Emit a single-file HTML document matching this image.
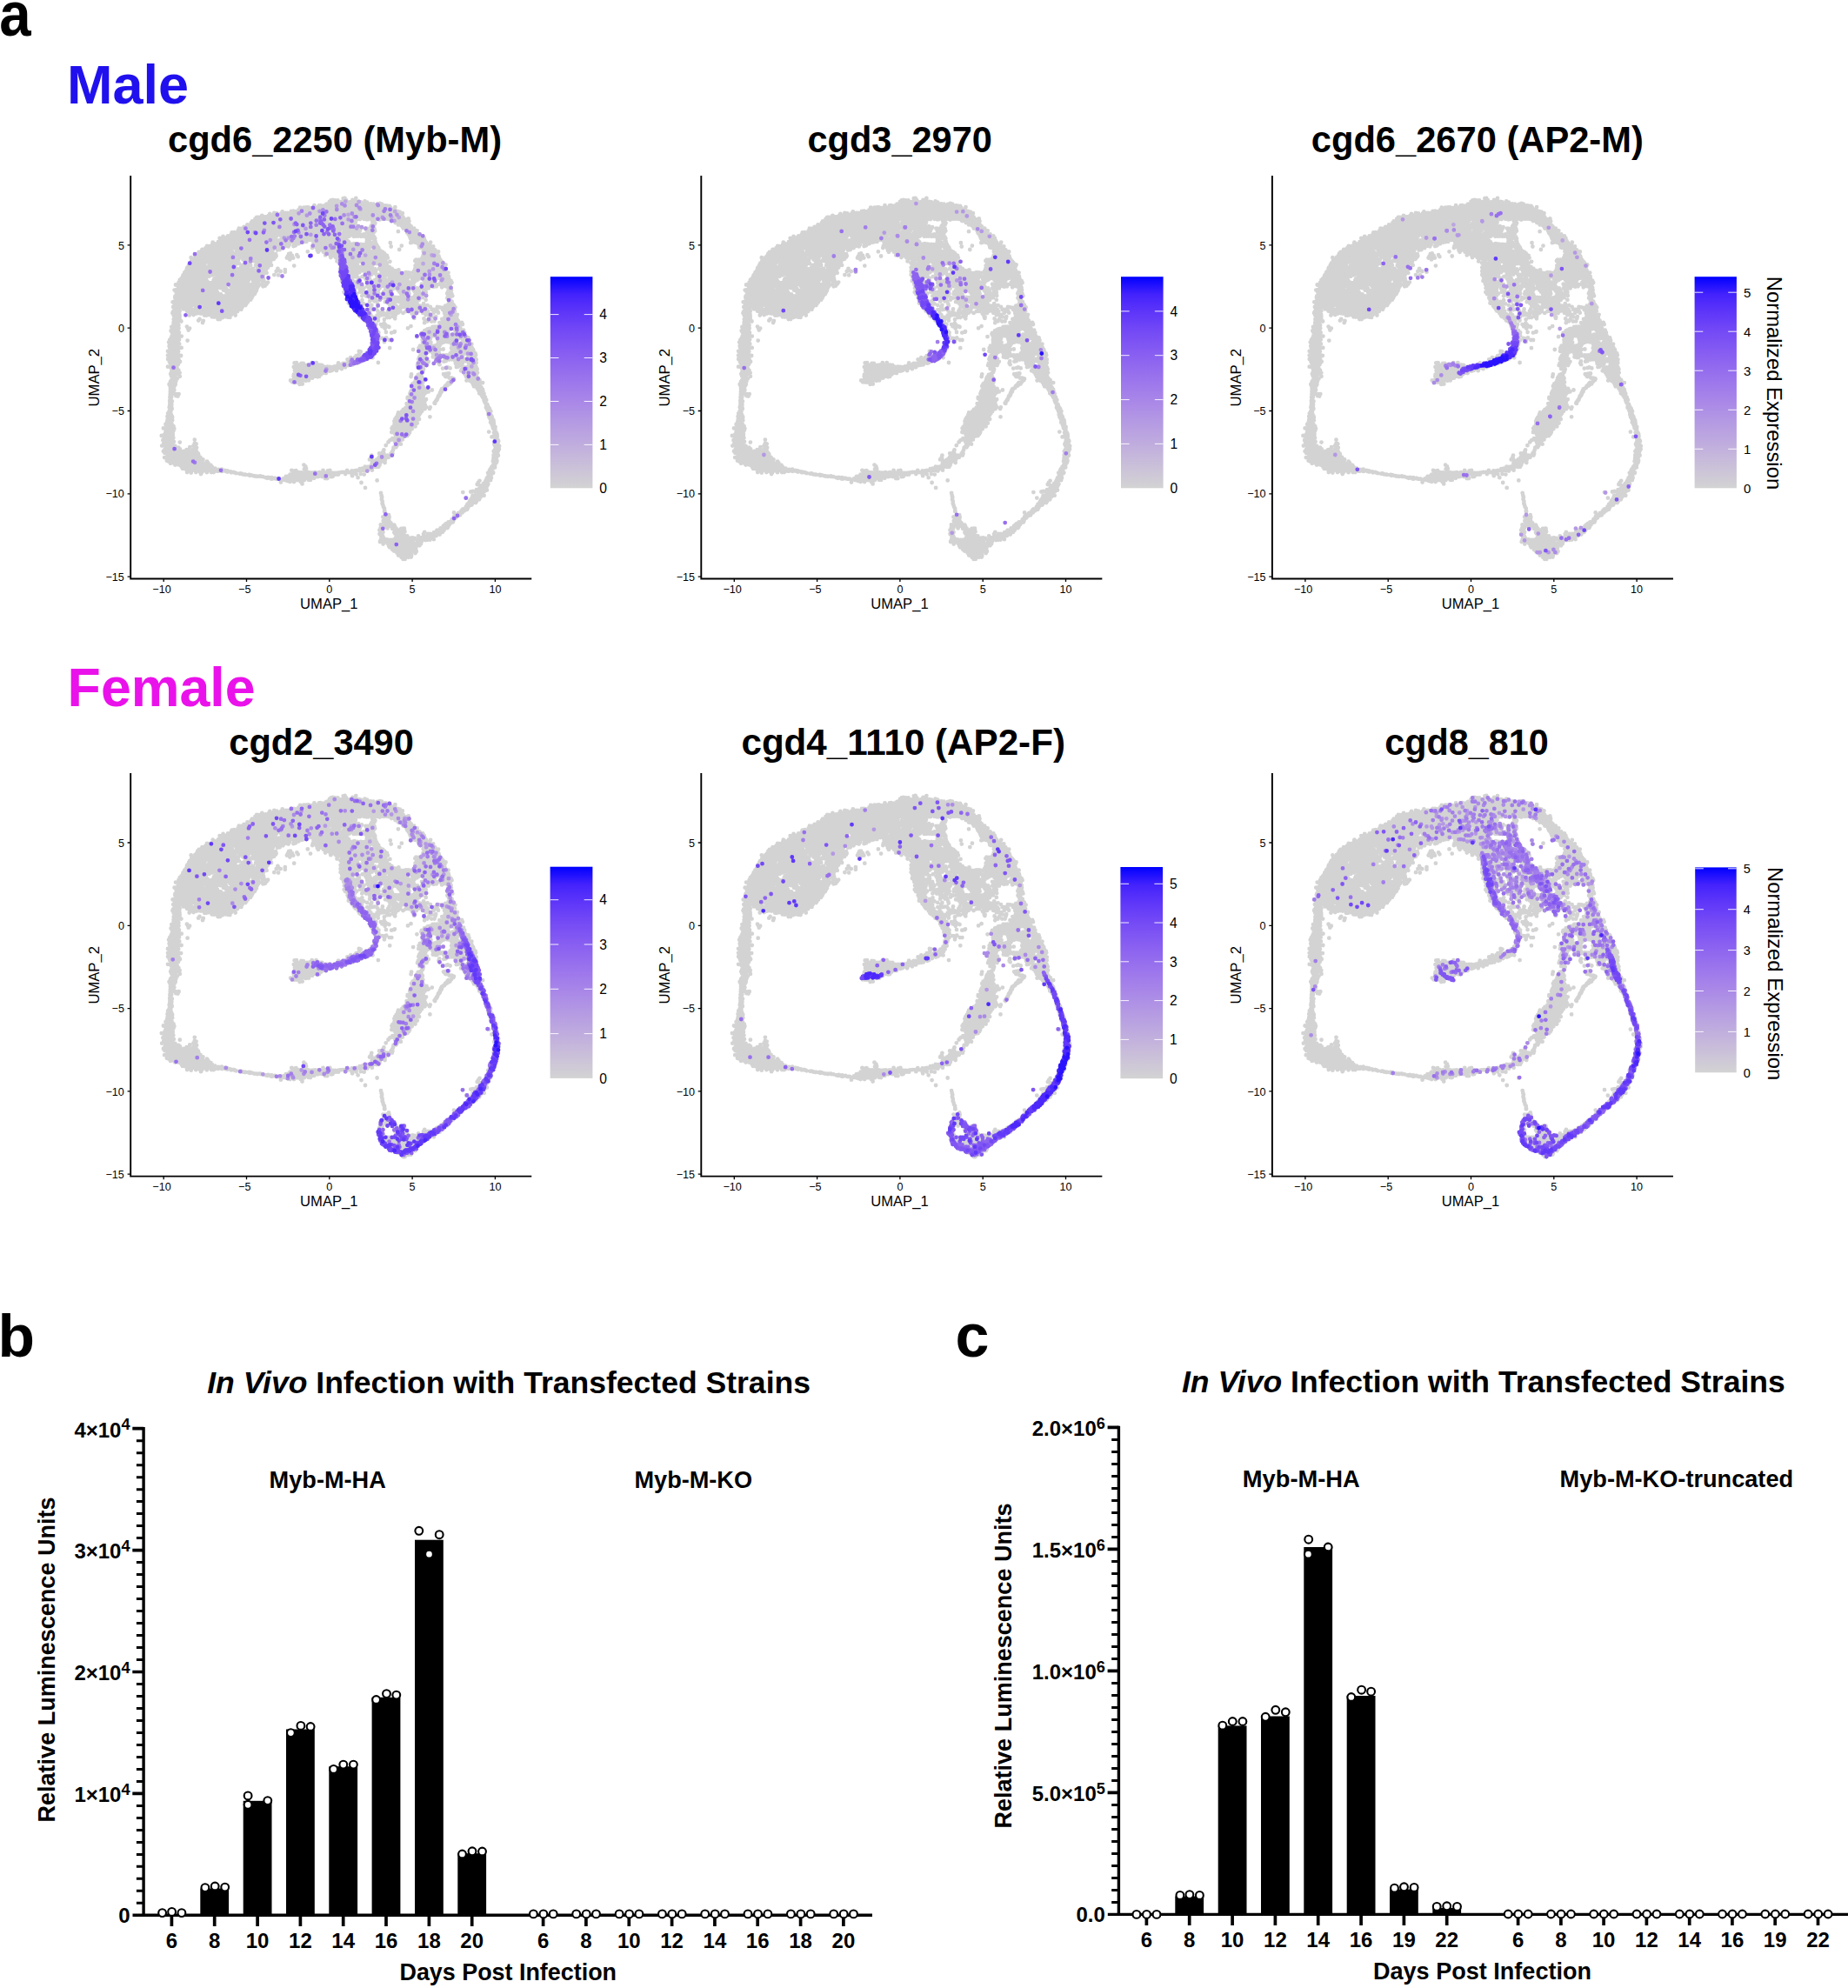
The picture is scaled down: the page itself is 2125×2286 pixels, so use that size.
<!DOCTYPE html>
<html><head><meta charset="utf-8"><title>Figure</title>
<style>html,body{margin:0;padding:0;background:#fff}body{width:2125px;height:2286px;overflow:hidden}</style>
</head><body>
<svg width="2125" height="2286" viewBox="0 0 2125 2286" font-family='"Liberation Sans", sans-serif' style="display:block">
<g transform="translate(378.8 377.2)" stroke="#d3d3d3" stroke-width="4.8" stroke-linecap="round" fill="none"><path d="M10-136.2h0m11 0h0m11 0h0m-71.5 9.5h0m11 0h0m11 0h0m33 0h0m-93.5 9.5h0m11 0h0m11 0h0m11 0h0m11 0h0m11 0h0m11 0h0m-82.5 9.6h0m11 0h0m11 0h0m33 0h0m11 0h0m-71.5 9.5h0m11 0h0m11 0h0m77 0h0m11 0h0m-137.5 9.5h0m44 0h0m99 0h0m11 0h0m11 0h0M-122-79.1h0m-5.5 9.6h0m11 0h0m231 0h0M-155-60h0m33 0h0m11 0h0m11 0h0m-60.5 9.5h0m55 0h0m-60.5 9.6h0m11 0h0m55 0h0m-49.5 9.5h0m11 0h0m33 0h0m-27.5 9.5h0m11 0h0M98 92.4h0m-5.5 9.5h0m-5.5 9.6h0m-253 38.1h0" stroke-width="18"/><path d="M2-139.7h0m6 0h0m6 0h0m6 0h0m6 0h0m6 0h0m6 0h0m6 0h0m-75 5.2h0m6 0h0m6 0h0m6 0h0m6 0h0m6 0h0m6 0h0m6 0h0m6 0h0m6 0h0m6 0h0m6 0h0m6 0h0m6 0h0m6 0h0m6 0h0m6 0h0m-117 5.2h0m12 0h0m6 0h0m6 0h0m6 0h0m6 0h0m6 0h0m6 0h0m6 0h0m6 0h0m6 0h0m6 0h0m6 0h0m6 0h0m12 0h0m6 0h0m6 0h0m6 0h0m6 0h0m6 0h0m6 0h0m-159 5.2h0m6 0h0m6 0h0m6 0h0m6 0h0m6 0h0m6 0h0m6 0h0m6 0h0m6 0h0m6 0h0m6 0h0m6 0h0m18 0h0m6 0h0m6 0h0m60 0h0m-165 5.2h0m6 0h0m6 0h0m6 0h0m6 0h0m6 0h0m6 0h0m6 0h0m6 0h0m6 0h0m6 0h0m6 0h0m6 0h0m18 0h0m6 0h0m6 0h0m6 0h0m60 0h0m-177 5.2h0m6 0h0m6 0h0m6 0h0m6 0h0m6 0h0m6 0h0m6 0h0m6 0h0m6 0h0m6 0h0m6 0h0m6 0h0m6 0h0m6 0h0m30 0h0m6 0h0m-129 5.2h0m6 0h0m6 0h0m6 0h0m6 0h0m6 0h0m6 0h0m12 0h0m6 0h0m6 0h0m6 0h0m6 0h0m6 0h0m18 0h0m12 0h0m12 0h0m-129 5.2h0m6 0h0m6 0h0m6 0h0m6 0h0m6 0h0m6 0h0m6 0h0m18 0h0m6 0h0m6 0h0m6 0h0m24 0h0m6 0h0m6 0h0m6 0h0m90 0h0m-225 5.2h0m6 0h0m6 0h0m6 0h0m6 0h0m6 0h0m6 0h0m6 0h0m6 0h0m6 0h0m6 0h0m12 0h0m42 0h0m6 0h0m6 0h0m6 0h0m6 0h0m-141 5.2h0m6 0h0m6 0h0m12 0h0m6 0h0m6 0h0m6 0h0m6 0h0m6 0h0m66 0h0m6 0h0m6 0h0m6 0h0m6 0h0m6 0h0m6 0h0m6 0h0m6 0h0m72 0h0m-255 5.2h0m6 0h0m6 0h0m6 0h0m6 0h0m18 0h0m6 0h0m6 0h0m6 0h0m6 0h0m6 0h0m72 0h0m6 0h0m6 0h0m6 0h0m6 0h0m6 0h0m6 0h0m78 0h0m-261 5.2h0m6 0h0m6 0h0m6 0h0m6 0h0m6 0h0m18 0h0m12 0h0m6 0h0m6 0h0m6 0h0m84 0h0m6 0h0m6 0h0m6 0h0m6 0h0m6 0h0m6 0h0m6 0h0m54 0h0m6 0h0m-273 5.2h0m6 0h0m18 0h0m6 0h0m6 0h0m6 0h0m36 0h0m102 0h0m18 0h0m6 0h0m60 0h0m6 0h0m6 0h0m-279 5.2h0m6 0h0m18 0h0m6 0h0m6 0h0m6 0h0m36 0h0m102 0h0m6 0h0m78 0h0m6 0h0m6 0h0m6 0h0m-285 5.2h0m6 0h0m6 0h0m12 0h0m6 0h0m6 0h0m6 0h0m6 0h0m36 0h0m96 0h0m6 0h0m6 0h0m12 0h0m60 0h0m6 0h0m6 0h0m6 0h0m6 0h0m-291 5.2h0m6 0h0m6 0h0m6 0h0m24 0h0m6 0h0m6 0h0m6 0h0m6 0h0m6 0h0m6 0h0m102 0h0m6 0h0m48 0h0m6 0h0m24 0h0m6 0h0m6 0h0m6 0h0m6 0h0m6 0h0m-297 5.2h0m6 0h0m6 0h0m6 0h0m24 0h0m6 0h0m6 0h0m6 0h0m6 0h0m120 0h0m54 0h0m6 0h0m6 0h0m30 0h0m18 0h0m-303 5.2h0m6 0h0m6 0h0m6 0h0m6 0h0m18 0h0m18 0h0m6 0h0m6 0h0m120 0h0m42 0h0m18 0h0m30 0h0m-279 5.2h0m6 0h0m6 0h0m18 0h0m30 0h0m6 0h0m6 0h0m6 0h0m114 0h0m24 0h0m18 0h0m18 0h0m-255 5.2h0m6 0h0m6 0h0m6 0h0m12 0h0m6 0h0m24 0h0m6 0h0m6 0h0m6 0h0m114 0h0m-195 5.1h0m6 0h0m6 0h0m6 0h0m6 0h0m6 0h0m6 0h0m6 0h0m18 0h0m6 0h0m6 0h0m6 0h0m180 0h0m-255 5.2h0m6 0h0m6 0h0m6 0h0m6 0h0m6 0h0m6 0h0m6 0h0m6 0h0m6 0h0m6 0h0m6 0h0m174 0h0m18 0h0m6 0h0m-261 5.2h0m18 0h0m6 0h0m6 0h0m6 0h0m6 0h0m6 0h0m6 0h0m6 0h0m138 0h0m60 0h0m6 0h0m-249 5.2h0m6 0h0m6 0h0m6 0h0m6 0h0m6 0h0m6 0h0m192 0h0m60 0h0m3 5.2h0M47-9.8h0m90 0h0m6 0h0m-9 5.2h0m6 0h0m6 0h0M131 .6h0m-15 5.2h0m6 0h0m6 0h0M113 11h0m18 0h0m12 0h0m-321 5.2h0m291 5.2h0m42 0h0m-333 5.2h0m300 0h0m24 0h0m6 0h0m-333 5.2h0m324 0h0m6 0h0M-178 37h0m342 0h0M-34 47.4h0m6 0h0m6 0h0m6 0h0m6 0h0m174 0h0m-195 5.2h0m6 0h0m6 0h0m180 0h0m-195 5.2h0m198 0h0m-60 10.4h0m-3 5.2h0m6 0h0m-9 5.2h0m6 0h0m-3 5.2h0M98 89h0m6 0h0m-9 5.1h0m6 0h0m-15 5.2h0m6 0h0m6 0h0m-15 5.2h0m6 0h0m6 0h0m-15 5.2h0m6 0h0m6 0h0m-15 5.2h0m6 0h0m6 0h0m-273 5.2h0m264 0h0m6 0h0m-270 10.4h0m0 10.4h0m6 0h0m-3 5.2h0m6 0h0m6 0h0m6 0h0m6 0h0m-21 5.2h0m6 0h0m6 0h0m6 0h0m6 0h0m-9 5.2h0m6 0h0m6 0h0m3 5.2h0m108 10.4h0m6 0h0m117 67.5h0m-3 5.2h0m6 0h0m6 0h0M77 250h0m6 0h0m6 0h0m-9 5.2h0m6 0h0m6 0h0m-3 5.2h0" stroke-width="10"/><path d="M15.9-149h0m1.8-.3h0m12.8 .1h0m-28.7 2.3h0m2.2-.5h0m2.7 .5h0m2.9 .1h0m9.7-.2h0m7.3-.3h0M.1-145.4h0m2.9 .6h0m2.9-.3h0m1.5-.4h0m3.3 .7h0m2.5-.2h0m2.6-.5h0m2.7-.1h0m2.5 .9h0m2.6-.1h0m2-.4h0m2.9 .5h0m1.9-.9h0m3.5 .4h0m2.2 .5h0m4.6-1h0m2.6 1.1h0m-46.7 2.1h0m2.4-.3h0m2.6 .2h0m3.1 0h0m2.4-.1h0m2.6-.3h0m2.1 .1h0m2.7 .1h0m2.6-.6h0m2.1 .7h0m3.2-.1h0m2.2-.1h0m2.5 .5h0m2.1-.9h0m2.6 0h0m3.1 .7h0m2.7-.5h0m1.9-.1h0m3 .1h0m2 .6h0m2.9-.3h0m3.1 .2h0m4.6 .2h0m2.8-.8h0m2.3 .6h0m-77.6 1.6h0m5.5 .1h0m1.6-.2h0m2.8 .7h0m2.3-.4h0m2.7-.5h0m48.7 .7h0m3.1-.4h0m1.5-.1h0m3.1 0h0m2.1 0h0m2.6-.2h0m3.5 .6h0m2.3-.1h0m1.8 .3h0m2.9 .2h0m-102.8 1.8h0m4.3-.1h0m3-.1h0m2.2-.2h0m2.9 .8h0m2.5-.1h0m2.3-.1h0m2.3-.3h0m3.5-.4h0m2.2 .8h0m2.2-.2h0m2.9 .1h0m2.8-.3h0m47.9 .2h0m2.2-.1h0m3.4-.1h0m2.1-.2h0m2.8 0h0m2.7 .2h0m1.9 .3h0m2.6-.5h0m2.6 .7h0m2.7-.4h0m5.3-.6h0m-111 3.2h0m2.5-.2h0m5.7 0h0m4.3-.3h0m7.5 .4h0m5.6-.2h0m4.6-.4h0m2.4 0h0m54.4 0h0m2.2 .1h0m3-.3h0m1.9 0h0m2.8 .7h0m2.6-.6h0m2.1-.1h0m3.5 .5h0m2.3 .1h0m2.7-.5h0m-128.8 2.9h0m10.2-.5h0m2.6-.2h0m2.3 .6h0m2.4-.3h0m2.8 .5h0m101.6-.6h0m2.9 .1h0m2.4-.5h0m2.3 .7h0m2.6-.3h0m2.9 .7h0m-149.4 2.2h0m5-.9h0m3 .6h0m5 0h0m2.5-.3h0m2.8-.4h0m1.7 0h0m2.7 .2h0m2.7 .5h0m81.9 .2h0m30.2-.2h0m2.3-.5h0m2.8 .7h0m2.4 0h0m2.7-.9h0m2.5 .8h0m2.3-.4h0m-161.5 2.6h0m7.6 .2h0m5-.3h0m2.3-.2h0m2.7-.5h0m2.9 .1h0m2.2 .1h0m5.5 .7h0m2.7-.3h0m83.6 .1h0m3-.1h0m43.3-.6h0m-166.9 2.8h0m1.9 .2h0m2.7-.3h0m3.3-.2h0m2.1-.1h0m2 .1h0m3 .7h0m2.4-1h0m2.5 .1h0m2.5 .1h0m2.7 .3h0m2.6 .5h0m56.3-.1h0m5.6-.1h0m22.9-.6h0m5 .3h0m2.4 .3h0m2-.2h0m2.5-.3h0m5.7 .5h0m2.3-.2h0m2.7 0h0m7.4-.2h0m2.1 .4h0m3.2-.4h0m2.8 .6h0m4.4-.8h0m5.8 .7h0m7.5-.4h0m-170 2h0m2.9 .6h0m7.2-.9h0m71.5 .2h0m2.5 .5h0m3.3-.2h0m1.7-.1h0m2.7 .1h0m20.9-.1h0m2.2 .7h0m2.9-.4h0m2.6 0h0m4.6-.3h0m3.1 .5h0m1.7-.1h0m3.3-.7h0m2.6 .8h0m2.6-.8h0m2.7 .3h0m2.1 .7h0m3-1h0m1.8 .2h0m2.7-.2h0m2.8 .4h0m2.3 .3h0m2.4 .1h0m2.7-.3h0m2.4-.5h0m7.7 .2h0m2.8 .7h0m2.5-1h0m-179.7 3.1h0m2.5 .2h0m2.6-.8h0m1.9 .2h0m79.3 .6h0m5.7-1.1h0m5 .1h0m17.4 .3h0m3.2 .3h0m20.5 0h0m2.1-.1h0m20-.2h0m3.2-.1h0m1.7 0h0m2.9 .1h0m7.4 .1h0m2.5 .5h0m2.5-.3h0M-90-121h0m2-.1h0m3 .3h0m78.8 .1h0m2.4 .4h0m5.7-.4h0m4.8-.1h0m23.3-.5h0m20.1 .8h0m2.5-.3h0m23.2-.4h0m2 .2h0m2.4 .3h0m8.3-.5h0m2.4-.2h0m-185.2 2.5h0m2.9 .3h0m2.3 .1h0m2.7-.5h0m81.4 .5h0m2.5-.1h0m3.1 .1h0m2.3 .1h0m2.9-.5h0m23.1 .8h0m19.7-.3h0m3.1-.4h0m27.5 0h0m2.2 .2h0m8.6 .4h0m2.1-.4h0m-190.3 2.3h0m2.7-.2h0m2.5 .5h0m3.3 0h0m1.6-.8h0m3.2 .2h0m79.3 0h0m2.6 .6h0m2-.3h0m3-.5h0m1.8 .1h0m3 .1h0m2.7-.3h0m1.9 .8h0m2.8-.2h0m3.2 .4h0m11.8-1.1h0m4-.1h0m3.9 1.1h0m10.5-.7h0m2.3-.1h0m33.8-.2h0m1.6 1h0m2.8-.6h0m2.4 .3h0m3.4-.6h0m-197.9 2.3h0m2.5 .3h0m2.2 .2h0m2.9-.4h0m2.9 .3h0m88.7-.4h0m2.9 .8h0m2.1-1h0m3 .3h0m1.9 .7h0m2.9-.1h0m2-.7h0m3.2 .8h0m2.5-.6h0m2.9-.1h0m1.9 .7h0m10.8-.9h0m2.5 .3h0m2.7-.3h0m5.1 .2h0m1.8 .1h0m3.3 .1h0m1.8 .5h0m3.2-.4h0m33.2-.5h0m2.5 .3h0m2.7 .2h0m2.3 .2h0m2.5-.4h0m2.4-.2h0m-202.5 2.7h0m1.9-.4h0m2.5 .1h0m85 .5h0m12.1-.2h0m2.2 .3h0m6 0h0m2.3-.6h0m3-.3h0m2.1 .2h0m5.5-.2h0m1.5 .9h0m5.7-.2h0m7.3-.6h0m3.1 .5h0m7.9 .1h0m2.3-.6h0m2.6-.1h0m1.7 .1h0m2.9 .7h0m36.3-.2h0m2.4-.2h0m1.9 .4h0m3.1-.7h0m1.9 .2h0m2.8 .3h0m-213 2.2h0m2.6-.4h0m3.2 .7h0m1.7 0h0m44.1-.2h0m2.3 .1h0m2.7-.7h0m38.5 0h0m2.5 .3h0m2.3 .3h0m2.9 0h0m1.9 .2h0m4.9-.8h0m5.5-.1h0m2.7 1h0m4.7-.9h0m5.6 .8h0m2.1-.5h0m4.7-.4h0m2.6 .1h0m3.6 .4h0m4.8-.2h0m9.7 .1h0m2.5-.2h0m2.4-.2h0m2.5 .5h0m28.3-1.2h0m10.5 1.5h0m2.4-.6h0m2.8 .7h0m2.9-.3h0m2 .1h0m-212.8 2.2h0m2.9-.4h0m2.4-.2h0m2.8 .6h0m1.6 .1h0m43.4-.3h0m2.6-.1h0m2.7 .1h0m36.2 .2h0m2.4 0h0m2.5-.5h0m2.9 .1h0m1.9 .7h0m2.5-.9h0m5.6 .1h0m2-.2h0m3.2 1h0m6.9-1h0m2.6 .5h0m3.1-.4h0m5.4 .2h0m2.6 .4h0m1.6-.4h0m2.8 .5h0m2.6-.8h0m3.2 .6h0m2 .3h0m2.5-.6h0m5.7 .4h0m2.4-.3h0m1.9 .1h0m41.2-.1h0m2.4 .2h0m2.7-.3h0m2.8 .2h0m2.2 .5h0m2.6-.8h0m-226 2.6h0m5.6-.6h0m2.6 .6h0m1.9-.1h0m3.2-.2h0m1.7 .2h0m3.5 .2h0m40.5 .1h0m2.5-.6h0m5.1 0h0m2.2 .3h0m32.9-.5h0m2.5 .1h0m2.9 .1h0m5 .8h0m11-.2h0m2.2-.4h0m10.4-.2h0m2.3 .7h0m2.7-.8h0m2.4 .5h0m2.1-.4h0m5 .3h0m2.7-.1h0m2.7-.1h0m3 .2h0m2.4-.1h0m2-.2h0m2.6 .4h0m3.1-.2h0m2.3 .6h0m2.8 0h0m40.8-.3h0m2.5 .2h0m2.4-.1h0m3.1-.4h0m2.4 0h0m2.1 .2h0m2.6-.6h0m-233.6 2.7h0m5 .4h0m2.7-.9h0m3 .2h0m2.5 .2h0m48.8 .3h0m1.7-.2h0m7.9 .1h0m2.6-.5h0m28 .5h0m2.8-.5h0m2.9 .8h0m2-.9h0m2.1 1h0m3.5-.9h0m27.8 .3h0m2.1 .2h0m23.7 .2h0m2.2-.7h0m2.9 0h0m2.2 .5h0m2.3 .2h0m40.6-.3h0m2.8 .1h0m2.1 .4h0m5.2-.4h0m3.5 .4h0m2.2-.7h0m-233.8 2.8h0m2.7-.4h0m3-.5h0m1.7 .2h0m3.1 .7h0m51-.7h0m2.2 .3h0m3.4 .3h0m2.2-.3h0m2 0h0m5.6 .1h0m2.5 .4h0m2.3-.4h0m3 .4h0m2.3-.4h0m2.1-.1h0m2.8 .2h0m2.3 .1h0m3.2 0h0m2.8-.8h0m2.1 .2h0m2.3-.2h0m2.3 .1h0m3 .8h0m3.1-.6h0m2.1 .2h0m25.1-.4h0m3 .5h0m2.4 .3h0m22.9-.7h0m2.6-.2h0m5.4 .4h0m42.6-.2h0m2.6 .2h0m2.8-.3h0m2.4 .8h0m2.7-.4h0m3.3-.1h0m1.8 .5h0m-243.9 2h0m6.2-.4h0m1.9 .3h0m66.3-.1h0m2.7 .1h0m2.6-.5h0m5.4 .6h0m2-.2h0m2.4-.5h0m2.6 0h0m2.8 .6h0m2.9-.4h0m2.3 .2h0m2.4 .4h0m2.5-.7h0m2.7-.1h0m8.1 .9h0m1.7-.2h0m2.6-.5h0m2.4-.1h0m28.9 .7h0m2.2-.3h0m2.9 0h0m20.5-.5h0m2 .9h0m2.9 0h0m5-.8h0M70-98h0m23.4 0h0m1.7-.5h0m3.8 .1h0m2.5 .1h0m2 0h0m3.2-.4h0m1.6-.5h0m3 .6h0m5.1 .1h0m-250.9 2.1h0m1.8-.7h0m2.9 .2h0m2.8 .1h0m64 .7h0m2.4-.7h0m2.5 .2h0m2.7-.2h0m1.8 .1h0m5.3 .6h0m2.6 0h0m5-.5h0m3.2 .1h0m2.3-.5h0m17.6 .1h0m2.4 .4h0m2.4-.6h0m31.5 1h0m2.5-.3h0m1.9 0h0m2.4 .2h0m3-.9h0m2.9 .6h0m1.6 .3h0m3.2-.1h0m2.9 .2h0m2.7-.3h0m1.9-.6h0m2.9 .4h0m2.2-.2h0m2.5 .3h0m2.7 .3h0m48-.8h0m2.9 .9h0m2.2-.4h0m3.3-.2h0m1.9 .5h0m2.9 .1h0m-255.8 1.8h0m2.4 .2h0m2.4 .1h0m1.9-.4h0m3.2 .1h0m20.7-.4h0m2.3 .4h0m38-.5h0m2.3 .3h0m2.9 .3h0m2.3 0h0m2.4-.3h0m2.3-.1h0m3.4 .2h0m2.7 .2h0m2-.4h0m2.3 .8h0m5.9-.3h0m2.3-.8h0m20 .3h0m2.7 .4h0m2.9-.1h0m34.9-.4h0m11.2 0h0m11.9 .6h0m2.9-.4h0m2.3 .6h0m2.9-.5h0m2.5 .4h0m15.7 .3h0m12.1-.9h0m20.1 .2h0m2.8 .3h0m3.1 0h0m1.8 .1h0m5.8 .1h0m2.8 0h0M-142.2-92h0m2.7 0h0m2.7-.1h0m1.7-.1h0m2.4 0h0m21 0h0m2.2 .4h0m2.7-.5h0m38.1 0h0m3.1-.3h0m2.5 .1h0m2.5 .4h0m2.3-.4h0m2.1-.2h0m2.8 .7h0m33.8-.2h0m4.5-.2h0m2.5 0h0m2.7 .4h0m53.5-.6h0m2.2 .8h0m5.2-.7h0m2.6 .8h0m2.8-.8h0m47-.3h0m1.2 .5h0m3.1-.4h0m2.6 .3h0m7.3 .4h0m-263.9 1.8h0m2.1 0h0m2.6 0h0m2.9 .1h0m2.5-.2h0m20.9 .6h0m1.8-.1h0m8.1-.3h0m2.8 .7h0m35.4-.1h0m2.1 0h0m5.2-.1h0m2.7-.4h0m43.2 .6h0m3.1-.2h0m2.3-.4h0m2 .5h0m3.2-.9h0m2.1 0h0m46.8 .6h0m6.9 0h0m3.3-.5h0m1.9 .6h0m22.8-.5h0m27.8 .8h0m3.1-.6h0m7.7 .1h0m2.4 0h0M-150-87.3h0m2.7-.8h0m2.6 .4h0m30.3 .4h0m2.8 0h0m4.8-.9h0m2.9 1h0m38.1-.7h0m40.8 0h0m12.1 .5h0m6-.1h0m2-.3h0m2.5 .3h0m49 .1h0m1.8-.6h0m3 .5h0m3-.6h0m2.2 .4h0m2.6-.5h0m2.2 .9h0m46.5-.8h0m1.6 .8h0m2.6-.5h0m8-.3h0m2.2 .1h0m3 .3h0m-276.8 2.1h0m2.6 .4h0m2.9 .1h0m33-.9h0m2.1 .3h0m2.7 .5h0m2.8 0h0m2.8-.5h0m10.1-.2h0m2.7 .6h0m25.1 .1h0m2.9 .1h0m15.2-.2h0m1.8-.4h0m41.6 .4h0m2-.7h0m5.9 .5h0m2.1 .2h0m3 .2h0m34.9-.8h0m2.3-.2h0m3.6 .3h0m1.6-.1h0m3.2 .7h0m2.3-.6h0m2 .6h0m3.5-.5h0m45.7-.4h0m1.9 .9h0m10.5-.5h0m2.9 .5h0m-277 2.4h0m2.3-.2h0m2.6-.3h0m35.6 .1h0m3.5 .1h0m1.7-.6h0m3.1 .1h0m2.6 .1h0m7.1 .2h0m3.4-.3h0m1.7-.1h0m26.3 .9h0m1.7-.2h0m13.4 .2h0m2 0h0m2.9-.4h0m5.5-.8h0m15.6 1.3h0m17.1-1.1h0m5.6 .6h0m1.8-.2h0m3 .6h0m2.4-.1h0m2-.3h0m51.2-.6h0m3 0h0m1.8 .4h0m41.7-.1h0m2.3-.3h0m12.5 .1h0m3 .8h0M-159.1-81h0m4.7-.3h0m3.4 0h0m1.9 .2h0m7.7 .2h0m30.5-.4h0m2.5 .6h0m5.1-.4h0m3.4-.5h0m4.9 .9h0m1.7-.3h0m5.6-.4h0m22.5 .6h0m3.3-.8h0m13 .9h0m2.3-.5h0m2.7 .6h0m2.3 0h0m5.5-1.4h0m37.6 .9h0m5.7-.1h0m1.8 .6h0m2.8-.2h0m2.3-.8h0m17.8 1h0m23.6-.3h0m7.8-.8h0m1.9 .4h0m1.8 .6h0m39.7 0h0m1.7-.6h0m13.4 .5h0m2.2-.8h0m2.1 .3h0M-158-78.7h0m2.3 .1h0m11-.2h0m2.4 0h0m2.8-.2h0m1.6-.1h0m2.7 0h0m25.5 .3h0m3.2 .1h0m2-.2h0m5.2 .2h0m2.8 .1h0m2.5 0h0m5.5 0h0m2.4-.6h0m2.2 .3h0m3.1-.5h0m2.1 .7h0m8.1 .3h0m2-.7h0m2.6 .1h0m2.2-.4h0m18.3 .6h0M9-78.6h0m4.5-.7h0m2.1 0h0m2.6 .3h0m3 .2h0m2.1 0h0m7.7-.5h0m2.6 .2h0m2.5 .7h0m2.8-.2h0m2.6-.7h0m11.9 .7h0m3.4 .1h0m2.3-.8h0m2.8-.1h0m2.2 .3h0m35.5 .5h0m3 .1h0m2.7-.3h0m1.9 .3h0m15.7-.9h0m2.1 1h0m2.5-.1h0m-286.1 1.4h0m2.2-.1h0m12.9 .1h0m2.8 .7h0m2.1-.1h0m2.1-.4h0m2.5 0h0m26.1 .4h0m2.5-.1h0m10.2 .4h0m2.3-.9h0m2.2 .2h0m3.4-.2h0m2.2 .5h0m3.1 0h0m2.1 0h0m7.4-.5h0m2.2 .1h0m2.7 .7h0m76.3-.5h0m6 .1h0m2-.1h0m5.9-.2h0m6.9 .7h0m2.5-.1h0m3.3-.3h0m1.8 .1h0m2.7 0h0M53-77h0m2.5 0h0m2.1-.2h0m3.1 .7h0m1.7-.4h0m2.4 .5h0m4.8 0h0m28.9-.8h0m2.8 1h0m1.8-.8h0m3.3-.2h0m19.8 1h0m2.9-.4h0m-289.7 2.1h0m2.7 .2h0m10.1-.1h0m3.2 .3h0m2-.5h0m4.9 .4h0m3-.2h0m25.8-.5h0m2.2 .8h0m2.8-.1h0m7.1-.8h0m3.2 .2h0m2.1 .1h0m7.8-.3h0m2.5 .8h0m5.3 .2h0m2.8 .1h0m2.3-.9h0m2.7-.1h0m80.8 .1h0m.9 .7h0m2-.5h0m2 .1h0m3.2-.1h0m10.6-.1h0m7.2 .6h0m2.5 0h0m2.4 .1h0m3.2 0h0m2.2-.9h0m2.1 .4h0m2.8 .4h0m3-.4h0m1.7 .4h0m3.3-.2h0m2 .1h0m2.4-.2h0m34 .1h0m2.2-.2h0m2.1 .5h0m20.5-.9h0m2.6 .9h0m3-.8h0m-292.3 2.5h0m2.2 .5h0m13-.5h0m2.7 .3h0m5.5-.1h0m2 .3h0m25.9-.7h0m2.3 .3h0m8.1-.2h0m2.4 .5h0m2.9-.5h0m1.6 .2h0m2.4 0h0m6 .1h0m2.2-.4h0m7.4 .6h0m2.3-.9h0m3.3 .3h0m2.7 .2h0m26.2 .7h0m54.7-.5h0m1.9-.7h0m.6 .5h0m2.5 .2h0m13.1-.7h0m8 .3h0m2.6 .4h0m2.1 .1h0m2.4 .1h0m2.6-.8h0m8.1 .1h0m2.4 .3h0m2.9 .1h0m1.6-.6h0m33.9 1.1h0m2.5-.4h0m2.4-.3h0m25.2-.2h0m2.7 .2h0m2.1-.4h0m-297.1 3.2h0m3.1 0h0m12.6-.6h0m2.6-.2h0m2.6 .7h0m2.2 0h0m3.1-.3h0m27.3 .2h0m8.2 .1h0m2.4-.8h0m2.5-.1h0m2.9 1h0m10.5-.9h0m2.1 .5h0m5.6 .2h0m2-.4h0m3 .5h0m83.5 .2h0m2.7-.2h0m1.4-1.5h0m1.8 1.6h0m14.5-.1h0m2.9-.5h0m2.5 .1h0m2.6 0h0m2.1-.5h0m3.1 .4h0m2.6-.1h0m10.2 .4h0m2.1-.5h0m2.5 0h0m2.3-.2h0m2.8 .2h0m30.5 .7h0m3-.8h0m27.4 .5h0m2.8-.4h0m-296.5 2h0m1.9 .6h0m17.9 0h0m2.7-.1h0m2.2 .3h0m29.1-.1h0m2.1-.7h0m2.7 .6h0m5.4-.6h0m2.1 .1h0m2.1 .6h0m2.5-.1h0m3.5 .3h0m1.9-.8h0m5.3 .6h0m2.3-.3h0m7.6 .4h0m13.2-.8h0m8.4 1.3h0m65.1-.6h0m1.2-.7h0m1.1 .7h0m18.1-.1h0m2.8-.1h0m2.5 .5h0m2.3-.5h0m5.8-.3h0m2.6 .7h0m2.1-.3h0m4.7-.4h0m2.9 .8h0m2.7-.1h0m2.4-.8h0m2.4 .1h0m2.8-.2h0m1.3 .2h0m26.6 .2h0m33.5 .4h0m-297 2.4h0m1.9 0h0m18.1-.4h0m2.9 .1h0m1.8 0h0m34.1 0h0m2.2-.3h0m8.1 0h0m1.5 .4h0m3.1-.3h0m2.3 .1h0m2.6 .2h0m2.3-.5h0m3 .1h0m3-.4h0m4.2 .6h0m12.9 .4h0m2.6-.9h0m2.3 .9h0m69 0h0m.8-1.6h0m2.1 1.3h0m12.5 .2h0m2.3 .1h0m3.3-.4h0m1.7 .1h0m3.1-.4h0m2.3-.1h0m4.9 .7h0m2.6-.6h0m2.8-.2h0m2.2 .2h0m6.1 .1h0m1.6 .5h0m3.1-.4h0m2.4 .6h0m2.9-.2h0m2.2-.6h0m2.9-.1h0m1.9 .5h0m3.1-1.4h0m17.6 1.5h0m2.1 .2h0m31.4-.3h0m2.3-.7h0m-299.5 2.5h0m2.3 .3h0m20.6-.2h0m2 .2h0m2.4 0h0m3 .4h0m3-.5h0m1.9 0h0m38.2 .1h0m3.1-.4h0m1.9 0h0m5.9-.1h0m2.4 .2h0m2.6 .2h0m1.8 .5h0m3.2-.4h0m21.2-1.1h0m65.2 1.3h0m12.5 .1h0m2.5-.5h0m2.8 .5h0m2.4-.9h0m7.5 .5h0m3.3 .2h0m2.6 .3h0m2.1-.1h0m2.9-.3h0m7.5-.3h0m2.7 .6h0m2.4-.8h0m2.7 .1h0m10.5 .3h0m2.6-.1h0m2.1 .5h0m2.8-.3h0m2.1-.6h0m2.5 .2h0m2.8 .4h0m2.4-.1h0M98-63h0m35.9-1h0m2.8 .4h0m-304.9 2.7h0m2.8-.6h0m22.7 .4h0m2.8 .2h0m2.1-.3h0m2.5 .3h0m2.5-.7h0m3.3 .6h0m47.8-.6h0m3.1 .7h0m2.7-.4h0m12.4 .2h0m4.8 .3h0m71.5-.4h0m.7-.5h0m.3-.7h0m12 1.1h0m2.6 .1h0m2.9-.1h0m9.8 0h0m2.7-.2h0m2.2-.2h0m2.7 .1h0m5.5 .6h0m2.1-.4h0m2.5-.2h0m2.4-.1h0m3.1 .6h0m1.9 .1h0m2.5-.2h0m11 0h0m2 0h0m2.6-.1h0m2.9-.3h0m2.5 .3h0m2.7 .3h0m5.3-.4h0m35.6 .1h0m1.7 0h0m-303.8 2.6h0m2.5-.3h0m22.4 0h0m3.1-.5h0m2.4 .1h0m9.6 .7h0m35.6-.2h0m2.6-.5h0m2.7 0h0m2.6 .8h0m3.3-.9h0m2.1 0h0m2.7 .4h0m91.6 .2h0m2.3-.5h0m8.2 .4h0m2 .4h0M30-59h0m1.8 .2h0m6-.2h0m6.8 0h0m10.8-.5h0m2.2 .1h0m4.9 .8h0m7.6-.3h0m10.6-.5h0m2.5 .7h0m5 .1h0m2.2-.1h0m3-.3h0m2.8-.1h0m2.8 .6h0m2.1-.2h0m2.5-.2h0m2.6 .1h0m5-.2h0m7.4 .5h0m3.2-.8h0m1.8 .7h0m3.3-.5h0m1.7 .3h0m5.9-.3h0m2.6-.1h0m-307.4 2.3h0m2-.3h0m26.3 .7h0m9.7-.3h0m2.4-.5h0m35.5 .5h0m2.7 .1h0m2.6-.5h0m3.1 .6h0m2.5-.1h0m2.7 .4h0m1.8-.2h0m3.1-.6h0m90.4-.9h0m1.4 .6h0m.2 .9h0m1.7 0h0m5.3 .1h0m2.8-.2h0m7.9-.6h0m7.8 .5h0m1.9-.4h0m2.6-.2h0m8.3 .8h0m1.7-.1h0m3.2 .3h0m1.9 0h0m2.6-.7h0m5.1 0h0m2.5 .5h0m18.3 .1h0m5.5-.3h0m1.9-.1h0m2.5 .3h0m2.9 .1h0m1.9-.9h0m2.7 .4h0m2.9 .3h0m2.9-.6h0m7.5 .7h0m2.6-.3h0m1.8-.5h0m5.2 .9h0m7.7 0h0M-172-55.2h0m2.5 .8h0m25.3-.2h0m3.1 .3h0m7.9-.6h0m1.7 .7h0m3.1-.3h0m12.5-.1h0m20.4 0h0m2.7-.5h0m5.1 1h0m2.5-.8h0m3 .1h0m2-.1h0m5 .8h0m89.2-.2h0m1.3-.3h0m.9 .6h0m.9-.2h0m.5-1.7h0m7.2 1.1h0m1.9 .3h0m6 .3h0m1.5-.1h0m8.5-.8h0m2.6 .8h0m2.5 0h0m4.5-.8h0m5.8 .6h0m1.7-.4h0m3.2-.3h0m2.5 .4h0m2.9 .4h0m2-.7h0m2.9 .6h0m4.3-.2h0m10.4 .2h0m8 0h0m2.7 0h0m2-.5h0m8.1 0h0m2.1 .2h0m2.7 .4h0m5.8-.5h0m1.9 .6h0m7.7-.8h0m3.1 .6h0m5 .4h0m2.6-.1h0m-312.9 1.6h0m2.6-.3h0m27.9 .6h0m2.9-.5h0m2.6 .9h0m1.9-.2h0m2.6-.7h0m2.6 .2h0m8 .5h0m2.9 0h0m2.5-.1h0m1.9 .2h0m20.6-.9h0m8.4 .9h0m2.1 .1h0m1.9 0h0m5.1-1h0m3.4 .9h0m2.6-.6h0m86.7 0h0m1.8 .5h0m1.1 .2h0m1.3-.4h0m.4-.9h0m5.2 .9h0m2.9-.4h0m2.2 0h0m2.1-.1h0m10.3 .8h0m3.5 .1h0m2-.4h0m2.9 0h0m2.7-.6h0m4.5 .2h0m2.8 0h0m7.9 .3h0m2.6-.2h0m1.8-.2h0m2.9 .1h0m2 .1h0m7.9 .3h0m2.3 0h0m2.5-.6h0m3.5 .3h0m2.4-.2h0m12.7 .9h0m5.4-.8h0m1.6-.1h0m2.5 0h0m8.1 .5h0m2-.3h0m2.9-.1h0m2.3 .1h0m2.6 0h0m3.1 .5h0m-317.5 2.4h0m2.1 0h0m2.9-.3h0m30.7 .3h0m2.9-.7h0m2.1 .7h0m2.4-.9h0m3 .1h0m1.8 .8h0m5.8-.4h0m2.7 .2h0m1.9-.4h0m2.3 .2h0m3.3 0h0m20.3-.2h0m2.6 .2h0m2.2 .3h0m2.9-.5h0m2.6 0h0m4.6 .3h0m5.4-.5h0m88.7 .1h0m2.9-.2h0m7.9 .6h0m5.2-.5h0m2.6-.1h0m2.2 .3h0m8.1 0h0m2.6 .1h0m2.4-.4h0m1.9 .4h0m8-.2h0m8.2-.2h0m1.5 .6h0m5.8-.7h0m2.1 .8h0m2.8-.1h0m5.1-.2h0m2.3-.1h0m3.1-.1h0m1.9-.3h0m3.3 .3h0m9.9-.1h0m10.3 .8h0m2.1-.3h0m2.3-.7h0m2.8 .6h0m3.2-.2h0m2.4 0h0m1.9 .1h0m5.3-.4h0m2.8 0h0m-312.6 2.1h0m2.3 .5h0m21.1-.2h0m2 .4h0m3.3 0h0m2.4 .1h0m1.9 .2h0m7.7-.2h0m2.8-.3h0m2.3 .5h0m2.6-.4h0m2.8 .4h0m2.3-.9h0m5.7 0h0m2.7-.1h0m20.3 .4h0m4.2-.1h0m3.4 .1h0m1.9-.3h0m5.3 .5h0m2.2-.6h0m92 .7h0m2-1.3h0m1 .7h0m.9-.5h0m.5-.2h0m6.4 .9h0m2 .2h0m4.8 .3h0m2.7 .2h0m5.2-.4h0m2.9 0h0m2.1-.1h0m5.5 .2h0m2.6-.7h0m2.2 .2h0m2.9 .1h0m7.8 .1h0m1.9-.4h0m5.4 .2h0m3.2 .3h0m2-.2h0m7.9 .5h0m2.5-.5h0m2.6-.2h0m2.6 .8h0m10.1-.7h0m2.3 0h0m5.4-.1h0m2.7 .1h0m1.8 .8h0m3.2-.4h0m10.3-.2h0m1.9 .3h0m3.3-.7h0M-173.9-46h0m2.5 .1h0m20.5 .1h0m2.5-.5h0m2.2 .2h0m4.9 .1h0m3.1 .6h0m4.8-.3h0m2.4 0h0m2.1-.6h0m3.5 .2h0m2.2 .1h0m2.6 .4h0m2 .1h0m6 .2h0m2.3-.8h0m25.4 .8h0m1.9-1h0M17.1-46h0m2.1 .5h0m.3-.2h0m2.5 0h0m7.6 .4h0m5.2-.2h0m2.7-.8h0m2 .5h0m6-.1h0m1.8-.1h0m5.2 .6h0m2.9-.5h0m2.4 .1h0m7.3 .2h0m8.2 .1h0m2-.3h0m3.2 0h0m10.2-.3h0m2.3 .3h0m2.1 .5h0m3.3-.6h0m2 .2h0m2.9-.1h0m4.9 .1h0m2.2-.2h0m2.5 .2h0m3.2-.1h0m15.2-1.1h0m7.5 1.2h0m.1-1.6h0m2.8 1h0m-317.9 2.7h0m2.3-.4h0m2.9 .7h0m25.8 0h0m1.6 0h0m3.4 .3h0m2.6-.2h0m7.2-.8h0m2.3 .1h0m8.3 .4h0m1.8 .2h0m2.6-.2h0m3.1 .3h0m2.9-.3h0m24.7-.4h0m2.8 .8h0M18.6-43h0m2.5-1h0m1.3 .4h0m3.6 .2h0m12.2 0h0m8.5-.7h0m1.7 .5h0m3.3-.2h0m4.7 .2h0m8.1-.4h0m2.3 .9h0m2.1-.3h0m2.6-.1h0m7.4-.1h0m3.5-.3h0m2.5-.2h0m1.7 .2h0m3.4 .1h0m6.8 .3h0m2.7 .3h0m2.7-.2h0m8.3 0h0m27.6-.7h0m2 .7h0m-316.5 1.5h0m1.6 0h0m28.4 1h0m3.1-.5h0m12.6 .2h0m1.8-.1h0m10.5 .2h0m3.2-.8h0m2.1 1h0m24.9-.3h0m3.1-.1h0m102 0h0m2.9 .4h0m.3-1.2h0m9.6 1.1h0m5.6-.5h0m4.7 .6h0m2.5 .1h0m2-.9h0m3.4-.2h0m2.5 .2h0m2.2 .4h0m9.7-.3h0m2.6 .3h0m3.3 0h0m2.3-.4h0m10 0h0m2.7 .7h0m2.2-.8h0m2.7-.1h0m3.1 .8h0m6.9-.6h0m3.3 .4h0m2-.2h0m4.8-.4h0m2.7 .9h0m25.5-.8h0m.5-.8h0m.4 .6h0m1.7 .8h0m-314.9 1.9h0m3 .6h0m25.2-.4h0m2.2 .4h0m2.7-.8h0m13.5 .3h0m2.2 .4h0m2.2 0h0m7.9 .1h0m3-.4h0m2.1-.3h0m23.2 .8h0m2.7-.6h0m104.4 .1h0m.6-.5h0m1.2 .4h0m3.6 .3h0m1.5-.3h0m.4-.9h0m5.6 .6h0m7.8 .7h0m2.1-.2h0m2.1-.5h0m3 .9h0m2.1-.6h0m3.4-.4h0m1.7 .7h0m3.2-.7h0m5.1 .3h0m1.8-.2h0m3.4 .7h0m2.2-.6h0m2.5 .5h0m10.7-.3h0m2.1 0h0m2.6-.5h0m2 .2h0m2.6 .1h0m7.7-.3h0m3.4 .9h0m2.1 .2h0m2.9-.9h0m2.3 .7h0m25.3-.9h0m5.2 .5h0m-317.9 2.6h0m3.4-.7h0m28 .1h0m19.8 .8h0m2.4-.7h0m3 .2h0m2.9 .1h0m2.2-.3h0m25.7 0h0m1.7-.1h0m109.7-.1h0m1.5 1h0m1.2-1h0m2.5-.8h0m.4 .8h0m2.4-.2h0m8 .6h0m4.8 .2h0m2.5 0h0m8.1 0h0m2.5-.6h0m10.5 .1h0m1.8 .6h0m2.9-.8h0m2 1h0m15.3-.2h0m2.7 0h0m7.6-.4h0m3.3 0h0m1.6 .6h0m3-1h0m5.2 .2h0m25.2 .3h0m2.8-1.5h0m.4 1.6h0m1.8-.1h0m-319.1 1.7h0m2.3 .3h0m48.5-.1h0m2.6 0h0m1.7 .7h0m2.8 0h0m2.8-.7h0m2.4 .7h0m22.9-1h0m2.3 .6h0m110.1 0h0m2.4-.3h0m3 .6h0m0-.9h0m.4-.8h0m1.6 1.1h0m18.3 .6h0m2.7-.4h0m2.4 .6h0m1.9-.3h0m5-.6h0m2.6 .5h0m3.1-.1h0m2.4-.5h0m2.1 .3h0m3.4-.2h0m2.4 0h0m1.8-.1h0m3.1 .2h0m2.2-.3h0m8.4 .1h0m1.8 .6h0m3.2-.2h0m1.7-.2h0m3.5-.2h0m2.5 .8h0m2.5-.4h0m1.9-.2h0m28.5 .5h0m2.4-1.2h0m.4 .7h0m-315 2.8h0m2.5-.4h0m2.2 .3h0m45.7-.4h0m2.8 .6h0m4.7-.8h0m2.5 .2h0m18.3-.3h0m2.7 .9h0m2-.9h0m2.5 .5h0m112.8 .4h0m.8-.8h0m1.7 .7h0m2.6-.5h0m2.3 .4h0m8.1 .3h0m10.2-.9h0m2 .3h0m8.4-.1h0m9.5-.2h0m2.2 .4h0m3.3-.2h0m2.7 .2h0m2.3-.2h0m2.6 .1h0m2.2-.2h0m2.4 .4h0m5-.5h0M93-33h0m3 0h0m2.1-.1h0m3.4 .3h0m1.6 .5h0m7.8-.1h0m26.3 .3h0m1.6 0h0m-319 2.2h0m2.2-.8h0m2.4 0h0m2.7 .4h0m76.1-.5h0m2.9 .9h0m117.4-.9h0m.2 .9h0m.1-1h0m1 .8h0m1.2-.1h0m2.3-.2h0m5.5 .1h0m2 .4h0m10.5-.7h0m5.5-.2h0m2.5 .2h0m9.9 .6h0m2.2 0h0m7.9-.3h0m2-.4h0m3.3 .4h0m2.2 .1h0m2.7-.3h0m2 .3h0m10.8 .4h0m2.6-.7h0m38.6 .7h0m1.9-.5h0m.3-.3h0m-317.2 2.1h0m2.4 0h0m1.8 .2h0m10.8 .4h0m2.9 .1h0m58.4-.2h0m2.1-.2h0m2.7 .1h0M22-28.6h0m2.4 .7h0m.4-.7h0m2.2 .1h0m.5-.7h0m2.3 1.5h0m2.2-.1h0m7.6 0h0m15.8-.1h0m12.2-.8h0m2.8 .2h0m2.1 0h0m2.5 .9h0m8.1-.1h0m3.1-.2h0m1.9-.3h0m10.4 .5h0m2.1-.9h0m7.7 .6h0m28.6 .3h0m2.7-.3h0m2 .2h0m-319.8 2h0m2.6-.1h0m2.5 .3h0m9.7-.8h0m3.5 .2h0m1.8 .3h0m3.3-.5h0m53.2 0h0m2.7 0h0m2.4 .2h0m122.2 .8h0m.4-.4h0m1.6-1.6h0m1.2 1.2h0m.8 0h0m6.1 .2h0m7.6-.4h0m5.1 .1h0m7.4 .5h0m13.8 .2h0m4.8-.5h0m2.4 .7h0m5.4-.6h0m1.7 .4h0m2.5 .1h0m2.9 0h0m13.4-.3h0m1.9 .4h0m3-.1h0m2.6 0h0m2.4-.5h0m20.7 .5h0m2.3-.1h0m1.8-.2h0m1.6-1.3h0m1.6 1.1h0m1.1-.4h0m1.1 .1h0m-322.5 2.1h0m.4 .1h0m2.8 .7h0m1.5 .1h0m3-.9h0m2.9 .2h0m4.8 .7h0m3-.1h0m1.9-.8h0m5.6 .2h0m50.9 .3h0m2.6-.5h0m126.9-1h0m.3 1.5h0m2.5-.4h0m5.1 .3h0m2.7 .5h0m10-.9h0m25.8 .8h0m2-.8h0m2.8 .4h0m2.8 .4h0m2.3-.7h0m2.9-.1h0m2.2 .3h0m10.6 .6h0m2.3-.5h0m3 .5h0m2.6-.9h0m2.3 .2h0m7.2-.2h0m8 0h0m2.8 .4h0m2.6 .5h0m2.2 0h0m2.7-.7h0m2.6 .5h0m2.6-.5h0m1.5-.6h0m.6 1.4h0m3-.5h0m-322.9 2.6h0m1.6-.7h0m1 0h0m2.6 .8h0m5-.9h0m2.2 0h0m2.6 .9h0m3.3-.1h0m1.8-.4h0m2.8 .5h0m43.9-.6h0m2 .1h0m2.2 0h0m2.6 .4h0m3.2-.3h0m130 0h0m.5-1.3h0m2 .7h0m1.5 .4h0m1.3-.1h0m2.5-.1h0m7.1 .7h0m2.3 .1h0m3-.1h0m2.3-.5h0m2.7-.1h0m7.3-.1h0m7.6 .1h0m5.5 .8h0m4.9-.2h0m2.5-.8h0m8.5 .9h0m1.5-.5h0m3 .3h0m3.1-.3h0m2.5-.3h0m1.8 .4h0m3.3-.1h0m2.1-.4h0m2.6 0h0m2.1 .9h0m5.6-.2h0m2.1 0h0m3.4-.6h0m7 .7h0m2.7-.7h0m2.1-.2h0m5.1-.4h0m.5 1.3h0m2.2-.9h0m-322.5 3.3h0m.3-.3h0m2.5 .1h0m2.7 .2h0m2-.8h0m8.4 0h0m2.2 .6h0m2.5-.6h0m2.1 .4h0m3.1 .2h0m43.8-.7h0m2.2 .8h0m2.2-.4h0m135.5-.5h0m.1-.3h0m2.6 .4h0m1.6-.6h0m.7 1.4h0m1.8-1.6h0m.9 .8h0m1.2 .2h0m16.8-.2h0m5.1 .8h0m6.9-.7h0m5.4 .2h0m8.3 .2h0m6.7 0h0m3-.2h0m5.4-.1h0m1.9 .3h0m2.4-.1h0m2.5-.4h0m3-.1h0m2.9 .8h0m2.2-.7h0m2.1 .6h0m7.8-.1h0m3.3 0h0m7.8-.1h0m1.8 .3h0m5.2-.8h0m1.6 0h0m.9 1h0m.1-1.1h0m2.4 .3h0m-324.6 2.3h0m2.1 .1h0m2.5 .2h0m2.6-1h0m.6 1.3h0m12.3-.3h0m2 0h0m2.5-.4h0m2.8 .7h0m3.1-.6h0m2.3 .5h0m2.1-.4h0m2.7 .3h0m2.7-.6h0m2.8 .8h0m10-.6h0m10.6-.3h0m2.5-.1h0m2.3 .5h0m2.9 .1h0m141.9 0h0m.1 .1h0m1.5-.3h0m1.8 .1h0m1.9 .3h0m.3 .2h0m7.2-.5h0m11-.4h0m5 0h0m1.9 .9h0m3.1 0h0m2.8-.9h0m4.3-.1h0m2.8 .8h0m2.3-.7h0m5.8 .2h0m10.1 .6h0m5.3-.5h0m7.3-.2h0m5.2 .6h0m7.3-.6h0m5.3-.1h0m7.2 .5h0m3.2-.3h0m7.1-.2h0m-321.9 2.9h0m2 .1h0m.6-.2h0m2.5-.2h0m1.8 .1h0m11.2 .1h0m4.9-.5h0m12.6 .7h0m1.9 0h0m2.7-.6h0m2.9 0h0m3 .8h0m2.5-.4h0m2.6 0h0m2.3 .3h0m2.8-.7h0m2-.3h0m2.6 1h0m3-.2h0m2.4-.7h0m4.8 .6h0m142.5 .3h0m1.7-.7h0m1.4 0h0m2.3 .7h0m.9-1.4h0m1.9 .9h0m4.9-.1h0m7.3 .4h0m2.7-.8h0m2.4 .5h0m2.5-.2h0m2.6 .4h0m2.6-.7h0m5.2 .1h0m3.1 .8h0m19.2-1.9h0m.5 .6h0m.8 .5h0m14.4 .1h0m2.9 .3h0m2.5-.3h0m18.1 .8h0m2.5-.1h0m7.5-.5h0m2.8-.4h0m-325.3 2.2h0m2.1 .9h0m3.4-.1h0m.5-.2h0m37.1-.3h0m2.5 .3h0m3.1-.1h0m2.9 .6h0m2.5-.1h0m1.5 0h0m3.3-.8h0m2.6 .5h0m2.3 .2h0m150-.9h0m2.6 .8h0m2.9-.8h0m0 .4h0m.4-1.3h0m2.7 1.7h0m4.5-.2h0m2.1 .3h0m5.7-.5h0m10.2 .7h0m2.7-.1h0m4.4-.8h0m23.1 .4h0m.8 0h0m17.8-.5h0m2.4 .3h0m4.5-.3h0m10.5 .1h0m2.8 .1h0m8-.2h0m2.5 .3h0m-325.3 2.7h0m1.1-1.8h0m.6 1.2h0m2.9 .1h0m2.2 .1h0m23 .2h0m21.1 .1h0m2.4 0h0m164.3-1.2h0m1.3 .9h0m1.3-.4h0m1.4 0h0m2.3 .7h0m.1-1.1h0m5.3 .3h0m2.1 .1h0m10.8 1h0m12.3-1h0m22.1-.4h0m11.2 .5h0m5.5 .7h0m7.6-.8h0m7.7 .7h0m4.5 .2h0m12.7-.4h0m-325.3 2.6h0m.1-.8h0m3.3 .6h0m2.6 .2h0m2.2 .1h0m19.8-.9h0m5.6 .3h0m185.6-.3h0m.4 0h0m2.2 .9h0m1.6-.6h0m6 .4h0m5.2-.8h0m54.1-.1h0m2.5 1h0m4.8 .1h0m3.3-.1h0m10.1-.4h0m14.9 .1h0m2.4-.1h0m-327.3 1.6h0m2 .5h0m2.6 0h0m28.8 0h0m189.6-.8h0m.8 .4h0m.8 .1h0m1.6 .2h0m.1 .2h0m3.4-.5h0m12.4 .9h0m46.4-.4h0m17.3-.1h0m2.3 .4h0m18.6-.7h0m1.5 .6h0m3.2-.6h0m-331.4 1.5h0m1.3 1h0m.1 .1h0m2.6-.5h0m1.8 1h0m219.9-.5h0m.1-1.2h0m.1 1.2h0m1.7 0h0m3.1 .4h0m2-.9h0m5.6 .2h0m5.4 .6h0m63.4-.6h0m2.7 .2h0m19.7 0h0m2.8-.3h0m-334.6 3h0m2.4-.6h0m1.8-.1h0m.8 .5h0m12.6-.2h0m210.1-.5h0m1 .4h0M50.1-3h0m.1 1.3h0m2.3 .6h0m8.1-.8h0m1.9 .1h0m5.3 .1h0m.8 .5h0m25.1-.9h0m25 .8h0m2.2-.2h0m2.8-.1h0m2.8 .4h0m10-.2h0m3.2-.5h0m2.6 .2h0m1.7-.1h0m3.3 .4h0m1.8-.5h0M-180.7 .3h0m2.3 .1h0m3.2 .6h0m1.9-.7h0m10.6 0h0m2 .1h0M47.6 .3h0m1.5-.1h0m1.1-.2h0m.4 .7h0m1 .2h0m12.2-.4h0m26.4-.4h0m22.9 1h0m2-.4h0m2.2 .3h0m2.9-.3h0m2.2 .1h0m5 0h0m1.8-1.9h0m6 1.5h0m2.5 .6h0m2.4-.1h0m3.4-.3h0m2.6-.2h0m2.5-.1h0m1.9-.2h0m-332.7 3h0m2.6-.2h0m3 0h0m2.3-.5h0m12.2 0h0M48.8 3h0m1-.2h0m4.9 .3h0m54.5 .1h0m2.2-.9h0m1.5-.5h0m.9 1.3h0m5.6 0h0m.2-.8h0m1.8 .7h0m.2 .1h0m2.8-.1h0m2.1 0h0m.4-.3h0m7.7-.1h0m2 .6h0m7.4-.9h0m2.6 .1h0m3.1 .8h0m2.8-.5h0m1.7-.3h0m-335.4 2.4h0m3.5 .5h0m2.6 .1h0m2.2-.2h0m223.5-.1h0m.5-.4h0m5.5 .6h0m8.5-.5h0m6.3 .6h0m3.1-.7h0m.6-.7h0m35.2 .5h0M113 5h0m3.2-1.7h0m1.5 .1h0M131.3 5h0m1.2-.3h0m2.9 .6h0m10-.1h0m3.3-.6h0m2.2 .3h0m2.6 .1h0m1.9 .3h0M-179.2 7h0m2.7 .6h0m2.4-.2h0m224.7 .2h0m2.9-.2h0m52.1-.3h0m.5-1.4h0m.7 1.1h0m2.1 .5h0m1.9-.5h0m7.9 .7h0m12.8-.8h0m.8 .4h0m2.4-.4h0m2.2 .2h0m4.6 .5h0m3-.2h0m2.1 0h0m2.7-.1h0m3.1-.1h0m2.6 .3h0m-336.2 1.8h0m3.1 .3h0m2.7-.4h0m2.4 .1h0m2.9 .3h0m222-.2h0m.3-1.4h0M54 9.3h0m0-1h0m.4 1.4h0m2.2-.8h0m50.3 .8h0m.2 0h0m3.1-.5h0m7.7-.1h0m1.9-.2h0m1.5-1.1h0m1.1 1.6h0m3.1-.2h0m2.4 .4h0m4.9-.4h0m2.4 .3h0m3.3-.1h0m2.4 .2h0m4.4-.7h0M148 9h0m3.1 .5h0m1.8-.6h0m3.4 .4h0m-338.5 2.4h0m2.6-.1h0m3 .3h0m2.3-.5h0m234.7 .4h0m2.1 .3h0m2.9-.8h0m35.2-1.3h0m7.9 1.8h0m.3-1.5h0m1.5 1.1h0m5.7 .7h0m8.2-.2h0m2.4-.5h0m7.3-.2h0m2.6 .2h0m3.1 .5h0m7.1-.2h0m2.3 .2h0m3.3-.2h0m1.9 .4h0m2.6-.9h0m2.9 0h0m-343.3 2.6h0m3.3 .3h0m1.8-.2h0m2.6 0h0m3.1-.5h0m225.9-1.3h0m.4 1.8h0m1.2-1.1h0m1.9 .9h0m7 0h0m5.4 .1h0m2.5 0h0m35.4-.2h0m3.3 .1h0m4.9 0h0m12.7 .2h0m2.6 .2h0m2.1-.2h0m1.6-1.8h0m1.6 1.9h0m1.8 .2h0m2.6-.4h0m3.5-.2h0m1.7 .6h0m8-.7h0m2.8 .1h0m2.4 .5h0m2.1 0h0m-345.3 2.3h0m2.3-.3h0m8.1-.4h0m11.1-1.3h0m216.1 1.3h0m.4 .2h0m1.4-.2h0m8.4 .3h0m44.1 .2h0m1.7 .2h0m2.9-.5h0m1.2-1.6h0m.3 2.1h0m11.6-2.1h0m1.7 1.9h0m3 .1h0m1.5 .2h0m3.5-.8h0m2.1 .4h0m5-.3h0m2.6 .6h0m2.4-.3h0m5.7 .3h0m2.4 0h0m-338.2 2.3h0m5.1-.3h0m3.2-.1h0m2.5-.1h0m224.2-.3h0m2.7 .7h0m.5-2h0m52.6 1.3h0m2.5 .3h0m2.1-.7h0m.2 .8h0m.1 .1h0m4.3-1.9h0m8.3 1.3h0m3 .6h0m11.5-1.8h0m3.6 1.8h0m2.9-.3h0m5 .1h0m2.6 .4h0m2.9-.3h0m.8-1.7h0m1.3 1.3h0m1.6-1.3h0m1.1 1.7h0m2.3 .1h0m-347.7 2.4h0m2.7-.9h0m.6-1.1h0m1.3 1.4h0m3 0h0m1.8 .3h0m226.2-1.2h0m1.3 1.3h0m.3 .2h0m51.1-.3h0m4.3-.1h0m6.6-1.6h0m1 1.3h0m2.9 .5h0m3-.5h0m1.8 .5h0m3-.6h0m13.9-1.2h0m1.3 1.4h0m2.5 .5h0m3.6-2h0m1.9 2h0m7.3-.4h0m5.3 .1h0m-346.2 2.1h0m2.9-.3h0m2.6 0h0m3 .9h0m2.1-.3h0m2.9-.1h0m221.4-.1h0m18.2 .4h0m33.4 0h0m4.9-.6h0m7.3-.1h0m2.2 .4h0m2.7 .1h0m2.8 .3h0m3-.6h0m14.6 .5h0m2.4-.5h0m3.1 .4h0m.9-2h0m1.6 1.5h0m3 .4h0m.6-1.9h0m6.5 2.2h0M160 21h0m.7 1.9h0m3.1-.4h0m-346.2 2.8h0m5.6-.7h0m226.4-.3h0m.3 .8h0m2.2-.5h0m1-.8h0m.7-.6h0m42.5 1.6h0m6.9 .2h0m3.1-.5h0m5.4 .3h0m2.2 .5h0m1.9-.1h0m2.8-.5h0m5.5-.1h0m2.9 .2h0m3.9-.5h0m10.8 .3h0m5-.1h0m2.7 .4h0m9.8-.3h0m2.9 .2h0m3.2 0h0m-351.1 1.8h0m2.5 .9h0m7.5-.4h0m2.2-.2h0M34 26.7h0m1.9 .6h0m10.5 0h0m1.9-.4h0m3.4 .2h0m50.8-.5h0m2.4 .6h0m2.7-.1h0m.7-1.7h0m1.9 1.3h0m4.6 .1h0m10.8 0h0m15.2-.2h0m2.3 0h0m13.3 .7h0m1.3-1.9h0m.2 1.5h0m3.4 .2h0m2.2-.5h0m2.4 .7h0m-346.8 .3h0m3.7 2h0m2.5-.8h0m209.2 .8h0m7.8-.1h0m2.6-.1h0m.9-.4h0m1.6-.2h0m.9 0h0m1.1-.2h0m.9-.8h0m56 1.9h0m4.8-.7h0m1.8-1.4h0m5.2 0h0m.9 1.9h0m.9-1.9h0m1.4 2.1h0m2.4-.5h0m15.2 0h0m3.1-.2h0m12.8 .4h0m1.9-.1h0m2.5 .1h0m3.6 .3h0m1.6-.4h0m3.4 0h0m-353.6 2.2h0m1.7-1.8h0m.9 1.7h0m.9-1.6h0m4 1.7h0m3-.2h0m2.1 0h0m2.5 .5h0M33.6 31h0m6.2 .4h0m1.7 .3h0m2 0h0m.8-.3h0m2.3 .1h0m2 0h0m1.5-1.7h0m54.5 1.9h0m3-.1h0m1.2-1.8h0m1.6 1.5h0m10.3 .1h0m2.6-.4h0m3.1-1.3h0m1.1 2.2h0m3.1-.7h0m2.8 .2h0m1.6-.1h0m3.2 .6h0m25.1-.9h0m2.5 .5h0m2.5-.2h0m-350.2 2.4h0m4.5 0h0m3.1 0h0M24.4 34h0m4.7-.1h0m1.7-2h0m1 2h0M37 34h0m1.5-1.5h0M40 34h0m2.4-.2h0m5.2-.6h0m55.8 .2h0m5.8 0h0m9.8-.2h0m2.5 .6h0m2 0h0m2.2-1.8h0m5.7 1.4h0m2.9 .6h0m4.9-.5h0m.8-1.5h0m4.8 2h0m1.9-.7h0m5.4 .2h0m1.2-1.6h0m6.3 1.4h0m1.3-1.3h0m4 1.3h0m2.2 .2h0m-352.8 2.2h0m1.3-1.5h0m.8 1.7h0m8 .4h0m2.3 0h0m194-.2h0m7.2-.6h0m2.9 .5h0m.2-.5h0m2.8 .1h0m.7 .7h0m1.1-.6h0m1.6-1.2h0m.8 .9h0m4.7-.4h0m.7 .5h0m1.7-1.3h0m4.6-.1h0m52.8 1.6h0m1.9 .3h0m1.6-1.8h0m1.8 2h0m1.9-.2h0m2.3-.6h0m20.9 .6h0m2.3 .1h0m1.2-2h0m4.2 2h0m2-.3h0m2.9-.2h0m2.8 .2h0m1.7-1.6h0m1.1 1.6h0m2.2 .4h0m3.1-.6h0m2 0h0m2.7 .4h0m1.6-1.9h0m6.2 2.2h0m-353 2h0m2.1-.4h0m1.3-1.5h0M22 37.9h0m2.9-.3h0m1-1.2h0m.9 1.5h0m.7 0h0m2.7 .4h0m1.5 .1h0m.2-.2h0m2.3-.1h0m2.7-.3h0m4.3-1.5h0m62.8 2h0m2.3-.3h0m2.9 .5h0m1.8-.3h0m15.4-.1h0m7.4-.1h0m3.8-1.6h0m7.1 2h0m2.4-.2h0m2.2 .3h0m2.4-.7h0m3.1 .2h0m2.2 .1h0m3.2-.4h0m-343.6 2.2h0m2.6 .3h0m4.9-.1h0m1.7-1.4h0m1 1.4h0m1.4-1.5h0m131.6 1.5h0m2.3-.2h0m5.6 .7h0m12.2-.7h0m4.9 0h0m25.5 .4h0m5.4 .3h0m2.4 .1h0m3.1-.3h0m1.5 .1h0m.9-.3h0m1.1-1.6h0m.5 1.9h0m.9-.4h0m2-.1h0m3.3 .5h0m1.8-.6h0m22.9-.1h0m46 .6h0m5.6 0h0m1.5 .2h0m.7 .1h0m4-2.1h0m11.8 1.8h0m5.9-1.9h0m13.5 2.2h0m3.2-.3h0m3-.1h0m9.2 0h0m2.7-.1h0m2.5-.4h0m1.6-1.1h0m1.5 1.3h0m-350.9 2.4h0m2.2 0h0m1.3-1.6h0m1.8 1.5h0m2.7-.2h0m135.4 .2h0m1.6 0h0m3.3 .2h0m2.5-.4h0m1.3-1.3h0m1.3 1.8h0m2.6 0h0m2.4-.1h0m1.9-.3h0m3.3 .6h0m2.6-.3h0m2-.4h0m2.8 .4h0m2.4 .1h0m20 .2h0m2.6-.7h0m3.2 .1h0m0 .1h0m2.2-.2h0m.2 .6h0m2-.3h0m2.6 .1h0m2.7-.4h0m74.4 .8h0m2.5-.1h0m.3 0h0m1.4-2h0m.8 1.4h0m2.3 .3h0m3.1 .3h0m.8-1.9h0m14.3 1.1h0m23.1 0h0m1.9 .8h0m1.2-2h0m7.2 1.9h0m1.9-.1h0m3 .3h0m2.7 0h0m-353.5 1.6h0m3 .5h0m141.8-.2h0m3 0h0m2.8-.3h0m2.7 .6h0m5.1-.6h0m4.7-.3h0m2.5 .6h0m3.1 .1h0m2.3 .2h0m5.1-.8h0m2.6 0h0m2.5 .6h0m2.3-.4h0m2.8 .1h0m3.8 .3h0m1.5-.6h0m.8 .7h0m1.7-.2h0m.8-1.7h0m3.7-.2h0m.3 1.9h0m2.2 .3h0m.2-.4h0m2.7 .4h0m3.4-2.2h0m83.1 2.1h0m41.3-.2h0m1.3-1.8h0m.7 1.5h0m5.1 .5h0m5.4 .1h0m2-.5h0m3-.4h0m3 .7h0m2.3 0h0m-350.7 1.5h0m1.3-1.1h0m3-.1h0m1.1 1.3h0m.8-1.3h0m.8 1.7h0m135.7 .1h0m8.7-1.9h0m5.2 .1h0m13.4 .1h0m4 1.1h0m4.2-.5h0m2.5 1.3h0m3.1-.3h0m1.4-1.6h0m3.2 1.8h0m.8-1.9h0m1.5 1.9h0m.3-1.7h0m1.9-.3h0m0 .4h0m3 1.5h0m89.7-.1h0m.4-1.7h0m2.5 1.8h0m.9-1.9h0m22.8 1.3h0m4-.6h0m1.7-.6h0m2.8 1h0m13.7 .7h0m1.9-.2h0m1.3-1.6h0m1.6 1.7h0m2.8 .1h0m7.3-.4h0m-348.6 2.4h0m1.6-1.4h0m1.8 1.2h0m4.4 .1h0m133.5 0h0m2.5 .2h0m.3-1.6h0m1.5 1.7h0m23.2 .1h0m4.8 .2h0m1.5-2.1h0m.8 .7h0m1 1.4h0m.8-1.9h0m1.3 1.2h0m.1 .4h0m3.5 .1h0m1.4-1.4h0m.2 .9h0m1.5-1.2h0M8.2 49h0m99.2-.1h0m.8-1.4h0m43 1.6h0m2.6 .1h0m2.1 .2h0m2.3-.6h0m3.3 .4h0m4.3-.4h0m3.2-.1h0m.9-1.4h0m-351.8 4.1h0m2.1 .1h0m2.9-.5h0m1.4-1.5h0m3.3 2.1h0m133.1-.3h0m2.4-.1h0m2.6 .2h0m20.2 .3h0m2.6-.4h0m3.2 .1h0m1.8 .1h0m6.6-2h0m106.2 1.6h0m.5-.1h0m.6-1.5h0m46.7 1.4h0m3.2 .4h0m12.7 .1h0m-352.8 1.5h0m1.5 .6h0m1.6 0h0m4-.4h0m1.5-1.3h0m133.1 1.6h0m3 .4h0m2.3 0h0m20.2-.2h0m3.3 0h0m2.6-.4h0m5.6-1.4h0m98.2 1.5h0m7.7 .3h0m2.6-.8h0m.7 .8h0m26-.6h0m.4 .5h0m1.3-.4h0m.9-.5h0m2.4-.5h0m1.2 .2h0m18.4 .9h0m2.7 .6h0m5.2-.3h0m1.4-1.6h0m1.2 1.3h0m1.5-1.3h0m.9 1.7h0m-350.5 1.7h0m1.5 .5h0m.8-.4h0m1.5-1.4h0m.6 1.7h0m5.3-.1h0m130.8-.2h0m1.8 .3h0m10.6-.2h0m2.1 .1h0m5.7 .1h0m1.7-.2h0m2.8 0h0m4.8 .2h0m105.5 .2h0m6.8 .1h0m2.9-.1h0m1.1-.8h0m28.7 .4h0m.5 .3h0m2.6 .2h0m20.8-.1h0m2.9-.3h0M-180 57.3h0m4.9 .9h0m134.3 .1h0m2.5-.1h0m8.4 .1h0m2.3-.7h0m1.9 .7h0m1.7-2.2h0m.9 1.5h0m3.4-.1h0m5.9-1.4h0m113.5 1.4h0m3.6 .7h0m1.7-.4h0m.7-1.6h0m.4-.1h0m1 1.8h0m30.7-.6h0m2.7 .7h0m0-.6h0m.3 .3h0m18 .3h0m2.4 0h0m5.7-1.7h0m2.6-.1h0m1.4 2.1h0M-181.4 60h0m1-1.6h0m.8 1.4h0m1.1-1.3h0m1.1 1.7h0m132.7 .1h0m2.9 .1h0m2.1-.6h0m3.4 .2h0m2.5-.1h0m2.7-.1h0m2-.1h0m5.3 .5h0m122.8 0h0m3.8-1.8h0m.6 1.7h0m2.7-.3h0m36.4 0h0m.2-1.5h0m.4 .2h0m14.6 1.9h0m7.2 0h0m3-.5h0m2.3 .2h0m2.5-.2h0M-183 62.4h0m.2-.7h0m.8-1.2h0m1.3 2.1h0m2.9 0h0m1.3-1.5h0m133.7 1h0m2.6 .1h0m1.9 .1h0m2.7 .3h0m2.6-.4h0m6-1.6h0m128.6 .1h0m.4 1.3h0m2.6 .6h0m2.9-.3h0m29.4 .3h0m3.3-.8h0m21.5-1.1h0m2.3 1.9h0m2.6-.6h0m3-1.1h0m1.4 1h0m2.2 0h0m-357.4 2.8h0m3.2-1.7h0m1.8 1.7h0m.1-1.4h0m2 1h0m142.9 .4h0m3.1-.4h0m126.8 0h0m1.9-1.3h0m2.6-.2h0m1.2 1.4h0m2.5 .6h0m32-1.1h0m2.4-.2h0m.3 .7h0m26.7 .6h0m3.7-2.1h0m1.9 1.8h0m1.3-.4h0m.5-.9h0m3.6-.3h0M-182 65.1h0m.1 .1h0m.7 1.5h0m3.1-.2h0m.9-1.5h0m271.6 1.7h0m2.8 .2h0m1.2-1.9h0m1.9 1.4h0m1.8 .3h0m4.3-1.8h0M133 67h0m.1-.1h0m1.3-1.2h0m.8 .6h0m1.1-.9h0m31.5-.4h0m.5 1.8h0m.2-.6h0m1.2-1h0m2 1.5h0m1.1-1h0m.4 1.3h0m-356.3 .2h0m1 1.6h0m1-1.5h0m0 .3h0m.5 1.5h0m1.3 0h0m275.6-.5h0m11.4-1.3h0m23.7 1.8h0m.9-.4h0m.6-1.2h0m.1-.1h0m33.2-.3h0m3.7 2.1h0m.4-.8h0m2.6 .5h0m.9-1.7h0M175 69h0m-357.9 1.3h0m2.5 1h0m1.9-.1h0m273.1-.1h0m2.5 .3h0m1.3-1.9h0m1.2 1.7h0m1.1-1.8h0m10.9 .2h0m6.4 1.7h0m11.2-1h0m.9-.2h0m.7-.7h0m40.5 1.9h0m.8-.9h0m1.5-.2h0m.6 .8h0m2-.3h0M-183 73.4h0m2.8 .1h0m.8-2h0m0 1.9h0m272.8-.3h0m2.5 0h0m16.5-1.4h0m1.5 1.5h0m14.4-1.1h0m.6 1.2h0m.1-.3h0m.2-1.1h0m42.7 .5h0m.4 .9h0m1.4-1.7h0m1 1.7h0m.5 .1h0m1.4-.8h0m-358.9 1.3h0m1.9 1.9h0m.1-.1h0m7.1 .2h0m265.7-.5h0m4.4 .2h0m12.9-.4h0m1.7-1.5h0m15.7 .8h0m45.2 .6h0m2.7 .2h0m2.6 .1h0m-360.8 .8h0m.9 1.7h0m5.7 0h0m.5-1.9h0m269 1.9h0m1.3-1.7h0m13.2-.1h0m.7 1.4h0m17.7-.1h0m.2 .6h0m.6-.5h0m.6-1.5h0m46.4-.1h0m1.3 1.7h0m.9-1.5h0m1 1.2h0m-360.3 2.3h0m1.2-1.3h0m.6 1.1h0m7.3-1.1h0m264.2 1.5h0m17.9 .2h0m17.1-.4h0m.2-1.1h0m51.2 1.1h0m.1-.6h0m.4-.6h0m1.2-.2h0m.4 1.6h0m.8 0h0m-361.6 2.3h0m.2-1.2h0m272.1 .2h0m3.6 .8h0m1.4-1.3h0m.5 1.6h0m11.3 0h0m4.5-.2h0m12.7 .2h0m.6-1.7h0m53.9 1.7h0m.4-1.5h0m-362.4 2.7h0m2.6 .7h0m273.2 0h0m5.3 .6h0m7.1-.1h0m2.3-.3h0m2-1.5h0m.8 1.2h0m12.3 .4h0m1.1-1.7h0m.1 .7h0m54.5-.6h0m.6 1.8h0m1.2-2h0m.1 0h0m.2 .4h0m.6-.3h0m-363.8 2.1h0m0 1.5h0m1.8 .6h0m272.9-.3h0m2 0h0m1.6-1.7h0m11.7 2h0m2.4-.6h0m11.8-.1h0m.4-.2h0m.2 .7h0m57.5-.8h0m.3 .3h0m.5 .1h0M-181.5 88h0m270.3-1.1h0m21.2 1.5h0m71.2-.6h0m.3-.1h0m-365.2 1.5h0m.7 .3h0m1.5 1.6h0M90 89.3h0m.7 1.3h0m16.8-1.2h0m3.8 1.5h0m4.6 .2h0m64.4-1.4h0m1.1-.2h0m0 1h0m.7-1.1h0m.4 1.8h0m-366.6 .2h0m.9 .3h0m.7 1.7h0m1.4-.5h0M87.3 93h0m.6-1.6h0m1.5 1.7h0m2.2 0h0m14.2-1.7h0m2.9 .1h0m1 1.5h0m5.5-.1h0m64.9-1.4h0m1.7 1.5h0m.2-.6h0m1.3-.7h0m1 1.3h0m-367.6 .6h0m266.8 2h0m1.5-1.9h0m1 1.8h0m2.3 0h0m2.6-.3h0m14-1.6h0m2.1 .2h0m74.5 .1h0m1.7 1.7h0m-367.5 .3h0m.2 .1h0m1.2 1.6h0m.5-1.7h0m261.7 1.4h0m3.2 .1h0m2.1-.2h0m21.6-1.3h0m76.1 0h0m1 .6h0m.1-.7h0m.5 1h0m.4 .6h0m1.2-1.7h0m-371.2 2.4h0m.4 .8h0m3.4 .8h0m260.4 0h0m4.3 .3h0m18.7-.3h0m.3-1.4h0m1.5 1.5h0m1.2-1.7h0m78.3 1.4h0m1.3 .5h0m.8-.3h0m.1 .1h0m.6 .1h0m-371.9 1.9h0m1 0h0m.9-1.7h0m1.7 1.6h0m1.9 .3h0m262-1.9h0m1.1 1.9h0m16.9 0h0m2.7-.2h0m13.7 .3h0m68 .1h0m.6-1.9h0m2.1 1.5h0m.5 .1h0m-371.9 2.1h0m2.9 .1h0m1.5-1.3h0m257.6-.2h0m2.2 .1h0m1.7 1.7h0m20.6 .1h0m83.4-.2h0m1.8-1.2h0m.4 .7h0m.4 .3h0m-373.6 1.3h0m.8 1.1h0m2 0h0m2.8-.4h0m256.2-1.5h0m1.1 1.9h0m1.6-1.8h0m1.1 1.6h0m19.4-1.7h0m.5 2h0m3.9-1.8h0m82.3 .6h0m3.2 .8h0m-375.7 2.6h0m.6-1.7h0m2.1 1.2h0m258.9-1.2h0m22.9-.3h0m87.8 1.7h0m.7-1.7h0m1.6 0h0m0 1.5h0m.5-.9h0m.2 .5h0m.7 .8h0m-377.3 2.1h0m3 0h0m2.1-1.4h0m.3 1.2h0m.7-1.4h0m1 1.3h0m255.9 .1h0m1.4-1.5h0m1.6 .2h0m16.9 1.7h0m1.5-1.8h0m2.1 .1h0m2.8 0h0m85.8 1.5h0m.9-.7h0m1.3 1h0m.1-.7h0m-376.3 2.3h0m7.9 .3h0m255 .2h0m.7-1.7h0m19.9 1.7h0m1.2-1.7h0m1.2 1.7h0m89-.2h0m.5-.3h0m.3 .4h0m-379.4 2.1h0m4.9-.1h0m1.9-1.5h0m1.8 .1h0m254 1.7h0m1.1-1.7h0m1.9 1.8h0m18.5-1.9h0m94.9 1.4h0m2.6-1.3h0m-379.5 2.1h0m1.6 1.4h0m4.2-1.5h0m1.4 1.6h0m.6-1.6h0m2.5 0h0m271.4 1.6h0m1.9-1.3h0m94-.2h0m1.1 1.3h0m.7-.9h0m-379 3.6h0m4.3-1.7h0m3.2 1.7h0m1.5-1.6h0m250.9 1.6h0m1.2-1.9h0m2.6 .1h0m13.4 .1h0m1.8-.2h0m92.9 1.5h0m6.5 .2h0m.4-1.2h0M74 120.1h0m3.1-.2h0m.7 1.8h0m11.8-1.4h0m1.6 1.6h0m1-1.8h0m97 0h0m2.6 0h0m.9 1.9h0m-385.7 1.8h0m3.4-1.4h0m1.3 1.6h0m1.5-1.7h0m1.5 1.6h0m1.7-.1h0m1.6-1.4h0m1.6 1.7h0m.4-1.8h0m255.6-.1h0m1.2 1.8h0m2.2 .2h0m4.4-1.9h0m1.1 1.7h0m3.9-1.6h0m1.2 1.4h0m100.2-1.4h0m.2 .3h0m1.7 1h0m-381.5 2.7h0m10.3-.1h0m255.5-.2h0m6.1-1.7h0m4.6 0h0m100 .8h0m4 1.1h0m2.3-1.8h0m-379.6 2.5h0m2.4 0h0m.8 1.2h0m1.8-1.6h0m26.6 1.9h0m226.2-.1h0m1.4-1.5h0m5.7 .1h0m2.4-.2h0m2.2-.2h0m1.1 1.6h0m107-.4h0m1.5-.8h0m-383.9 2h0m3-.1h0m2.3 0h0m5.5 .1h0m1.6 1.6h0m248.5-1.5h0m5.3 .1h0m2.2-.4h0m2.8 0h0m.9 1.9h0m1.3-1.9h0m109.1 0h0m1.9 2h0m.7-2h0m0 0h0m.7 1.2h0m-384.9 2.8h0m1.2-1.5h0m1.8-.1h0m4.2 1.7h0m11.3-1.5h0m17 1.3h0m222.7-1.5h0m7.8-.1h0m2.4-.1h0m1.8 1.7h0m110.7-1.3h0m3.3 1.5h0m-382.4 .2h0m1.3 2.1h0m1.1-1.7h0m3.8 1.6h0m1.2-1.9h0m2.2 1.8h0m22.8 .2h0m2.3 0h0m.8-1.9h0M64.9 135h0m11.5-1.5h0m5.7 0h0m107.4 0h0m.2 .6h0m.5 1.2h0m1.2-.3h0m.4-1.7h0m.7 2h0m-385.1 .1h0m3.2-.1h0m4.7 .1h0m1.1 1.8h0m6.2-1.5h0m3.9 1.8h0m13-.5h0m234.3 .5h0m2.2-1.8h0m.6 1.4h0m1.1-1.8h0m116.5 1.4h0m.4 .4h0m.7-1.3h0m-384.6 3.9h0m.9-1.7h0m2.6 0h0m3.4 1.2h0m1.6-1.4h0m2.6-.2h0m4.3 2h0m2.1-.4h0m10.5 .4h0m6.2-2h0m1.3 2h0m1.1-2h0m344.1 .2h0m1.1 1.5h0m.9-.1h0m1.7 0h0m-386 2.5h0m2.5 .1h0m1.8-2.1h0m10.9 2h0m2.8-.2h0m5.4 .1h0m3.4-1.7h0m1 1.7h0m6.5-1.7h0m1.7 1.9h0m216.9-.3h0m.6-1.4h0m10.6 .1h0m115.7 1.6h0m1.2-1.8h0m3.8 1.5h0m-383.3 2.2h0m2.6 .3h0m2.2 0h0m10.5 0h0m3-1.9h0m5.7-.2h0m3.6 1.9h0m1.9-1.7h0m1.2 1.7h0m.9-1.4h0m4 1.3h0m1.2-1.4h0m213.3 1.5h0m11.5-1.4h0m118.1 1.4h0m1.3-1.7h0m.4 .3h0m-377.9 3.8h0m14.3-1.6h0m20.7-.2h0m.4 1.5h0m207.8-1.8h0m5.2 .1h0m8.3 0h0m1.8 .1h0m116.2 1.8h0m.1 .1h0m3.7-1.4h0m.6-.5h0m-380 3.9h0m2.3-.2h0m1.5-1.3h0m30.3 0h0m201.2-.2h0m10.3 .1h0m1.5 1.7h0m.8-1.9h0m1.2 1.7h0m3.2 .1h0m.9-1.8h0m2.5 .4h0m3.1-.4h0m119.4-.1h0m1 2h0m1.7-1.8h0m-383.8 2.4h0m6.7 1.7h0m1.3-2h0m30.8 .1h0m2.5 0h0m.8 1.9h0M47.8 149h0m.6 1.3h0m7.7 0h0m1.1-1.8h0m4.8 1.9h0m5.8-1.7h0m120.9 .3h0m1.6-.1h0m.3 .1h0m-377.5 3.5h0m.7-1.6h0m3.8 1.6h0m1.2-1.5h0m29.8 1.6h0m1.6-1.6h0m4.4 .2h0m191.6 0h0m6 1.5h0m2.2-1.6h0m.9 1.7h0m3.6-1.9h0m5.3 .3h0m124.4 .1h0m1-.3h0m.3 1.7h0m1.9-1.7h0m.8 1.5h0m-377.5 .8h0m4.7 1.7h0m2.9-1.8h0m3.4 .3h0m24.9-.3h0m2.9 .3h0m5.3-.1h0m1.2 1.6h0m189.1-2h0m6.6 1.7h0m1.4-1.5h0m.9 1.8h0m1.4-1.6h0m2.5-.4h0m1.5 1.8h0m124.3-1.5h0m1.4 1.8h0m2.7-.7h0m-375 1.2h0m5.1-.1h0m.3 1.8h0m2.2-1.9h0m1 1.6h0m.7-1.8h0m3.3 .2h0m1.3 1.5h0m20.4 0h0m.8-1.3h0m1.5 1.7h0m1.1-1.9h0m2.9 .1h0m3.7 1.6h0m187.4-1.6h0m2 .2h0m3.3-.1h0m135.1 .6h0m2.2-1.1h0m-363.5 2.5h0m5.7 .2h0m3.2 1.4h0m2.8-.1h0m1.3-1.2h0m3.8 1.5h0m7.7-.1h0m3.8-1.4h0m2.2-.5h0m5.1 .4h0m1.3 1.7h0m105.7-2.1h0m1.9 1.9h0m68.5 .2h0m5.7-.2h0m3.3-1.5h0m2.5-.3h0m2.3 .1h0m2.9-.1h0m130.3 .4h0m.3 .7h0m.7 .7h0m1.4-1.8h0m-360.5 2.1h0m1.2 2h0m.7-2h0m2.7 .1h0m6.8 1.8h0m.6-1.9h0m5.1 .3h0m7.5-.1h0m3-.2h0m1.7 1.7h0m1.1-1.3h0m1.1 1.7h0m1.7-1.8h0m3.7 1.8h0m1.7-.3h0m169.3 0h0m2.5-.1h0m2.1 0h0m1.6-1.5h0m4.3 .2h0m2.6-.4h0m3.2 .1h0m2.4-.1h0m130.1 0h0m.4 2h0m1.2-.3h0m2.1-1.1h0m-356.7 1.6h0m1.9 .4h0m3.3 .1h0m2.9 1.3h0m1.9-1.3h0m.7 1.2h0m1.4-1.2h0m3.3-.6h0m7 .6h0m1.9 1.3h0m1.9-.1h0m3 .2h0m.7-1.5h0m9 .4h0m3.7-.2h0m3.7 1.3h0m76.6-.1h0m5.1 .3h0m9.5-1.7h0m2.2-.4h0m19.4 1.8h0m7.8 0h0m19.9 .2h0m10.6-.2h0m3.9-1.7h0m1.6 1.8h0m2.2-.1h0m2.5 .1h0m4-1.9h0m2.1 .1h0m1.8 1.6h0m135 .4h0m.9-1.6h0m0 .2h0m-348.7 3.3h0m3.2-1.3h0m7 1.4h0m.7-1.4h0m2.1-.2h0m2.2 1.6h0m1.4-1.7h0m.3 1.8h0m1.8-1.8h0m4.1 1.8h0m5.1-.2h0m.6-1.6h0m2 1.7h0m1.3-1.8h0m1.4 .1h0m.6-.1h0m.9 .2h0m1.3 .2h0m2.9-.5h0m1.1 .7h0m1.8-.6h0m1.7 0h0m1.4 .8h0m1.4-.7h0m.2 1.2h0m3-.3h0m1.3 .4h0m2.7 .4h0m.1 0h0m69.6-1.4h0m3.9 1.2h0m9.2-1.3h0m3.1 1.6h0m7.8 0h0m5 0h0m4.9-.1h0m4.7-1.6h0m13.9 1.8h0m2.4-.3h0m2.7 0h0m4.9 .1h0m3.8-1.8h0m1.3 1.7h0m1.8-1.7h0m4.2-.1h0m10.4 .4h0m143.2-.1h0m-345.8 2.1h0m11.3 1.5h0m34.9-1.8h0m3.9 .1h0m1.8 .8h0m3.9 .5h0m1.5-.2h0m2.1 .9h0m57.6-1.7h0m2.7-.4h0m3.9 2.1h0m1-1.9h0m2.4-.1h0m2.2 1.9h0m1.4-1.6h0m.4 1.7h0m1.2-1.5h0m5.7-.2h0m2.3-.1h0m1.4 1.7h0m4.1-1.4h0m5.2 0h0m4.4-.1h0m2.9 .1h0m2-.6h0m1.6 1.9h0m1.4-1.3h0m2.5-.1h0m1.7 1.7h0m1.4-1.8h0m8.7 1.4h0m.8-1.7h0m5.9 .3h0m4.4 .1h0m1.3 1.5h0m5.2-.2h0m146.3-1.3h0m1.5 1.4h0m1.5-1.6h0m.7 1.2h0m.1 .3h0m2.1-1.1h0m.2-.5h0m-286.1 2.2h0m1.2 .1h0m.1 0h0m3.2 .3h0m1.2-.2h0m.5 .9h0m1.5-.4h0m2.8 .8h0m1.4 .3h0m2.7 .1h0m3 0h0m.6-.1h0m32.8-.1h0m1.5-1.8h0m1.2 2h0m2.4-.1h0m.7-1.6h0m3.4 0h0m1.3 1.5h0m3.9-1.7h0m.2 1.7h0m2.7 .3h0m3.3-.2h0m.7-1.7h0m2.9 .3h0m2.2-.3h0m5 0h0m3.1-.1h0m.7 1.9h0m1.5-2h0m2.1 .2h0m3.3 .4h0m.7 1.5h0m1.8-2.1h0m2.7-.1h0m4.7 .5h0m5-.4h0m15.7 .4h0m.3 1.2h0m13.6-1.6h0m143.8 1.8h0m.3-1.5h0m1.6 1.6h0m-268.5 .4h0m3.7 0h0m2.7 .3h0m3.2 1h0m1.2 .3h0m.9 .3h0m.7-.9h0m2 .7h0m2-.4h0m15.4 .4h0m1.2-1.6h0m2.3 1.9h0m17.3-.3h0m4.6 .3h0m1.6-1.9h0m1.3 1.7h0m1.4-1.9h0m1.2 1.9h0m1.5-1.3h0m1.1 1.4h0m.8-1.8h0m3.2 .2h0m5.2-.2h0m2.3-.1h0M2 171h0m1.7-.3h0m29.1 1.3h0m148.3 .4h0m1.4-1.5h0m3.6 1.5h0m-253.2 .9h0m1.4 .1h0m2.7-.6h0m.3-.1h0m1.9 .8h0m1.5 .1h0m1.3-.1h0m3.2 1.1h0m.2-.1h0m1.7-1.4h0m0 .6h0m.7 .9h0m1.5-1.3h0m5-.1h0m.6 .1h0m2.6-.3h0m5.9 1.9h0m2.4-.4h0m5.3 .4h0m1.5-1.9h0m3.5 1.6h0m2.1 .1h0m17-1.9h0m2.3 .1h0m183.2 1.4h0m1.9 .5h0m1.8-1.8h0m.7 0h0m-235 2.1h0m2 .7h0m1.1-.6h0m1.5 1.5h0m.5-1.6h0m3.2-.2h0m.8 1.9h0m1.7-1.7h0m6.1 1.6h0m1.6-1.1h0m86.2-.4h0m117.9 .4h0m7.2-.4h0m1.4 .2h0m.2 1.7h0m3.7-2.1h0m-241.1 2.4h0m24.6 1.8h0m68-1.4h0m134.4 0h0m6.1 1.2h0m1.7-1.7h0m-9 2.5h0m3.8 1.4h0m6.8-1.4h0m.9 1.5h0m.8-1.3h0m.3-.6h0m-141.3 4.3h0m134.8 0h0m.8-1.6h0m2.2-.3h0m1.4 1h0m1-1.3h0m-10.2 4.1h0m1.5-1.7h0m1.8 .1h0m.4 1.8h0m2.8-.2h0m.3-1.7h0m1.8-.1h0m-14.8 4h0m4.1-1.8h0m3.5 1.4h0m.7-1.5h0m3.5 .6h0m2.6 .1h0m1.7-.3h0m-121.9 3.5h0m94.3-.9h0m9-.6h0m6.9-.1h0m2.8 .6h0m1.4 1.4h0m1.5-1.9h0m2.8-.1h0m-10.4 4.2h0m1.1-1.5h0m2.8 .1h0m1.6 1.2h0m3.3-1.6h0m-116.5 2.2h0m.1-.1h0m.5 1.8h0m104.3-1.7h0m5.3-.2h0m3.8 1.8h0m1.6-1.8h0m2.4 0h0m-117.7 3.8h0m97.3-1h0m6.4 0h0m1.5 1.5h0m.8-1.5h0m2-.4h0m2.6-.1h0m-110.6 2.2h0m101.3 1.8h0m1-1.5h0m5.4 .1h0m2.1-.1h0m2.4-.3h0m-111.5 2.1h0m.1 .4h0m100.5 .7h0m2.3-1.2h0m1.9 .8h0m.4-.5h0m2.2 1.5h0m.9-1.5h0m-108.3 2.4h0m.7 1.5h0m97.1-.5h0m.2 .6h0m1.2-1.9h0m1.5 1.9h0m.7-1.4h0m.2-.5h0m1.2 1.9h0m.8-1.9h0m-102.3 4.1h0m94.9-.1h0m5.2-1.8h0m-99 3.7h0m94.3-.8h0m2-.3h0m-96.1 3.4h0m89.4-.7h0m.9-.9h0m1.7 0h0m.4 1.5h0m.8-1.5h0m1.8 .5h0m-95.1 2.3h0m.3 .1h0m79.6 1.3h0m8.5-2h0m1.1 1.9h0m2.2-2h0m-6.6 2.5h0m1.8-.4h0m.7 .6h0M68.2 215h0m76.7 .8h0m1.7-1h0m1 1h0m1.4-.9h0m1.2 .2h0m-88.6 2.2h0m1.7 1.6h0m.5-1.4h0m2 1.2h0m.5-1.6h0m2.5 .3h0m74.5-.4h0m.8 1.7h0m1.2-.5h0m.1-.7h0M66.1 221h0m2.3-1.9h0m72.4 1.1h0m.7-.4h0m.8-.5h0m-80.4 2.5h0m2.3-.2h0m4.5 .3h0m68.2 1.4h0m1.1 0h0m2.8-1.8h0m1.1 1.7h0m.8-1.9h0m-80.2 2h0m3.4 .3h0m1.5-.2h0m2.2 2.1h0m1-1.4h0m63.7 .8h0m1.2-.1h0m3.5-1.5h0m.2 .3h0m.7 .2h0M59 226.3h0m3.6 1.3h0m1.3-1.8h0m1.9 1.9h0m1.3-1.6h0m3.2 1.6h0m1.8-1.6h0m2.3 .3h0m57.8 1.3h0m.5-1.4h0m3 0h0m2.4-.4h0m-77.6 2.5h0m7-.6h0m5.6 .1h0m2.2 .4h0m55.7-.5h0m3 1.4h0m.3-1.3h0m2.2 .7h0M58.8 230h0m2.4 .4h0m5.5-.2h0m5.5 .4h0m2.1 .2h0m2.4-.3h0m5.8 .2h0m2-.1h0m1.5-.2h0m.1 1.6h0m41.6 0h0m.1-1.8h0m.8 1.8h0m0-.8h0m2.1-1.2h0m2.5 .1h0m2.3-.1h0m-77.9 2.4h0m1.8 1.8h0m.3-1.9h0m16.2 .1h0m1.7 .6h0m2.9-.7h0m1.7 2h0m1-1.7h0m3.4 1.6h0m37-1.5h0m.4-.2h0m2.9-.1h0m4.2-.2h0m.6 .4h0m-71.4 3.7h0m1.3-1.5h0m12.9 .2h0m.8 1.4h0m1.2-2h0m2.8 .1h0m1.1 1.8h0m3.7-1.6h0m25.3-.1h0m10.9 .3h0m.7 1.5h0m2.2-1.2h0m.3 .7h0m1.4-.7h0m2.7-.5h0m2.5-.1h0m-72.4 2.2h0m20.7 .6h0m4.9-.6h0m2 .3h0m22.9-.2h0m5.2-.3h0m2.1 .6h0m.6-.5h0m1.7 1.9h0m.9-1.4h0m2.7-.4h0m.6 1.3h0m1.8-1.4h0m3 .7h0m-67.5 1.7h0m2 .1h0m15.6 0h0m2.2 .2h0m7.8-.4h0m2.6 .3h0m12.8-.2h0m7.3-.2h0m2.8 .5h0m0 .9h0m2.8 0h0m0-.7h0m3.8 .6h0m1.2-1h0m2.7-.3h0M60.1 241h0m2.2 .5h0m13.7 .1h0m2.2-.6h0m9.8 0h0m2.8 .5h0m3 0h0m1.7-.3h0m1.4 1.8h0m1.2-1.4h0m5.4-.3h0m2.8-.4h0m2 .1h0m1.2 1.5h0m1.1-1.1h0m.7-.1h0m2.1-.2h0m3.4 .1h0m2.5 .4h0m.7 1.4h0m-60.9 .2h0m2.4 .7h0m3.1-.4h0m1.6-.2h0m3.3 .4h0m2.4-.1h0m2.6-.3h0m.7 1.9h0m1.3-1.8h0m18.5 .5h0m4.8-.8h0m2.3 .9h0m2.9-.6h0m2.6 .1h0m2.8 .3h0m2.3-.2h0m2.8-.1h0m-57.3 2.3h0m2.5 .1h0m1.6 .3h0m2.8-.1h0m2.7-.7h0m2.1 .2h0m3.5-.1h0m20.5 .5h0m1.9-.4h0m5.2-.3h0m2.8 .9h0m2-.3h0m-44 2.5h0m5.1-.7h0m1.9 .7h0m3.4-.1h0m1.6-.1h0m2.5-.2h0m16.3-.1h0m2.5-.2h0m1.3 2h0m1.1-1.3h0m2.1-.5h0m1.6 1.7h0m1.5-1.2h0m2.5-.3h0m-36.9 2.5h0m1.6-.3h0m3.3 0h0m20.4 .3h0m5.2 .1h0m4.8-.6h0m-34.3 2.1h0m2.3-.2h0m3.1 .8h0m19.5-.4h0m2.9-.1h0m2.5 .3h0m-27.1 2.3h0m1.8 1.4h0m1.8-1.9h0m17.8 0h0m2 .2h0m2.5-.5h0m-21 3h0m.3 1.4h0m4.7-1.2h0m12.6-.8h0m1.9 .7h0m3.1-.4h0M80.4 259h0m2.8-.4h0m2 .1h0m8.4 .8h0m5.2-.6h0m-19.5 2.5h0m2.6 .2h0m2.5-.5h0m2.7 .1h0m4.6 .1h0m2.7 .3h0m-11.5 2.1h0m2.7 .1h0m2.8-.8h0m2.5 .6h0m3-.3h0m-9.1 2.4h0m2 0h0"/><path d="M18.5-145.6h0m15.4 .4h0m21.2 2.8h0m20.3 8.4h0m-53.7 3.8h0m49.7 2.4h0m8.5 .6h0m-5.3 3.9h0m-41.4 6.2h0m-1.9 2.4h0M51-92.5h0m57.9 6.4h0m-67.5 2.5h0m76.4-.1h0M26.7-81h0M51-74.5h0m56.8 .5h0M58-72.6h0M46-61.7h0m84 5.3h0m-71.9 1.9h0m14.1 1.9h0m6.3 6.8h0M58.2-32.7h0m81.6 17.5h0m7.5 13.8h0m-32.5 6h0M152.4 7h0m-8.1 9.4h0m4 6h0m-28.4 .4h0m14.4 23h0m29.2-1.6h0m-6.2 2.6h0" stroke="#bba5e0"/><path d="M8.3-140.3h0m27.3 3.5h0m-46.9 2.5h0m-23.9 2.4h0m9.3 2.4h0m103.6-.7h0m-55.9 5.3h0m39.2-2.3h0m-101.4 8h0m77.5 3.2h0m-64.4 1.7h0m68.9-.2h0M-85.8-110h0m64.3 2.6h0m-30.5 3.8h0m4.9 0h0m-20.9 2.5h0m53 .5h0m16.3 5.9h0m31.6-1.5h0m-96 3.7h0m66 .4h0m24.6 1.8h0m-30.7 5h0m123.5 1.9h0m-211 6.5h0m221.3 2.1h0m-11.4 7h0m-4.3 2.5h0m-7.8 8.4h0m21.9 1.8h0M80.6-50h0m4.8 8.2h0m-40.6 5.1h0m66.5-.5h0m-20.9 4.3h0m31.4 22h0m34.5 20.2h0m-33 21.7h0m35.9-1.6h0M24.7 38.6h0m9.5-.5h0m67.9 2.3h0m63.6-.6h0m-56.5 .8h0M-3.5 47.5h0m157.8 3.4h0m10.9 1h0m-60.6 10.7h0m35.6-.8h0m-60.4 67h0m-36.3 35.6h0" stroke="#b498e4"/><path d="M14.5-142.8h0m3.2 2h0m13.5-.4h0m24.8 .1h0m-21.5 2.9h0m-41.9 2.3h0m15.9-.3h0m-31 4.5h0m48.5 0h0m-9.2 1.9h0m12.1 2h0m21.1-1.9h0m-60.9 4.4h0m73.5-.2h0m-137.5 13.2h0m39.5 2.4h0m127.4-.2h0m11.7 2.2h0M-19-94.6h0m50.3-1.9h0m75.7 0h0M5-92.6h0m100.9-1.5h0M53-81.1h0M129.8-70h0m2.1 2.4h0m-86.7 4.3h0m-122.4 4.2h0m192.3-2.2h0m-77.9 11h0m11.6-2h0m90.9 6h0m-69.2 4.6h0m37.3 2.2h0M61.1-21.8h0m81.7-.2h0m-42.7 4.8h0m38.4-.2h0m3.2-1.3h0m-25.5 3.5h0m-2 5.1h0M124.4 3h0m8.1 1.7h0m9 2.7h0m-34.6 2.3h0m14.4-1.9h0m29.8 1.7h0m-42.6 2.3h0m15.7 .1h0m-14 1.8h0m2 4.6h0m33.7-.2h0m5 .1h0m10.3 .1h0m-49.5 2.5h0m45.5-.5h0m-29.7 11.6h0m4.4 .7h0m20.2 .9h0m-3.8 2.3h0m-42 2.2h0m16 0h0m44.1 15.2h0m4.5 5.1h0m-67.5 10.2h0m-5.6 11.8h0m-1.5 15.4h0m-9.6 28.7h0m-26.4 23.9h0m-12 11.7h0" stroke="#ab8be7"/><path d="M64.1-136.7h0m-95.9 2.2h0m94.6 .1h0m-68.3 5h0m75.7-.5h0m-14.5 4.5h0m-30.1 2.2h0m45.8 0h0m-128.8 6.9h0m42.3-2.2h0m39.8 2h0m2.6 0h0m22.6-.3h0m-146.3 2.3h0m99.6 0h0m1.9 .7h0m44.4 1.4h0m39.2 .5h0M-40-105.6h0m147.4-.3h0m-157.6 5h0m7 0h0m1.7-2.4h0m52.4 2.3h0m-42.5 2.5h0M13.6-89h0m24.2-.7h0m-148.7 8.4h0m20.4 1.4h0m129.1 5.8h0m81.9-.1h0M102-66.1h0m-18.7 3h0m-137.6 3.4h0m95.4-1.6h0m86.2 .6h0m-83.8 3.6h0M33-52.8h0m-149.2 2.7h0M67-47.6h0m-15.2 8h0m15.9 6.7h0m-11.8 7.1h0m-10.2 8.7h0m91 7h0m8.5 6.1h0m1.4 6.4h0m-11.4 7.1h0m7.8 8.9h0m6.9 2.3h0M121.8 25h0m29 2.5h0m12 2.2h0m-37.1 4.7h0m1.4 0h0m4-1.9h0m3.2 1.5h0m1.5 .1h0M25.9 36.4h0m97.8-.6h0m-96.9 3.4h0m2.4 1.1h0m7.7-2.5h0m70.8 2.6h0m-131.4 2.1h0m40.8-.2h0m7 .2h0m2.4-1.7h0m.7 0h0m92.8-.1h0M104.7 45h0m-109 4.4h0M160 51.6h0m-60.3 5.9h0m-5.4 18.7h0m.6 8.7h0m88.5 14h0m-87.1 5.5h0m-14.4 2.3h0m12.7 4.3h0m-16.8 10.7h0m-1.4 11.8h0m-231.2 21.1h0M-4 170.2h0" stroke="#a27eea"/><path d="M-3.5-133.8h0m73.2-2.5h0m-76.5 4.2h0m-53.1 1.9h0m90.6 2.3h0m-24.2 2.6h0m-21.5 1.8h0m15.6 5h0m14.2-1.8h0m-36.3 4h0m-19.2 6.1h0m38.1 0h0m14 2.1h0m-54.9 3h0m10.6-.1h0m-58.9 3.8h0m19.4 2.8h0m16.9 1.8h0m-45.9 5.2h0m48-.4h0m49-.1h0m17.2 .2h0m1.4 1.7h0M13-88.3h0m1.2 1.7h0m.1 .8h0m-169.1 .8h0M13-84h0m11.1-1h0m9.9 2h0m-20.6 2.3h0m.4-.6h0m-1.1 3h0m.1-.6h0m-.8 5h0m1.1-1.9h0M-80-71.9h0m204.1-.6h0m-261.3 7.8h0m25.5 3.7h0m221.4-.2h0m11.6 6.9h0M69.9-50h0m-18.5 2.1h0m66.6-.4h0m-21.6 2.4h0m-242 2.6h0m234.7 3.8h0m-39.9 4.7h0m41.4-1.8h0m12.1 2.2h0m34.5 2.3h0M66.4-30h0m37.6 6.7h0M90.1-21h0m16 1.3h0m3.9-2.2h0m-19.1 2.6h0m6 6.7h0m29.6 11.4h0m19.6 1.6h0m-40.5 6.7h0m41 .1h0m6.9-2.2h0m-40 6.2h0m-4.6 5.2h0m51.7-2.3h0m-44.8 11.1h0m40.6-2.4h0m-53.9 3.8h0m39.3 6.7h0m-109 3h0m4.2 1h0m75-1.9h0m46.4 .2h0M29.2 39.1h0m1.9 .6h0m.9 .2h0m2.5-1.1h0m91.9-.7h0m-97.8 2.6h0m83 2.1h0m-290.9 2.7h0m321.8 14.3h0m-182.8 2.4h0M92.2 84.1h0m-8.8 38.2h0M72 146.4h0m-228.7 7h0m210.9 2.2h0m-179 8h0m108.3 3.9h0m173.4 28h0m-9.7 20.3h0m-85.7 14.8h0" stroke="#9870ed"/><path d="M-18.8-138.2h0m-37.7 13.3h0m12.3-.8h0m33.8-1.8h0m4.4 2.7h0m18.6-2.1h0m-22.7 4h0m-28.8 2.4h0m1.4 1.4h0m16-1.5h0m10.9-.1h0m1.7 .3h0m1.7 1.7h0m1.6 2.1h0m9.4-.1h0m-3.6 1.9h0m-76 4.9h0m39.5-2.3h0m40.8 .6h0M-6.3-108h0m5.6 .1h0m6.9 .5h0m11.1 8.9h0M7.9-97h0m3.5 4.5h0m1.6 .3h0m-.6 2.4h0m.5 .5h0m4.3-.8h0m-6 2.1h0m.7 1.5h0m23.4 .5h0m-22.8 3.8h0m.2 4.9h0M-96.8-75h0m109.9 0h0m2.5-1.2h0m2.1 .4h0m-1.4 4.7h0m1.2-1.5h0M15.8-69h0m3.6-.2h0m-100.6 3.4h0m95.4-1.4h0m3.1 .8h0m2.9 1.7h0m-5.7 1.6h0m-1.4 2.9h0m44.5 .8h0m-127.8 1.7h0M43.3-52h0m13.2 3.5h0m-4.8 4.7h0m39.3-2h0m-29.2 6.5h0m-3.3 4.2h0m-15 14h0m7.6-.5h0m43.5 .4h0m-259.9 6.3h0M46-4.6h0m.1-2.2h0m4.1 2.7h0m-4.3 4h0m2.7 1h0m91.5 0h0M50.7 3.4h0m.7 1.4h0m.8 1.9h0M54 4.5h0m80.7 2.2h0M50.8 8.4h0m.8 .1h0m1.2 .1h0m2.4-.8h0m.9 1.7h0m76.7-.3h0m-83 1.7h0m3.7 2.5h0m1.6-1.6h0m-.2 4h0m16.6-2h0m-19.3 5h0m1.1-2.3h0m-4 3.8h0m0 .6h0m65.7 1.4h0m-65.4 2.4h0m62.8-1.7h0m-69.9 8.3h0m103.2-.1h0M39.2 32.8h0m2.6 .2h0m2.6-.3h0m-12.3 4h0m3.5-.1h0m.9-1.2h0m2.8-.7h0m.5 2.2h0m64.6-.9h0m-.3 9.2h0m-137.5 9.4h0m193.5 1h0M94.4 66.7h0m2.7 4.7h0m-3.9 20.1h0m-5 12.5h0m.2 18.4h0M-178.2 139h0m242.8 75.2h0m78.7 4.7h0m-66.3 30h0" stroke="#8d63f0"/><path d="M-74.5-120.6h0m10.2-.5h0m33.8 2.9h0m28.6 4.4h0m-24.4 5.8h0m11.1 2.3h0m24.4 2.8h0m1.6 6.6h0m3.4 1.7h0m-3.5 6.4h0m4 5.1h0m.7 2.7h0m-1.2 2h0m3 .2h0M14-74.7h0m2.4-.2h0M13-73h0m.4 1.2h0m1.6 .9h0m.2-.1h0m.4-2.1h0M-110-70.2h0m123.1 2.6h0m.1-.7h0m4.3-.1h0m1.3-1.9h0m-3.5 4.9h0m2.2 1.2h0m-3.2 5.5h0m2.9-2.5h0m.2 4.8h0m97.6-.3h0m5.3 0h0M23.8-54h0m82.1 6.3h0m-34.2 8.8h0m-16.3 1.6h0m14.5 4.8h0m3.2 9.1h0m-196.7 3.9h0m192.3-2.2h0m-26 8.3h0m3.6 2.7h0m-6.2 1.1h0m3.5 .4h0m1-1h0m-.7 3.8h0m4 1h0M44.5-3h0m5 .3h0m.3 .4h0m1.8-.5h0m-4 2.3h0m4.4-.7h0m-4.6 4.9h0m5.2-.5h0m1-1.4h0m70.7 2.7h0m-76 2.2h0m1-1.6h0m57.5 1.7h0m2.1 .5h0m46.1 0h0M53.4 8.2h0m1.9 1.2h0m45.3-.2h0m49.3-1.6h0m-99.4 5.9h0m1.5-2.3h0m3.1 1.3h0m-4.5 2.6h0m2 .5h0m93.5-1.1h0m12.4-.4h0M49 17.2h0m2.6 .5h0M49 21.2h0m.3-1.7h0m2.5 2.1h0m1.7-1.4h0m-4.8 5.3h0m1.5-1.8h0m.5 .8h0m4.1-1.1h0m-8.6 5.1h0m6-1.2h0m-8.5 1.4h0m1.9 2.1h0m2.2 .1h0m63.3-1.9h0m-72 5.5h0m1-.8h0m7-.1h0m-11.9 3.3h0m3.1-.2h0m3.1-2h0m1.7 .9h0m119.7 .8h0m.5-.7h0m1.7 1.5h0m-9.1 9.8h0m-49.4 4.1h0m-142.1 2.7h0m8.9 1.8h0m159.9 14.9h0m-44.7 29.7h0m-5 4.2h0m5.9 1.8h0m-36.9 51.3h0" stroke="#8056f3"/><path d="M-7.7-131.7h0m9.9 6h0M-94-110.1h0m55.2-1.2h0m30.4-.7h0m-76.2 2.8h0m96 15.4h0m-32.7 10.5h0m-139.3 8.8h0M134-68.1h0M13.2-64.6h0m6.2-1.9h0m-6.8 2h0m2.9 .4h0m.8 .9h0m2.7 .5h0m-3.8 1.5h0m.9 2.2h0m4.1-1.3h0m-5.1 3.8h0m4.2-1.8h0m2.5-.1h0m.4 1.5h0m-4.6 3.6h0m1.2-1.2h0m15.9 0h0m-19.1 2.4h0m5.8 1h0m2.7-1.3h0m-8 4h0m2.3 3.4h0m3.5-1.5h0m.3 1.4h0m.8-1h0m-1.8 2.8h0m21.3 2.5h0m.9 14.4h0m-192.6 2.3h0M38-19.3h0m-3.4 4.1h0m5.1 .4h0m2.3 .7h0m3.3 2h0m7 1.2h0m-12.2 .8h0M41.3-9h0m1.2-1.4h0m1.4 2.7h0m1.7-1.1h0m1.5-.6h0m-.3 2.6h0m.3 1.1h0m2.4 .5h0m-3.3 2.3h0m3.2 1.6h0m2.4 2.4h0m.7-.1h0m-.7 1.8h0m-1.6 4.7h0m.9-2.8h0m-2.4 4.4h0m.6 4.3h0m1.6 0h0m.2 2.4h0m.4 .4h0m12.1-2.5h0m-8.8 5.5h0m.8-2.1h0m-2 4.2h0m1.7-.9h0M46 25h0m1.3-1.9h0m5.3 .2h0m1.1 1.6h0m2.9-2.3h0M49.4 27h0m4.9-.6h0M40.7 31h0m3.8-1.3h0m4.5 0h0m.7 1.4h0m1.7-2h0m.4 .1h0m-8 5h0m1.8-1.4h0m2.7 0h0m53.9 12.7h0m.7 16.7h0m10.6 6.1h0" stroke="#7248f6"/><path d="M-71.8-89.7h0m49.5 6.7h0m44.1 23.1h0m-2 3.7h0m-2.6 2.3h0m3.4-1.4h0m1.3 2.7h0m-5.3 2.3h0m1.8 .3h0m1.3-2.3h0m3.7 2.2h0m2.3-.5h0m22.7-1.6h0m-30.2 3.1h0m.3 2.4h0m1.4-2.1h0m2.7 .9h0m3.7 1.4h0m47.1-2.7h0M20.7-45h0m-1.3 1.8h0m3.7 2.4h0m.1-1.7h0m.9 1.2h0m2.4 .7h0m1.7-1.6h0m-2.8 3.1h0m.4 4h0m-1.6 1.8h0m2.6 .6h0m1.1-1.5h0m-155.4 5.7h0m156.8 8.3h0m4-1.2h0m2.5 .9h0m.9-.9h0m1.7 .4h0m-3.7 1.7h0m1 2.8h0m3.1-.7h0m.9-.9h0m-4.1 1.9h0m5.8-.1h0m-3.3 4.5h0m.9 1h0m0-1.6h0m1.4-.4h0m5.7 40.3h0m1.5-1.1h0m-.6 2.8h0m-66.1 11h0m129.6 19h0m79.5 71.3h0M48.6 148h0m-106.8 25.3h0" stroke="#6139f9"/><path d="M24.6-47.9h0m2.3-.1h0m-2.8 4h0m3.4-.3h0M19.9-41h0m6.3-1.3h0M19.1-39h0m2 .6h0m2.5 .1h0m-1.1 2.2h0m2.6-.6h0m5.1 1.5h0m-10.1 2h0m.8-1h0m1.4 1h0m6.4 .4h0m-.2 2.4h0m4.1 .3h0m.8 1.5h0m-2.8 5.7h0m1.5 .3h0m1.8-1.9h0m2.1-.2h0m.7 2h0m-8.5 .5h0m3.4 2.1h0m.5 2h0m1.9 1.2h0m2.8-1.2h0m3.4 1.6h0M37.1-15h0" stroke="#4c28fb"/><path d="M28.6-39.1h0m-8 2.9h0m6-.6h0m3.1 .8h0m-5.5 2h0m6.9 1.5h0m-7.6 2.3h0m.6 1.6h0m1.8-2.6h0m.7 2h0m4.1-1h0m-4.2 3.1h0m2.3 .8h0m.5-2.2h0m1.2 1.5h0m.7-1.3h0m1.6 2h0m-7.7 1h0m1.5 .9h0m3.1-1h0m1.5 1.2h0m3.7 1.1h0M31-19.9h0" stroke="#2b12fe"/></g>
<g transform="translate(1034.9 377.2)" stroke="#d3d3d3" stroke-width="4.8" stroke-linecap="round" fill="none"><path d="M10-136.2h0m11 0h0m11 0h0m-71.5 9.5h0m11 0h0m11 0h0m33 0h0m-93.5 9.5h0m11 0h0m11 0h0m11 0h0m11 0h0m11 0h0m11 0h0m-82.5 9.6h0m11 0h0m11 0h0m33 0h0m11 0h0m-71.5 9.5h0m11 0h0m11 0h0m77 0h0m11 0h0m-137.5 9.5h0m44 0h0m99 0h0m11 0h0m11 0h0M-122-79.1h0m-5.5 9.6h0m11 0h0m231 0h0M-155-60h0m33 0h0m11 0h0m11 0h0m-60.5 9.5h0m55 0h0m-60.5 9.6h0m11 0h0m55 0h0m-49.5 9.5h0m11 0h0m33 0h0m-27.5 9.5h0m11 0h0M98 92.4h0m-5.5 9.5h0m-5.5 9.6h0m-253 38.1h0" stroke-width="18"/><path d="M2-139.7h0m6 0h0m6 0h0m6 0h0m6 0h0m6 0h0m6 0h0m6 0h0m-75 5.2h0m6 0h0m6 0h0m6 0h0m6 0h0m6 0h0m6 0h0m6 0h0m6 0h0m6 0h0m6 0h0m6 0h0m6 0h0m6 0h0m6 0h0m6 0h0m6 0h0m-117 5.2h0m12 0h0m6 0h0m6 0h0m6 0h0m6 0h0m6 0h0m6 0h0m6 0h0m6 0h0m6 0h0m6 0h0m6 0h0m6 0h0m12 0h0m6 0h0m6 0h0m6 0h0m6 0h0m6 0h0m6 0h0m-159 5.2h0m6 0h0m6 0h0m6 0h0m6 0h0m6 0h0m6 0h0m6 0h0m6 0h0m6 0h0m6 0h0m6 0h0m6 0h0m18 0h0m6 0h0m6 0h0m60 0h0m-165 5.2h0m6 0h0m6 0h0m6 0h0m6 0h0m6 0h0m6 0h0m6 0h0m6 0h0m6 0h0m6 0h0m6 0h0m6 0h0m18 0h0m6 0h0m6 0h0m6 0h0m60 0h0m-177 5.2h0m6 0h0m6 0h0m6 0h0m6 0h0m6 0h0m6 0h0m6 0h0m6 0h0m6 0h0m6 0h0m6 0h0m6 0h0m6 0h0m6 0h0m30 0h0m6 0h0m-129 5.2h0m6 0h0m6 0h0m6 0h0m6 0h0m6 0h0m6 0h0m12 0h0m6 0h0m6 0h0m6 0h0m6 0h0m6 0h0m18 0h0m12 0h0m12 0h0m-129 5.2h0m6 0h0m6 0h0m6 0h0m6 0h0m6 0h0m6 0h0m6 0h0m18 0h0m6 0h0m6 0h0m6 0h0m24 0h0m6 0h0m6 0h0m6 0h0m90 0h0m-225 5.2h0m6 0h0m6 0h0m6 0h0m6 0h0m6 0h0m6 0h0m6 0h0m6 0h0m6 0h0m6 0h0m12 0h0m42 0h0m6 0h0m6 0h0m6 0h0m6 0h0m-141 5.2h0m6 0h0m6 0h0m12 0h0m6 0h0m6 0h0m6 0h0m6 0h0m6 0h0m66 0h0m6 0h0m6 0h0m6 0h0m6 0h0m6 0h0m6 0h0m6 0h0m6 0h0m72 0h0m-255 5.2h0m6 0h0m6 0h0m6 0h0m6 0h0m18 0h0m6 0h0m6 0h0m6 0h0m6 0h0m6 0h0m72 0h0m6 0h0m6 0h0m6 0h0m6 0h0m6 0h0m6 0h0m78 0h0m-261 5.2h0m6 0h0m6 0h0m6 0h0m6 0h0m6 0h0m18 0h0m12 0h0m6 0h0m6 0h0m6 0h0m84 0h0m6 0h0m6 0h0m6 0h0m6 0h0m6 0h0m6 0h0m6 0h0m54 0h0m6 0h0m-273 5.2h0m6 0h0m18 0h0m6 0h0m6 0h0m6 0h0m36 0h0m102 0h0m18 0h0m6 0h0m60 0h0m6 0h0m6 0h0m-279 5.2h0m6 0h0m18 0h0m6 0h0m6 0h0m6 0h0m36 0h0m102 0h0m6 0h0m78 0h0m6 0h0m6 0h0m6 0h0m-285 5.2h0m6 0h0m6 0h0m12 0h0m6 0h0m6 0h0m6 0h0m6 0h0m36 0h0m96 0h0m6 0h0m6 0h0m12 0h0m60 0h0m6 0h0m6 0h0m6 0h0m6 0h0m-291 5.2h0m6 0h0m6 0h0m6 0h0m24 0h0m6 0h0m6 0h0m6 0h0m6 0h0m6 0h0m6 0h0m102 0h0m6 0h0m48 0h0m6 0h0m24 0h0m6 0h0m6 0h0m6 0h0m6 0h0m6 0h0m-297 5.2h0m6 0h0m6 0h0m6 0h0m24 0h0m6 0h0m6 0h0m6 0h0m6 0h0m120 0h0m54 0h0m6 0h0m6 0h0m30 0h0m18 0h0m-303 5.2h0m6 0h0m6 0h0m6 0h0m6 0h0m18 0h0m18 0h0m6 0h0m6 0h0m120 0h0m42 0h0m18 0h0m30 0h0m-279 5.2h0m6 0h0m6 0h0m18 0h0m30 0h0m6 0h0m6 0h0m6 0h0m114 0h0m24 0h0m18 0h0m18 0h0m-255 5.2h0m6 0h0m6 0h0m6 0h0m12 0h0m6 0h0m24 0h0m6 0h0m6 0h0m6 0h0m114 0h0m-195 5.1h0m6 0h0m6 0h0m6 0h0m6 0h0m6 0h0m6 0h0m6 0h0m18 0h0m6 0h0m6 0h0m6 0h0m180 0h0m-255 5.2h0m6 0h0m6 0h0m6 0h0m6 0h0m6 0h0m6 0h0m6 0h0m6 0h0m6 0h0m6 0h0m6 0h0m174 0h0m18 0h0m6 0h0m-261 5.2h0m18 0h0m6 0h0m6 0h0m6 0h0m6 0h0m6 0h0m6 0h0m6 0h0m138 0h0m60 0h0m6 0h0m-249 5.2h0m6 0h0m6 0h0m6 0h0m6 0h0m6 0h0m6 0h0m192 0h0m60 0h0m3 5.2h0M47-9.8h0m90 0h0m6 0h0m-9 5.2h0m6 0h0m6 0h0M131 .6h0m-15 5.2h0m6 0h0m6 0h0M113 11h0m18 0h0m12 0h0m-321 5.2h0m291 5.2h0m42 0h0m-333 5.2h0m300 0h0m24 0h0m6 0h0m-333 5.2h0m324 0h0m6 0h0M-178 37h0m342 0h0M-34 47.4h0m6 0h0m6 0h0m6 0h0m6 0h0m174 0h0m-195 5.2h0m6 0h0m6 0h0m180 0h0m-195 5.2h0m198 0h0m-60 10.4h0m-3 5.2h0m6 0h0m-9 5.2h0m6 0h0m-3 5.2h0M98 89h0m6 0h0m-9 5.1h0m6 0h0m-15 5.2h0m6 0h0m6 0h0m-15 5.2h0m6 0h0m6 0h0m-15 5.2h0m6 0h0m6 0h0m-15 5.2h0m6 0h0m6 0h0m-273 5.2h0m264 0h0m6 0h0m-270 10.4h0m0 10.4h0m6 0h0m-3 5.2h0m6 0h0m6 0h0m6 0h0m6 0h0m-21 5.2h0m6 0h0m6 0h0m6 0h0m6 0h0m-9 5.2h0m6 0h0m6 0h0m3 5.2h0m108 10.4h0m6 0h0m117 67.5h0m-3 5.2h0m6 0h0m6 0h0M77 250h0m6 0h0m6 0h0m-9 5.2h0m6 0h0m6 0h0m-3 5.2h0" stroke-width="10"/><path d="M15.9-149h0m1.8-.3h0m12.8 .1h0m-28.7 2.3h0m2.2-.5h0m2.7 .5h0m2.9 .1h0m9.7-.2h0m7.3-.3h0M.1-145.4h0m2.9 .6h0m2.9-.3h0m1.5-.4h0m3.3 .7h0m2.5-.2h0m2.6-.5h0m2.7-.1h0m2.5 .9h0m2.6-.1h0m2-.4h0m2.9 .5h0m1.9-.9h0m3.5 .4h0m2.2 .5h0m4.6-1h0m2.6 1.1h0m-46.7 2.1h0m2.4-.3h0m2.6 .2h0m3.1 0h0m2.4-.1h0m2.6-.3h0m2.1 .1h0m2.7 .1h0m2.6-.6h0m2.1 .7h0m3.2-.1h0m2.2-.1h0m2.5 .5h0m2.1-.9h0m2.6 0h0m3.1 .7h0m2.7-.5h0m1.9-.1h0m3 .1h0m2 .6h0m2.9-.3h0m3.1 .2h0m4.6 .2h0m2.8-.8h0m2.3 .6h0m-77.6 1.6h0m5.5 .1h0m1.6-.2h0m2.8 .7h0m2.3-.4h0m2.7-.5h0m48.7 .7h0m3.1-.4h0m1.5-.1h0m3.1 0h0m2.1 0h0m2.6-.2h0m3.5 .6h0m2.3-.1h0m1.8 .3h0m2.9 .2h0m-102.8 1.8h0m4.3-.1h0m3-.1h0m2.2-.2h0m2.9 .8h0m2.5-.1h0m2.3-.1h0m2.3-.3h0m3.5-.4h0m2.2 .8h0m2.2-.2h0m2.9 .1h0m2.8-.3h0m47.9 .2h0m2.2-.1h0m3.4-.1h0m2.1-.2h0m2.8 0h0m2.7 .2h0m1.9 .3h0m2.6-.5h0m2.6 .7h0m2.7-.4h0m5.3-.6h0m-111 3.2h0m2.5-.2h0m5.7 0h0m4.3-.3h0m7.5 .4h0m5.6-.2h0m4.6-.4h0m2.4 0h0m54.4 0h0m2.2 .1h0m3-.3h0m1.9 0h0m2.8 .7h0m2.6-.6h0m2.1-.1h0m3.5 .5h0m2.3 .1h0m2.7-.5h0m-128.8 2.9h0m10.2-.5h0m2.6-.2h0m2.3 .6h0m2.4-.3h0m2.8 .5h0m101.6-.6h0m2.9 .1h0m2.4-.5h0m2.3 .7h0m2.6-.3h0m2.9 .7h0m-149.4 2.2h0m5-.9h0m3 .6h0m5 0h0m2.5-.3h0m2.8-.4h0m1.7 0h0m2.7 .2h0m2.7 .5h0m81.9 .2h0m30.2-.2h0m2.3-.5h0m2.8 .7h0m2.4 0h0m2.7-.9h0m2.5 .8h0m2.3-.4h0m-161.5 2.6h0m7.6 .2h0m5-.3h0m2.3-.2h0m2.7-.5h0m2.9 .1h0m2.2 .1h0m5.5 .7h0m2.7-.3h0m83.6 .1h0m3-.1h0m43.3-.6h0m-166.9 2.8h0m1.9 .2h0m2.7-.3h0m3.3-.2h0m2.1-.1h0m2 .1h0m3 .7h0m2.4-1h0m2.5 .1h0m2.5 .1h0m2.7 .3h0m2.6 .5h0m56.3-.1h0m5.6-.1h0m22.9-.6h0m5 .3h0m2.4 .3h0m2-.2h0m2.5-.3h0m5.7 .5h0m2.3-.2h0m2.7 0h0m7.4-.2h0m2.1 .4h0m3.2-.4h0m2.8 .6h0m4.4-.8h0m5.8 .7h0m7.5-.4h0m-170 2h0m2.9 .6h0m7.2-.9h0m71.5 .2h0m2.5 .5h0m3.3-.2h0m1.7-.1h0m2.7 .1h0m20.9-.1h0m2.2 .7h0m2.9-.4h0m2.6 0h0m4.6-.3h0m3.1 .5h0m1.7-.1h0m3.3-.7h0m2.6 .8h0m2.6-.8h0m2.7 .3h0m2.1 .7h0m3-1h0m1.8 .2h0m2.7-.2h0m2.8 .4h0m2.3 .3h0m2.4 .1h0m2.7-.3h0m2.4-.5h0m7.7 .2h0m2.8 .7h0m2.5-1h0m-179.7 3.1h0m2.5 .2h0m2.6-.8h0m1.9 .2h0m79.3 .6h0m5.7-1.1h0m5 .1h0m17.4 .3h0m3.2 .3h0m20.5 0h0m2.1-.1h0m20-.2h0m3.2-.1h0m1.7 0h0m2.9 .1h0m7.4 .1h0m2.5 .5h0m2.5-.3h0M-90-121h0m2-.1h0m3 .3h0m78.8 .1h0m2.4 .4h0m5.7-.4h0m4.8-.1h0m23.3-.5h0m20.1 .8h0m2.5-.3h0m23.2-.4h0m2 .2h0m2.4 .3h0m8.3-.5h0m2.4-.2h0m-185.2 2.5h0m2.9 .3h0m2.3 .1h0m2.7-.5h0m81.4 .5h0m2.5-.1h0m3.1 .1h0m2.3 .1h0m2.9-.5h0m23.1 .8h0m19.7-.3h0m3.1-.4h0m27.5 0h0m2.2 .2h0m8.6 .4h0m2.1-.4h0m-190.3 2.3h0m2.7-.2h0m2.5 .5h0m3.3 0h0m1.6-.8h0m3.2 .2h0m79.3 0h0m2.6 .6h0m2-.3h0m3-.5h0m1.8 .1h0m3 .1h0m2.7-.3h0m1.9 .8h0m2.8-.2h0m3.2 .4h0m11.8-1.1h0m4-.1h0m3.9 1.1h0m10.5-.7h0m2.3-.1h0m33.8-.2h0m1.6 1h0m2.8-.6h0m2.4 .3h0m3.4-.6h0m-197.9 2.3h0m2.5 .3h0m2.2 .2h0m2.9-.4h0m2.9 .3h0m88.7-.4h0m2.9 .8h0m2.1-1h0m3 .3h0m1.9 .7h0m2.9-.1h0m2-.7h0m3.2 .8h0m2.5-.6h0m2.9-.1h0m1.9 .7h0m10.8-.9h0m2.5 .3h0m2.7-.3h0m5.1 .2h0m1.8 .1h0m3.3 .1h0m1.8 .5h0m3.2-.4h0m33.2-.5h0m2.5 .3h0m2.7 .2h0m2.3 .2h0m2.5-.4h0m2.4-.2h0m-202.5 2.7h0m1.9-.4h0m2.5 .1h0m85 .5h0m12.1-.2h0m2.2 .3h0m6 0h0m2.3-.6h0m3-.3h0m2.1 .2h0m5.5-.2h0m1.5 .9h0m5.7-.2h0m7.3-.6h0m3.1 .5h0m7.9 .1h0m2.3-.6h0m2.6-.1h0m1.7 .1h0m2.9 .7h0m36.3-.2h0m2.4-.2h0m1.9 .4h0m3.1-.7h0m1.9 .2h0m2.8 .3h0m-213 2.2h0m2.6-.4h0m3.2 .7h0m1.7 0h0m44.1-.2h0m2.3 .1h0m2.7-.7h0m38.5 0h0m2.5 .3h0m2.3 .3h0m2.9 0h0m1.9 .2h0m4.9-.8h0m5.5-.1h0m2.7 1h0m4.7-.9h0m5.6 .8h0m2.1-.5h0m4.7-.4h0m2.6 .1h0m3.6 .4h0m4.8-.2h0m9.7 .1h0m2.5-.2h0m2.4-.2h0m2.5 .5h0m28.3-1.2h0m10.5 1.5h0m2.4-.6h0m2.8 .7h0m2.9-.3h0m2 .1h0m-212.8 2.2h0m2.9-.4h0m2.4-.2h0m2.8 .6h0m1.6 .1h0m43.4-.3h0m2.6-.1h0m2.7 .1h0m36.2 .2h0m2.4 0h0m2.5-.5h0m2.9 .1h0m1.9 .7h0m2.5-.9h0m5.6 .1h0m2-.2h0m3.2 1h0m6.9-1h0m2.6 .5h0m3.1-.4h0m5.4 .2h0m2.6 .4h0m1.6-.4h0m2.8 .5h0m2.6-.8h0m3.2 .6h0m2 .3h0m2.5-.6h0m5.7 .4h0m2.4-.3h0m1.9 .1h0m41.2-.1h0m2.4 .2h0m2.7-.3h0m2.8 .2h0m2.2 .5h0m2.6-.8h0m-226 2.6h0m5.6-.6h0m2.6 .6h0m1.9-.1h0m3.2-.2h0m1.7 .2h0m3.5 .2h0m40.5 .1h0m2.5-.6h0m5.1 0h0m2.2 .3h0m32.9-.5h0m2.5 .1h0m2.9 .1h0m5 .8h0m11-.2h0m2.2-.4h0m10.4-.2h0m2.3 .7h0m2.7-.8h0m2.4 .5h0m2.1-.4h0m5 .3h0m2.7-.1h0m2.7-.1h0m3 .2h0m2.4-.1h0m2-.2h0m2.6 .4h0m3.1-.2h0m2.3 .6h0m2.8 0h0m40.8-.3h0m2.5 .2h0m2.4-.1h0m3.1-.4h0m2.4 0h0m2.1 .2h0m2.6-.6h0m-233.6 2.7h0m5 .4h0m2.7-.9h0m3 .2h0m2.5 .2h0m48.8 .3h0m1.7-.2h0m7.9 .1h0m2.6-.5h0m28 .5h0m2.8-.5h0m2.9 .8h0m2-.9h0m2.1 1h0m3.5-.9h0m27.8 .3h0m2.1 .2h0m23.7 .2h0m2.2-.7h0m2.9 0h0m2.2 .5h0m2.3 .2h0m40.6-.3h0m2.8 .1h0m2.1 .4h0m5.2-.4h0m3.5 .4h0m2.2-.7h0m-233.8 2.8h0m2.7-.4h0m3-.5h0m1.7 .2h0m3.1 .7h0m51-.7h0m2.2 .3h0m3.4 .3h0m2.2-.3h0m2 0h0m5.6 .1h0m2.5 .4h0m2.3-.4h0m3 .4h0m2.3-.4h0m2.1-.1h0m2.8 .2h0m2.3 .1h0m3.2 0h0m2.8-.8h0m2.1 .2h0m2.3-.2h0m2.3 .1h0m3 .8h0m3.1-.6h0m2.1 .2h0m25.1-.4h0m3 .5h0m2.4 .3h0m22.9-.7h0m2.6-.2h0m5.4 .4h0m42.6-.2h0m2.6 .2h0m2.8-.3h0m2.4 .8h0m2.7-.4h0m3.3-.1h0m1.8 .5h0m-243.9 2h0m6.2-.4h0m1.9 .3h0m66.3-.1h0m2.7 .1h0m2.6-.5h0m5.4 .6h0m2-.2h0m2.4-.5h0m2.6 0h0m2.8 .6h0m2.9-.4h0m2.3 .2h0m2.4 .4h0m2.5-.7h0m2.7-.1h0m8.1 .9h0m1.7-.2h0m2.6-.5h0m2.4-.1h0m28.9 .7h0m2.2-.3h0m2.9 0h0m20.5-.5h0m2 .9h0m2.9 0h0m5-.8h0M70-98h0m23.4 0h0m1.7-.5h0m3.8 .1h0m2.5 .1h0m2 0h0m3.2-.4h0m1.6-.5h0m3 .6h0m5.1 .1h0m-250.9 2.1h0m1.8-.7h0m2.9 .2h0m2.8 .1h0m64 .7h0m2.4-.7h0m2.5 .2h0m2.7-.2h0m1.8 .1h0m5.3 .6h0m2.6 0h0m5-.5h0m3.2 .1h0m2.3-.5h0m17.6 .1h0m2.4 .4h0m2.4-.6h0m31.5 1h0m2.5-.3h0m1.9 0h0m2.4 .2h0m3-.9h0m2.9 .6h0m1.6 .3h0m3.2-.1h0m2.9 .2h0m2.7-.3h0m1.9-.6h0m2.9 .4h0m2.2-.2h0m2.5 .3h0m2.7 .3h0m48-.8h0m2.9 .9h0m2.2-.4h0m3.3-.2h0m1.9 .5h0m2.9 .1h0m-255.8 1.8h0m2.4 .2h0m2.4 .1h0m1.9-.4h0m3.2 .1h0m20.7-.4h0m2.3 .4h0m38-.5h0m2.3 .3h0m2.9 .3h0m2.3 0h0m2.4-.3h0m2.3-.1h0m3.4 .2h0m2.7 .2h0m2-.4h0m2.3 .8h0m5.9-.3h0m2.3-.8h0m20 .3h0m2.7 .4h0m2.9-.1h0m34.9-.4h0m11.2 0h0m11.9 .6h0m2.9-.4h0m2.3 .6h0m2.9-.5h0m2.5 .4h0m15.7 .3h0m12.1-.9h0m20.1 .2h0m2.8 .3h0m3.1 0h0m1.8 .1h0m5.8 .1h0m2.8 0h0M-142.2-92h0m2.7 0h0m2.7-.1h0m1.7-.1h0m2.4 0h0m21 0h0m2.2 .4h0m2.7-.5h0m38.1 0h0m3.1-.3h0m2.5 .1h0m2.5 .4h0m2.3-.4h0m2.1-.2h0m2.8 .7h0m33.8-.2h0m4.5-.2h0m2.5 0h0m2.7 .4h0m53.5-.6h0m2.2 .8h0m5.2-.7h0m2.6 .8h0m2.8-.8h0m47-.3h0m1.2 .5h0m3.1-.4h0m2.6 .3h0m7.3 .4h0m-263.9 1.8h0m2.1 0h0m2.6 0h0m2.9 .1h0m2.5-.2h0m20.9 .6h0m1.8-.1h0m8.1-.3h0m2.8 .7h0m35.4-.1h0m2.1 0h0m5.2-.1h0m2.7-.4h0m43.2 .6h0m3.1-.2h0m2.3-.4h0m2 .5h0m3.2-.9h0m2.1 0h0m46.8 .6h0m6.9 0h0m3.3-.5h0m1.9 .6h0m22.8-.5h0m27.8 .8h0m3.1-.6h0m7.7 .1h0m2.4 0h0M-150-87.3h0m2.7-.8h0m2.6 .4h0m30.3 .4h0m2.8 0h0m4.8-.9h0m2.9 1h0m38.1-.7h0m40.8 0h0m12.1 .5h0m6-.1h0m2-.3h0m2.5 .3h0m49 .1h0m1.8-.6h0m3 .5h0m3-.6h0m2.2 .4h0m2.6-.5h0m2.2 .9h0m46.5-.8h0m1.6 .8h0m2.6-.5h0m8-.3h0m2.2 .1h0m3 .3h0m-276.8 2.1h0m2.6 .4h0m2.9 .1h0m33-.9h0m2.1 .3h0m2.7 .5h0m2.8 0h0m2.8-.5h0m10.1-.2h0m2.7 .6h0m25.1 .1h0m2.9 .1h0m15.2-.2h0m1.8-.4h0m41.6 .4h0m2-.7h0m5.9 .5h0m2.1 .2h0m3 .2h0m34.9-.8h0m2.3-.2h0m3.6 .3h0m1.6-.1h0m3.2 .7h0m2.3-.6h0m2 .6h0m3.5-.5h0m45.7-.4h0m1.9 .9h0m10.5-.5h0m2.9 .5h0m-277 2.4h0m2.3-.2h0m2.6-.3h0m35.6 .1h0m3.5 .1h0m1.7-.6h0m3.1 .1h0m2.6 .1h0m7.1 .2h0m3.4-.3h0m1.7-.1h0m26.3 .9h0m1.7-.2h0m13.4 .2h0m2 0h0m2.9-.4h0m5.5-.8h0m15.6 1.3h0m17.1-1.1h0m5.6 .6h0m1.8-.2h0m3 .6h0m2.4-.1h0m2-.3h0m51.2-.6h0m3 0h0m1.8 .4h0m41.7-.1h0m2.3-.3h0m12.5 .1h0m3 .8h0M-159.1-81h0m4.7-.3h0m3.4 0h0m1.9 .2h0m7.7 .2h0m30.5-.4h0m2.5 .6h0m5.1-.4h0m3.4-.5h0m4.9 .9h0m1.7-.3h0m5.6-.4h0m22.5 .6h0m3.3-.8h0m13 .9h0m2.3-.5h0m2.7 .6h0m2.3 0h0m5.5-1.4h0m37.6 .9h0m5.7-.1h0m1.8 .6h0m2.8-.2h0m2.3-.8h0m17.8 1h0m23.6-.3h0m7.8-.8h0m1.9 .4h0m1.8 .6h0m39.7 0h0m1.7-.6h0m13.4 .5h0m2.2-.8h0m2.1 .3h0M-158-78.7h0m2.3 .1h0m11-.2h0m2.4 0h0m2.8-.2h0m1.6-.1h0m2.7 0h0m25.5 .3h0m3.2 .1h0m2-.2h0m5.2 .2h0m2.8 .1h0m2.5 0h0m5.5 0h0m2.4-.6h0m2.2 .3h0m3.1-.5h0m2.1 .7h0m8.1 .3h0m2-.7h0m2.6 .1h0m2.2-.4h0m18.3 .6h0M9-78.6h0m4.5-.7h0m2.1 0h0m2.6 .3h0m3 .2h0m2.1 0h0m7.7-.5h0m2.6 .2h0m2.5 .7h0m2.8-.2h0m2.6-.7h0m11.9 .7h0m3.4 .1h0m2.3-.8h0m2.8-.1h0m2.2 .3h0m35.5 .5h0m3 .1h0m2.7-.3h0m1.9 .3h0m15.7-.9h0m2.1 1h0m2.5-.1h0m-286.1 1.4h0m2.2-.1h0m12.9 .1h0m2.8 .7h0m2.1-.1h0m2.1-.4h0m2.5 0h0m26.1 .4h0m2.5-.1h0m10.2 .4h0m2.3-.9h0m2.2 .2h0m3.4-.2h0m2.2 .5h0m3.1 0h0m2.1 0h0m7.4-.5h0m2.2 .1h0m2.7 .7h0m76.3-.5h0m6 .1h0m2-.1h0m5.9-.2h0m6.9 .7h0m2.5-.1h0m3.3-.3h0m1.8 .1h0m2.7 0h0M53-77h0m2.5 0h0m2.1-.2h0m3.1 .7h0m1.7-.4h0m2.4 .5h0m4.8 0h0m28.9-.8h0m2.8 1h0m1.8-.8h0m3.3-.2h0m19.8 1h0m2.9-.4h0m-289.7 2.1h0m2.7 .2h0m10.1-.1h0m3.2 .3h0m2-.5h0m4.9 .4h0m3-.2h0m25.8-.5h0m2.2 .8h0m2.8-.1h0m7.1-.8h0m3.2 .2h0m2.1 .1h0m7.8-.3h0m2.5 .8h0m5.3 .2h0m2.8 .1h0m2.3-.9h0m2.7-.1h0m80.8 .1h0m.9 .7h0m2-.5h0m2 .1h0m3.2-.1h0m10.6-.1h0m7.2 .6h0m2.5 0h0m2.4 .1h0m3.2 0h0m2.2-.9h0m2.1 .4h0m2.8 .4h0m3-.4h0m1.7 .4h0m3.3-.2h0m2 .1h0m2.4-.2h0m34 .1h0m2.2-.2h0m2.1 .5h0m20.5-.9h0m2.6 .9h0m3-.8h0m-292.3 2.5h0m2.2 .5h0m13-.5h0m2.7 .3h0m5.5-.1h0m2 .3h0m25.9-.7h0m2.3 .3h0m8.1-.2h0m2.4 .5h0m2.9-.5h0m1.6 .2h0m2.4 0h0m6 .1h0m2.2-.4h0m7.4 .6h0m2.3-.9h0m3.3 .3h0m2.7 .2h0m26.2 .7h0m54.7-.5h0m1.9-.7h0m.6 .5h0m2.5 .2h0m13.1-.7h0m8 .3h0m2.6 .4h0m2.1 .1h0m2.4 .1h0m2.6-.8h0m8.1 .1h0m2.4 .3h0m2.9 .1h0m1.6-.6h0m33.9 1.1h0m2.5-.4h0m2.4-.3h0m25.2-.2h0m2.7 .2h0m2.1-.4h0m-297.1 3.2h0m3.1 0h0m12.6-.6h0m2.6-.2h0m2.6 .7h0m2.2 0h0m3.1-.3h0m27.3 .2h0m8.2 .1h0m2.4-.8h0m2.5-.1h0m2.9 1h0m10.5-.9h0m2.1 .5h0m5.6 .2h0m2-.4h0m3 .5h0m83.5 .2h0m2.7-.2h0m1.4-1.5h0m1.8 1.6h0m14.5-.1h0m2.9-.5h0m2.5 .1h0m2.6 0h0m2.1-.5h0m3.1 .4h0m2.6-.1h0m10.2 .4h0m2.1-.5h0m2.5 0h0m2.3-.2h0m2.8 .2h0m30.5 .7h0m3-.8h0m27.4 .5h0m2.8-.4h0m-296.5 2h0m1.9 .6h0m17.9 0h0m2.7-.1h0m2.2 .3h0m29.1-.1h0m2.1-.7h0m2.7 .6h0m5.4-.6h0m2.1 .1h0m2.1 .6h0m2.5-.1h0m3.5 .3h0m1.9-.8h0m5.3 .6h0m2.3-.3h0m7.6 .4h0m13.2-.8h0m8.4 1.3h0m65.1-.6h0m1.2-.7h0m1.1 .7h0m18.1-.1h0m2.8-.1h0m2.5 .5h0m2.3-.5h0m5.8-.3h0m2.6 .7h0m2.1-.3h0m4.7-.4h0m2.9 .8h0m2.7-.1h0m2.4-.8h0m2.4 .1h0m2.8-.2h0m1.3 .2h0m26.6 .2h0m33.5 .4h0m-297 2.4h0m1.9 0h0m18.1-.4h0m2.9 .1h0m1.8 0h0m34.1 0h0m2.2-.3h0m8.1 0h0m1.5 .4h0m3.1-.3h0m2.3 .1h0m2.6 .2h0m2.3-.5h0m3 .1h0m3-.4h0m4.2 .6h0m12.9 .4h0m2.6-.9h0m2.3 .9h0m69 0h0m.8-1.6h0m2.1 1.3h0m12.5 .2h0m2.3 .1h0m3.3-.4h0m1.7 .1h0m3.1-.4h0m2.3-.1h0m4.9 .7h0m2.6-.6h0m2.8-.2h0m2.2 .2h0m6.1 .1h0m1.6 .5h0m3.1-.4h0m2.4 .6h0m2.9-.2h0m2.2-.6h0m2.9-.1h0m1.9 .5h0m3.1-1.4h0m17.6 1.5h0m2.1 .2h0m31.4-.3h0m2.3-.7h0m-299.5 2.5h0m2.3 .3h0m20.6-.2h0m2 .2h0m2.4 0h0m3 .4h0m3-.5h0m1.9 0h0m38.2 .1h0m3.1-.4h0m1.9 0h0m5.9-.1h0m2.4 .2h0m2.6 .2h0m1.8 .5h0m3.2-.4h0m21.2-1.1h0m65.2 1.3h0m12.5 .1h0m2.5-.5h0m2.8 .5h0m2.4-.9h0m7.5 .5h0m3.3 .2h0m2.6 .3h0m2.1-.1h0m2.9-.3h0m7.5-.3h0m2.7 .6h0m2.4-.8h0m2.7 .1h0m10.5 .3h0m2.6-.1h0m2.1 .5h0m2.8-.3h0m2.1-.6h0m2.5 .2h0m2.8 .4h0m2.4-.1h0M98-63h0m35.9-1h0m2.8 .4h0m-304.9 2.7h0m2.8-.6h0m22.7 .4h0m2.8 .2h0m2.1-.3h0m2.5 .3h0m2.5-.7h0m3.3 .6h0m47.8-.6h0m3.1 .7h0m2.7-.4h0m12.4 .2h0m4.8 .3h0m71.5-.4h0m.7-.5h0m.3-.7h0m12 1.1h0m2.6 .1h0m2.9-.1h0m9.8 0h0m2.7-.2h0m2.2-.2h0m2.7 .1h0m5.5 .6h0m2.1-.4h0m2.5-.2h0m2.4-.1h0m3.1 .6h0m1.9 .1h0m2.5-.2h0m11 0h0m2 0h0m2.6-.1h0m2.9-.3h0m2.5 .3h0m2.7 .3h0m5.3-.4h0m35.6 .1h0m1.7 0h0m-303.8 2.6h0m2.5-.3h0m22.4 0h0m3.1-.5h0m2.4 .1h0m9.6 .7h0m35.6-.2h0m2.6-.5h0m2.7 0h0m2.6 .8h0m3.3-.9h0m2.1 0h0m2.7 .4h0m91.6 .2h0m2.3-.5h0m8.2 .4h0m2 .4h0M30-59h0m1.8 .2h0m6-.2h0m6.8 0h0m10.8-.5h0m2.2 .1h0m4.9 .8h0m7.6-.3h0m10.6-.5h0m2.5 .7h0m5 .1h0m2.2-.1h0m3-.3h0m2.8-.1h0m2.8 .6h0m2.1-.2h0m2.5-.2h0m2.6 .1h0m5-.2h0m7.4 .5h0m3.2-.8h0m1.8 .7h0m3.3-.5h0m1.7 .3h0m5.9-.3h0m2.6-.1h0m-307.4 2.3h0m2-.3h0m26.3 .7h0m9.7-.3h0m2.4-.5h0m35.5 .5h0m2.7 .1h0m2.6-.5h0m3.1 .6h0m2.5-.1h0m2.7 .4h0m1.8-.2h0m3.1-.6h0m90.4-.9h0m1.4 .6h0m.2 .9h0m1.7 0h0m5.3 .1h0m2.8-.2h0m7.9-.6h0m7.8 .5h0m1.9-.4h0m2.6-.2h0m8.3 .8h0m1.7-.1h0m3.2 .3h0m1.9 0h0m2.6-.7h0m5.1 0h0m2.5 .5h0m18.3 .1h0m5.5-.3h0m1.9-.1h0m2.5 .3h0m2.9 .1h0m1.9-.9h0m2.7 .4h0m2.9 .3h0m2.9-.6h0m7.5 .7h0m2.6-.3h0m1.8-.5h0m5.2 .9h0m7.7 0h0M-172-55.2h0m2.5 .8h0m25.3-.2h0m3.1 .3h0m7.9-.6h0m1.7 .7h0m3.1-.3h0m12.5-.1h0m20.4 0h0m2.7-.5h0m5.1 1h0m2.5-.8h0m3 .1h0m2-.1h0m5 .8h0m89.2-.2h0m1.3-.3h0m.9 .6h0m.9-.2h0m.5-1.7h0m7.2 1.1h0m1.9 .3h0m6 .3h0m1.5-.1h0m8.5-.8h0m2.6 .8h0m2.5 0h0m4.5-.8h0m5.8 .6h0m1.7-.4h0m3.2-.3h0m2.5 .4h0m2.9 .4h0m2-.7h0m2.9 .6h0m4.3-.2h0m10.4 .2h0m8 0h0m2.7 0h0m2-.5h0m8.1 0h0m2.1 .2h0m2.7 .4h0m5.8-.5h0m1.9 .6h0m7.7-.8h0m3.1 .6h0m5 .4h0m2.6-.1h0m-312.9 1.6h0m2.6-.3h0m27.9 .6h0m2.9-.5h0m2.6 .9h0m1.9-.2h0m2.6-.7h0m2.6 .2h0m8 .5h0m2.9 0h0m2.5-.1h0m1.9 .2h0m20.6-.9h0m8.4 .9h0m2.1 .1h0m1.9 0h0m5.1-1h0m3.4 .9h0m2.6-.6h0m86.7 0h0m1.8 .5h0m1.1 .2h0m1.3-.4h0m.4-.9h0m5.2 .9h0m2.9-.4h0m2.2 0h0m2.1-.1h0m10.3 .8h0m3.5 .1h0m2-.4h0m2.9 0h0m2.7-.6h0m4.5 .2h0m2.8 0h0m7.9 .3h0m2.6-.2h0m1.8-.2h0m2.9 .1h0m2 .1h0m7.9 .3h0m2.3 0h0m2.5-.6h0m3.5 .3h0m2.4-.2h0m12.7 .9h0m5.4-.8h0m1.6-.1h0m2.5 0h0m8.1 .5h0m2-.3h0m2.9-.1h0m2.3 .1h0m2.6 0h0m3.1 .5h0m-317.5 2.4h0m2.1 0h0m2.9-.3h0m30.7 .3h0m2.9-.7h0m2.1 .7h0m2.4-.9h0m3 .1h0m1.8 .8h0m5.8-.4h0m2.7 .2h0m1.9-.4h0m2.3 .2h0m3.3 0h0m20.3-.2h0m2.6 .2h0m2.2 .3h0m2.9-.5h0m2.6 0h0m4.6 .3h0m5.4-.5h0m88.7 .1h0m2.9-.2h0m7.9 .6h0m5.2-.5h0m2.6-.1h0m2.2 .3h0m8.1 0h0m2.6 .1h0m2.4-.4h0m1.9 .4h0m8-.2h0m8.2-.2h0m1.5 .6h0m5.8-.7h0m2.1 .8h0m2.8-.1h0m5.1-.2h0m2.3-.1h0m3.1-.1h0m1.9-.3h0m3.3 .3h0m9.9-.1h0m10.3 .8h0m2.1-.3h0m2.3-.7h0m2.8 .6h0m3.2-.2h0m2.4 0h0m1.9 .1h0m5.3-.4h0m2.8 0h0m-312.6 2.1h0m2.3 .5h0m21.1-.2h0m2 .4h0m3.3 0h0m2.4 .1h0m1.9 .2h0m7.7-.2h0m2.8-.3h0m2.3 .5h0m2.6-.4h0m2.8 .4h0m2.3-.9h0m5.7 0h0m2.7-.1h0m20.3 .4h0m4.2-.1h0m3.4 .1h0m1.9-.3h0m5.3 .5h0m2.2-.6h0m92 .7h0m2-1.3h0m1 .7h0m.9-.5h0m.5-.2h0m6.4 .9h0m2 .2h0m4.8 .3h0m2.7 .2h0m5.2-.4h0m2.9 0h0m2.1-.1h0m5.5 .2h0m2.6-.7h0m2.2 .2h0m2.9 .1h0m7.8 .1h0m1.9-.4h0m5.4 .2h0m3.2 .3h0m2-.2h0m7.9 .5h0m2.5-.5h0m2.6-.2h0m2.6 .8h0m10.1-.7h0m2.3 0h0m5.4-.1h0m2.7 .1h0m1.8 .8h0m3.2-.4h0m10.3-.2h0m1.9 .3h0m3.3-.7h0M-173.9-46h0m2.5 .1h0m20.5 .1h0m2.5-.5h0m2.2 .2h0m4.9 .1h0m3.1 .6h0m4.8-.3h0m2.4 0h0m2.1-.6h0m3.5 .2h0m2.2 .1h0m2.6 .4h0m2 .1h0m6 .2h0m2.3-.8h0m25.4 .8h0m1.9-1h0M17.1-46h0m2.1 .5h0m.3-.2h0m2.5 0h0m7.6 .4h0m5.2-.2h0m2.7-.8h0m2 .5h0m6-.1h0m1.8-.1h0m5.2 .6h0m2.9-.5h0m2.4 .1h0m7.3 .2h0m8.2 .1h0m2-.3h0m3.2 0h0m10.2-.3h0m2.3 .3h0m2.1 .5h0m3.3-.6h0m2 .2h0m2.9-.1h0m4.9 .1h0m2.2-.2h0m2.5 .2h0m3.2-.1h0m15.2-1.1h0m7.5 1.2h0m.1-1.6h0m2.8 1h0m-317.9 2.7h0m2.3-.4h0m2.9 .7h0m25.8 0h0m1.6 0h0m3.4 .3h0m2.6-.2h0m7.2-.8h0m2.3 .1h0m8.3 .4h0m1.8 .2h0m2.6-.2h0m3.1 .3h0m2.9-.3h0m24.7-.4h0m2.8 .8h0M18.6-43h0m2.5-1h0m1.3 .4h0m3.6 .2h0m12.2 0h0m8.5-.7h0m1.7 .5h0m3.3-.2h0m4.7 .2h0m8.1-.4h0m2.3 .9h0m2.1-.3h0m2.6-.1h0m7.4-.1h0m3.5-.3h0m2.5-.2h0m1.7 .2h0m3.4 .1h0m6.8 .3h0m2.7 .3h0m2.7-.2h0m8.3 0h0m27.6-.7h0m2 .7h0m-316.5 1.5h0m1.6 0h0m28.4 1h0m3.1-.5h0m12.6 .2h0m1.8-.1h0m10.5 .2h0m3.2-.8h0m2.1 1h0m24.9-.3h0m3.1-.1h0m102 0h0m2.9 .4h0m.3-1.2h0m9.6 1.1h0m5.6-.5h0m4.7 .6h0m2.5 .1h0m2-.9h0m3.4-.2h0m2.5 .2h0m2.2 .4h0m9.7-.3h0m2.6 .3h0m3.3 0h0m2.3-.4h0m10 0h0m2.7 .7h0m2.2-.8h0m2.7-.1h0m3.1 .8h0m6.9-.6h0m3.3 .4h0m2-.2h0m4.8-.4h0m2.7 .9h0m25.5-.8h0m.5-.8h0m.4 .6h0m1.7 .8h0m-314.9 1.9h0m3 .6h0m25.2-.4h0m2.2 .4h0m2.7-.8h0m13.5 .3h0m2.2 .4h0m2.2 0h0m7.9 .1h0m3-.4h0m2.1-.3h0m23.2 .8h0m2.7-.6h0m104.4 .1h0m.6-.5h0m1.2 .4h0m3.6 .3h0m1.5-.3h0m.4-.9h0m5.6 .6h0m7.8 .7h0m2.1-.2h0m2.1-.5h0m3 .9h0m2.1-.6h0m3.4-.4h0m1.7 .7h0m3.2-.7h0m5.1 .3h0m1.8-.2h0m3.4 .7h0m2.2-.6h0m2.5 .5h0m10.7-.3h0m2.1 0h0m2.6-.5h0m2 .2h0m2.6 .1h0m7.7-.3h0m3.4 .9h0m2.1 .2h0m2.9-.9h0m2.3 .7h0m25.3-.9h0m5.2 .5h0m-317.9 2.6h0m3.4-.7h0m28 .1h0m19.8 .8h0m2.4-.7h0m3 .2h0m2.9 .1h0m2.2-.3h0m25.7 0h0m1.7-.1h0m109.7-.1h0m1.5 1h0m1.2-1h0m2.5-.8h0m.4 .8h0m2.4-.2h0m8 .6h0m4.8 .2h0m2.5 0h0m8.1 0h0m2.5-.6h0m10.5 .1h0m1.8 .6h0m2.9-.8h0m2 1h0m15.3-.2h0m2.7 0h0m7.6-.4h0m3.3 0h0m1.6 .6h0m3-1h0m5.2 .2h0m25.2 .3h0m2.8-1.5h0m.4 1.6h0m1.8-.1h0m-319.1 1.7h0m2.3 .3h0m48.5-.1h0m2.6 0h0m1.7 .7h0m2.8 0h0m2.8-.7h0m2.4 .7h0m22.9-1h0m2.3 .6h0m110.1 0h0m2.4-.3h0m3 .6h0m0-.9h0m.4-.8h0m1.6 1.1h0m18.3 .6h0m2.7-.4h0m2.4 .6h0m1.9-.3h0m5-.6h0m2.6 .5h0m3.1-.1h0m2.4-.5h0m2.1 .3h0m3.4-.2h0m2.4 0h0m1.8-.1h0m3.1 .2h0m2.2-.3h0m8.4 .1h0m1.8 .6h0m3.2-.2h0m1.7-.2h0m3.5-.2h0m2.5 .8h0m2.5-.4h0m1.9-.2h0m28.5 .5h0m2.4-1.2h0m.4 .7h0m-315 2.8h0m2.5-.4h0m2.2 .3h0m45.7-.4h0m2.8 .6h0m4.7-.8h0m2.5 .2h0m18.3-.3h0m2.7 .9h0m2-.9h0m2.5 .5h0m112.8 .4h0m.8-.8h0m1.7 .7h0m2.6-.5h0m2.3 .4h0m8.1 .3h0m10.2-.9h0m2 .3h0m8.4-.1h0m9.5-.2h0m2.2 .4h0m3.3-.2h0m2.7 .2h0m2.3-.2h0m2.6 .1h0m2.2-.2h0m2.4 .4h0m5-.5h0M93-33h0m3 0h0m2.1-.1h0m3.4 .3h0m1.6 .5h0m7.8-.1h0m26.3 .3h0m1.6 0h0m-319 2.2h0m2.2-.8h0m2.4 0h0m2.7 .4h0m76.1-.5h0m2.9 .9h0m117.4-.9h0m.2 .9h0m.1-1h0m1 .8h0m1.2-.1h0m2.3-.2h0m5.5 .1h0m2 .4h0m10.5-.7h0m5.5-.2h0m2.5 .2h0m9.9 .6h0m2.2 0h0m7.9-.3h0m2-.4h0m3.3 .4h0m2.2 .1h0m2.7-.3h0m2 .3h0m10.8 .4h0m2.6-.7h0m38.6 .7h0m1.9-.5h0m.3-.3h0m-317.2 2.1h0m2.4 0h0m1.8 .2h0m10.8 .4h0m2.9 .1h0m58.4-.2h0m2.1-.2h0m2.7 .1h0M22-28.6h0m2.4 .7h0m.4-.7h0m2.2 .1h0m.5-.7h0m2.3 1.5h0m2.2-.1h0m7.6 0h0m15.8-.1h0m12.2-.8h0m2.8 .2h0m2.1 0h0m2.5 .9h0m8.1-.1h0m3.1-.2h0m1.9-.3h0m10.4 .5h0m2.1-.9h0m7.7 .6h0m28.6 .3h0m2.7-.3h0m2 .2h0m-319.8 2h0m2.6-.1h0m2.5 .3h0m9.7-.8h0m3.5 .2h0m1.8 .3h0m3.3-.5h0m53.2 0h0m2.7 0h0m2.4 .2h0m122.2 .8h0m.4-.4h0m1.6-1.6h0m1.2 1.2h0m.8 0h0m6.1 .2h0m7.6-.4h0m5.1 .1h0m7.4 .5h0m13.8 .2h0m4.8-.5h0m2.4 .7h0m5.4-.6h0m1.7 .4h0m2.5 .1h0m2.9 0h0m13.4-.3h0m1.9 .4h0m3-.1h0m2.6 0h0m2.4-.5h0m20.7 .5h0m2.3-.1h0m1.8-.2h0m1.6-1.3h0m1.6 1.1h0m1.1-.4h0m1.1 .1h0m-322.5 2.1h0m.4 .1h0m2.8 .7h0m1.5 .1h0m3-.9h0m2.9 .2h0m4.8 .7h0m3-.1h0m1.9-.8h0m5.6 .2h0m50.9 .3h0m2.6-.5h0m126.9-1h0m.3 1.5h0m2.5-.4h0m5.1 .3h0m2.7 .5h0m10-.9h0m25.8 .8h0m2-.8h0m2.8 .4h0m2.8 .4h0m2.3-.7h0m2.9-.1h0m2.2 .3h0m10.6 .6h0m2.3-.5h0m3 .5h0m2.6-.9h0m2.3 .2h0m7.2-.2h0m8 0h0m2.8 .4h0m2.6 .5h0m2.2 0h0m2.7-.7h0m2.6 .5h0m2.6-.5h0m1.5-.6h0m.6 1.4h0m3-.5h0m-322.9 2.6h0m1.6-.7h0m1 0h0m2.6 .8h0m5-.9h0m2.2 0h0m2.6 .9h0m3.3-.1h0m1.8-.4h0m2.8 .5h0m43.9-.6h0m2 .1h0m2.2 0h0m2.6 .4h0m3.2-.3h0m130 0h0m.5-1.3h0m2 .7h0m1.5 .4h0m1.3-.1h0m2.5-.1h0m7.1 .7h0m2.3 .1h0m3-.1h0m2.3-.5h0m2.7-.1h0m7.3-.1h0m7.6 .1h0m5.5 .8h0m4.9-.2h0m2.5-.8h0m8.5 .9h0m1.5-.5h0m3 .3h0m3.1-.3h0m2.5-.3h0m1.8 .4h0m3.3-.1h0m2.1-.4h0m2.6 0h0m2.1 .9h0m5.6-.2h0m2.1 0h0m3.4-.6h0m7 .7h0m2.7-.7h0m2.1-.2h0m5.1-.4h0m.5 1.3h0m2.2-.9h0m-322.5 3.3h0m.3-.3h0m2.5 .1h0m2.7 .2h0m2-.8h0m8.4 0h0m2.2 .6h0m2.5-.6h0m2.1 .4h0m3.1 .2h0m43.8-.7h0m2.2 .8h0m2.2-.4h0m135.5-.5h0m.1-.3h0m2.6 .4h0m1.6-.6h0m.7 1.4h0m1.8-1.6h0m.9 .8h0m1.2 .2h0m16.8-.2h0m5.1 .8h0m6.9-.7h0m5.4 .2h0m8.3 .2h0m6.7 0h0m3-.2h0m5.4-.1h0m1.9 .3h0m2.4-.1h0m2.5-.4h0m3-.1h0m2.9 .8h0m2.2-.7h0m2.1 .6h0m7.8-.1h0m3.3 0h0m7.8-.1h0m1.8 .3h0m5.2-.8h0m1.6 0h0m.9 1h0m.1-1.1h0m2.4 .3h0m-324.6 2.3h0m2.1 .1h0m2.5 .2h0m2.6-1h0m.6 1.3h0m12.3-.3h0m2 0h0m2.5-.4h0m2.8 .7h0m3.1-.6h0m2.3 .5h0m2.1-.4h0m2.7 .3h0m2.7-.6h0m2.8 .8h0m10-.6h0m10.6-.3h0m2.5-.1h0m2.3 .5h0m2.9 .1h0m141.9 0h0m.1 .1h0m1.5-.3h0m1.8 .1h0m1.9 .3h0m.3 .2h0m7.2-.5h0m11-.4h0m5 0h0m1.9 .9h0m3.1 0h0m2.8-.9h0m4.3-.1h0m2.8 .8h0m2.3-.7h0m5.8 .2h0m10.1 .6h0m5.3-.5h0m7.3-.2h0m5.2 .6h0m7.3-.6h0m5.3-.1h0m7.2 .5h0m3.2-.3h0m7.1-.2h0m-321.9 2.9h0m2 .1h0m.6-.2h0m2.5-.2h0m1.8 .1h0m11.2 .1h0m4.9-.5h0m12.6 .7h0m1.9 0h0m2.7-.6h0m2.9 0h0m3 .8h0m2.5-.4h0m2.6 0h0m2.3 .3h0m2.8-.7h0m2-.3h0m2.6 1h0m3-.2h0m2.4-.7h0m4.8 .6h0m142.5 .3h0m1.7-.7h0m1.4 0h0m2.3 .7h0m.9-1.4h0m1.9 .9h0m4.9-.1h0m7.3 .4h0m2.7-.8h0m2.4 .5h0m2.5-.2h0m2.6 .4h0m2.6-.7h0m5.2 .1h0m3.1 .8h0m19.2-1.9h0m.5 .6h0m.8 .5h0m14.4 .1h0m2.9 .3h0m2.5-.3h0m18.1 .8h0m2.5-.1h0m7.5-.5h0m2.8-.4h0m-325.3 2.2h0m2.1 .9h0m3.4-.1h0m.5-.2h0m37.1-.3h0m2.5 .3h0m3.1-.1h0m2.9 .6h0m2.5-.1h0m1.5 0h0m3.3-.8h0m2.6 .5h0m2.3 .2h0m150-.9h0m2.6 .8h0m2.9-.8h0m0 .4h0m.4-1.3h0m2.7 1.7h0m4.5-.2h0m2.1 .3h0m5.7-.5h0m10.2 .7h0m2.7-.1h0m4.4-.8h0m23.1 .4h0m.8 0h0m17.8-.5h0m2.4 .3h0m4.5-.3h0m10.5 .1h0m2.8 .1h0m8-.2h0m2.5 .3h0m-325.3 2.7h0m1.1-1.8h0m.6 1.2h0m2.9 .1h0m2.2 .1h0m23 .2h0m21.1 .1h0m2.4 0h0m164.3-1.2h0m1.3 .9h0m1.3-.4h0m1.4 0h0m2.3 .7h0m.1-1.1h0m5.3 .3h0m2.1 .1h0m10.8 1h0m12.3-1h0m22.1-.4h0m11.2 .5h0m5.5 .7h0m7.6-.8h0m7.7 .7h0m4.5 .2h0m12.7-.4h0m-325.3 2.6h0m.1-.8h0m3.3 .6h0m2.6 .2h0m2.2 .1h0m19.8-.9h0m5.6 .3h0m185.6-.3h0m.4 0h0m2.2 .9h0m1.6-.6h0m6 .4h0m5.2-.8h0m54.1-.1h0m2.5 1h0m4.8 .1h0m3.3-.1h0m10.1-.4h0m14.9 .1h0m2.4-.1h0m-327.3 1.6h0m2 .5h0m2.6 0h0m28.8 0h0m189.6-.8h0m.8 .4h0m.8 .1h0m1.6 .2h0m.1 .2h0m3.4-.5h0m12.4 .9h0m46.4-.4h0m17.3-.1h0m2.3 .4h0m18.6-.7h0m1.5 .6h0m3.2-.6h0m-331.4 1.5h0m1.3 1h0m.1 .1h0m2.6-.5h0m1.8 1h0m219.9-.5h0m.1-1.2h0m.1 1.2h0m1.7 0h0m3.1 .4h0m2-.9h0m5.6 .2h0m5.4 .6h0m63.4-.6h0m2.7 .2h0m19.7 0h0m2.8-.3h0m-334.6 3h0m2.4-.6h0m1.8-.1h0m.8 .5h0m12.6-.2h0m210.1-.5h0m1 .4h0M50.1-3h0m.1 1.3h0m2.3 .6h0m8.1-.8h0m1.9 .1h0m5.3 .1h0m.8 .5h0m25.1-.9h0m25 .8h0m2.2-.2h0m2.8-.1h0m2.8 .4h0m10-.2h0m3.2-.5h0m2.6 .2h0m1.7-.1h0m3.3 .4h0m1.8-.5h0M-180.7 .3h0m2.3 .1h0m3.2 .6h0m1.9-.7h0m10.6 0h0m2 .1h0M47.6 .3h0m1.5-.1h0m1.1-.2h0m.4 .7h0m1 .2h0m12.2-.4h0m26.4-.4h0m22.9 1h0m2-.4h0m2.2 .3h0m2.9-.3h0m2.2 .1h0m5 0h0m1.8-1.9h0m6 1.5h0m2.5 .6h0m2.4-.1h0m3.4-.3h0m2.6-.2h0m2.5-.1h0m1.9-.2h0m-332.7 3h0m2.6-.2h0m3 0h0m2.3-.5h0m12.2 0h0M48.8 3h0m1-.2h0m4.9 .3h0m54.5 .1h0m2.2-.9h0m1.5-.5h0m.9 1.3h0m5.6 0h0m.2-.8h0m1.8 .7h0m.2 .1h0m2.8-.1h0m2.1 0h0m.4-.3h0m7.7-.1h0m2 .6h0m7.4-.9h0m2.6 .1h0m3.1 .8h0m2.8-.5h0m1.7-.3h0m-335.4 2.4h0m3.5 .5h0m2.6 .1h0m2.2-.2h0m223.5-.1h0m.5-.4h0m5.5 .6h0m8.5-.5h0m6.3 .6h0m3.1-.7h0m.6-.7h0m35.2 .5h0M113 5h0m3.2-1.7h0m1.5 .1h0M131.3 5h0m1.2-.3h0m2.9 .6h0m10-.1h0m3.3-.6h0m2.2 .3h0m2.6 .1h0m1.9 .3h0M-179.2 7h0m2.7 .6h0m2.4-.2h0m224.7 .2h0m2.9-.2h0m52.1-.3h0m.5-1.4h0m.7 1.1h0m2.1 .5h0m1.9-.5h0m7.9 .7h0m12.8-.8h0m.8 .4h0m2.4-.4h0m2.2 .2h0m4.6 .5h0m3-.2h0m2.1 0h0m2.7-.1h0m3.1-.1h0m2.6 .3h0m-336.2 1.8h0m3.1 .3h0m2.7-.4h0m2.4 .1h0m2.9 .3h0m222-.2h0m.3-1.4h0M54 9.3h0m0-1h0m.4 1.4h0m2.2-.8h0m50.3 .8h0m.2 0h0m3.1-.5h0m7.7-.1h0m1.9-.2h0m1.5-1.1h0m1.1 1.6h0m3.1-.2h0m2.4 .4h0m4.9-.4h0m2.4 .3h0m3.3-.1h0m2.4 .2h0m4.4-.7h0M148 9h0m3.1 .5h0m1.8-.6h0m3.4 .4h0m-338.5 2.4h0m2.6-.1h0m3 .3h0m2.3-.5h0m234.7 .4h0m2.1 .3h0m2.9-.8h0m35.2-1.3h0m7.9 1.8h0m.3-1.5h0m1.5 1.1h0m5.7 .7h0m8.2-.2h0m2.4-.5h0m7.3-.2h0m2.6 .2h0m3.1 .5h0m7.1-.2h0m2.3 .2h0m3.3-.2h0m1.9 .4h0m2.6-.9h0m2.9 0h0m-343.3 2.6h0m3.3 .3h0m1.8-.2h0m2.6 0h0m3.1-.5h0m225.9-1.3h0m.4 1.8h0m1.2-1.1h0m1.9 .9h0m7 0h0m5.4 .1h0m2.5 0h0m35.4-.2h0m3.3 .1h0m4.9 0h0m12.7 .2h0m2.6 .2h0m2.1-.2h0m1.6-1.8h0m1.6 1.9h0m1.8 .2h0m2.6-.4h0m3.5-.2h0m1.7 .6h0m8-.7h0m2.8 .1h0m2.4 .5h0m2.1 0h0m-345.3 2.3h0m2.3-.3h0m8.1-.4h0m11.1-1.3h0m216.1 1.3h0m.4 .2h0m1.4-.2h0m8.4 .3h0m44.1 .2h0m1.7 .2h0m2.9-.5h0m1.2-1.6h0m.3 2.1h0m11.6-2.1h0m1.7 1.9h0m3 .1h0m1.5 .2h0m3.5-.8h0m2.1 .4h0m5-.3h0m2.6 .6h0m2.4-.3h0m5.7 .3h0m2.4 0h0m-338.2 2.3h0m5.1-.3h0m3.2-.1h0m2.5-.1h0m224.2-.3h0m2.7 .7h0m.5-2h0m52.6 1.3h0m2.5 .3h0m2.1-.7h0m.2 .8h0m.1 .1h0m4.3-1.9h0m8.3 1.3h0m3 .6h0m11.5-1.8h0m3.6 1.8h0m2.9-.3h0m5 .1h0m2.6 .4h0m2.9-.3h0m.8-1.7h0m1.3 1.3h0m1.6-1.3h0m1.1 1.7h0m2.3 .1h0m-347.7 2.4h0m2.7-.9h0m.6-1.1h0m1.3 1.4h0m3 0h0m1.8 .3h0m226.2-1.2h0m1.3 1.3h0m.3 .2h0m51.1-.3h0m4.3-.1h0m6.6-1.6h0m1 1.3h0m2.9 .5h0m3-.5h0m1.8 .5h0m3-.6h0m13.9-1.2h0m1.3 1.4h0m2.5 .5h0m3.6-2h0m1.9 2h0m7.3-.4h0m5.3 .1h0m-346.2 2.1h0m2.9-.3h0m2.6 0h0m3 .9h0m2.1-.3h0m2.9-.1h0m221.4-.1h0m18.2 .4h0m33.4 0h0m4.9-.6h0m7.3-.1h0m2.2 .4h0m2.7 .1h0m2.8 .3h0m3-.6h0m14.6 .5h0m2.4-.5h0m3.1 .4h0m.9-2h0m1.6 1.5h0m3 .4h0m.6-1.9h0m6.5 2.2h0M160 21h0m.7 1.9h0m3.1-.4h0m-346.2 2.8h0m5.6-.7h0m226.4-.3h0m.3 .8h0m2.2-.5h0m1-.8h0m.7-.6h0m42.5 1.6h0m6.9 .2h0m3.1-.5h0m5.4 .3h0m2.2 .5h0m1.9-.1h0m2.8-.5h0m5.5-.1h0m2.9 .2h0m3.9-.5h0m10.8 .3h0m5-.1h0m2.7 .4h0m9.8-.3h0m2.9 .2h0m3.2 0h0m-351.1 1.8h0m2.5 .9h0m7.5-.4h0m2.2-.2h0M34 26.7h0m1.9 .6h0m10.5 0h0m1.9-.4h0m3.4 .2h0m50.8-.5h0m2.4 .6h0m2.7-.1h0m.7-1.7h0m1.9 1.3h0m4.6 .1h0m10.8 0h0m15.2-.2h0m2.3 0h0m13.3 .7h0m1.3-1.9h0m.2 1.5h0m3.4 .2h0m2.2-.5h0m2.4 .7h0m-346.8 .3h0m3.7 2h0m2.5-.8h0m209.2 .8h0m7.8-.1h0m2.6-.1h0m.9-.4h0m1.6-.2h0m.9 0h0m1.1-.2h0m.9-.8h0m56 1.9h0m4.8-.7h0m1.8-1.4h0m5.2 0h0m.9 1.9h0m.9-1.9h0m1.4 2.1h0m2.4-.5h0m15.2 0h0m3.1-.2h0m12.8 .4h0m1.9-.1h0m2.5 .1h0m3.6 .3h0m1.6-.4h0m3.4 0h0m-353.6 2.2h0m1.7-1.8h0m.9 1.7h0m.9-1.6h0m4 1.7h0m3-.2h0m2.1 0h0m2.5 .5h0M33.6 31h0m6.2 .4h0m1.7 .3h0m2 0h0m.8-.3h0m2.3 .1h0m2 0h0m1.5-1.7h0m54.5 1.9h0m3-.1h0m1.2-1.8h0m1.6 1.5h0m10.3 .1h0m2.6-.4h0m3.1-1.3h0m1.1 2.2h0m3.1-.7h0m2.8 .2h0m1.6-.1h0m3.2 .6h0m25.1-.9h0m2.5 .5h0m2.5-.2h0m-350.2 2.4h0m4.5 0h0m3.1 0h0M24.4 34h0m4.7-.1h0m1.7-2h0m1 2h0M37 34h0m1.5-1.5h0M40 34h0m2.4-.2h0m5.2-.6h0m55.8 .2h0m5.8 0h0m9.8-.2h0m2.5 .6h0m2 0h0m2.2-1.8h0m5.7 1.4h0m2.9 .6h0m4.9-.5h0m.8-1.5h0m4.8 2h0m1.9-.7h0m5.4 .2h0m1.2-1.6h0m6.3 1.4h0m1.3-1.3h0m4 1.3h0m2.2 .2h0m-352.8 2.2h0m1.3-1.5h0m.8 1.7h0m8 .4h0m2.3 0h0m194-.2h0m7.2-.6h0m2.9 .5h0m.2-.5h0m2.8 .1h0m.7 .7h0m1.1-.6h0m1.6-1.2h0m.8 .9h0m4.7-.4h0m.7 .5h0m1.7-1.3h0m4.6-.1h0m52.8 1.6h0m1.9 .3h0m1.6-1.8h0m1.8 2h0m1.9-.2h0m2.3-.6h0m20.9 .6h0m2.3 .1h0m1.2-2h0m4.2 2h0m2-.3h0m2.9-.2h0m2.8 .2h0m1.7-1.6h0m1.1 1.6h0m2.2 .4h0m3.1-.6h0m2 0h0m2.7 .4h0m1.6-1.9h0m6.2 2.2h0m-353 2h0m2.1-.4h0m1.3-1.5h0M22 37.9h0m2.9-.3h0m1-1.2h0m.9 1.5h0m.7 0h0m2.7 .4h0m1.5 .1h0m.2-.2h0m2.3-.1h0m2.7-.3h0m4.3-1.5h0m62.8 2h0m2.3-.3h0m2.9 .5h0m1.8-.3h0m15.4-.1h0m7.4-.1h0m3.8-1.6h0m7.1 2h0m2.4-.2h0m2.2 .3h0m2.4-.7h0m3.1 .2h0m2.2 .1h0m3.2-.4h0m-343.6 2.2h0m2.6 .3h0m4.9-.1h0m1.7-1.4h0m1 1.4h0m1.4-1.5h0m131.6 1.5h0m2.3-.2h0m5.6 .7h0m12.2-.7h0m4.9 0h0m25.5 .4h0m5.4 .3h0m2.4 .1h0m3.1-.3h0m1.5 .1h0m.9-.3h0m1.1-1.6h0m.5 1.9h0m.9-.4h0m2-.1h0m3.3 .5h0m1.8-.6h0m22.9-.1h0m46 .6h0m5.6 0h0m1.5 .2h0m.7 .1h0m4-2.1h0m11.8 1.8h0m5.9-1.9h0m13.5 2.2h0m3.2-.3h0m3-.1h0m9.2 0h0m2.7-.1h0m2.5-.4h0m1.6-1.1h0m1.5 1.3h0m-350.9 2.4h0m2.2 0h0m1.3-1.6h0m1.8 1.5h0m2.7-.2h0m135.4 .2h0m1.6 0h0m3.3 .2h0m2.5-.4h0m1.3-1.3h0m1.3 1.8h0m2.6 0h0m2.4-.1h0m1.9-.3h0m3.3 .6h0m2.6-.3h0m2-.4h0m2.8 .4h0m2.4 .1h0m20 .2h0m2.6-.7h0m3.2 .1h0m0 .1h0m2.2-.2h0m.2 .6h0m2-.3h0m2.6 .1h0m2.7-.4h0m74.4 .8h0m2.5-.1h0m.3 0h0m1.4-2h0m.8 1.4h0m2.3 .3h0m3.1 .3h0m.8-1.9h0m14.3 1.1h0m23.1 0h0m1.9 .8h0m1.2-2h0m7.2 1.9h0m1.9-.1h0m3 .3h0m2.7 0h0m-353.5 1.6h0m3 .5h0m141.8-.2h0m3 0h0m2.8-.3h0m2.7 .6h0m5.1-.6h0m4.7-.3h0m2.5 .6h0m3.1 .1h0m2.3 .2h0m5.1-.8h0m2.6 0h0m2.5 .6h0m2.3-.4h0m2.8 .1h0m3.8 .3h0m1.5-.6h0m.8 .7h0m1.7-.2h0m.8-1.7h0m3.7-.2h0m.3 1.9h0m2.2 .3h0m.2-.4h0m2.7 .4h0m3.4-2.2h0m83.1 2.1h0m41.3-.2h0m1.3-1.8h0m.7 1.5h0m5.1 .5h0m5.4 .1h0m2-.5h0m3-.4h0m3 .7h0m2.3 0h0m-350.7 1.5h0m1.3-1.1h0m3-.1h0m1.1 1.3h0m.8-1.3h0m.8 1.7h0m135.7 .1h0m8.7-1.9h0m5.2 .1h0m13.4 .1h0m4 1.1h0m4.2-.5h0m2.5 1.3h0m3.1-.3h0m1.4-1.6h0m3.2 1.8h0m.8-1.9h0m1.5 1.9h0m.3-1.7h0m1.9-.3h0m0 .4h0m3 1.5h0m89.7-.1h0m.4-1.7h0m2.5 1.8h0m.9-1.9h0m22.8 1.3h0m4-.6h0m1.7-.6h0m2.8 1h0m13.7 .7h0m1.9-.2h0m1.3-1.6h0m1.6 1.7h0m2.8 .1h0m7.3-.4h0m-348.6 2.4h0m1.6-1.4h0m1.8 1.2h0m4.4 .1h0m133.5 0h0m2.5 .2h0m.3-1.6h0m1.5 1.7h0m23.2 .1h0m4.8 .2h0m1.5-2.1h0m.8 .7h0m1 1.4h0m.8-1.9h0m1.3 1.2h0m.1 .4h0m3.5 .1h0m1.4-1.4h0m.2 .9h0m1.5-1.2h0M8.2 49h0m99.2-.1h0m.8-1.4h0m43 1.6h0m2.6 .1h0m2.1 .2h0m2.3-.6h0m3.3 .4h0m4.3-.4h0m3.2-.1h0m.9-1.4h0m-351.8 4.1h0m2.1 .1h0m2.9-.5h0m1.4-1.5h0m3.3 2.1h0m133.1-.3h0m2.4-.1h0m2.6 .2h0m20.2 .3h0m2.6-.4h0m3.2 .1h0m1.8 .1h0m6.6-2h0m106.2 1.6h0m.5-.1h0m.6-1.5h0m46.7 1.4h0m3.2 .4h0m12.7 .1h0m-352.8 1.5h0m1.5 .6h0m1.6 0h0m4-.4h0m1.5-1.3h0m133.1 1.6h0m3 .4h0m2.3 0h0m20.2-.2h0m3.3 0h0m2.6-.4h0m5.6-1.4h0m98.2 1.5h0m7.7 .3h0m2.6-.8h0m.7 .8h0m26-.6h0m.4 .5h0m1.3-.4h0m.9-.5h0m2.4-.5h0m1.2 .2h0m18.4 .9h0m2.7 .6h0m5.2-.3h0m1.4-1.6h0m1.2 1.3h0m1.5-1.3h0m.9 1.7h0m-350.5 1.7h0m1.5 .5h0m.8-.4h0m1.5-1.4h0m.6 1.7h0m5.3-.1h0m130.8-.2h0m1.8 .3h0m10.6-.2h0m2.1 .1h0m5.7 .1h0m1.7-.2h0m2.8 0h0m4.8 .2h0m105.5 .2h0m6.8 .1h0m2.9-.1h0m1.1-.8h0m28.7 .4h0m.5 .3h0m2.6 .2h0m20.8-.1h0m2.9-.3h0M-180 57.3h0m4.9 .9h0m134.3 .1h0m2.5-.1h0m8.4 .1h0m2.3-.7h0m1.9 .7h0m1.7-2.2h0m.9 1.5h0m3.4-.1h0m5.9-1.4h0m113.5 1.4h0m3.6 .7h0m1.7-.4h0m.7-1.6h0m.4-.1h0m1 1.8h0m30.7-.6h0m2.7 .7h0m0-.6h0m.3 .3h0m18 .3h0m2.4 0h0m5.7-1.7h0m2.6-.1h0m1.4 2.1h0M-181.4 60h0m1-1.6h0m.8 1.4h0m1.1-1.3h0m1.1 1.7h0m132.7 .1h0m2.9 .1h0m2.1-.6h0m3.4 .2h0m2.5-.1h0m2.7-.1h0m2-.1h0m5.3 .5h0m122.8 0h0m3.8-1.8h0m.6 1.7h0m2.7-.3h0m36.4 0h0m.2-1.5h0m.4 .2h0m14.6 1.9h0m7.2 0h0m3-.5h0m2.3 .2h0m2.5-.2h0M-183 62.4h0m.2-.7h0m.8-1.2h0m1.3 2.1h0m2.9 0h0m1.3-1.5h0m133.7 1h0m2.6 .1h0m1.9 .1h0m2.7 .3h0m2.6-.4h0m6-1.6h0m128.6 .1h0m.4 1.3h0m2.6 .6h0m2.9-.3h0m29.4 .3h0m3.3-.8h0m21.5-1.1h0m2.3 1.9h0m2.6-.6h0m3-1.1h0m1.4 1h0m2.2 0h0m-357.4 2.8h0m3.2-1.7h0m1.8 1.7h0m.1-1.4h0m2 1h0m142.9 .4h0m3.1-.4h0m126.8 0h0m1.9-1.3h0m2.6-.2h0m1.2 1.4h0m2.5 .6h0m32-1.1h0m2.4-.2h0m.3 .7h0m26.7 .6h0m3.7-2.1h0m1.9 1.8h0m1.3-.4h0m.5-.9h0m3.6-.3h0M-182 65.1h0m.1 .1h0m.7 1.5h0m3.1-.2h0m.9-1.5h0m271.6 1.7h0m2.8 .2h0m1.2-1.9h0m1.9 1.4h0m1.8 .3h0m4.3-1.8h0M133 67h0m.1-.1h0m1.3-1.2h0m.8 .6h0m1.1-.9h0m31.5-.4h0m.5 1.8h0m.2-.6h0m1.2-1h0m2 1.5h0m1.1-1h0m.4 1.3h0m-356.3 .2h0m1 1.6h0m1-1.5h0m0 .3h0m.5 1.5h0m1.3 0h0m275.6-.5h0m11.4-1.3h0m23.7 1.8h0m.9-.4h0m.6-1.2h0m.1-.1h0m33.2-.3h0m3.7 2.1h0m.4-.8h0m2.6 .5h0m.9-1.7h0M175 69h0m-357.9 1.3h0m2.5 1h0m1.9-.1h0m273.1-.1h0m2.5 .3h0m1.3-1.9h0m1.2 1.7h0m1.1-1.8h0m10.9 .2h0m6.4 1.7h0m11.2-1h0m.9-.2h0m.7-.7h0m40.5 1.9h0m.8-.9h0m1.5-.2h0m.6 .8h0m2-.3h0M-183 73.4h0m2.8 .1h0m.8-2h0m0 1.9h0m272.8-.3h0m2.5 0h0m16.5-1.4h0m1.5 1.5h0m14.4-1.1h0m.6 1.2h0m.1-.3h0m.2-1.1h0m42.7 .5h0m.4 .9h0m1.4-1.7h0m1 1.7h0m.5 .1h0m1.4-.8h0m-358.9 1.3h0m1.9 1.9h0m.1-.1h0m7.1 .2h0m265.7-.5h0m4.4 .2h0m12.9-.4h0m1.7-1.5h0m15.7 .8h0m45.2 .6h0m2.7 .2h0m2.6 .1h0m-360.8 .8h0m.9 1.7h0m5.7 0h0m.5-1.9h0m269 1.9h0m1.3-1.7h0m13.2-.1h0m.7 1.4h0m17.7-.1h0m.2 .6h0m.6-.5h0m.6-1.5h0m46.4-.1h0m1.3 1.7h0m.9-1.5h0m1 1.2h0m-360.3 2.3h0m1.2-1.3h0m.6 1.1h0m7.3-1.1h0m264.2 1.5h0m17.9 .2h0m17.1-.4h0m.2-1.1h0m51.2 1.1h0m.1-.6h0m.4-.6h0m1.2-.2h0m.4 1.6h0m.8 0h0m-361.6 2.3h0m.2-1.2h0m272.1 .2h0m3.6 .8h0m1.4-1.3h0m.5 1.6h0m11.3 0h0m4.5-.2h0m12.7 .2h0m.6-1.7h0m53.9 1.7h0m.4-1.5h0m-362.4 2.7h0m2.6 .7h0m273.2 0h0m5.3 .6h0m7.1-.1h0m2.3-.3h0m2-1.5h0m.8 1.2h0m12.3 .4h0m1.1-1.7h0m.1 .7h0m54.5-.6h0m.6 1.8h0m1.2-2h0m.1 0h0m.2 .4h0m.6-.3h0m-363.8 2.1h0m0 1.5h0m1.8 .6h0m272.9-.3h0m2 0h0m1.6-1.7h0m11.7 2h0m2.4-.6h0m11.8-.1h0m.4-.2h0m.2 .7h0m57.5-.8h0m.3 .3h0m.5 .1h0M-181.5 88h0m270.3-1.1h0m21.2 1.5h0m71.2-.6h0m.3-.1h0m-365.2 1.5h0m.7 .3h0m1.5 1.6h0M90 89.3h0m.7 1.3h0m16.8-1.2h0m3.8 1.5h0m4.6 .2h0m64.4-1.4h0m1.1-.2h0m0 1h0m.7-1.1h0m.4 1.8h0m-366.6 .2h0m.9 .3h0m.7 1.7h0m1.4-.5h0M87.3 93h0m.6-1.6h0m1.5 1.7h0m2.2 0h0m14.2-1.7h0m2.9 .1h0m1 1.5h0m5.5-.1h0m64.9-1.4h0m1.7 1.5h0m.2-.6h0m1.3-.7h0m1 1.3h0m-367.6 .6h0m266.8 2h0m1.5-1.9h0m1 1.8h0m2.3 0h0m2.6-.3h0m14-1.6h0m2.1 .2h0m74.5 .1h0m1.7 1.7h0m-367.5 .3h0m.2 .1h0m1.2 1.6h0m.5-1.7h0m261.7 1.4h0m3.2 .1h0m2.1-.2h0m21.6-1.3h0m76.1 0h0m1 .6h0m.1-.7h0m.5 1h0m.4 .6h0m1.2-1.7h0m-371.2 2.4h0m.4 .8h0m3.4 .8h0m260.4 0h0m4.3 .3h0m18.7-.3h0m.3-1.4h0m1.5 1.5h0m1.2-1.7h0m78.3 1.4h0m1.3 .5h0m.8-.3h0m.1 .1h0m.6 .1h0m-371.9 1.9h0m1 0h0m.9-1.7h0m1.7 1.6h0m1.9 .3h0m262-1.9h0m1.1 1.9h0m16.9 0h0m2.7-.2h0m13.7 .3h0m68 .1h0m.6-1.9h0m2.1 1.5h0m.5 .1h0m-371.9 2.1h0m2.9 .1h0m1.5-1.3h0m257.6-.2h0m2.2 .1h0m1.7 1.7h0m20.6 .1h0m83.4-.2h0m1.8-1.2h0m.4 .7h0m.4 .3h0m-373.6 1.3h0m.8 1.1h0m2 0h0m2.8-.4h0m256.2-1.5h0m1.1 1.9h0m1.6-1.8h0m1.1 1.6h0m19.4-1.7h0m.5 2h0m3.9-1.8h0m82.3 .6h0m3.2 .8h0m-375.7 2.6h0m.6-1.7h0m2.1 1.2h0m258.9-1.2h0m22.9-.3h0m87.8 1.7h0m.7-1.7h0m1.6 0h0m0 1.5h0m.5-.9h0m.2 .5h0m.7 .8h0m-377.3 2.1h0m3 0h0m2.1-1.4h0m.3 1.2h0m.7-1.4h0m1 1.3h0m255.9 .1h0m1.4-1.5h0m1.6 .2h0m16.9 1.7h0m1.5-1.8h0m2.1 .1h0m2.8 0h0m85.8 1.5h0m.9-.7h0m1.3 1h0m.1-.7h0m-376.3 2.3h0m7.9 .3h0m255 .2h0m.7-1.7h0m19.9 1.7h0m1.2-1.7h0m1.2 1.7h0m89-.2h0m.5-.3h0m.3 .4h0m-379.4 2.1h0m4.9-.1h0m1.9-1.5h0m1.8 .1h0m254 1.7h0m1.1-1.7h0m1.9 1.8h0m18.5-1.9h0m94.9 1.4h0m2.6-1.3h0m-379.5 2.1h0m1.6 1.4h0m4.2-1.5h0m1.4 1.6h0m.6-1.6h0m2.5 0h0m271.4 1.6h0m1.9-1.3h0m94-.2h0m1.1 1.3h0m.7-.9h0m-379 3.6h0m4.3-1.7h0m3.2 1.7h0m1.5-1.6h0m250.9 1.6h0m1.2-1.9h0m2.6 .1h0m13.4 .1h0m1.8-.2h0m92.9 1.5h0m6.5 .2h0m.4-1.2h0M74 120.1h0m3.1-.2h0m.7 1.8h0m11.8-1.4h0m1.6 1.6h0m1-1.8h0m97 0h0m2.6 0h0m.9 1.9h0m-385.7 1.8h0m3.4-1.4h0m1.3 1.6h0m1.5-1.7h0m1.5 1.6h0m1.7-.1h0m1.6-1.4h0m1.6 1.7h0m.4-1.8h0m255.6-.1h0m1.2 1.8h0m2.2 .2h0m4.4-1.9h0m1.1 1.7h0m3.9-1.6h0m1.2 1.4h0m100.2-1.4h0m.2 .3h0m1.7 1h0m-381.5 2.7h0m10.3-.1h0m255.5-.2h0m6.1-1.7h0m4.6 0h0m100 .8h0m4 1.1h0m2.3-1.8h0m-379.6 2.5h0m2.4 0h0m.8 1.2h0m1.8-1.6h0m26.6 1.9h0m226.2-.1h0m1.4-1.5h0m5.7 .1h0m2.4-.2h0m2.2-.2h0m1.1 1.6h0m107-.4h0m1.5-.8h0m-383.9 2h0m3-.1h0m2.3 0h0m5.5 .1h0m1.6 1.6h0m248.5-1.5h0m5.3 .1h0m2.2-.4h0m2.8 0h0m.9 1.9h0m1.3-1.9h0m109.1 0h0m1.9 2h0m.7-2h0m0 0h0m.7 1.2h0m-384.9 2.8h0m1.2-1.5h0m1.8-.1h0m4.2 1.7h0m11.3-1.5h0m17 1.3h0m222.7-1.5h0m7.8-.1h0m2.4-.1h0m1.8 1.7h0m110.7-1.3h0m3.3 1.5h0m-382.4 .2h0m1.3 2.1h0m1.1-1.7h0m3.8 1.6h0m1.2-1.9h0m2.2 1.8h0m22.8 .2h0m2.3 0h0m.8-1.9h0M64.9 135h0m11.5-1.5h0m5.7 0h0m107.4 0h0m.2 .6h0m.5 1.2h0m1.2-.3h0m.4-1.7h0m.7 2h0m-385.1 .1h0m3.2-.1h0m4.7 .1h0m1.1 1.8h0m6.2-1.5h0m3.9 1.8h0m13-.5h0m234.3 .5h0m2.2-1.8h0m.6 1.4h0m1.1-1.8h0m116.5 1.4h0m.4 .4h0m.7-1.3h0m-384.6 3.9h0m.9-1.7h0m2.6 0h0m3.4 1.2h0m1.6-1.4h0m2.6-.2h0m4.3 2h0m2.1-.4h0m10.5 .4h0m6.2-2h0m1.3 2h0m1.1-2h0m344.1 .2h0m1.1 1.5h0m.9-.1h0m1.7 0h0m-386 2.5h0m2.5 .1h0m1.8-2.1h0m10.9 2h0m2.8-.2h0m5.4 .1h0m3.4-1.7h0m1 1.7h0m6.5-1.7h0m1.7 1.9h0m216.9-.3h0m.6-1.4h0m10.6 .1h0m115.7 1.6h0m1.2-1.8h0m3.8 1.5h0m-383.3 2.2h0m2.6 .3h0m2.2 0h0m10.5 0h0m3-1.9h0m5.7-.2h0m3.6 1.9h0m1.9-1.7h0m1.2 1.7h0m.9-1.4h0m4 1.3h0m1.2-1.4h0m213.3 1.5h0m11.5-1.4h0m118.1 1.4h0m1.3-1.7h0m.4 .3h0m-377.9 3.8h0m14.3-1.6h0m20.7-.2h0m.4 1.5h0m207.8-1.8h0m5.2 .1h0m8.3 0h0m1.8 .1h0m116.2 1.8h0m.1 .1h0m3.7-1.4h0m.6-.5h0m-380 3.9h0m2.3-.2h0m1.5-1.3h0m30.3 0h0m201.2-.2h0m10.3 .1h0m1.5 1.7h0m.8-1.9h0m1.2 1.7h0m3.2 .1h0m.9-1.8h0m2.5 .4h0m3.1-.4h0m119.4-.1h0m1 2h0m1.7-1.8h0m-383.8 2.4h0m6.7 1.7h0m1.3-2h0m30.8 .1h0m2.5 0h0m.8 1.9h0M47.8 149h0m.6 1.3h0m7.7 0h0m1.1-1.8h0m4.8 1.9h0m5.8-1.7h0m120.9 .3h0m1.6-.1h0m.3 .1h0m-377.5 3.5h0m.7-1.6h0m3.8 1.6h0m1.2-1.5h0m29.8 1.6h0m1.6-1.6h0m4.4 .2h0m191.6 0h0m6 1.5h0m2.2-1.6h0m.9 1.7h0m3.6-1.9h0m5.3 .3h0m124.4 .1h0m1-.3h0m.3 1.7h0m1.9-1.7h0m.8 1.5h0m-377.5 .8h0m4.7 1.7h0m2.9-1.8h0m3.4 .3h0m24.9-.3h0m2.9 .3h0m5.3-.1h0m1.2 1.6h0m189.1-2h0m6.6 1.7h0m1.4-1.5h0m.9 1.8h0m1.4-1.6h0m2.5-.4h0m1.5 1.8h0m124.3-1.5h0m1.4 1.8h0m2.7-.7h0m-375 1.2h0m5.1-.1h0m.3 1.8h0m2.2-1.9h0m1 1.6h0m.7-1.8h0m3.3 .2h0m1.3 1.5h0m20.4 0h0m.8-1.3h0m1.5 1.7h0m1.1-1.9h0m2.9 .1h0m3.7 1.6h0m187.4-1.6h0m2 .2h0m3.3-.1h0m135.1 .6h0m2.2-1.1h0m-363.5 2.5h0m5.7 .2h0m3.2 1.4h0m2.8-.1h0m1.3-1.2h0m3.8 1.5h0m7.7-.1h0m3.8-1.4h0m2.2-.5h0m5.1 .4h0m1.3 1.7h0m105.7-2.1h0m1.9 1.9h0m68.5 .2h0m5.7-.2h0m3.3-1.5h0m2.5-.3h0m2.3 .1h0m2.9-.1h0m130.3 .4h0m.3 .7h0m.7 .7h0m1.4-1.8h0m-360.5 2.1h0m1.2 2h0m.7-2h0m2.7 .1h0m6.8 1.8h0m.6-1.9h0m5.1 .3h0m7.5-.1h0m3-.2h0m1.7 1.7h0m1.1-1.3h0m1.1 1.7h0m1.7-1.8h0m3.7 1.8h0m1.7-.3h0m169.3 0h0m2.5-.1h0m2.1 0h0m1.6-1.5h0m4.3 .2h0m2.6-.4h0m3.2 .1h0m2.4-.1h0m130.1 0h0m.4 2h0m1.2-.3h0m2.1-1.1h0m-356.7 1.6h0m1.9 .4h0m3.3 .1h0m2.9 1.3h0m1.9-1.3h0m.7 1.2h0m1.4-1.2h0m3.3-.6h0m7 .6h0m1.9 1.3h0m1.9-.1h0m3 .2h0m.7-1.5h0m9 .4h0m3.7-.2h0m3.7 1.3h0m76.6-.1h0m5.1 .3h0m9.5-1.7h0m2.2-.4h0m19.4 1.8h0m7.8 0h0m19.9 .2h0m10.6-.2h0m3.9-1.7h0m1.6 1.8h0m2.2-.1h0m2.5 .1h0m4-1.9h0m2.1 .1h0m1.8 1.6h0m135 .4h0m.9-1.6h0m0 .2h0m-348.7 3.3h0m3.2-1.3h0m7 1.4h0m.7-1.4h0m2.1-.2h0m2.2 1.6h0m1.4-1.7h0m.3 1.8h0m1.8-1.8h0m4.1 1.8h0m5.1-.2h0m.6-1.6h0m2 1.7h0m1.3-1.8h0m1.4 .1h0m.6-.1h0m.9 .2h0m1.3 .2h0m2.9-.5h0m1.1 .7h0m1.8-.6h0m1.7 0h0m1.4 .8h0m1.4-.7h0m.2 1.2h0m3-.3h0m1.3 .4h0m2.7 .4h0m.1 0h0m69.6-1.4h0m3.9 1.2h0m9.2-1.3h0m3.1 1.6h0m7.8 0h0m5 0h0m4.9-.1h0m4.7-1.6h0m13.9 1.8h0m2.4-.3h0m2.7 0h0m4.9 .1h0m3.8-1.8h0m1.3 1.7h0m1.8-1.7h0m4.2-.1h0m10.4 .4h0m143.2-.1h0m-345.8 2.1h0m11.3 1.5h0m34.9-1.8h0m3.9 .1h0m1.8 .8h0m3.9 .5h0m1.5-.2h0m2.1 .9h0m57.6-1.7h0m2.7-.4h0m3.9 2.1h0m1-1.9h0m2.4-.1h0m2.2 1.9h0m1.4-1.6h0m.4 1.7h0m1.2-1.5h0m5.7-.2h0m2.3-.1h0m1.4 1.7h0m4.1-1.4h0m5.2 0h0m4.4-.1h0m2.9 .1h0m2-.6h0m1.6 1.9h0m1.4-1.3h0m2.5-.1h0m1.7 1.7h0m1.4-1.8h0m8.7 1.4h0m.8-1.7h0m5.9 .3h0m4.4 .1h0m1.3 1.5h0m5.2-.2h0m146.3-1.3h0m1.5 1.4h0m1.5-1.6h0m.7 1.2h0m.1 .3h0m2.1-1.1h0m.2-.5h0m-286.1 2.2h0m1.2 .1h0m.1 0h0m3.2 .3h0m1.2-.2h0m.5 .9h0m1.5-.4h0m2.8 .8h0m1.4 .3h0m2.7 .1h0m3 0h0m.6-.1h0m32.8-.1h0m1.5-1.8h0m1.2 2h0m2.4-.1h0m.7-1.6h0m3.4 0h0m1.3 1.5h0m3.9-1.7h0m.2 1.7h0m2.7 .3h0m3.3-.2h0m.7-1.7h0m2.9 .3h0m2.2-.3h0m5 0h0m3.1-.1h0m.7 1.9h0m1.5-2h0m2.1 .2h0m3.3 .4h0m.7 1.5h0m1.8-2.1h0m2.7-.1h0m4.7 .5h0m5-.4h0m15.7 .4h0m.3 1.2h0m13.6-1.6h0m143.8 1.8h0m.3-1.5h0m1.6 1.6h0m-268.5 .4h0m3.7 0h0m2.7 .3h0m3.2 1h0m1.2 .3h0m.9 .3h0m.7-.9h0m2 .7h0m2-.4h0m15.4 .4h0m1.2-1.6h0m2.3 1.9h0m17.3-.3h0m4.6 .3h0m1.6-1.9h0m1.3 1.7h0m1.4-1.9h0m1.2 1.9h0m1.5-1.3h0m1.1 1.4h0m.8-1.8h0m3.2 .2h0m5.2-.2h0m2.3-.1h0M2 171h0m1.7-.3h0m29.1 1.3h0m148.3 .4h0m1.4-1.5h0m3.6 1.5h0m-253.2 .9h0m1.4 .1h0m2.7-.6h0m.3-.1h0m1.9 .8h0m1.5 .1h0m1.3-.1h0m3.2 1.1h0m.2-.1h0m1.7-1.4h0m0 .6h0m.7 .9h0m1.5-1.3h0m5-.1h0m.6 .1h0m2.6-.3h0m5.9 1.9h0m2.4-.4h0m5.3 .4h0m1.5-1.9h0m3.5 1.6h0m2.1 .1h0m17-1.9h0m2.3 .1h0m183.2 1.4h0m1.9 .5h0m1.8-1.8h0m.7 0h0m-235 2.1h0m2 .7h0m1.1-.6h0m1.5 1.5h0m.5-1.6h0m3.2-.2h0m.8 1.9h0m1.7-1.7h0m6.1 1.6h0m1.6-1.1h0m86.2-.4h0m117.9 .4h0m7.2-.4h0m1.4 .2h0m.2 1.7h0m3.7-2.1h0m-241.1 2.4h0m24.6 1.8h0m68-1.4h0m134.4 0h0m6.1 1.2h0m1.7-1.7h0m-9 2.5h0m3.8 1.4h0m6.8-1.4h0m.9 1.5h0m.8-1.3h0m.3-.6h0m-141.3 4.3h0m134.8 0h0m.8-1.6h0m2.2-.3h0m1.4 1h0m1-1.3h0m-10.2 4.1h0m1.5-1.7h0m1.8 .1h0m.4 1.8h0m2.8-.2h0m.3-1.7h0m1.8-.1h0m-14.8 4h0m4.1-1.8h0m3.5 1.4h0m.7-1.5h0m3.5 .6h0m2.6 .1h0m1.7-.3h0m-121.9 3.5h0m94.3-.9h0m9-.6h0m6.9-.1h0m2.8 .6h0m1.4 1.4h0m1.5-1.9h0m2.8-.1h0m-10.4 4.2h0m1.1-1.5h0m2.8 .1h0m1.6 1.2h0m3.3-1.6h0m-116.5 2.2h0m.1-.1h0m.5 1.8h0m104.3-1.7h0m5.3-.2h0m3.8 1.8h0m1.6-1.8h0m2.4 0h0m-117.7 3.8h0m97.3-1h0m6.4 0h0m1.5 1.5h0m.8-1.5h0m2-.4h0m2.6-.1h0m-110.6 2.2h0m101.3 1.8h0m1-1.5h0m5.4 .1h0m2.1-.1h0m2.4-.3h0m-111.5 2.1h0m.1 .4h0m100.5 .7h0m2.3-1.2h0m1.9 .8h0m.4-.5h0m2.2 1.5h0m.9-1.5h0m-108.3 2.4h0m.7 1.5h0m97.1-.5h0m.2 .6h0m1.2-1.9h0m1.5 1.9h0m.7-1.4h0m.2-.5h0m1.2 1.9h0m.8-1.9h0m-102.3 4.1h0m94.9-.1h0m5.2-1.8h0m-99 3.7h0m94.3-.8h0m2-.3h0m-96.1 3.4h0m89.4-.7h0m.9-.9h0m1.7 0h0m.4 1.5h0m.8-1.5h0m1.8 .5h0m-95.1 2.3h0m.3 .1h0m79.6 1.3h0m8.5-2h0m1.1 1.9h0m2.2-2h0m-6.6 2.5h0m1.8-.4h0m.7 .6h0M68.2 215h0m76.7 .8h0m1.7-1h0m1 1h0m1.4-.9h0m1.2 .2h0m-88.6 2.2h0m1.7 1.6h0m.5-1.4h0m2 1.2h0m.5-1.6h0m2.5 .3h0m74.5-.4h0m.8 1.7h0m1.2-.5h0m.1-.7h0M66.1 221h0m2.3-1.9h0m72.4 1.1h0m.7-.4h0m.8-.5h0m-80.4 2.5h0m2.3-.2h0m4.5 .3h0m68.2 1.4h0m1.1 0h0m2.8-1.8h0m1.1 1.7h0m.8-1.9h0m-80.2 2h0m3.4 .3h0m1.5-.2h0m2.2 2.1h0m1-1.4h0m63.7 .8h0m1.2-.1h0m3.5-1.5h0m.2 .3h0m.7 .2h0M59 226.3h0m3.6 1.3h0m1.3-1.8h0m1.9 1.9h0m1.3-1.6h0m3.2 1.6h0m1.8-1.6h0m2.3 .3h0m57.8 1.3h0m.5-1.4h0m3 0h0m2.4-.4h0m-77.6 2.5h0m7-.6h0m5.6 .1h0m2.2 .4h0m55.7-.5h0m3 1.4h0m.3-1.3h0m2.2 .7h0M58.8 230h0m2.4 .4h0m5.5-.2h0m5.5 .4h0m2.1 .2h0m2.4-.3h0m5.8 .2h0m2-.1h0m1.5-.2h0m.1 1.6h0m41.6 0h0m.1-1.8h0m.8 1.8h0m0-.8h0m2.1-1.2h0m2.5 .1h0m2.3-.1h0m-77.9 2.4h0m1.8 1.8h0m.3-1.9h0m16.2 .1h0m1.7 .6h0m2.9-.7h0m1.7 2h0m1-1.7h0m3.4 1.6h0m37-1.5h0m.4-.2h0m2.9-.1h0m4.2-.2h0m.6 .4h0m-71.4 3.7h0m1.3-1.5h0m12.9 .2h0m.8 1.4h0m1.2-2h0m2.8 .1h0m1.1 1.8h0m3.7-1.6h0m25.3-.1h0m10.9 .3h0m.7 1.5h0m2.2-1.2h0m.3 .7h0m1.4-.7h0m2.7-.5h0m2.5-.1h0m-72.4 2.2h0m20.7 .6h0m4.9-.6h0m2 .3h0m22.9-.2h0m5.2-.3h0m2.1 .6h0m.6-.5h0m1.7 1.9h0m.9-1.4h0m2.7-.4h0m.6 1.3h0m1.8-1.4h0m3 .7h0m-67.5 1.7h0m2 .1h0m15.6 0h0m2.2 .2h0m7.8-.4h0m2.6 .3h0m12.8-.2h0m7.3-.2h0m2.8 .5h0m0 .9h0m2.8 0h0m0-.7h0m3.8 .6h0m1.2-1h0m2.7-.3h0M60.1 241h0m2.2 .5h0m13.7 .1h0m2.2-.6h0m9.8 0h0m2.8 .5h0m3 0h0m1.7-.3h0m1.4 1.8h0m1.2-1.4h0m5.4-.3h0m2.8-.4h0m2 .1h0m1.2 1.5h0m1.1-1.1h0m.7-.1h0m2.1-.2h0m3.4 .1h0m2.5 .4h0m.7 1.4h0m-60.9 .2h0m2.4 .7h0m3.1-.4h0m1.6-.2h0m3.3 .4h0m2.4-.1h0m2.6-.3h0m.7 1.9h0m1.3-1.8h0m18.5 .5h0m4.8-.8h0m2.3 .9h0m2.9-.6h0m2.6 .1h0m2.8 .3h0m2.3-.2h0m2.8-.1h0m-57.3 2.3h0m2.5 .1h0m1.6 .3h0m2.8-.1h0m2.7-.7h0m2.1 .2h0m3.5-.1h0m20.5 .5h0m1.9-.4h0m5.2-.3h0m2.8 .9h0m2-.3h0m-44 2.5h0m5.1-.7h0m1.9 .7h0m3.4-.1h0m1.6-.1h0m2.5-.2h0m16.3-.1h0m2.5-.2h0m1.3 2h0m1.1-1.3h0m2.1-.5h0m1.6 1.7h0m1.5-1.2h0m2.5-.3h0m-36.9 2.5h0m1.6-.3h0m3.3 0h0m20.4 .3h0m5.2 .1h0m4.8-.6h0m-34.3 2.1h0m2.3-.2h0m3.1 .8h0m19.5-.4h0m2.9-.1h0m2.5 .3h0m-27.1 2.3h0m1.8 1.4h0m1.8-1.9h0m17.8 0h0m2 .2h0m2.5-.5h0m-21 3h0m.3 1.4h0m4.7-1.2h0m12.6-.8h0m1.9 .7h0m3.1-.4h0M80.4 259h0m2.8-.4h0m2 .1h0m8.4 .8h0m5.2-.6h0m-19.5 2.5h0m2.6 .2h0m2.5-.5h0m2.7 .1h0m4.6 .1h0m2.7 .3h0m-11.5 2.1h0m2.7 .1h0m2.8-.8h0m2.5 .6h0m3-.3h0m-9.1 2.4h0m2 0h0"/><path d="M18.5-143.1h0m0 0h0m46.7 9.5h0m7.2-.4h0m4.5 5.2h0m-95 19.2h0m111.9-1.7h0M-3-106.1h0m105.9 .7h0M8.1-99.6h0m11 3.3h0M-2.3-84h0m39.6 16.1h0m26.5-2.5h0M46-61.7h0m-4.4 5h0m23.9 1.9h0m10.4 22.3h0m1 7.1h0m-233.4 171.2h0m216.3 89.8h0" stroke="#b498e4"/><path d="M6.1-115.8h0m83.2 1.9h0m-92 8.1h0m10.8 6.2h0m11 3.3h0m7.8 15.6h0m29.9 6.2h0m-6.9 1.8h0m-17.1 3h0M-51-65.2h0M68.9-57h0m-12.4 8.5h0m18.9 6.3h0m-3.3 7.1h0m23-.8h0m-7.5 8h0m-33.4 5.2h0m89 1.1h0M162 25.1h0" stroke="#ab8be7"/><path d="M-39.7-115.8h0m45.4 0h0m-27.2 12.6h0m-54.6 20.5h0M-2.7-84h0m34.8 16h0m1.1-1.7h0m32.1 1.4h0M-51-67.1h0m67.4 5.6h0m4.4 4.1h0m25.3 .1h0m10 5.1h0m13.5-.2h0m-32.3 8h0m29.5 10h0M43.2 16h0m66.2 17.9h0m-73.6 1.5h0m1.8 1.9h0m125-2.5h0m-3.2 10h0m16.2 29.1h0m15.3 70.2h0" stroke="#a27eea"/><path d="M-67.2-111.3h0M48.9-74.9h0m12.9 .6h0m-43.3 7.2h0m-.2 6.7h0m-1.2 3.9h0m1.5 .3h0m1.2-1h0m1.9 .4h0m52.4 .3h0m-55.5 3h0m12.3 .8h0m1.8-1.5h0m21.7 1.3h0m-31.1 2.7h0m.8 .2h0m22.9 .4h0m22.9-.4h0m5.8-.7h0m-53.9 1.8h0m4.4 .9h0m9.8-.3h0m57.8 2h0M22-43.5h0m2.6 0h0m15.3 10.2h0m99.4 7.1h0M35.9 27.3h0M33.6 31h0m6.2 .4h0m2.5-1.9h0m1.9 .5h0m1.6-1h0m-7.3 3.5h0m2 .4h0m1.2-.4h0m.2 1.5h0m.8-2.2h0m3.6 .7h0m1.2 0h0m-14.7 3.6h0m2.8-.4h0m2.5-.3h0m3.6 1.1h0m-220.9 9.4h0M65.2 214.6h0m55.6 9.3h0" stroke="#9870ed"/><path d="M69.6-76.4h0M15.4-63.9h0m1.3 1.5h0m2.4 .5h0m-3.5 2.6h0m2.8-.9h0m1.3 .6h0m-3.4 3.9h0m1.2-2.1h0m3.2 1.4h0m33.7-.1h0m-32 3.9h0m.6-1.3h0m10 1.1h0m-11.4 2.7h0m.2 .2h0m.6-2h0m-3.7 3.7h0M20-48h0m2.3 0h0m6.4-.2h0m6.8 .5h0m-15.7 1.2h0m2.7 1.5h0m1.7-.2h0m.3-.3h0m1.3 1h0m3.8-.8h0m-9.8 3.2h0m.9-1.2h0m1 2.4h0m.1-1.1h0m.2 4.4h0m1.3-2.8h0m1.9 .1h0m4.1 5.4h0m-2.6 .6h0m1.2 2.4h0m14-1.4h0m-19 2h0m1.5 1h0m1.1-1.1h0m3.4 .2h0m2.2 1.4h0m-6.4 1.4h0m24.9 53.9h0m-2.2 .8h0m.6 2.2h0m1.7-.1h0m-15.2 1.2h0m5.9 1.7h0m4-.8h0m.5-1.1h0m2.5 .5h0m2 .3h0m.1-.8h0m.7-.5h0m-13.1 5.6h0m.1 0h0m2.4-1h0m5.6-.1h0m.6-1.4h0M38 35.4h0m.9 .8h0m2.3 .1h0m2.2-.8h0m-6.5 2.3h0m2.7 0h0m68.2 21.7h0" stroke="#8d63f0"/><path d="M104.2-67.7h0M25.9-56.6h0m-4.5 3h0m3.4-1.2h0M18-52.2h0m1.7 1.8h0m.2-2.1h0m2.9 .5h0m1.7 1.8h0m12.7-.1h0m-14.9 1.2h0m1.1 .9h0m1.7-.6h0m.4 1h0m5.2-.2h0M21-45.1h0m4.8-1.1h0m9 .7h0m-8.7 7.6h0m.7-1.9h0m.6 1.8h0m1.3 .5h0m-5.6 2.2h0m.3-1.9h0m4.3 3.5h0m-1.6 2.8h0m1.7 1.1h0m2.9-1.4h0m-2.8 3.6h0m1 1h0m1.1 1.1h0m2.1-2.5h0m1.3 1.5h0m-6.6 2.7h0m2.2 .6h0m5.4 0h0m-3 1.3h0m.9 1.4h0m3.8-1.9h0m1.1 .4h0M62 15.8h0m84.1-1.7h0M39.9 27.7h0m5.6 .6h0m-1.2 3.1h0m.8 2.8h0m1.5-2.7h0m-12.1 4.8h0m121.2 8h0m-191.1 127h0" stroke="#8056f3"/><path d="M35-50.6h0m-11.6 9h0m2.8-.7h0m-5.7 2.2h0m1.4 5.5h0m3.7-.9h0m1.8 .3h0m2.3-.3h0m109.6-.2h0M23.9-34.5h0m26.8 .1h0m-25.1 4.8h0m5.1 .3h0M25.5-26h0m3.9-1.8h0m1.9 .3h0m.9 3.3h0M-134.1-20h0m170.2-.2h0m-2.4 2.7h0m2.9 .9h0m2.8-.7h0m.2-1.1h0M53.4 9.7h0m.2 3.7h0m.8-1.7h0M53 16.2h0m-1.4 5.3h0m.6-.2h0m1.9 0h0m-4.4 2.9h0m0 .1h0m2.2 .1h0m-.5 1.7h0m46.3 4.5h0" stroke="#7248f6"/><path d="M109.4-81.4h0m14.9 5.2h0m-61.7 5.9h0m-1.5 6.7h0m-6.9 22.2h0M32.7-26.2h0m-1.9 5h0m1.5-.4h0m2.1 1.7h0m1.2-2.3h0m-2.9 3.6h0m2 0h0m3.6 4.2h0m2.2 .9h0m-.5 2.3h0m1.3-.9h0m1.7 .6h0m6.5 9h0m1.1 6.2h0m-.4 3.8h0m.9-1.3h0m1.5-.1h0m83.8 2.1h0m-83 6.8h0m-2.6 2h0m1.2 1.5h0m-1.8 3.6h0m.8-2h0m1.8 .1h0" stroke="#6139f9"/><path d="M38-18h0m-.5 3.8h0m1.8-2.2h0m1.4 1.9h0m.4-1h0m-1.8 3.7h0m3.6 .3h0m.4 3.8h0m1-2h0m.1 .5h0m-.5 3.9h0M47-6.4h0m-1.7 2.6h0m1.2 1.2h0m.9-.9h0m.8 3.9h0m2.3-.4h0m1-.8h0m-2.1 2.5h0m2.5 0h0m.5 2h0m.2 .7h0m-3.1 1.2h0m1 3.2h0m1.3 1.4h0m.9-2.2h0m-.9 3.3h0m.5 .9h0m1.2 1h0m1.7 2.7h0m-1.7 2.4h0" stroke="#4c28fb"/><path d="M42.6-14.4h0m-.6 3.8h0m5.4 2.8h0m-3.1 2.1h0m1.2-1.7h0m-.4 3.9h0m1.2 .9h0M48 1.8h0m5 2.9h0m109.9 24.6h0" stroke="#2b12fe"/></g>
<g transform="translate(1691.5 377.2)" stroke="#d3d3d3" stroke-width="4.8" stroke-linecap="round" fill="none"><path d="M10-136.2h0m11 0h0m11 0h0m-71.5 9.5h0m11 0h0m11 0h0m33 0h0m-93.5 9.5h0m11 0h0m11 0h0m11 0h0m11 0h0m11 0h0m11 0h0m-82.5 9.6h0m11 0h0m11 0h0m33 0h0m11 0h0m-71.5 9.5h0m11 0h0m11 0h0m77 0h0m11 0h0m-137.5 9.5h0m44 0h0m99 0h0m11 0h0m11 0h0M-122-79.1h0m-5.5 9.6h0m11 0h0m231 0h0M-155-60h0m33 0h0m11 0h0m11 0h0m-60.5 9.5h0m55 0h0m-60.5 9.6h0m11 0h0m55 0h0m-49.5 9.5h0m11 0h0m33 0h0m-27.5 9.5h0m11 0h0M98 92.4h0m-5.5 9.5h0m-5.5 9.6h0m-253 38.1h0" stroke-width="18"/><path d="M2-139.7h0m6 0h0m6 0h0m6 0h0m6 0h0m6 0h0m6 0h0m6 0h0m-75 5.2h0m6 0h0m6 0h0m6 0h0m6 0h0m6 0h0m6 0h0m6 0h0m6 0h0m6 0h0m6 0h0m6 0h0m6 0h0m6 0h0m6 0h0m6 0h0m6 0h0m-117 5.2h0m12 0h0m6 0h0m6 0h0m6 0h0m6 0h0m6 0h0m6 0h0m6 0h0m6 0h0m6 0h0m6 0h0m6 0h0m6 0h0m12 0h0m6 0h0m6 0h0m6 0h0m6 0h0m6 0h0m6 0h0m-159 5.2h0m6 0h0m6 0h0m6 0h0m6 0h0m6 0h0m6 0h0m6 0h0m6 0h0m6 0h0m6 0h0m6 0h0m6 0h0m18 0h0m6 0h0m6 0h0m60 0h0m-165 5.2h0m6 0h0m6 0h0m6 0h0m6 0h0m6 0h0m6 0h0m6 0h0m6 0h0m6 0h0m6 0h0m6 0h0m6 0h0m18 0h0m6 0h0m6 0h0m6 0h0m60 0h0m-177 5.2h0m6 0h0m6 0h0m6 0h0m6 0h0m6 0h0m6 0h0m6 0h0m6 0h0m6 0h0m6 0h0m6 0h0m6 0h0m6 0h0m6 0h0m30 0h0m6 0h0m-129 5.2h0m6 0h0m6 0h0m6 0h0m6 0h0m6 0h0m6 0h0m12 0h0m6 0h0m6 0h0m6 0h0m6 0h0m6 0h0m18 0h0m12 0h0m12 0h0m-129 5.2h0m6 0h0m6 0h0m6 0h0m6 0h0m6 0h0m6 0h0m6 0h0m18 0h0m6 0h0m6 0h0m6 0h0m24 0h0m6 0h0m6 0h0m6 0h0m90 0h0m-225 5.2h0m6 0h0m6 0h0m6 0h0m6 0h0m6 0h0m6 0h0m6 0h0m6 0h0m6 0h0m6 0h0m12 0h0m42 0h0m6 0h0m6 0h0m6 0h0m6 0h0m-141 5.2h0m6 0h0m6 0h0m12 0h0m6 0h0m6 0h0m6 0h0m6 0h0m6 0h0m66 0h0m6 0h0m6 0h0m6 0h0m6 0h0m6 0h0m6 0h0m6 0h0m6 0h0m72 0h0m-255 5.2h0m6 0h0m6 0h0m6 0h0m6 0h0m18 0h0m6 0h0m6 0h0m6 0h0m6 0h0m6 0h0m72 0h0m6 0h0m6 0h0m6 0h0m6 0h0m6 0h0m6 0h0m78 0h0m-261 5.2h0m6 0h0m6 0h0m6 0h0m6 0h0m6 0h0m18 0h0m12 0h0m6 0h0m6 0h0m6 0h0m84 0h0m6 0h0m6 0h0m6 0h0m6 0h0m6 0h0m6 0h0m6 0h0m54 0h0m6 0h0m-273 5.2h0m6 0h0m18 0h0m6 0h0m6 0h0m6 0h0m36 0h0m102 0h0m18 0h0m6 0h0m60 0h0m6 0h0m6 0h0m-279 5.2h0m6 0h0m18 0h0m6 0h0m6 0h0m6 0h0m36 0h0m102 0h0m6 0h0m78 0h0m6 0h0m6 0h0m6 0h0m-285 5.2h0m6 0h0m6 0h0m12 0h0m6 0h0m6 0h0m6 0h0m6 0h0m36 0h0m96 0h0m6 0h0m6 0h0m12 0h0m60 0h0m6 0h0m6 0h0m6 0h0m6 0h0m-291 5.2h0m6 0h0m6 0h0m6 0h0m24 0h0m6 0h0m6 0h0m6 0h0m6 0h0m6 0h0m6 0h0m102 0h0m6 0h0m48 0h0m6 0h0m24 0h0m6 0h0m6 0h0m6 0h0m6 0h0m6 0h0m-297 5.2h0m6 0h0m6 0h0m6 0h0m24 0h0m6 0h0m6 0h0m6 0h0m6 0h0m120 0h0m54 0h0m6 0h0m6 0h0m30 0h0m18 0h0m-303 5.2h0m6 0h0m6 0h0m6 0h0m6 0h0m18 0h0m18 0h0m6 0h0m6 0h0m120 0h0m42 0h0m18 0h0m30 0h0m-279 5.2h0m6 0h0m6 0h0m18 0h0m30 0h0m6 0h0m6 0h0m6 0h0m114 0h0m24 0h0m18 0h0m18 0h0m-255 5.2h0m6 0h0m6 0h0m6 0h0m12 0h0m6 0h0m24 0h0m6 0h0m6 0h0m6 0h0m114 0h0m-195 5.1h0m6 0h0m6 0h0m6 0h0m6 0h0m6 0h0m6 0h0m6 0h0m18 0h0m6 0h0m6 0h0m6 0h0m180 0h0m-255 5.2h0m6 0h0m6 0h0m6 0h0m6 0h0m6 0h0m6 0h0m6 0h0m6 0h0m6 0h0m6 0h0m6 0h0m174 0h0m18 0h0m6 0h0m-261 5.2h0m18 0h0m6 0h0m6 0h0m6 0h0m6 0h0m6 0h0m6 0h0m6 0h0m138 0h0m60 0h0m6 0h0m-249 5.2h0m6 0h0m6 0h0m6 0h0m6 0h0m6 0h0m6 0h0m192 0h0m60 0h0m3 5.2h0M47-9.8h0m90 0h0m6 0h0m-9 5.2h0m6 0h0m6 0h0M131 .6h0m-15 5.2h0m6 0h0m6 0h0M113 11h0m18 0h0m12 0h0m-321 5.2h0m291 5.2h0m42 0h0m-333 5.2h0m300 0h0m24 0h0m6 0h0m-333 5.2h0m324 0h0m6 0h0M-178 37h0m342 0h0M-34 47.4h0m6 0h0m6 0h0m6 0h0m6 0h0m174 0h0m-195 5.2h0m6 0h0m6 0h0m180 0h0m-195 5.2h0m198 0h0m-60 10.4h0m-3 5.2h0m6 0h0m-9 5.2h0m6 0h0m-3 5.2h0M98 89h0m6 0h0m-9 5.1h0m6 0h0m-15 5.2h0m6 0h0m6 0h0m-15 5.2h0m6 0h0m6 0h0m-15 5.2h0m6 0h0m6 0h0m-15 5.2h0m6 0h0m6 0h0m-273 5.2h0m264 0h0m6 0h0m-270 10.4h0m0 10.4h0m6 0h0m-3 5.2h0m6 0h0m6 0h0m6 0h0m6 0h0m-21 5.2h0m6 0h0m6 0h0m6 0h0m6 0h0m-9 5.2h0m6 0h0m6 0h0m3 5.2h0m108 10.4h0m6 0h0m117 67.5h0m-3 5.2h0m6 0h0m6 0h0M77 250h0m6 0h0m6 0h0m-9 5.2h0m6 0h0m6 0h0m-3 5.2h0" stroke-width="10"/><path d="M15.9-149h0m1.8-.3h0m12.8 .1h0m-28.7 2.3h0m2.2-.5h0m2.7 .5h0m2.9 .1h0m9.7-.2h0m7.3-.3h0M.1-145.4h0m2.9 .6h0m2.9-.3h0m1.5-.4h0m3.3 .7h0m2.5-.2h0m2.6-.5h0m2.7-.1h0m2.5 .9h0m2.6-.1h0m2-.4h0m2.9 .5h0m1.9-.9h0m3.5 .4h0m2.2 .5h0m4.6-1h0m2.6 1.1h0m-46.7 2.1h0m2.4-.3h0m2.6 .2h0m3.1 0h0m2.4-.1h0m2.6-.3h0m2.1 .1h0m2.7 .1h0m2.6-.6h0m2.1 .7h0m3.2-.1h0m2.2-.1h0m2.5 .5h0m2.1-.9h0m2.6 0h0m3.1 .7h0m2.7-.5h0m1.9-.1h0m3 .1h0m2 .6h0m2.9-.3h0m3.1 .2h0m4.6 .2h0m2.8-.8h0m2.3 .6h0m-77.6 1.6h0m5.5 .1h0m1.6-.2h0m2.8 .7h0m2.3-.4h0m2.7-.5h0m48.7 .7h0m3.1-.4h0m1.5-.1h0m3.1 0h0m2.1 0h0m2.6-.2h0m3.5 .6h0m2.3-.1h0m1.8 .3h0m2.9 .2h0m-102.8 1.8h0m4.3-.1h0m3-.1h0m2.2-.2h0m2.9 .8h0m2.5-.1h0m2.3-.1h0m2.3-.3h0m3.5-.4h0m2.2 .8h0m2.2-.2h0m2.9 .1h0m2.8-.3h0m47.9 .2h0m2.2-.1h0m3.4-.1h0m2.1-.2h0m2.8 0h0m2.7 .2h0m1.9 .3h0m2.6-.5h0m2.6 .7h0m2.7-.4h0m5.3-.6h0m-111 3.2h0m2.5-.2h0m5.7 0h0m4.3-.3h0m7.5 .4h0m5.6-.2h0m4.6-.4h0m2.4 0h0m54.4 0h0m2.2 .1h0m3-.3h0m1.9 0h0m2.8 .7h0m2.6-.6h0m2.1-.1h0m3.5 .5h0m2.3 .1h0m2.7-.5h0m-128.8 2.9h0m10.2-.5h0m2.6-.2h0m2.3 .6h0m2.4-.3h0m2.8 .5h0m101.6-.6h0m2.9 .1h0m2.4-.5h0m2.3 .7h0m2.6-.3h0m2.9 .7h0m-149.4 2.2h0m5-.9h0m3 .6h0m5 0h0m2.5-.3h0m2.8-.4h0m1.7 0h0m2.7 .2h0m2.7 .5h0m81.9 .2h0m30.2-.2h0m2.3-.5h0m2.8 .7h0m2.4 0h0m2.7-.9h0m2.5 .8h0m2.3-.4h0m-161.5 2.6h0m7.6 .2h0m5-.3h0m2.3-.2h0m2.7-.5h0m2.9 .1h0m2.2 .1h0m5.5 .7h0m2.7-.3h0m83.6 .1h0m3-.1h0m43.3-.6h0m-166.9 2.8h0m1.9 .2h0m2.7-.3h0m3.3-.2h0m2.1-.1h0m2 .1h0m3 .7h0m2.4-1h0m2.5 .1h0m2.5 .1h0m2.7 .3h0m2.6 .5h0m56.3-.1h0m5.6-.1h0m22.9-.6h0m5 .3h0m2.4 .3h0m2-.2h0m2.5-.3h0m5.7 .5h0m2.3-.2h0m2.7 0h0m7.4-.2h0m2.1 .4h0m3.2-.4h0m2.8 .6h0m4.4-.8h0m5.8 .7h0m7.5-.4h0m-170 2h0m2.9 .6h0m7.2-.9h0m71.5 .2h0m2.5 .5h0m3.3-.2h0m1.7-.1h0m2.7 .1h0m20.9-.1h0m2.2 .7h0m2.9-.4h0m2.6 0h0m4.6-.3h0m3.1 .5h0m1.7-.1h0m3.3-.7h0m2.6 .8h0m2.6-.8h0m2.7 .3h0m2.1 .7h0m3-1h0m1.8 .2h0m2.7-.2h0m2.8 .4h0m2.3 .3h0m2.4 .1h0m2.7-.3h0m2.4-.5h0m7.7 .2h0m2.8 .7h0m2.5-1h0m-179.7 3.1h0m2.5 .2h0m2.6-.8h0m1.9 .2h0m79.3 .6h0m5.7-1.1h0m5 .1h0m17.4 .3h0m3.2 .3h0m20.5 0h0m2.1-.1h0m20-.2h0m3.2-.1h0m1.7 0h0m2.9 .1h0m7.4 .1h0m2.5 .5h0m2.5-.3h0M-90-121h0m2-.1h0m3 .3h0m78.8 .1h0m2.4 .4h0m5.7-.4h0m4.8-.1h0m23.3-.5h0m20.1 .8h0m2.5-.3h0m23.2-.4h0m2 .2h0m2.4 .3h0m8.3-.5h0m2.4-.2h0m-185.2 2.5h0m2.9 .3h0m2.3 .1h0m2.7-.5h0m81.4 .5h0m2.5-.1h0m3.1 .1h0m2.3 .1h0m2.9-.5h0m23.1 .8h0m19.7-.3h0m3.1-.4h0m27.5 0h0m2.2 .2h0m8.6 .4h0m2.1-.4h0m-190.3 2.3h0m2.7-.2h0m2.5 .5h0m3.3 0h0m1.6-.8h0m3.2 .2h0m79.3 0h0m2.6 .6h0m2-.3h0m3-.5h0m1.8 .1h0m3 .1h0m2.7-.3h0m1.9 .8h0m2.8-.2h0m3.2 .4h0m11.8-1.1h0m4-.1h0m3.9 1.1h0m10.5-.7h0m2.3-.1h0m33.8-.2h0m1.6 1h0m2.8-.6h0m2.4 .3h0m3.4-.6h0m-197.9 2.3h0m2.5 .3h0m2.2 .2h0m2.9-.4h0m2.9 .3h0m88.7-.4h0m2.9 .8h0m2.1-1h0m3 .3h0m1.9 .7h0m2.9-.1h0m2-.7h0m3.2 .8h0m2.5-.6h0m2.9-.1h0m1.9 .7h0m10.8-.9h0m2.5 .3h0m2.7-.3h0m5.1 .2h0m1.8 .1h0m3.3 .1h0m1.8 .5h0m3.2-.4h0m33.2-.5h0m2.5 .3h0m2.7 .2h0m2.3 .2h0m2.5-.4h0m2.4-.2h0m-202.5 2.7h0m1.9-.4h0m2.5 .1h0m85 .5h0m12.1-.2h0m2.2 .3h0m6 0h0m2.3-.6h0m3-.3h0m2.1 .2h0m5.5-.2h0m1.5 .9h0m5.7-.2h0m7.3-.6h0m3.1 .5h0m7.9 .1h0m2.3-.6h0m2.6-.1h0m1.7 .1h0m2.9 .7h0m36.3-.2h0m2.4-.2h0m1.9 .4h0m3.1-.7h0m1.9 .2h0m2.8 .3h0m-213 2.2h0m2.6-.4h0m3.2 .7h0m1.7 0h0m44.1-.2h0m2.3 .1h0m2.7-.7h0m38.5 0h0m2.5 .3h0m2.3 .3h0m2.9 0h0m1.9 .2h0m4.9-.8h0m5.5-.1h0m2.7 1h0m4.7-.9h0m5.6 .8h0m2.1-.5h0m4.7-.4h0m2.6 .1h0m3.6 .4h0m4.8-.2h0m9.7 .1h0m2.5-.2h0m2.4-.2h0m2.5 .5h0m28.3-1.2h0m10.5 1.5h0m2.4-.6h0m2.8 .7h0m2.9-.3h0m2 .1h0m-212.8 2.2h0m2.9-.4h0m2.4-.2h0m2.8 .6h0m1.6 .1h0m43.4-.3h0m2.6-.1h0m2.7 .1h0m36.2 .2h0m2.4 0h0m2.5-.5h0m2.9 .1h0m1.9 .7h0m2.5-.9h0m5.6 .1h0m2-.2h0m3.2 1h0m6.9-1h0m2.6 .5h0m3.1-.4h0m5.4 .2h0m2.6 .4h0m1.6-.4h0m2.8 .5h0m2.6-.8h0m3.2 .6h0m2 .3h0m2.5-.6h0m5.7 .4h0m2.4-.3h0m1.9 .1h0m41.2-.1h0m2.4 .2h0m2.7-.3h0m2.8 .2h0m2.2 .5h0m2.6-.8h0m-226 2.6h0m5.6-.6h0m2.6 .6h0m1.9-.1h0m3.2-.2h0m1.7 .2h0m3.5 .2h0m40.5 .1h0m2.5-.6h0m5.1 0h0m2.2 .3h0m32.9-.5h0m2.5 .1h0m2.9 .1h0m5 .8h0m11-.2h0m2.2-.4h0m10.4-.2h0m2.3 .7h0m2.7-.8h0m2.4 .5h0m2.1-.4h0m5 .3h0m2.7-.1h0m2.7-.1h0m3 .2h0m2.4-.1h0m2-.2h0m2.6 .4h0m3.1-.2h0m2.3 .6h0m2.8 0h0m40.8-.3h0m2.5 .2h0m2.4-.1h0m3.1-.4h0m2.4 0h0m2.1 .2h0m2.6-.6h0m-233.6 2.7h0m5 .4h0m2.7-.9h0m3 .2h0m2.5 .2h0m48.8 .3h0m1.7-.2h0m7.9 .1h0m2.6-.5h0m28 .5h0m2.8-.5h0m2.9 .8h0m2-.9h0m2.1 1h0m3.5-.9h0m27.8 .3h0m2.1 .2h0m23.7 .2h0m2.2-.7h0m2.9 0h0m2.2 .5h0m2.3 .2h0m40.6-.3h0m2.8 .1h0m2.1 .4h0m5.2-.4h0m3.5 .4h0m2.2-.7h0m-233.8 2.8h0m2.7-.4h0m3-.5h0m1.7 .2h0m3.1 .7h0m51-.7h0m2.2 .3h0m3.4 .3h0m2.2-.3h0m2 0h0m5.6 .1h0m2.5 .4h0m2.3-.4h0m3 .4h0m2.3-.4h0m2.1-.1h0m2.8 .2h0m2.3 .1h0m3.2 0h0m2.8-.8h0m2.1 .2h0m2.3-.2h0m2.3 .1h0m3 .8h0m3.1-.6h0m2.1 .2h0m25.1-.4h0m3 .5h0m2.4 .3h0m22.9-.7h0m2.6-.2h0m5.4 .4h0m42.6-.2h0m2.6 .2h0m2.8-.3h0m2.4 .8h0m2.7-.4h0m3.3-.1h0m1.8 .5h0m-243.9 2h0m6.2-.4h0m1.9 .3h0m66.3-.1h0m2.7 .1h0m2.6-.5h0m5.4 .6h0m2-.2h0m2.4-.5h0m2.6 0h0m2.8 .6h0m2.9-.4h0m2.3 .2h0m2.4 .4h0m2.5-.7h0m2.7-.1h0m8.1 .9h0m1.7-.2h0m2.6-.5h0m2.4-.1h0m28.9 .7h0m2.2-.3h0m2.9 0h0m20.5-.5h0m2 .9h0m2.9 0h0m5-.8h0M70-98h0m23.4 0h0m1.7-.5h0m3.8 .1h0m2.5 .1h0m2 0h0m3.2-.4h0m1.6-.5h0m3 .6h0m5.1 .1h0m-250.9 2.1h0m1.8-.7h0m2.9 .2h0m2.8 .1h0m64 .7h0m2.4-.7h0m2.5 .2h0m2.7-.2h0m1.8 .1h0m5.3 .6h0m2.6 0h0m5-.5h0m3.2 .1h0m2.3-.5h0m17.6 .1h0m2.4 .4h0m2.4-.6h0m31.5 1h0m2.5-.3h0m1.9 0h0m2.4 .2h0m3-.9h0m2.9 .6h0m1.6 .3h0m3.2-.1h0m2.9 .2h0m2.7-.3h0m1.9-.6h0m2.9 .4h0m2.2-.2h0m2.5 .3h0m2.7 .3h0m48-.8h0m2.9 .9h0m2.2-.4h0m3.3-.2h0m1.9 .5h0m2.9 .1h0m-255.8 1.8h0m2.4 .2h0m2.4 .1h0m1.9-.4h0m3.2 .1h0m20.7-.4h0m2.3 .4h0m38-.5h0m2.3 .3h0m2.9 .3h0m2.3 0h0m2.4-.3h0m2.3-.1h0m3.4 .2h0m2.7 .2h0m2-.4h0m2.3 .8h0m5.9-.3h0m2.3-.8h0m20 .3h0m2.7 .4h0m2.9-.1h0m34.9-.4h0m11.2 0h0m11.9 .6h0m2.9-.4h0m2.3 .6h0m2.9-.5h0m2.5 .4h0m15.7 .3h0m12.1-.9h0m20.1 .2h0m2.8 .3h0m3.1 0h0m1.8 .1h0m5.8 .1h0m2.8 0h0M-142.2-92h0m2.7 0h0m2.7-.1h0m1.7-.1h0m2.4 0h0m21 0h0m2.2 .4h0m2.7-.5h0m38.1 0h0m3.1-.3h0m2.5 .1h0m2.5 .4h0m2.3-.4h0m2.1-.2h0m2.8 .7h0m33.8-.2h0m4.5-.2h0m2.5 0h0m2.7 .4h0m53.5-.6h0m2.2 .8h0m5.2-.7h0m2.6 .8h0m2.8-.8h0m47-.3h0m1.2 .5h0m3.1-.4h0m2.6 .3h0m7.3 .4h0m-263.9 1.8h0m2.1 0h0m2.6 0h0m2.9 .1h0m2.5-.2h0m20.9 .6h0m1.8-.1h0m8.1-.3h0m2.8 .7h0m35.4-.1h0m2.1 0h0m5.2-.1h0m2.7-.4h0m43.2 .6h0m3.1-.2h0m2.3-.4h0m2 .5h0m3.2-.9h0m2.1 0h0m46.8 .6h0m6.9 0h0m3.3-.5h0m1.9 .6h0m22.8-.5h0m27.8 .8h0m3.1-.6h0m7.7 .1h0m2.4 0h0M-150-87.3h0m2.7-.8h0m2.6 .4h0m30.3 .4h0m2.8 0h0m4.8-.9h0m2.9 1h0m38.1-.7h0m40.8 0h0m12.1 .5h0m6-.1h0m2-.3h0m2.5 .3h0m49 .1h0m1.8-.6h0m3 .5h0m3-.6h0m2.2 .4h0m2.6-.5h0m2.2 .9h0m46.5-.8h0m1.6 .8h0m2.6-.5h0m8-.3h0m2.2 .1h0m3 .3h0m-276.8 2.1h0m2.6 .4h0m2.9 .1h0m33-.9h0m2.1 .3h0m2.7 .5h0m2.8 0h0m2.8-.5h0m10.1-.2h0m2.7 .6h0m25.1 .1h0m2.9 .1h0m15.2-.2h0m1.8-.4h0m41.6 .4h0m2-.7h0m5.9 .5h0m2.1 .2h0m3 .2h0m34.9-.8h0m2.3-.2h0m3.6 .3h0m1.6-.1h0m3.2 .7h0m2.3-.6h0m2 .6h0m3.5-.5h0m45.7-.4h0m1.9 .9h0m10.5-.5h0m2.9 .5h0m-277 2.4h0m2.3-.2h0m2.6-.3h0m35.6 .1h0m3.5 .1h0m1.7-.6h0m3.1 .1h0m2.6 .1h0m7.1 .2h0m3.4-.3h0m1.7-.1h0m26.3 .9h0m1.7-.2h0m13.4 .2h0m2 0h0m2.9-.4h0m5.5-.8h0m15.6 1.3h0m17.1-1.1h0m5.6 .6h0m1.8-.2h0m3 .6h0m2.4-.1h0m2-.3h0m51.2-.6h0m3 0h0m1.8 .4h0m41.7-.1h0m2.3-.3h0m12.5 .1h0m3 .8h0M-159.1-81h0m4.7-.3h0m3.4 0h0m1.9 .2h0m7.7 .2h0m30.5-.4h0m2.5 .6h0m5.1-.4h0m3.4-.5h0m4.9 .9h0m1.7-.3h0m5.6-.4h0m22.5 .6h0m3.3-.8h0m13 .9h0m2.3-.5h0m2.7 .6h0m2.3 0h0m5.5-1.4h0m37.6 .9h0m5.7-.1h0m1.8 .6h0m2.8-.2h0m2.3-.8h0m17.8 1h0m23.6-.3h0m7.8-.8h0m1.9 .4h0m1.8 .6h0m39.7 0h0m1.7-.6h0m13.4 .5h0m2.2-.8h0m2.1 .3h0M-158-78.7h0m2.3 .1h0m11-.2h0m2.4 0h0m2.8-.2h0m1.6-.1h0m2.7 0h0m25.5 .3h0m3.2 .1h0m2-.2h0m5.2 .2h0m2.8 .1h0m2.5 0h0m5.5 0h0m2.4-.6h0m2.2 .3h0m3.1-.5h0m2.1 .7h0m8.1 .3h0m2-.7h0m2.6 .1h0m2.2-.4h0m18.3 .6h0M9-78.6h0m4.5-.7h0m2.1 0h0m2.6 .3h0m3 .2h0m2.1 0h0m7.7-.5h0m2.6 .2h0m2.5 .7h0m2.8-.2h0m2.6-.7h0m11.9 .7h0m3.4 .1h0m2.3-.8h0m2.8-.1h0m2.2 .3h0m35.5 .5h0m3 .1h0m2.7-.3h0m1.9 .3h0m15.7-.9h0m2.1 1h0m2.5-.1h0m-286.1 1.4h0m2.2-.1h0m12.9 .1h0m2.8 .7h0m2.1-.1h0m2.1-.4h0m2.5 0h0m26.1 .4h0m2.5-.1h0m10.2 .4h0m2.3-.9h0m2.2 .2h0m3.4-.2h0m2.2 .5h0m3.1 0h0m2.1 0h0m7.4-.5h0m2.2 .1h0m2.7 .7h0m76.3-.5h0m6 .1h0m2-.1h0m5.9-.2h0m6.9 .7h0m2.5-.1h0m3.3-.3h0m1.8 .1h0m2.7 0h0M53-77h0m2.5 0h0m2.1-.2h0m3.1 .7h0m1.7-.4h0m2.4 .5h0m4.8 0h0m28.9-.8h0m2.8 1h0m1.8-.8h0m3.3-.2h0m19.8 1h0m2.9-.4h0m-289.7 2.1h0m2.7 .2h0m10.1-.1h0m3.2 .3h0m2-.5h0m4.9 .4h0m3-.2h0m25.8-.5h0m2.2 .8h0m2.8-.1h0m7.1-.8h0m3.2 .2h0m2.1 .1h0m7.8-.3h0m2.5 .8h0m5.3 .2h0m2.8 .1h0m2.3-.9h0m2.7-.1h0m80.8 .1h0m.9 .7h0m2-.5h0m2 .1h0m3.2-.1h0m10.6-.1h0m7.2 .6h0m2.5 0h0m2.4 .1h0m3.2 0h0m2.2-.9h0m2.1 .4h0m2.8 .4h0m3-.4h0m1.7 .4h0m3.3-.2h0m2 .1h0m2.4-.2h0m34 .1h0m2.2-.2h0m2.1 .5h0m20.5-.9h0m2.6 .9h0m3-.8h0m-292.3 2.5h0m2.2 .5h0m13-.5h0m2.7 .3h0m5.5-.1h0m2 .3h0m25.9-.7h0m2.3 .3h0m8.1-.2h0m2.4 .5h0m2.9-.5h0m1.6 .2h0m2.4 0h0m6 .1h0m2.2-.4h0m7.4 .6h0m2.3-.9h0m3.3 .3h0m2.7 .2h0m26.2 .7h0m54.7-.5h0m1.9-.7h0m.6 .5h0m2.5 .2h0m13.1-.7h0m8 .3h0m2.6 .4h0m2.1 .1h0m2.4 .1h0m2.6-.8h0m8.1 .1h0m2.4 .3h0m2.9 .1h0m1.6-.6h0m33.9 1.1h0m2.5-.4h0m2.4-.3h0m25.2-.2h0m2.7 .2h0m2.1-.4h0m-297.1 3.2h0m3.1 0h0m12.6-.6h0m2.6-.2h0m2.6 .7h0m2.2 0h0m3.1-.3h0m27.3 .2h0m8.2 .1h0m2.4-.8h0m2.5-.1h0m2.9 1h0m10.5-.9h0m2.1 .5h0m5.6 .2h0m2-.4h0m3 .5h0m83.5 .2h0m2.7-.2h0m1.4-1.5h0m1.8 1.6h0m14.5-.1h0m2.9-.5h0m2.5 .1h0m2.6 0h0m2.1-.5h0m3.1 .4h0m2.6-.1h0m10.2 .4h0m2.1-.5h0m2.5 0h0m2.3-.2h0m2.8 .2h0m30.5 .7h0m3-.8h0m27.4 .5h0m2.8-.4h0m-296.5 2h0m1.9 .6h0m17.9 0h0m2.7-.1h0m2.2 .3h0m29.1-.1h0m2.1-.7h0m2.7 .6h0m5.4-.6h0m2.1 .1h0m2.1 .6h0m2.5-.1h0m3.5 .3h0m1.9-.8h0m5.3 .6h0m2.3-.3h0m7.6 .4h0m13.2-.8h0m8.4 1.3h0m65.1-.6h0m1.2-.7h0m1.1 .7h0m18.1-.1h0m2.8-.1h0m2.5 .5h0m2.3-.5h0m5.8-.3h0m2.6 .7h0m2.1-.3h0m4.7-.4h0m2.9 .8h0m2.7-.1h0m2.4-.8h0m2.4 .1h0m2.8-.2h0m1.3 .2h0m26.6 .2h0m33.5 .4h0m-297 2.4h0m1.9 0h0m18.1-.4h0m2.9 .1h0m1.8 0h0m34.1 0h0m2.2-.3h0m8.1 0h0m1.5 .4h0m3.1-.3h0m2.3 .1h0m2.6 .2h0m2.3-.5h0m3 .1h0m3-.4h0m4.2 .6h0m12.9 .4h0m2.6-.9h0m2.3 .9h0m69 0h0m.8-1.6h0m2.1 1.3h0m12.5 .2h0m2.3 .1h0m3.3-.4h0m1.7 .1h0m3.1-.4h0m2.3-.1h0m4.9 .7h0m2.6-.6h0m2.8-.2h0m2.2 .2h0m6.1 .1h0m1.6 .5h0m3.1-.4h0m2.4 .6h0m2.9-.2h0m2.2-.6h0m2.9-.1h0m1.9 .5h0m3.1-1.4h0m17.6 1.5h0m2.1 .2h0m31.4-.3h0m2.3-.7h0m-299.5 2.5h0m2.3 .3h0m20.6-.2h0m2 .2h0m2.4 0h0m3 .4h0m3-.5h0m1.9 0h0m38.2 .1h0m3.1-.4h0m1.9 0h0m5.9-.1h0m2.4 .2h0m2.6 .2h0m1.8 .5h0m3.2-.4h0m21.2-1.1h0m65.2 1.3h0m12.5 .1h0m2.5-.5h0m2.8 .5h0m2.4-.9h0m7.5 .5h0m3.3 .2h0m2.6 .3h0m2.1-.1h0m2.9-.3h0m7.5-.3h0m2.7 .6h0m2.4-.8h0m2.7 .1h0m10.5 .3h0m2.6-.1h0m2.1 .5h0m2.8-.3h0m2.1-.6h0m2.5 .2h0m2.8 .4h0m2.4-.1h0M98-63h0m35.9-1h0m2.8 .4h0m-304.9 2.7h0m2.8-.6h0m22.7 .4h0m2.8 .2h0m2.1-.3h0m2.5 .3h0m2.5-.7h0m3.3 .6h0m47.8-.6h0m3.1 .7h0m2.7-.4h0m12.4 .2h0m4.8 .3h0m71.5-.4h0m.7-.5h0m.3-.7h0m12 1.1h0m2.6 .1h0m2.9-.1h0m9.8 0h0m2.7-.2h0m2.2-.2h0m2.7 .1h0m5.5 .6h0m2.1-.4h0m2.5-.2h0m2.4-.1h0m3.1 .6h0m1.9 .1h0m2.5-.2h0m11 0h0m2 0h0m2.6-.1h0m2.9-.3h0m2.5 .3h0m2.7 .3h0m5.3-.4h0m35.6 .1h0m1.7 0h0m-303.8 2.6h0m2.5-.3h0m22.4 0h0m3.1-.5h0m2.4 .1h0m9.6 .7h0m35.6-.2h0m2.6-.5h0m2.7 0h0m2.6 .8h0m3.3-.9h0m2.1 0h0m2.7 .4h0m91.6 .2h0m2.3-.5h0m8.2 .4h0m2 .4h0M30-59h0m1.8 .2h0m6-.2h0m6.8 0h0m10.8-.5h0m2.2 .1h0m4.9 .8h0m7.6-.3h0m10.6-.5h0m2.5 .7h0m5 .1h0m2.2-.1h0m3-.3h0m2.8-.1h0m2.8 .6h0m2.1-.2h0m2.5-.2h0m2.6 .1h0m5-.2h0m7.4 .5h0m3.2-.8h0m1.8 .7h0m3.3-.5h0m1.7 .3h0m5.9-.3h0m2.6-.1h0m-307.4 2.3h0m2-.3h0m26.3 .7h0m9.7-.3h0m2.4-.5h0m35.5 .5h0m2.7 .1h0m2.6-.5h0m3.1 .6h0m2.5-.1h0m2.7 .4h0m1.8-.2h0m3.1-.6h0m90.4-.9h0m1.4 .6h0m.2 .9h0m1.7 0h0m5.3 .1h0m2.8-.2h0m7.9-.6h0m7.8 .5h0m1.9-.4h0m2.6-.2h0m8.3 .8h0m1.7-.1h0m3.2 .3h0m1.9 0h0m2.6-.7h0m5.1 0h0m2.5 .5h0m18.3 .1h0m5.5-.3h0m1.9-.1h0m2.5 .3h0m2.9 .1h0m1.9-.9h0m2.7 .4h0m2.9 .3h0m2.9-.6h0m7.5 .7h0m2.6-.3h0m1.8-.5h0m5.2 .9h0m7.7 0h0M-172-55.2h0m2.5 .8h0m25.3-.2h0m3.1 .3h0m7.9-.6h0m1.7 .7h0m3.1-.3h0m12.5-.1h0m20.4 0h0m2.7-.5h0m5.1 1h0m2.5-.8h0m3 .1h0m2-.1h0m5 .8h0m89.2-.2h0m1.3-.3h0m.9 .6h0m.9-.2h0m.5-1.7h0m7.2 1.1h0m1.9 .3h0m6 .3h0m1.5-.1h0m8.5-.8h0m2.6 .8h0m2.5 0h0m4.5-.8h0m5.8 .6h0m1.7-.4h0m3.2-.3h0m2.5 .4h0m2.9 .4h0m2-.7h0m2.9 .6h0m4.3-.2h0m10.4 .2h0m8 0h0m2.7 0h0m2-.5h0m8.1 0h0m2.1 .2h0m2.7 .4h0m5.8-.5h0m1.9 .6h0m7.7-.8h0m3.1 .6h0m5 .4h0m2.6-.1h0m-312.9 1.6h0m2.6-.3h0m27.9 .6h0m2.9-.5h0m2.6 .9h0m1.9-.2h0m2.6-.7h0m2.6 .2h0m8 .5h0m2.9 0h0m2.5-.1h0m1.9 .2h0m20.6-.9h0m8.4 .9h0m2.1 .1h0m1.9 0h0m5.1-1h0m3.4 .9h0m2.6-.6h0m86.7 0h0m1.8 .5h0m1.1 .2h0m1.3-.4h0m.4-.9h0m5.2 .9h0m2.9-.4h0m2.2 0h0m2.1-.1h0m10.3 .8h0m3.5 .1h0m2-.4h0m2.9 0h0m2.7-.6h0m4.5 .2h0m2.8 0h0m7.9 .3h0m2.6-.2h0m1.8-.2h0m2.9 .1h0m2 .1h0m7.9 .3h0m2.3 0h0m2.5-.6h0m3.5 .3h0m2.4-.2h0m12.7 .9h0m5.4-.8h0m1.6-.1h0m2.5 0h0m8.1 .5h0m2-.3h0m2.9-.1h0m2.3 .1h0m2.6 0h0m3.1 .5h0m-317.5 2.4h0m2.1 0h0m2.9-.3h0m30.7 .3h0m2.9-.7h0m2.1 .7h0m2.4-.9h0m3 .1h0m1.8 .8h0m5.8-.4h0m2.7 .2h0m1.9-.4h0m2.3 .2h0m3.3 0h0m20.3-.2h0m2.6 .2h0m2.2 .3h0m2.9-.5h0m2.6 0h0m4.6 .3h0m5.4-.5h0m88.7 .1h0m2.9-.2h0m7.9 .6h0m5.2-.5h0m2.6-.1h0m2.2 .3h0m8.1 0h0m2.6 .1h0m2.4-.4h0m1.9 .4h0m8-.2h0m8.2-.2h0m1.5 .6h0m5.8-.7h0m2.1 .8h0m2.8-.1h0m5.1-.2h0m2.3-.1h0m3.1-.1h0m1.9-.3h0m3.3 .3h0m9.9-.1h0m10.3 .8h0m2.1-.3h0m2.3-.7h0m2.8 .6h0m3.2-.2h0m2.4 0h0m1.9 .1h0m5.3-.4h0m2.8 0h0m-312.6 2.1h0m2.3 .5h0m21.1-.2h0m2 .4h0m3.3 0h0m2.4 .1h0m1.9 .2h0m7.7-.2h0m2.8-.3h0m2.3 .5h0m2.6-.4h0m2.8 .4h0m2.3-.9h0m5.7 0h0m2.7-.1h0m20.3 .4h0m4.2-.1h0m3.4 .1h0m1.9-.3h0m5.3 .5h0m2.2-.6h0m92 .7h0m2-1.3h0m1 .7h0m.9-.5h0m.5-.2h0m6.4 .9h0m2 .2h0m4.8 .3h0m2.7 .2h0m5.2-.4h0m2.9 0h0m2.1-.1h0m5.5 .2h0m2.6-.7h0m2.2 .2h0m2.9 .1h0m7.8 .1h0m1.9-.4h0m5.4 .2h0m3.2 .3h0m2-.2h0m7.9 .5h0m2.5-.5h0m2.6-.2h0m2.6 .8h0m10.1-.7h0m2.3 0h0m5.4-.1h0m2.7 .1h0m1.8 .8h0m3.2-.4h0m10.3-.2h0m1.9 .3h0m3.3-.7h0M-173.9-46h0m2.5 .1h0m20.5 .1h0m2.5-.5h0m2.2 .2h0m4.9 .1h0m3.1 .6h0m4.8-.3h0m2.4 0h0m2.1-.6h0m3.5 .2h0m2.2 .1h0m2.6 .4h0m2 .1h0m6 .2h0m2.3-.8h0m25.4 .8h0m1.9-1h0M17.1-46h0m2.1 .5h0m.3-.2h0m2.5 0h0m7.6 .4h0m5.2-.2h0m2.7-.8h0m2 .5h0m6-.1h0m1.8-.1h0m5.2 .6h0m2.9-.5h0m2.4 .1h0m7.3 .2h0m8.2 .1h0m2-.3h0m3.2 0h0m10.2-.3h0m2.3 .3h0m2.1 .5h0m3.3-.6h0m2 .2h0m2.9-.1h0m4.9 .1h0m2.2-.2h0m2.5 .2h0m3.2-.1h0m15.2-1.1h0m7.5 1.2h0m.1-1.6h0m2.8 1h0m-317.9 2.7h0m2.3-.4h0m2.9 .7h0m25.8 0h0m1.6 0h0m3.4 .3h0m2.6-.2h0m7.2-.8h0m2.3 .1h0m8.3 .4h0m1.8 .2h0m2.6-.2h0m3.1 .3h0m2.9-.3h0m24.7-.4h0m2.8 .8h0M18.6-43h0m2.5-1h0m1.3 .4h0m3.6 .2h0m12.2 0h0m8.5-.7h0m1.7 .5h0m3.3-.2h0m4.7 .2h0m8.1-.4h0m2.3 .9h0m2.1-.3h0m2.6-.1h0m7.4-.1h0m3.5-.3h0m2.5-.2h0m1.7 .2h0m3.4 .1h0m6.8 .3h0m2.7 .3h0m2.7-.2h0m8.3 0h0m27.6-.7h0m2 .7h0m-316.5 1.5h0m1.6 0h0m28.4 1h0m3.1-.5h0m12.6 .2h0m1.8-.1h0m10.5 .2h0m3.2-.8h0m2.1 1h0m24.9-.3h0m3.1-.1h0m102 0h0m2.9 .4h0m.3-1.2h0m9.6 1.1h0m5.6-.5h0m4.7 .6h0m2.5 .1h0m2-.9h0m3.4-.2h0m2.5 .2h0m2.2 .4h0m9.7-.3h0m2.6 .3h0m3.3 0h0m2.3-.4h0m10 0h0m2.7 .7h0m2.2-.8h0m2.7-.1h0m3.1 .8h0m6.9-.6h0m3.3 .4h0m2-.2h0m4.8-.4h0m2.7 .9h0m25.5-.8h0m.5-.8h0m.4 .6h0m1.7 .8h0m-314.9 1.9h0m3 .6h0m25.2-.4h0m2.2 .4h0m2.7-.8h0m13.5 .3h0m2.2 .4h0m2.2 0h0m7.9 .1h0m3-.4h0m2.1-.3h0m23.2 .8h0m2.7-.6h0m104.4 .1h0m.6-.5h0m1.2 .4h0m3.6 .3h0m1.5-.3h0m.4-.9h0m5.6 .6h0m7.8 .7h0m2.1-.2h0m2.1-.5h0m3 .9h0m2.1-.6h0m3.4-.4h0m1.7 .7h0m3.2-.7h0m5.1 .3h0m1.8-.2h0m3.4 .7h0m2.2-.6h0m2.5 .5h0m10.7-.3h0m2.1 0h0m2.6-.5h0m2 .2h0m2.6 .1h0m7.7-.3h0m3.4 .9h0m2.1 .2h0m2.9-.9h0m2.3 .7h0m25.3-.9h0m5.2 .5h0m-317.9 2.6h0m3.4-.7h0m28 .1h0m19.8 .8h0m2.4-.7h0m3 .2h0m2.9 .1h0m2.2-.3h0m25.7 0h0m1.7-.1h0m109.7-.1h0m1.5 1h0m1.2-1h0m2.5-.8h0m.4 .8h0m2.4-.2h0m8 .6h0m4.8 .2h0m2.5 0h0m8.1 0h0m2.5-.6h0m10.5 .1h0m1.8 .6h0m2.9-.8h0m2 1h0m15.3-.2h0m2.7 0h0m7.6-.4h0m3.3 0h0m1.6 .6h0m3-1h0m5.2 .2h0m25.2 .3h0m2.8-1.5h0m.4 1.6h0m1.8-.1h0m-319.1 1.7h0m2.3 .3h0m48.5-.1h0m2.6 0h0m1.7 .7h0m2.8 0h0m2.8-.7h0m2.4 .7h0m22.9-1h0m2.3 .6h0m110.1 0h0m2.4-.3h0m3 .6h0m0-.9h0m.4-.8h0m1.6 1.1h0m18.3 .6h0m2.7-.4h0m2.4 .6h0m1.9-.3h0m5-.6h0m2.6 .5h0m3.1-.1h0m2.4-.5h0m2.1 .3h0m3.4-.2h0m2.4 0h0m1.8-.1h0m3.1 .2h0m2.2-.3h0m8.4 .1h0m1.8 .6h0m3.2-.2h0m1.7-.2h0m3.5-.2h0m2.5 .8h0m2.5-.4h0m1.9-.2h0m28.5 .5h0m2.4-1.2h0m.4 .7h0m-315 2.8h0m2.5-.4h0m2.2 .3h0m45.7-.4h0m2.8 .6h0m4.7-.8h0m2.5 .2h0m18.3-.3h0m2.7 .9h0m2-.9h0m2.5 .5h0m112.8 .4h0m.8-.8h0m1.7 .7h0m2.6-.5h0m2.3 .4h0m8.1 .3h0m10.2-.9h0m2 .3h0m8.4-.1h0m9.5-.2h0m2.2 .4h0m3.3-.2h0m2.7 .2h0m2.3-.2h0m2.6 .1h0m2.2-.2h0m2.4 .4h0m5-.5h0M93-33h0m3 0h0m2.1-.1h0m3.4 .3h0m1.6 .5h0m7.8-.1h0m26.3 .3h0m1.6 0h0m-319 2.2h0m2.2-.8h0m2.4 0h0m2.7 .4h0m76.1-.5h0m2.9 .9h0m117.4-.9h0m.2 .9h0m.1-1h0m1 .8h0m1.2-.1h0m2.3-.2h0m5.5 .1h0m2 .4h0m10.5-.7h0m5.5-.2h0m2.5 .2h0m9.9 .6h0m2.2 0h0m7.9-.3h0m2-.4h0m3.3 .4h0m2.2 .1h0m2.7-.3h0m2 .3h0m10.8 .4h0m2.6-.7h0m38.6 .7h0m1.9-.5h0m.3-.3h0m-317.2 2.1h0m2.4 0h0m1.8 .2h0m10.8 .4h0m2.9 .1h0m58.4-.2h0m2.1-.2h0m2.7 .1h0M22-28.6h0m2.4 .7h0m.4-.7h0m2.2 .1h0m.5-.7h0m2.3 1.5h0m2.2-.1h0m7.6 0h0m15.8-.1h0m12.2-.8h0m2.8 .2h0m2.1 0h0m2.5 .9h0m8.1-.1h0m3.1-.2h0m1.9-.3h0m10.4 .5h0m2.1-.9h0m7.7 .6h0m28.6 .3h0m2.7-.3h0m2 .2h0m-319.8 2h0m2.6-.1h0m2.5 .3h0m9.7-.8h0m3.5 .2h0m1.8 .3h0m3.3-.5h0m53.2 0h0m2.7 0h0m2.4 .2h0m122.2 .8h0m.4-.4h0m1.6-1.6h0m1.2 1.2h0m.8 0h0m6.1 .2h0m7.6-.4h0m5.1 .1h0m7.4 .5h0m13.8 .2h0m4.8-.5h0m2.4 .7h0m5.4-.6h0m1.7 .4h0m2.5 .1h0m2.9 0h0m13.4-.3h0m1.9 .4h0m3-.1h0m2.6 0h0m2.4-.5h0m20.7 .5h0m2.3-.1h0m1.8-.2h0m1.6-1.3h0m1.6 1.1h0m1.1-.4h0m1.1 .1h0m-322.5 2.1h0m.4 .1h0m2.8 .7h0m1.5 .1h0m3-.9h0m2.9 .2h0m4.8 .7h0m3-.1h0m1.9-.8h0m5.6 .2h0m50.9 .3h0m2.6-.5h0m126.9-1h0m.3 1.5h0m2.5-.4h0m5.1 .3h0m2.7 .5h0m10-.9h0m25.8 .8h0m2-.8h0m2.8 .4h0m2.8 .4h0m2.3-.7h0m2.9-.1h0m2.2 .3h0m10.6 .6h0m2.3-.5h0m3 .5h0m2.6-.9h0m2.3 .2h0m7.2-.2h0m8 0h0m2.8 .4h0m2.6 .5h0m2.2 0h0m2.7-.7h0m2.6 .5h0m2.6-.5h0m1.5-.6h0m.6 1.4h0m3-.5h0m-322.9 2.6h0m1.6-.7h0m1 0h0m2.6 .8h0m5-.9h0m2.2 0h0m2.6 .9h0m3.3-.1h0m1.8-.4h0m2.8 .5h0m43.9-.6h0m2 .1h0m2.2 0h0m2.6 .4h0m3.2-.3h0m130 0h0m.5-1.3h0m2 .7h0m1.5 .4h0m1.3-.1h0m2.5-.1h0m7.1 .7h0m2.3 .1h0m3-.1h0m2.3-.5h0m2.7-.1h0m7.3-.1h0m7.6 .1h0m5.5 .8h0m4.9-.2h0m2.5-.8h0m8.5 .9h0m1.5-.5h0m3 .3h0m3.1-.3h0m2.5-.3h0m1.8 .4h0m3.3-.1h0m2.1-.4h0m2.6 0h0m2.1 .9h0m5.6-.2h0m2.1 0h0m3.4-.6h0m7 .7h0m2.7-.7h0m2.1-.2h0m5.1-.4h0m.5 1.3h0m2.2-.9h0m-322.5 3.3h0m.3-.3h0m2.5 .1h0m2.7 .2h0m2-.8h0m8.4 0h0m2.2 .6h0m2.5-.6h0m2.1 .4h0m3.1 .2h0m43.8-.7h0m2.2 .8h0m2.2-.4h0m135.5-.5h0m.1-.3h0m2.6 .4h0m1.6-.6h0m.7 1.4h0m1.8-1.6h0m.9 .8h0m1.2 .2h0m16.8-.2h0m5.1 .8h0m6.9-.7h0m5.4 .2h0m8.3 .2h0m6.7 0h0m3-.2h0m5.4-.1h0m1.9 .3h0m2.4-.1h0m2.5-.4h0m3-.1h0m2.9 .8h0m2.2-.7h0m2.1 .6h0m7.8-.1h0m3.3 0h0m7.8-.1h0m1.8 .3h0m5.2-.8h0m1.6 0h0m.9 1h0m.1-1.1h0m2.4 .3h0m-324.6 2.3h0m2.1 .1h0m2.5 .2h0m2.6-1h0m.6 1.3h0m12.3-.3h0m2 0h0m2.5-.4h0m2.8 .7h0m3.1-.6h0m2.3 .5h0m2.1-.4h0m2.7 .3h0m2.7-.6h0m2.8 .8h0m10-.6h0m10.6-.3h0m2.5-.1h0m2.3 .5h0m2.9 .1h0m141.9 0h0m.1 .1h0m1.5-.3h0m1.8 .1h0m1.9 .3h0m.3 .2h0m7.2-.5h0m11-.4h0m5 0h0m1.9 .9h0m3.1 0h0m2.8-.9h0m4.3-.1h0m2.8 .8h0m2.3-.7h0m5.8 .2h0m10.1 .6h0m5.3-.5h0m7.3-.2h0m5.2 .6h0m7.3-.6h0m5.3-.1h0m7.2 .5h0m3.2-.3h0m7.1-.2h0m-321.9 2.9h0m2 .1h0m.6-.2h0m2.5-.2h0m1.8 .1h0m11.2 .1h0m4.9-.5h0m12.6 .7h0m1.9 0h0m2.7-.6h0m2.9 0h0m3 .8h0m2.5-.4h0m2.6 0h0m2.3 .3h0m2.8-.7h0m2-.3h0m2.6 1h0m3-.2h0m2.4-.7h0m4.8 .6h0m142.5 .3h0m1.7-.7h0m1.4 0h0m2.3 .7h0m.9-1.4h0m1.9 .9h0m4.9-.1h0m7.3 .4h0m2.7-.8h0m2.4 .5h0m2.5-.2h0m2.6 .4h0m2.6-.7h0m5.2 .1h0m3.1 .8h0m19.2-1.9h0m.5 .6h0m.8 .5h0m14.4 .1h0m2.9 .3h0m2.5-.3h0m18.1 .8h0m2.5-.1h0m7.5-.5h0m2.8-.4h0m-325.3 2.2h0m2.1 .9h0m3.4-.1h0m.5-.2h0m37.1-.3h0m2.5 .3h0m3.1-.1h0m2.9 .6h0m2.5-.1h0m1.5 0h0m3.3-.8h0m2.6 .5h0m2.3 .2h0m150-.9h0m2.6 .8h0m2.9-.8h0m0 .4h0m.4-1.3h0m2.7 1.7h0m4.5-.2h0m2.1 .3h0m5.7-.5h0m10.2 .7h0m2.7-.1h0m4.4-.8h0m23.1 .4h0m.8 0h0m17.8-.5h0m2.4 .3h0m4.5-.3h0m10.5 .1h0m2.8 .1h0m8-.2h0m2.5 .3h0m-325.3 2.7h0m1.1-1.8h0m.6 1.2h0m2.9 .1h0m2.2 .1h0m23 .2h0m21.1 .1h0m2.4 0h0m164.3-1.2h0m1.3 .9h0m1.3-.4h0m1.4 0h0m2.3 .7h0m.1-1.1h0m5.3 .3h0m2.1 .1h0m10.8 1h0m12.3-1h0m22.1-.4h0m11.2 .5h0m5.5 .7h0m7.6-.8h0m7.7 .7h0m4.5 .2h0m12.7-.4h0m-325.3 2.6h0m.1-.8h0m3.3 .6h0m2.6 .2h0m2.2 .1h0m19.8-.9h0m5.6 .3h0m185.6-.3h0m.4 0h0m2.2 .9h0m1.6-.6h0m6 .4h0m5.2-.8h0m54.1-.1h0m2.5 1h0m4.8 .1h0m3.3-.1h0m10.1-.4h0m14.9 .1h0m2.4-.1h0m-327.3 1.6h0m2 .5h0m2.6 0h0m28.8 0h0m189.6-.8h0m.8 .4h0m.8 .1h0m1.6 .2h0m.1 .2h0m3.4-.5h0m12.4 .9h0m46.4-.4h0m17.3-.1h0m2.3 .4h0m18.6-.7h0m1.5 .6h0m3.2-.6h0m-331.4 1.5h0m1.3 1h0m.1 .1h0m2.6-.5h0m1.8 1h0m219.9-.5h0m.1-1.2h0m.1 1.2h0m1.7 0h0m3.1 .4h0m2-.9h0m5.6 .2h0m5.4 .6h0m63.4-.6h0m2.7 .2h0m19.7 0h0m2.8-.3h0m-334.6 3h0m2.4-.6h0m1.8-.1h0m.8 .5h0m12.6-.2h0m210.1-.5h0m1 .4h0M50.1-3h0m.1 1.3h0m2.3 .6h0m8.1-.8h0m1.9 .1h0m5.3 .1h0m.8 .5h0m25.1-.9h0m25 .8h0m2.2-.2h0m2.8-.1h0m2.8 .4h0m10-.2h0m3.2-.5h0m2.6 .2h0m1.7-.1h0m3.3 .4h0m1.8-.5h0M-180.7 .3h0m2.3 .1h0m3.2 .6h0m1.9-.7h0m10.6 0h0m2 .1h0M47.6 .3h0m1.5-.1h0m1.1-.2h0m.4 .7h0m1 .2h0m12.2-.4h0m26.4-.4h0m22.9 1h0m2-.4h0m2.2 .3h0m2.9-.3h0m2.2 .1h0m5 0h0m1.8-1.9h0m6 1.5h0m2.5 .6h0m2.4-.1h0m3.4-.3h0m2.6-.2h0m2.5-.1h0m1.9-.2h0m-332.7 3h0m2.6-.2h0m3 0h0m2.3-.5h0m12.2 0h0M48.8 3h0m1-.2h0m4.9 .3h0m54.5 .1h0m2.2-.9h0m1.5-.5h0m.9 1.3h0m5.6 0h0m.2-.8h0m1.8 .7h0m.2 .1h0m2.8-.1h0m2.1 0h0m.4-.3h0m7.7-.1h0m2 .6h0m7.4-.9h0m2.6 .1h0m3.1 .8h0m2.8-.5h0m1.7-.3h0m-335.4 2.4h0m3.5 .5h0m2.6 .1h0m2.2-.2h0m223.5-.1h0m.5-.4h0m5.5 .6h0m8.5-.5h0m6.3 .6h0m3.1-.7h0m.6-.7h0m35.2 .5h0M113 5h0m3.2-1.7h0m1.5 .1h0M131.3 5h0m1.2-.3h0m2.9 .6h0m10-.1h0m3.3-.6h0m2.2 .3h0m2.6 .1h0m1.9 .3h0M-179.2 7h0m2.7 .6h0m2.4-.2h0m224.7 .2h0m2.9-.2h0m52.1-.3h0m.5-1.4h0m.7 1.1h0m2.1 .5h0m1.9-.5h0m7.9 .7h0m12.8-.8h0m.8 .4h0m2.4-.4h0m2.2 .2h0m4.6 .5h0m3-.2h0m2.1 0h0m2.7-.1h0m3.1-.1h0m2.6 .3h0m-336.2 1.8h0m3.1 .3h0m2.7-.4h0m2.4 .1h0m2.9 .3h0m222-.2h0m.3-1.4h0M54 9.3h0m0-1h0m.4 1.4h0m2.2-.8h0m50.3 .8h0m.2 0h0m3.1-.5h0m7.7-.1h0m1.9-.2h0m1.5-1.1h0m1.1 1.6h0m3.1-.2h0m2.4 .4h0m4.9-.4h0m2.4 .3h0m3.3-.1h0m2.4 .2h0m4.4-.7h0M148 9h0m3.1 .5h0m1.8-.6h0m3.4 .4h0m-338.5 2.4h0m2.6-.1h0m3 .3h0m2.3-.5h0m234.7 .4h0m2.1 .3h0m2.9-.8h0m35.2-1.3h0m7.9 1.8h0m.3-1.5h0m1.5 1.1h0m5.7 .7h0m8.2-.2h0m2.4-.5h0m7.3-.2h0m2.6 .2h0m3.1 .5h0m7.1-.2h0m2.3 .2h0m3.3-.2h0m1.9 .4h0m2.6-.9h0m2.9 0h0m-343.3 2.6h0m3.3 .3h0m1.8-.2h0m2.6 0h0m3.1-.5h0m225.9-1.3h0m.4 1.8h0m1.2-1.1h0m1.9 .9h0m7 0h0m5.4 .1h0m2.5 0h0m35.4-.2h0m3.3 .1h0m4.9 0h0m12.7 .2h0m2.6 .2h0m2.1-.2h0m1.6-1.8h0m1.6 1.9h0m1.8 .2h0m2.6-.4h0m3.5-.2h0m1.7 .6h0m8-.7h0m2.8 .1h0m2.4 .5h0m2.1 0h0m-345.3 2.3h0m2.3-.3h0m8.1-.4h0m11.1-1.3h0m216.1 1.3h0m.4 .2h0m1.4-.2h0m8.4 .3h0m44.1 .2h0m1.7 .2h0m2.9-.5h0m1.2-1.6h0m.3 2.1h0m11.6-2.1h0m1.7 1.9h0m3 .1h0m1.5 .2h0m3.5-.8h0m2.1 .4h0m5-.3h0m2.6 .6h0m2.4-.3h0m5.7 .3h0m2.4 0h0m-338.2 2.3h0m5.1-.3h0m3.2-.1h0m2.5-.1h0m224.2-.3h0m2.7 .7h0m.5-2h0m52.6 1.3h0m2.5 .3h0m2.1-.7h0m.2 .8h0m.1 .1h0m4.3-1.9h0m8.3 1.3h0m3 .6h0m11.5-1.8h0m3.6 1.8h0m2.9-.3h0m5 .1h0m2.6 .4h0m2.9-.3h0m.8-1.7h0m1.3 1.3h0m1.6-1.3h0m1.1 1.7h0m2.3 .1h0m-347.7 2.4h0m2.7-.9h0m.6-1.1h0m1.3 1.4h0m3 0h0m1.8 .3h0m226.2-1.2h0m1.3 1.3h0m.3 .2h0m51.1-.3h0m4.3-.1h0m6.6-1.6h0m1 1.3h0m2.9 .5h0m3-.5h0m1.8 .5h0m3-.6h0m13.9-1.2h0m1.3 1.4h0m2.5 .5h0m3.6-2h0m1.9 2h0m7.3-.4h0m5.3 .1h0m-346.2 2.1h0m2.9-.3h0m2.6 0h0m3 .9h0m2.1-.3h0m2.9-.1h0m221.4-.1h0m18.2 .4h0m33.4 0h0m4.9-.6h0m7.3-.1h0m2.2 .4h0m2.7 .1h0m2.8 .3h0m3-.6h0m14.6 .5h0m2.4-.5h0m3.1 .4h0m.9-2h0m1.6 1.5h0m3 .4h0m.6-1.9h0m6.5 2.2h0M160 21h0m.7 1.9h0m3.1-.4h0m-346.2 2.8h0m5.6-.7h0m226.4-.3h0m.3 .8h0m2.2-.5h0m1-.8h0m.7-.6h0m42.5 1.6h0m6.9 .2h0m3.1-.5h0m5.4 .3h0m2.2 .5h0m1.9-.1h0m2.8-.5h0m5.5-.1h0m2.9 .2h0m3.9-.5h0m10.8 .3h0m5-.1h0m2.7 .4h0m9.8-.3h0m2.9 .2h0m3.2 0h0m-351.1 1.8h0m2.5 .9h0m7.5-.4h0m2.2-.2h0M34 26.7h0m1.9 .6h0m10.5 0h0m1.9-.4h0m3.4 .2h0m50.8-.5h0m2.4 .6h0m2.7-.1h0m.7-1.7h0m1.9 1.3h0m4.6 .1h0m10.8 0h0m15.2-.2h0m2.3 0h0m13.3 .7h0m1.3-1.9h0m.2 1.5h0m3.4 .2h0m2.2-.5h0m2.4 .7h0m-346.8 .3h0m3.7 2h0m2.5-.8h0m209.2 .8h0m7.8-.1h0m2.6-.1h0m.9-.4h0m1.6-.2h0m.9 0h0m1.1-.2h0m.9-.8h0m56 1.9h0m4.8-.7h0m1.8-1.4h0m5.2 0h0m.9 1.9h0m.9-1.9h0m1.4 2.1h0m2.4-.5h0m15.2 0h0m3.1-.2h0m12.8 .4h0m1.9-.1h0m2.5 .1h0m3.6 .3h0m1.6-.4h0m3.4 0h0m-353.6 2.2h0m1.7-1.8h0m.9 1.7h0m.9-1.6h0m4 1.7h0m3-.2h0m2.1 0h0m2.5 .5h0M33.6 31h0m6.2 .4h0m1.7 .3h0m2 0h0m.8-.3h0m2.3 .1h0m2 0h0m1.5-1.7h0m54.5 1.9h0m3-.1h0m1.2-1.8h0m1.6 1.5h0m10.3 .1h0m2.6-.4h0m3.1-1.3h0m1.1 2.2h0m3.1-.7h0m2.8 .2h0m1.6-.1h0m3.2 .6h0m25.1-.9h0m2.5 .5h0m2.5-.2h0m-350.2 2.4h0m4.5 0h0m3.1 0h0M24.4 34h0m4.7-.1h0m1.7-2h0m1 2h0M37 34h0m1.5-1.5h0M40 34h0m2.4-.2h0m5.2-.6h0m55.8 .2h0m5.8 0h0m9.8-.2h0m2.5 .6h0m2 0h0m2.2-1.8h0m5.7 1.4h0m2.9 .6h0m4.9-.5h0m.8-1.5h0m4.8 2h0m1.9-.7h0m5.4 .2h0m1.2-1.6h0m6.3 1.4h0m1.3-1.3h0m4 1.3h0m2.2 .2h0m-352.8 2.2h0m1.3-1.5h0m.8 1.7h0m8 .4h0m2.3 0h0m194-.2h0m7.2-.6h0m2.9 .5h0m.2-.5h0m2.8 .1h0m.7 .7h0m1.1-.6h0m1.6-1.2h0m.8 .9h0m4.7-.4h0m.7 .5h0m1.7-1.3h0m4.6-.1h0m52.8 1.6h0m1.9 .3h0m1.6-1.8h0m1.8 2h0m1.9-.2h0m2.3-.6h0m20.9 .6h0m2.3 .1h0m1.2-2h0m4.2 2h0m2-.3h0m2.9-.2h0m2.8 .2h0m1.7-1.6h0m1.1 1.6h0m2.2 .4h0m3.1-.6h0m2 0h0m2.7 .4h0m1.6-1.9h0m6.2 2.2h0m-353 2h0m2.1-.4h0m1.3-1.5h0M22 37.9h0m2.9-.3h0m1-1.2h0m.9 1.5h0m.7 0h0m2.7 .4h0m1.5 .1h0m.2-.2h0m2.3-.1h0m2.7-.3h0m4.3-1.5h0m62.8 2h0m2.3-.3h0m2.9 .5h0m1.8-.3h0m15.4-.1h0m7.4-.1h0m3.8-1.6h0m7.1 2h0m2.4-.2h0m2.2 .3h0m2.4-.7h0m3.1 .2h0m2.2 .1h0m3.2-.4h0m-343.6 2.2h0m2.6 .3h0m4.9-.1h0m1.7-1.4h0m1 1.4h0m1.4-1.5h0m131.6 1.5h0m2.3-.2h0m5.6 .7h0m12.2-.7h0m4.9 0h0m25.5 .4h0m5.4 .3h0m2.4 .1h0m3.1-.3h0m1.5 .1h0m.9-.3h0m1.1-1.6h0m.5 1.9h0m.9-.4h0m2-.1h0m3.3 .5h0m1.8-.6h0m22.9-.1h0m46 .6h0m5.6 0h0m1.5 .2h0m.7 .1h0m4-2.1h0m11.8 1.8h0m5.9-1.9h0m13.5 2.2h0m3.2-.3h0m3-.1h0m9.2 0h0m2.7-.1h0m2.5-.4h0m1.6-1.1h0m1.5 1.3h0m-350.9 2.4h0m2.2 0h0m1.3-1.6h0m1.8 1.5h0m2.7-.2h0m135.4 .2h0m1.6 0h0m3.3 .2h0m2.5-.4h0m1.3-1.3h0m1.3 1.8h0m2.6 0h0m2.4-.1h0m1.9-.3h0m3.3 .6h0m2.6-.3h0m2-.4h0m2.8 .4h0m2.4 .1h0m20 .2h0m2.6-.7h0m3.2 .1h0m0 .1h0m2.2-.2h0m.2 .6h0m2-.3h0m2.6 .1h0m2.7-.4h0m74.4 .8h0m2.5-.1h0m.3 0h0m1.4-2h0m.8 1.4h0m2.3 .3h0m3.1 .3h0m.8-1.9h0m14.3 1.1h0m23.1 0h0m1.9 .8h0m1.2-2h0m7.2 1.9h0m1.9-.1h0m3 .3h0m2.7 0h0m-353.5 1.6h0m3 .5h0m141.8-.2h0m3 0h0m2.8-.3h0m2.7 .6h0m5.1-.6h0m4.7-.3h0m2.5 .6h0m3.1 .1h0m2.3 .2h0m5.1-.8h0m2.6 0h0m2.5 .6h0m2.3-.4h0m2.8 .1h0m3.8 .3h0m1.5-.6h0m.8 .7h0m1.7-.2h0m.8-1.7h0m3.7-.2h0m.3 1.9h0m2.2 .3h0m.2-.4h0m2.7 .4h0m3.4-2.2h0m83.1 2.1h0m41.3-.2h0m1.3-1.8h0m.7 1.5h0m5.1 .5h0m5.4 .1h0m2-.5h0m3-.4h0m3 .7h0m2.3 0h0m-350.7 1.5h0m1.3-1.1h0m3-.1h0m1.1 1.3h0m.8-1.3h0m.8 1.7h0m135.7 .1h0m8.7-1.9h0m5.2 .1h0m13.4 .1h0m4 1.1h0m4.2-.5h0m2.5 1.3h0m3.1-.3h0m1.4-1.6h0m3.2 1.8h0m.8-1.9h0m1.5 1.9h0m.3-1.7h0m1.9-.3h0m0 .4h0m3 1.5h0m89.7-.1h0m.4-1.7h0m2.5 1.8h0m.9-1.9h0m22.8 1.3h0m4-.6h0m1.7-.6h0m2.8 1h0m13.7 .7h0m1.9-.2h0m1.3-1.6h0m1.6 1.7h0m2.8 .1h0m7.3-.4h0m-348.6 2.4h0m1.6-1.4h0m1.8 1.2h0m4.4 .1h0m133.5 0h0m2.5 .2h0m.3-1.6h0m1.5 1.7h0m23.2 .1h0m4.8 .2h0m1.5-2.1h0m.8 .7h0m1 1.4h0m.8-1.9h0m1.3 1.2h0m.1 .4h0m3.5 .1h0m1.4-1.4h0m.2 .9h0m1.5-1.2h0M8.2 49h0m99.2-.1h0m.8-1.4h0m43 1.6h0m2.6 .1h0m2.1 .2h0m2.3-.6h0m3.3 .4h0m4.3-.4h0m3.2-.1h0m.9-1.4h0m-351.8 4.1h0m2.1 .1h0m2.9-.5h0m1.4-1.5h0m3.3 2.1h0m133.1-.3h0m2.4-.1h0m2.6 .2h0m20.2 .3h0m2.6-.4h0m3.2 .1h0m1.8 .1h0m6.6-2h0m106.2 1.6h0m.5-.1h0m.6-1.5h0m46.7 1.4h0m3.2 .4h0m12.7 .1h0m-352.8 1.5h0m1.5 .6h0m1.6 0h0m4-.4h0m1.5-1.3h0m133.1 1.6h0m3 .4h0m2.3 0h0m20.2-.2h0m3.3 0h0m2.6-.4h0m5.6-1.4h0m98.2 1.5h0m7.7 .3h0m2.6-.8h0m.7 .8h0m26-.6h0m.4 .5h0m1.3-.4h0m.9-.5h0m2.4-.5h0m1.2 .2h0m18.4 .9h0m2.7 .6h0m5.2-.3h0m1.4-1.6h0m1.2 1.3h0m1.5-1.3h0m.9 1.7h0m-350.5 1.7h0m1.5 .5h0m.8-.4h0m1.5-1.4h0m.6 1.7h0m5.3-.1h0m130.8-.2h0m1.8 .3h0m10.6-.2h0m2.1 .1h0m5.7 .1h0m1.7-.2h0m2.8 0h0m4.8 .2h0m105.5 .2h0m6.8 .1h0m2.9-.1h0m1.1-.8h0m28.7 .4h0m.5 .3h0m2.6 .2h0m20.8-.1h0m2.9-.3h0M-180 57.3h0m4.9 .9h0m134.3 .1h0m2.5-.1h0m8.4 .1h0m2.3-.7h0m1.9 .7h0m1.7-2.2h0m.9 1.5h0m3.4-.1h0m5.9-1.4h0m113.5 1.4h0m3.6 .7h0m1.7-.4h0m.7-1.6h0m.4-.1h0m1 1.8h0m30.7-.6h0m2.7 .7h0m0-.6h0m.3 .3h0m18 .3h0m2.4 0h0m5.7-1.7h0m2.6-.1h0m1.4 2.1h0M-181.4 60h0m1-1.6h0m.8 1.4h0m1.1-1.3h0m1.1 1.7h0m132.7 .1h0m2.9 .1h0m2.1-.6h0m3.4 .2h0m2.5-.1h0m2.7-.1h0m2-.1h0m5.3 .5h0m122.8 0h0m3.8-1.8h0m.6 1.7h0m2.7-.3h0m36.4 0h0m.2-1.5h0m.4 .2h0m14.6 1.9h0m7.2 0h0m3-.5h0m2.3 .2h0m2.5-.2h0M-183 62.4h0m.2-.7h0m.8-1.2h0m1.3 2.1h0m2.9 0h0m1.3-1.5h0m133.7 1h0m2.6 .1h0m1.9 .1h0m2.7 .3h0m2.6-.4h0m6-1.6h0m128.6 .1h0m.4 1.3h0m2.6 .6h0m2.9-.3h0m29.4 .3h0m3.3-.8h0m21.5-1.1h0m2.3 1.9h0m2.6-.6h0m3-1.1h0m1.4 1h0m2.2 0h0m-357.4 2.8h0m3.2-1.7h0m1.8 1.7h0m.1-1.4h0m2 1h0m142.9 .4h0m3.1-.4h0m126.8 0h0m1.9-1.3h0m2.6-.2h0m1.2 1.4h0m2.5 .6h0m32-1.1h0m2.4-.2h0m.3 .7h0m26.7 .6h0m3.7-2.1h0m1.9 1.8h0m1.3-.4h0m.5-.9h0m3.6-.3h0M-182 65.1h0m.1 .1h0m.7 1.5h0m3.1-.2h0m.9-1.5h0m271.6 1.7h0m2.8 .2h0m1.2-1.9h0m1.9 1.4h0m1.8 .3h0m4.3-1.8h0M133 67h0m.1-.1h0m1.3-1.2h0m.8 .6h0m1.1-.9h0m31.5-.4h0m.5 1.8h0m.2-.6h0m1.2-1h0m2 1.5h0m1.1-1h0m.4 1.3h0m-356.3 .2h0m1 1.6h0m1-1.5h0m0 .3h0m.5 1.5h0m1.3 0h0m275.6-.5h0m11.4-1.3h0m23.7 1.8h0m.9-.4h0m.6-1.2h0m.1-.1h0m33.2-.3h0m3.7 2.1h0m.4-.8h0m2.6 .5h0m.9-1.7h0M175 69h0m-357.9 1.3h0m2.5 1h0m1.9-.1h0m273.1-.1h0m2.5 .3h0m1.3-1.9h0m1.2 1.7h0m1.1-1.8h0m10.9 .2h0m6.4 1.7h0m11.2-1h0m.9-.2h0m.7-.7h0m40.5 1.9h0m.8-.9h0m1.5-.2h0m.6 .8h0m2-.3h0M-183 73.4h0m2.8 .1h0m.8-2h0m0 1.9h0m272.8-.3h0m2.5 0h0m16.5-1.4h0m1.5 1.5h0m14.4-1.1h0m.6 1.2h0m.1-.3h0m.2-1.1h0m42.7 .5h0m.4 .9h0m1.4-1.7h0m1 1.7h0m.5 .1h0m1.4-.8h0m-358.9 1.3h0m1.9 1.9h0m.1-.1h0m7.1 .2h0m265.7-.5h0m4.4 .2h0m12.9-.4h0m1.7-1.5h0m15.7 .8h0m45.2 .6h0m2.7 .2h0m2.6 .1h0m-360.8 .8h0m.9 1.7h0m5.7 0h0m.5-1.9h0m269 1.9h0m1.3-1.7h0m13.2-.1h0m.7 1.4h0m17.7-.1h0m.2 .6h0m.6-.5h0m.6-1.5h0m46.4-.1h0m1.3 1.7h0m.9-1.5h0m1 1.2h0m-360.3 2.3h0m1.2-1.3h0m.6 1.1h0m7.3-1.1h0m264.2 1.5h0m17.9 .2h0m17.1-.4h0m.2-1.1h0m51.2 1.1h0m.1-.6h0m.4-.6h0m1.2-.2h0m.4 1.6h0m.8 0h0m-361.6 2.3h0m.2-1.2h0m272.1 .2h0m3.6 .8h0m1.4-1.3h0m.5 1.6h0m11.3 0h0m4.5-.2h0m12.7 .2h0m.6-1.7h0m53.9 1.7h0m.4-1.5h0m-362.4 2.7h0m2.6 .7h0m273.2 0h0m5.3 .6h0m7.1-.1h0m2.3-.3h0m2-1.5h0m.8 1.2h0m12.3 .4h0m1.1-1.7h0m.1 .7h0m54.5-.6h0m.6 1.8h0m1.2-2h0m.1 0h0m.2 .4h0m.6-.3h0m-363.8 2.1h0m0 1.5h0m1.8 .6h0m272.9-.3h0m2 0h0m1.6-1.7h0m11.7 2h0m2.4-.6h0m11.8-.1h0m.4-.2h0m.2 .7h0m57.5-.8h0m.3 .3h0m.5 .1h0M-181.5 88h0m270.3-1.1h0m21.2 1.5h0m71.2-.6h0m.3-.1h0m-365.2 1.5h0m.7 .3h0m1.5 1.6h0M90 89.3h0m.7 1.3h0m16.8-1.2h0m3.8 1.5h0m4.6 .2h0m64.4-1.4h0m1.1-.2h0m0 1h0m.7-1.1h0m.4 1.8h0m-366.6 .2h0m.9 .3h0m.7 1.7h0m1.4-.5h0M87.3 93h0m.6-1.6h0m1.5 1.7h0m2.2 0h0m14.2-1.7h0m2.9 .1h0m1 1.5h0m5.5-.1h0m64.9-1.4h0m1.7 1.5h0m.2-.6h0m1.3-.7h0m1 1.3h0m-367.6 .6h0m266.8 2h0m1.5-1.9h0m1 1.8h0m2.3 0h0m2.6-.3h0m14-1.6h0m2.1 .2h0m74.5 .1h0m1.7 1.7h0m-367.5 .3h0m.2 .1h0m1.2 1.6h0m.5-1.7h0m261.7 1.4h0m3.2 .1h0m2.1-.2h0m21.6-1.3h0m76.1 0h0m1 .6h0m.1-.7h0m.5 1h0m.4 .6h0m1.2-1.7h0m-371.2 2.4h0m.4 .8h0m3.4 .8h0m260.4 0h0m4.3 .3h0m18.7-.3h0m.3-1.4h0m1.5 1.5h0m1.2-1.7h0m78.3 1.4h0m1.3 .5h0m.8-.3h0m.1 .1h0m.6 .1h0m-371.9 1.9h0m1 0h0m.9-1.7h0m1.7 1.6h0m1.9 .3h0m262-1.9h0m1.1 1.9h0m16.9 0h0m2.7-.2h0m13.7 .3h0m68 .1h0m.6-1.9h0m2.1 1.5h0m.5 .1h0m-371.9 2.1h0m2.9 .1h0m1.5-1.3h0m257.6-.2h0m2.2 .1h0m1.7 1.7h0m20.6 .1h0m83.4-.2h0m1.8-1.2h0m.4 .7h0m.4 .3h0m-373.6 1.3h0m.8 1.1h0m2 0h0m2.8-.4h0m256.2-1.5h0m1.1 1.9h0m1.6-1.8h0m1.1 1.6h0m19.4-1.7h0m.5 2h0m3.9-1.8h0m82.3 .6h0m3.2 .8h0m-375.7 2.6h0m.6-1.7h0m2.1 1.2h0m258.9-1.2h0m22.9-.3h0m87.8 1.7h0m.7-1.7h0m1.6 0h0m0 1.5h0m.5-.9h0m.2 .5h0m.7 .8h0m-377.3 2.1h0m3 0h0m2.1-1.4h0m.3 1.2h0m.7-1.4h0m1 1.3h0m255.9 .1h0m1.4-1.5h0m1.6 .2h0m16.9 1.7h0m1.5-1.8h0m2.1 .1h0m2.8 0h0m85.8 1.5h0m.9-.7h0m1.3 1h0m.1-.7h0m-376.3 2.3h0m7.9 .3h0m255 .2h0m.7-1.7h0m19.9 1.7h0m1.2-1.7h0m1.2 1.7h0m89-.2h0m.5-.3h0m.3 .4h0m-379.4 2.1h0m4.9-.1h0m1.9-1.5h0m1.8 .1h0m254 1.7h0m1.1-1.7h0m1.9 1.8h0m18.5-1.9h0m94.9 1.4h0m2.6-1.3h0m-379.5 2.1h0m1.6 1.4h0m4.2-1.5h0m1.4 1.6h0m.6-1.6h0m2.5 0h0m271.4 1.6h0m1.9-1.3h0m94-.2h0m1.1 1.3h0m.7-.9h0m-379 3.6h0m4.3-1.7h0m3.2 1.7h0m1.5-1.6h0m250.9 1.6h0m1.2-1.9h0m2.6 .1h0m13.4 .1h0m1.8-.2h0m92.9 1.5h0m6.5 .2h0m.4-1.2h0M74 120.1h0m3.1-.2h0m.7 1.8h0m11.8-1.4h0m1.6 1.6h0m1-1.8h0m97 0h0m2.6 0h0m.9 1.9h0m-385.7 1.8h0m3.4-1.4h0m1.3 1.6h0m1.5-1.7h0m1.5 1.6h0m1.7-.1h0m1.6-1.4h0m1.6 1.7h0m.4-1.8h0m255.6-.1h0m1.2 1.8h0m2.2 .2h0m4.4-1.9h0m1.1 1.7h0m3.9-1.6h0m1.2 1.4h0m100.2-1.4h0m.2 .3h0m1.7 1h0m-381.5 2.7h0m10.3-.1h0m255.5-.2h0m6.1-1.7h0m4.6 0h0m100 .8h0m4 1.1h0m2.3-1.8h0m-379.6 2.5h0m2.4 0h0m.8 1.2h0m1.8-1.6h0m26.6 1.9h0m226.2-.1h0m1.4-1.5h0m5.7 .1h0m2.4-.2h0m2.2-.2h0m1.1 1.6h0m107-.4h0m1.5-.8h0m-383.9 2h0m3-.1h0m2.3 0h0m5.5 .1h0m1.6 1.6h0m248.5-1.5h0m5.3 .1h0m2.2-.4h0m2.8 0h0m.9 1.9h0m1.3-1.9h0m109.1 0h0m1.9 2h0m.7-2h0m0 0h0m.7 1.2h0m-384.9 2.8h0m1.2-1.5h0m1.8-.1h0m4.2 1.7h0m11.3-1.5h0m17 1.3h0m222.7-1.5h0m7.8-.1h0m2.4-.1h0m1.8 1.7h0m110.7-1.3h0m3.3 1.5h0m-382.4 .2h0m1.3 2.1h0m1.1-1.7h0m3.8 1.6h0m1.2-1.9h0m2.2 1.8h0m22.8 .2h0m2.3 0h0m.8-1.9h0M64.9 135h0m11.5-1.5h0m5.7 0h0m107.4 0h0m.2 .6h0m.5 1.2h0m1.2-.3h0m.4-1.7h0m.7 2h0m-385.1 .1h0m3.2-.1h0m4.7 .1h0m1.1 1.8h0m6.2-1.5h0m3.9 1.8h0m13-.5h0m234.3 .5h0m2.2-1.8h0m.6 1.4h0m1.1-1.8h0m116.5 1.4h0m.4 .4h0m.7-1.3h0m-384.6 3.9h0m.9-1.7h0m2.6 0h0m3.4 1.2h0m1.6-1.4h0m2.6-.2h0m4.3 2h0m2.1-.4h0m10.5 .4h0m6.2-2h0m1.3 2h0m1.1-2h0m344.1 .2h0m1.1 1.5h0m.9-.1h0m1.7 0h0m-386 2.5h0m2.5 .1h0m1.8-2.1h0m10.9 2h0m2.8-.2h0m5.4 .1h0m3.4-1.7h0m1 1.7h0m6.5-1.7h0m1.7 1.9h0m216.9-.3h0m.6-1.4h0m10.6 .1h0m115.7 1.6h0m1.2-1.8h0m3.8 1.5h0m-383.3 2.2h0m2.6 .3h0m2.2 0h0m10.5 0h0m3-1.9h0m5.7-.2h0m3.6 1.9h0m1.9-1.7h0m1.2 1.7h0m.9-1.4h0m4 1.3h0m1.2-1.4h0m213.3 1.5h0m11.5-1.4h0m118.1 1.4h0m1.3-1.7h0m.4 .3h0m-377.9 3.8h0m14.3-1.6h0m20.7-.2h0m.4 1.5h0m207.8-1.8h0m5.2 .1h0m8.3 0h0m1.8 .1h0m116.2 1.8h0m.1 .1h0m3.7-1.4h0m.6-.5h0m-380 3.9h0m2.3-.2h0m1.5-1.3h0m30.3 0h0m201.2-.2h0m10.3 .1h0m1.5 1.7h0m.8-1.9h0m1.2 1.7h0m3.2 .1h0m.9-1.8h0m2.5 .4h0m3.1-.4h0m119.4-.1h0m1 2h0m1.7-1.8h0m-383.8 2.4h0m6.7 1.7h0m1.3-2h0m30.8 .1h0m2.5 0h0m.8 1.9h0M47.8 149h0m.6 1.3h0m7.7 0h0m1.1-1.8h0m4.8 1.9h0m5.8-1.7h0m120.9 .3h0m1.6-.1h0m.3 .1h0m-377.5 3.5h0m.7-1.6h0m3.8 1.6h0m1.2-1.5h0m29.8 1.6h0m1.6-1.6h0m4.4 .2h0m191.6 0h0m6 1.5h0m2.2-1.6h0m.9 1.7h0m3.6-1.9h0m5.3 .3h0m124.4 .1h0m1-.3h0m.3 1.7h0m1.9-1.7h0m.8 1.5h0m-377.5 .8h0m4.7 1.7h0m2.9-1.8h0m3.4 .3h0m24.9-.3h0m2.9 .3h0m5.3-.1h0m1.2 1.6h0m189.1-2h0m6.6 1.7h0m1.4-1.5h0m.9 1.8h0m1.4-1.6h0m2.5-.4h0m1.5 1.8h0m124.3-1.5h0m1.4 1.8h0m2.7-.7h0m-375 1.2h0m5.1-.1h0m.3 1.8h0m2.2-1.9h0m1 1.6h0m.7-1.8h0m3.3 .2h0m1.3 1.5h0m20.4 0h0m.8-1.3h0m1.5 1.7h0m1.1-1.9h0m2.9 .1h0m3.7 1.6h0m187.4-1.6h0m2 .2h0m3.3-.1h0m135.1 .6h0m2.2-1.1h0m-363.5 2.5h0m5.7 .2h0m3.2 1.4h0m2.8-.1h0m1.3-1.2h0m3.8 1.5h0m7.7-.1h0m3.8-1.4h0m2.2-.5h0m5.1 .4h0m1.3 1.7h0m105.7-2.1h0m1.9 1.9h0m68.5 .2h0m5.7-.2h0m3.3-1.5h0m2.5-.3h0m2.3 .1h0m2.9-.1h0m130.3 .4h0m.3 .7h0m.7 .7h0m1.4-1.8h0m-360.5 2.1h0m1.2 2h0m.7-2h0m2.7 .1h0m6.8 1.8h0m.6-1.9h0m5.1 .3h0m7.5-.1h0m3-.2h0m1.7 1.7h0m1.1-1.3h0m1.1 1.7h0m1.7-1.8h0m3.7 1.8h0m1.7-.3h0m169.3 0h0m2.5-.1h0m2.1 0h0m1.6-1.5h0m4.3 .2h0m2.6-.4h0m3.2 .1h0m2.4-.1h0m130.1 0h0m.4 2h0m1.2-.3h0m2.1-1.1h0m-356.7 1.6h0m1.9 .4h0m3.3 .1h0m2.9 1.3h0m1.9-1.3h0m.7 1.2h0m1.4-1.2h0m3.3-.6h0m7 .6h0m1.9 1.3h0m1.9-.1h0m3 .2h0m.7-1.5h0m9 .4h0m3.7-.2h0m3.7 1.3h0m76.6-.1h0m5.1 .3h0m9.5-1.7h0m2.2-.4h0m19.4 1.8h0m7.8 0h0m19.9 .2h0m10.6-.2h0m3.9-1.7h0m1.6 1.8h0m2.2-.1h0m2.5 .1h0m4-1.9h0m2.1 .1h0m1.8 1.6h0m135 .4h0m.9-1.6h0m0 .2h0m-348.7 3.3h0m3.2-1.3h0m7 1.4h0m.7-1.4h0m2.1-.2h0m2.2 1.6h0m1.4-1.7h0m.3 1.8h0m1.8-1.8h0m4.1 1.8h0m5.1-.2h0m.6-1.6h0m2 1.7h0m1.3-1.8h0m1.4 .1h0m.6-.1h0m.9 .2h0m1.3 .2h0m2.9-.5h0m1.1 .7h0m1.8-.6h0m1.7 0h0m1.4 .8h0m1.4-.7h0m.2 1.2h0m3-.3h0m1.3 .4h0m2.7 .4h0m.1 0h0m69.6-1.4h0m3.9 1.2h0m9.2-1.3h0m3.1 1.6h0m7.8 0h0m5 0h0m4.9-.1h0m4.7-1.6h0m13.9 1.8h0m2.4-.3h0m2.7 0h0m4.9 .1h0m3.8-1.8h0m1.3 1.7h0m1.8-1.7h0m4.2-.1h0m10.4 .4h0m143.2-.1h0m-345.8 2.1h0m11.3 1.5h0m34.9-1.8h0m3.9 .1h0m1.8 .8h0m3.9 .5h0m1.5-.2h0m2.1 .9h0m57.6-1.7h0m2.7-.4h0m3.9 2.1h0m1-1.9h0m2.4-.1h0m2.2 1.9h0m1.4-1.6h0m.4 1.7h0m1.2-1.5h0m5.7-.2h0m2.3-.1h0m1.4 1.7h0m4.1-1.4h0m5.2 0h0m4.4-.1h0m2.9 .1h0m2-.6h0m1.6 1.9h0m1.4-1.3h0m2.5-.1h0m1.7 1.7h0m1.4-1.8h0m8.7 1.4h0m.8-1.7h0m5.9 .3h0m4.4 .1h0m1.3 1.5h0m5.2-.2h0m146.3-1.3h0m1.5 1.4h0m1.5-1.6h0m.7 1.2h0m.1 .3h0m2.1-1.1h0m.2-.5h0m-286.1 2.2h0m1.2 .1h0m.1 0h0m3.2 .3h0m1.2-.2h0m.5 .9h0m1.5-.4h0m2.8 .8h0m1.4 .3h0m2.7 .1h0m3 0h0m.6-.1h0m32.8-.1h0m1.5-1.8h0m1.2 2h0m2.4-.1h0m.7-1.6h0m3.4 0h0m1.3 1.5h0m3.9-1.7h0m.2 1.7h0m2.7 .3h0m3.3-.2h0m.7-1.7h0m2.9 .3h0m2.2-.3h0m5 0h0m3.1-.1h0m.7 1.9h0m1.5-2h0m2.1 .2h0m3.3 .4h0m.7 1.5h0m1.8-2.1h0m2.7-.1h0m4.7 .5h0m5-.4h0m15.7 .4h0m.3 1.2h0m13.6-1.6h0m143.8 1.8h0m.3-1.5h0m1.6 1.6h0m-268.5 .4h0m3.7 0h0m2.7 .3h0m3.2 1h0m1.2 .3h0m.9 .3h0m.7-.9h0m2 .7h0m2-.4h0m15.4 .4h0m1.2-1.6h0m2.3 1.9h0m17.3-.3h0m4.6 .3h0m1.6-1.9h0m1.3 1.7h0m1.4-1.9h0m1.2 1.9h0m1.5-1.3h0m1.1 1.4h0m.8-1.8h0m3.2 .2h0m5.2-.2h0m2.3-.1h0M2 171h0m1.7-.3h0m29.1 1.3h0m148.3 .4h0m1.4-1.5h0m3.6 1.5h0m-253.2 .9h0m1.4 .1h0m2.7-.6h0m.3-.1h0m1.9 .8h0m1.5 .1h0m1.3-.1h0m3.2 1.1h0m.2-.1h0m1.7-1.4h0m0 .6h0m.7 .9h0m1.5-1.3h0m5-.1h0m.6 .1h0m2.6-.3h0m5.9 1.9h0m2.4-.4h0m5.3 .4h0m1.5-1.9h0m3.5 1.6h0m2.1 .1h0m17-1.9h0m2.3 .1h0m183.2 1.4h0m1.9 .5h0m1.8-1.8h0m.7 0h0m-235 2.1h0m2 .7h0m1.1-.6h0m1.5 1.5h0m.5-1.6h0m3.2-.2h0m.8 1.9h0m1.7-1.7h0m6.1 1.6h0m1.6-1.1h0m86.2-.4h0m117.9 .4h0m7.2-.4h0m1.4 .2h0m.2 1.7h0m3.7-2.1h0m-241.1 2.4h0m24.6 1.8h0m68-1.4h0m134.4 0h0m6.1 1.2h0m1.7-1.7h0m-9 2.5h0m3.8 1.4h0m6.8-1.4h0m.9 1.5h0m.8-1.3h0m.3-.6h0m-141.3 4.3h0m134.8 0h0m.8-1.6h0m2.2-.3h0m1.4 1h0m1-1.3h0m-10.2 4.1h0m1.5-1.7h0m1.8 .1h0m.4 1.8h0m2.8-.2h0m.3-1.7h0m1.8-.1h0m-14.8 4h0m4.1-1.8h0m3.5 1.4h0m.7-1.5h0m3.5 .6h0m2.6 .1h0m1.7-.3h0m-121.9 3.5h0m94.3-.9h0m9-.6h0m6.9-.1h0m2.8 .6h0m1.4 1.4h0m1.5-1.9h0m2.8-.1h0m-10.4 4.2h0m1.1-1.5h0m2.8 .1h0m1.6 1.2h0m3.3-1.6h0m-116.5 2.2h0m.1-.1h0m.5 1.8h0m104.3-1.7h0m5.3-.2h0m3.8 1.8h0m1.6-1.8h0m2.4 0h0m-117.7 3.8h0m97.3-1h0m6.4 0h0m1.5 1.5h0m.8-1.5h0m2-.4h0m2.6-.1h0m-110.6 2.2h0m101.3 1.8h0m1-1.5h0m5.4 .1h0m2.1-.1h0m2.4-.3h0m-111.5 2.1h0m.1 .4h0m100.5 .7h0m2.3-1.2h0m1.9 .8h0m.4-.5h0m2.2 1.5h0m.9-1.5h0m-108.3 2.4h0m.7 1.5h0m97.1-.5h0m.2 .6h0m1.2-1.9h0m1.5 1.9h0m.7-1.4h0m.2-.5h0m1.2 1.9h0m.8-1.9h0m-102.3 4.1h0m94.9-.1h0m5.2-1.8h0m-99 3.7h0m94.3-.8h0m2-.3h0m-96.1 3.4h0m89.4-.7h0m.9-.9h0m1.7 0h0m.4 1.5h0m.8-1.5h0m1.8 .5h0m-95.1 2.3h0m.3 .1h0m79.6 1.3h0m8.5-2h0m1.1 1.9h0m2.2-2h0m-6.6 2.5h0m1.8-.4h0m.7 .6h0M68.2 215h0m76.7 .8h0m1.7-1h0m1 1h0m1.4-.9h0m1.2 .2h0m-88.6 2.2h0m1.7 1.6h0m.5-1.4h0m2 1.2h0m.5-1.6h0m2.5 .3h0m74.5-.4h0m.8 1.7h0m1.2-.5h0m.1-.7h0M66.1 221h0m2.3-1.9h0m72.4 1.1h0m.7-.4h0m.8-.5h0m-80.4 2.5h0m2.3-.2h0m4.5 .3h0m68.2 1.4h0m1.1 0h0m2.8-1.8h0m1.1 1.7h0m.8-1.9h0m-80.2 2h0m3.4 .3h0m1.5-.2h0m2.2 2.1h0m1-1.4h0m63.7 .8h0m1.2-.1h0m3.5-1.5h0m.2 .3h0m.7 .2h0M59 226.3h0m3.6 1.3h0m1.3-1.8h0m1.9 1.9h0m1.3-1.6h0m3.2 1.6h0m1.8-1.6h0m2.3 .3h0m57.8 1.3h0m.5-1.4h0m3 0h0m2.4-.4h0m-77.6 2.5h0m7-.6h0m5.6 .1h0m2.2 .4h0m55.7-.5h0m3 1.4h0m.3-1.3h0m2.2 .7h0M58.8 230h0m2.4 .4h0m5.5-.2h0m5.5 .4h0m2.1 .2h0m2.4-.3h0m5.8 .2h0m2-.1h0m1.5-.2h0m.1 1.6h0m41.6 0h0m.1-1.8h0m.8 1.8h0m0-.8h0m2.1-1.2h0m2.5 .1h0m2.3-.1h0m-77.9 2.4h0m1.8 1.8h0m.3-1.9h0m16.2 .1h0m1.7 .6h0m2.9-.7h0m1.7 2h0m1-1.7h0m3.4 1.6h0m37-1.5h0m.4-.2h0m2.9-.1h0m4.2-.2h0m.6 .4h0m-71.4 3.7h0m1.3-1.5h0m12.9 .2h0m.8 1.4h0m1.2-2h0m2.8 .1h0m1.1 1.8h0m3.7-1.6h0m25.3-.1h0m10.9 .3h0m.7 1.5h0m2.2-1.2h0m.3 .7h0m1.4-.7h0m2.7-.5h0m2.5-.1h0m-72.4 2.2h0m20.7 .6h0m4.9-.6h0m2 .3h0m22.9-.2h0m5.2-.3h0m2.1 .6h0m.6-.5h0m1.7 1.9h0m.9-1.4h0m2.7-.4h0m.6 1.3h0m1.8-1.4h0m3 .7h0m-67.5 1.7h0m2 .1h0m15.6 0h0m2.2 .2h0m7.8-.4h0m2.6 .3h0m12.8-.2h0m7.3-.2h0m2.8 .5h0m0 .9h0m2.8 0h0m0-.7h0m3.8 .6h0m1.2-1h0m2.7-.3h0M60.1 241h0m2.2 .5h0m13.7 .1h0m2.2-.6h0m9.8 0h0m2.8 .5h0m3 0h0m1.7-.3h0m1.4 1.8h0m1.2-1.4h0m5.4-.3h0m2.8-.4h0m2 .1h0m1.2 1.5h0m1.1-1.1h0m.7-.1h0m2.1-.2h0m3.4 .1h0m2.5 .4h0m.7 1.4h0m-60.9 .2h0m2.4 .7h0m3.1-.4h0m1.6-.2h0m3.3 .4h0m2.4-.1h0m2.6-.3h0m.7 1.9h0m1.3-1.8h0m18.5 .5h0m4.8-.8h0m2.3 .9h0m2.9-.6h0m2.6 .1h0m2.8 .3h0m2.3-.2h0m2.8-.1h0m-57.3 2.3h0m2.5 .1h0m1.6 .3h0m2.8-.1h0m2.7-.7h0m2.1 .2h0m3.5-.1h0m20.5 .5h0m1.9-.4h0m5.2-.3h0m2.8 .9h0m2-.3h0m-44 2.5h0m5.1-.7h0m1.9 .7h0m3.4-.1h0m1.6-.1h0m2.5-.2h0m16.3-.1h0m2.5-.2h0m1.3 2h0m1.1-1.3h0m2.1-.5h0m1.6 1.7h0m1.5-1.2h0m2.5-.3h0m-36.9 2.5h0m1.6-.3h0m3.3 0h0m20.4 .3h0m5.2 .1h0m4.8-.6h0m-34.3 2.1h0m2.3-.2h0m3.1 .8h0m19.5-.4h0m2.9-.1h0m2.5 .3h0m-27.1 2.3h0m1.8 1.4h0m1.8-1.9h0m17.8 0h0m2 .2h0m2.5-.5h0m-21 3h0m.3 1.4h0m4.7-1.2h0m12.6-.8h0m1.9 .7h0m3.1-.4h0M80.4 259h0m2.8-.4h0m2 .1h0m8.4 .8h0m5.2-.6h0m-19.5 2.5h0m2.6 .2h0m2.5-.5h0m2.7 .1h0m4.6 .1h0m2.7 .3h0m-11.5 2.1h0m2.7 .1h0m2.8-.8h0m2.5 .6h0m3-.3h0m-9.1 2.4h0m2 0h0"/><path d="M-20.1-118.9h0m125.3 18.2h0" stroke="#bba5e0"/><path d="M-78.5-124.9h0m91.3 1.9h0m.1 .4h0m76.4 7.2h0m-117 3.7h0m12.1 5h0m1.5-.2h0m-37.3 3.2h0m171 17.1h0m2.3 5.2h0m10.1 9.8h0M92-60.5h0M37.8-48.4h0m3 .7h0m98 19.7h0M92.6-15.1h0M42.3-12h0m.5-.3h0m1.8 4.1h0m1.2 1.8h0m56.4 7.2h0M-27.2 43.2h0m1.4-1.1h0m2.3 0h0m-132.7 103.7h0m310.8 43.5h0m-91.1 25.5h0m56.9 15.7h0m5.9-.8h0m-68.6 7.9h0m19.6-1.2h0m-15.7 7.8h0M76.1 258h0m3.1 0h0m9.8 0h0" stroke="#b498e4"/><path d="M-19.6-112.8h0m-8.3 .8h0m-13.9 9h0m69 47h0m-.5 22h0m18.6 12.1h0m-1.6 10.7h0M48-1.4h0m-77.2 44.7h0m4.1-1.5h0m1.7 .8h0m2.6-1.8h0m2.7 2.3h0m-16.1 11.1h0m-4.6 5.7h0m-3.7 3.1h0M94.9 254.8h0m2 3.2h0" stroke="#ab8be7"/><path d="M23.4-131h0m-79.5 72.4h0m-5.1 .8h0M44.1-31.4h0m2 26.1h0m1.1 2.1h0M48 1h0m1.2-2.4h0m-.6 4.1h0m-69.2 39.1h0m5.2 1.5h0m-13.3 .4h0" stroke="#a27eea"/><path d="M31.7-131h0m2.3-1h0m-4.6 3h0M-42-102.9h0m-44.7 21.1h0m14.1 11.4h0m2.8 1.6h0m18.4 1.9h0m-18.1 9.5h0m119.1 7.5h0m3.6 13.6h0m13.7 2h0M48.8 2.9h0m1.7 .7h0m-1.9 1.1h0m.3 2.5h0m2.1-.3h0m.2-1.6h0m-.8 4h0m55.2-.9h0m-52.1 2.5h0m8.5 4.3h0m85.9 11.3h0m3.1 1.6h0M-27.7 45.8h0m12.9-1.7h0m116.5 47.2h0m-.1 .3h0m-25.1 18.1h0m-84.8 59.2h0m3.2 .4h0m109 72.2h0m5.5 1.6h0m3.2-1.6h0" stroke="#9870ed"/><path d="M-100.8-74.3h0M35-54.9h0M49.9 5.5h0m3 1.5h0M51 10.3h0m-1.7 1.1h0m.5 0h0m2.8 4.1h0m.9-.1h0m-64.4 35.7h0M172.6 65h0m.3-.1h0m-82.1 36.7h0m.2 .2h0m90.2 80.5h0m-114.5 49h0m56.9 6.3h0" stroke="#8d63f0"/><path d="M104.4-68.1h0M42.6-39.3h0m10.3 12.1h0m4.6 .8h0m-3.8 4.5h0m38.3 .3h0m-36.1 5h0M54.4-12h0M51 9.9h0m1.6-.8h0m-3 4.4h0m2.5-.7h0m-3.2 2.3h0m1.8 .6h0m-7.6 2.6h0m4.4-1.5h0m4.6 .9h0M48 21.1h0m1.8 .3h0m99.3 3.7h0m1.5 2.5h0M-6.7 46.4h0m-3.5 1.7h0m1.2-1.3h0m4.4 2.1h0m.8-2.1h0m-10 4.7h0m1.6 1h0m1.5-1.6h0m1.7-.2h0m198.5 73.9h0m-320.2 38h0m298.2 34.6h0M85.9 256h0" stroke="#8056f3"/><path d="M31.7-23h0m-149 1.7h0M48.2 18.8h0m1.5-1.6h0m.5 1h0m1.4 .4h0m1.1 .8h0m.3-2h0m-2.2 2.8h0m1.6 .3h0m-7.6 3.8h0m1.9-1.1h0m1.6 .4h0m1.1 1.7h0m1.2 1.9h0M-.6 44.3h0m-9.8 4.6h0m3.3-.6h0m0-1.1h0m3.5-.3h0m2.3 .6h0m1.1-.3h0m130.4 185.3h0" stroke="#7248f6"/><path d="M28.4-79.8h0M46.3 23.5h0m4.7-.8h0m.9 2.2h0m-10.8 3.4h0m4.1 .1h0m.7-1.1h0m.1 .5h0m2.1-1.2h0m1.4 .3h0m-8 3.4h0m1.4-.9h0m.6 1.7h0m2.6 .2h0m1.8-2h0m2.1-.1h0M2.4 43.1h0m4.9-.7h0m1.3 .5h0m1.6 .3h0M-3.5 45h0m4.5-.3h0m.5 1.6h0m.8-2.8h0m1 2h0m1.9-2h0m.5 1.1h0" stroke="#6139f9"/><path d="M47.8 24.7h0m-3 2.5h0m-7.7 4.2h0m3.2 0h0m.3-.6h0m5.7-1.3h0m-8.1 2.2h0m.6 1.4h0m1.2 1.2h0m2.5-.1h0m.7-1.3h0m1.4-1.4h0m.3 2.1h0m3.6-2h0m-18.8 4h0m4.4 1.4h0m3.5-1.7h0m1.4 1.6h0m-12.7 2.3h0m2.4-.7h0M11 43.3h0m3.6-.3h0m.3-2.4h0m.1 2.5h0M5 45.5h0m1.9-.3h0m1.3-.7h0m9.9-.8h0" stroke="#4c28fb"/><path d="M36.1 33.1h0m4.8-.8h0m-14.4 5h0m.4-.1h0m2.2-.3h0m2.3 .5h0m.7-1.4h0m.6-.7h0m1 2.1h0m.9-2h0m2.2 1.5h0m0-2h0m4.3 .8h0m-23.4 4.7h0m4-.9h0m0 .8h0m1.8-.2h0m.3-1h0m1.3 .5h0m4.3 .8h0m1.6-1h0m1.6-.9h0m2.4 .1h0m-22.4 4.6h0m1.3-.4h0m2.9-.5h0m1.5 1.2h0m.7-1h0m1.1-1h0m.7 1.6h0m.2-.4h0m2-.2h0m1.6-1.6h0m2.7 .5h0" stroke="#2b12fe"/></g>
<g transform="translate(378.8 1064.3)" stroke="#d3d3d3" stroke-width="4.8" stroke-linecap="round" fill="none"><path d="M10-136.2h0m11 0h0m11 0h0m-71.5 9.5h0m11 0h0m11 0h0m33 0h0m-93.5 9.5h0m11 0h0m11 0h0m11 0h0m11 0h0m11 0h0m11 0h0m-82.5 9.6h0m11 0h0m11 0h0m33 0h0m11 0h0m-71.5 9.5h0m11 0h0m11 0h0m77 0h0m11 0h0m-137.5 9.5h0m44 0h0m99 0h0m11 0h0m11 0h0M-122-79.1h0m-5.5 9.6h0m11 0h0m231 0h0M-155-60h0m33 0h0m11 0h0m11 0h0m-60.5 9.5h0m55 0h0m-60.5 9.6h0m11 0h0m55 0h0m-49.5 9.5h0m11 0h0m33 0h0m-27.5 9.5h0m11 0h0M98 92.4h0m-5.5 9.5h0m-5.5 9.6h0m-253 38.1h0" stroke-width="18"/><path d="M2-139.7h0m6 0h0m6 0h0m6 0h0m6 0h0m6 0h0m6 0h0m6 0h0m-75 5.2h0m6 0h0m6 0h0m6 0h0m6 0h0m6 0h0m6 0h0m6 0h0m6 0h0m6 0h0m6 0h0m6 0h0m6 0h0m6 0h0m6 0h0m6 0h0m6 0h0m-117 5.2h0m12 0h0m6 0h0m6 0h0m6 0h0m6 0h0m6 0h0m6 0h0m6 0h0m6 0h0m6 0h0m6 0h0m6 0h0m6 0h0m12 0h0m6 0h0m6 0h0m6 0h0m6 0h0m6 0h0m6 0h0m-159 5.2h0m6 0h0m6 0h0m6 0h0m6 0h0m6 0h0m6 0h0m6 0h0m6 0h0m6 0h0m6 0h0m6 0h0m6 0h0m18 0h0m6 0h0m6 0h0m60 0h0m-165 5.2h0m6 0h0m6 0h0m6 0h0m6 0h0m6 0h0m6 0h0m6 0h0m6 0h0m6 0h0m6 0h0m6 0h0m6 0h0m18 0h0m6 0h0m6 0h0m6 0h0m60 0h0m-177 5.2h0m6 0h0m6 0h0m6 0h0m6 0h0m6 0h0m6 0h0m6 0h0m6 0h0m6 0h0m6 0h0m6 0h0m6 0h0m6 0h0m6 0h0m30 0h0m6 0h0m-129 5.2h0m6 0h0m6 0h0m6 0h0m6 0h0m6 0h0m6 0h0m12 0h0m6 0h0m6 0h0m6 0h0m6 0h0m6 0h0m18 0h0m12 0h0m12 0h0m-129 5.2h0m6 0h0m6 0h0m6 0h0m6 0h0m6 0h0m6 0h0m6 0h0m18 0h0m6 0h0m6 0h0m6 0h0m24 0h0m6 0h0m6 0h0m6 0h0m90 0h0m-225 5.2h0m6 0h0m6 0h0m6 0h0m6 0h0m6 0h0m6 0h0m6 0h0m6 0h0m6 0h0m6 0h0m12 0h0m42 0h0m6 0h0m6 0h0m6 0h0m6 0h0m-141 5.2h0m6 0h0m6 0h0m12 0h0m6 0h0m6 0h0m6 0h0m6 0h0m6 0h0m66 0h0m6 0h0m6 0h0m6 0h0m6 0h0m6 0h0m6 0h0m6 0h0m6 0h0m72 0h0m-255 5.2h0m6 0h0m6 0h0m6 0h0m6 0h0m18 0h0m6 0h0m6 0h0m6 0h0m6 0h0m6 0h0m72 0h0m6 0h0m6 0h0m6 0h0m6 0h0m6 0h0m6 0h0m78 0h0m-261 5.2h0m6 0h0m6 0h0m6 0h0m6 0h0m6 0h0m18 0h0m12 0h0m6 0h0m6 0h0m6 0h0m84 0h0m6 0h0m6 0h0m6 0h0m6 0h0m6 0h0m6 0h0m6 0h0m54 0h0m6 0h0m-273 5.2h0m6 0h0m18 0h0m6 0h0m6 0h0m6 0h0m36 0h0m102 0h0m18 0h0m6 0h0m60 0h0m6 0h0m6 0h0m-279 5.2h0m6 0h0m18 0h0m6 0h0m6 0h0m6 0h0m36 0h0m102 0h0m6 0h0m78 0h0m6 0h0m6 0h0m6 0h0m-285 5.2h0m6 0h0m6 0h0m12 0h0m6 0h0m6 0h0m6 0h0m6 0h0m36 0h0m96 0h0m6 0h0m6 0h0m12 0h0m60 0h0m6 0h0m6 0h0m6 0h0m6 0h0m-291 5.2h0m6 0h0m6 0h0m6 0h0m24 0h0m6 0h0m6 0h0m6 0h0m6 0h0m6 0h0m6 0h0m102 0h0m6 0h0m48 0h0m6 0h0m24 0h0m6 0h0m6 0h0m6 0h0m6 0h0m6 0h0m-297 5.2h0m6 0h0m6 0h0m6 0h0m24 0h0m6 0h0m6 0h0m6 0h0m6 0h0m120 0h0m54 0h0m6 0h0m6 0h0m30 0h0m18 0h0m-303 5.2h0m6 0h0m6 0h0m6 0h0m6 0h0m18 0h0m18 0h0m6 0h0m6 0h0m120 0h0m42 0h0m18 0h0m30 0h0m-279 5.2h0m6 0h0m6 0h0m18 0h0m30 0h0m6 0h0m6 0h0m6 0h0m114 0h0m24 0h0m18 0h0m18 0h0m-255 5.2h0m6 0h0m6 0h0m6 0h0m12 0h0m6 0h0m24 0h0m6 0h0m6 0h0m6 0h0m114 0h0m-195 5.1h0m6 0h0m6 0h0m6 0h0m6 0h0m6 0h0m6 0h0m6 0h0m18 0h0m6 0h0m6 0h0m6 0h0m180 0h0m-255 5.2h0m6 0h0m6 0h0m6 0h0m6 0h0m6 0h0m6 0h0m6 0h0m6 0h0m6 0h0m6 0h0m6 0h0m174 0h0m18 0h0m6 0h0m-261 5.2h0m18 0h0m6 0h0m6 0h0m6 0h0m6 0h0m6 0h0m6 0h0m6 0h0m138 0h0m60 0h0m6 0h0m-249 5.2h0m6 0h0m6 0h0m6 0h0m6 0h0m6 0h0m6 0h0m192 0h0m60 0h0m3 5.2h0M47-9.8h0m90 0h0m6 0h0m-9 5.2h0m6 0h0m6 0h0M131 .6h0m-15 5.2h0m6 0h0m6 0h0M113 11h0m18 0h0m12 0h0m-321 5.2h0m291 5.2h0m42 0h0m-333 5.2h0m300 0h0m24 0h0m6 0h0m-333 5.2h0m324 0h0m6 0h0M-178 37h0m342 0h0M-34 47.4h0m6 0h0m6 0h0m6 0h0m6 0h0m174 0h0m-195 5.2h0m6 0h0m6 0h0m180 0h0m-195 5.2h0m198 0h0m-60 10.4h0m-3 5.2h0m6 0h0m-9 5.2h0m6 0h0m-3 5.2h0M98 89h0m6 0h0m-9 5.1h0m6 0h0m-15 5.2h0m6 0h0m6 0h0m-15 5.2h0m6 0h0m6 0h0m-15 5.2h0m6 0h0m6 0h0m-15 5.2h0m6 0h0m6 0h0m-273 5.2h0m264 0h0m6 0h0m-270 10.4h0m0 10.4h0m6 0h0m-3 5.2h0m6 0h0m6 0h0m6 0h0m6 0h0m-21 5.2h0m6 0h0m6 0h0m6 0h0m6 0h0m-9 5.2h0m6 0h0m6 0h0m3 5.2h0m108 10.4h0m6 0h0m117 67.5h0m-3 5.2h0m6 0h0m6 0h0M77 250h0m6 0h0m6 0h0m-9 5.2h0m6 0h0m6 0h0m-3 5.2h0" stroke-width="10"/><path d="M15.9-149h0m1.8-.3h0m12.8 .1h0m-28.7 2.3h0m2.2-.5h0m2.7 .5h0m2.9 .1h0m9.7-.2h0m7.3-.3h0M.1-145.4h0m2.9 .6h0m2.9-.3h0m1.5-.4h0m3.3 .7h0m2.5-.2h0m2.6-.5h0m2.7-.1h0m2.5 .9h0m2.6-.1h0m2-.4h0m2.9 .5h0m1.9-.9h0m3.5 .4h0m2.2 .5h0m4.6-1h0m2.6 1.1h0m-46.7 2.1h0m2.4-.3h0m2.6 .2h0m3.1 0h0m2.4-.1h0m2.6-.3h0m2.1 .1h0m2.7 .1h0m2.6-.6h0m2.1 .7h0m3.2-.1h0m2.2-.1h0m2.5 .5h0m2.1-.9h0m2.6 0h0m3.1 .7h0m2.7-.5h0m1.9-.1h0m3 .1h0m2 .6h0m2.9-.3h0m3.1 .2h0m4.6 .2h0m2.8-.8h0m2.3 .6h0m-77.6 1.6h0m5.5 .1h0m1.6-.2h0m2.8 .7h0m2.3-.4h0m2.7-.5h0m48.7 .7h0m3.1-.4h0m1.5-.1h0m3.1 0h0m2.1 0h0m2.6-.2h0m3.5 .6h0m2.3-.1h0m1.8 .3h0m2.9 .2h0m-102.8 1.8h0m4.3-.1h0m3-.1h0m2.2-.2h0m2.9 .8h0m2.5-.1h0m2.3-.1h0m2.3-.3h0m3.5-.4h0m2.2 .8h0m2.2-.2h0m2.9 .1h0m2.8-.3h0m47.9 .2h0m2.2-.1h0m3.4-.1h0m2.1-.2h0m2.8 0h0m2.7 .2h0m1.9 .3h0m2.6-.5h0m2.6 .7h0m2.7-.4h0m5.3-.6h0m-111 3.2h0m2.5-.2h0m5.7 0h0m4.3-.3h0m7.5 .4h0m5.6-.2h0m4.6-.4h0m2.4 0h0m54.4 0h0m2.2 .1h0m3-.3h0m1.9 0h0m2.8 .7h0m2.6-.6h0m2.1-.1h0m3.5 .5h0m2.3 .1h0m2.7-.5h0m-128.8 2.9h0m10.2-.5h0m2.6-.2h0m2.3 .6h0m2.4-.3h0m2.8 .5h0m101.6-.6h0m2.9 .1h0m2.4-.5h0m2.3 .7h0m2.6-.3h0m2.9 .7h0m-149.4 2.2h0m5-.9h0m3 .6h0m5 0h0m2.5-.3h0m2.8-.4h0m1.7 0h0m2.7 .2h0m2.7 .5h0m81.9 .2h0m30.2-.2h0m2.3-.5h0m2.8 .7h0m2.4 0h0m2.7-.9h0m2.5 .8h0m2.3-.4h0m-161.5 2.6h0m7.6 .2h0m5-.3h0m2.3-.2h0m2.7-.5h0m2.9 .1h0m2.2 .1h0m5.5 .7h0m2.7-.3h0m83.6 .1h0m3-.1h0m43.3-.6h0m-166.9 2.8h0m1.9 .2h0m2.7-.3h0m3.3-.2h0m2.1-.1h0m2 .1h0m3 .7h0m2.4-1h0m2.5 .1h0m2.5 .1h0m2.7 .3h0m2.6 .5h0m56.3-.1h0m5.6-.1h0m22.9-.6h0m5 .3h0m2.4 .3h0m2-.2h0m2.5-.3h0m5.7 .5h0m2.3-.2h0m2.7 0h0m7.4-.2h0m2.1 .4h0m3.2-.4h0m2.8 .6h0m4.4-.8h0m5.8 .7h0m7.5-.4h0m-170 2h0m2.9 .6h0m7.2-.9h0m71.5 .2h0m2.5 .5h0m3.3-.2h0m1.7-.1h0m2.7 .1h0m20.9-.1h0m2.2 .7h0m2.9-.4h0m2.6 0h0m4.6-.3h0m3.1 .5h0m1.7-.1h0m3.3-.7h0m2.6 .8h0m2.6-.8h0m2.7 .3h0m2.1 .7h0m3-1h0m1.8 .2h0m2.7-.2h0m2.8 .4h0m2.3 .3h0m2.4 .1h0m2.7-.3h0m2.4-.5h0m7.7 .2h0m2.8 .7h0m2.5-1h0m-179.7 3.1h0m2.5 .2h0m2.6-.8h0m1.9 .2h0m79.3 .6h0m5.7-1.1h0m5 .1h0m17.4 .3h0m3.2 .3h0m20.5 0h0m2.1-.1h0m20-.2h0m3.2-.1h0m1.7 0h0m2.9 .1h0m7.4 .1h0m2.5 .5h0m2.5-.3h0M-90-121h0m2-.1h0m3 .3h0m78.8 .1h0m2.4 .4h0m5.7-.4h0m4.8-.1h0m23.3-.5h0m20.1 .8h0m2.5-.3h0m23.2-.4h0m2 .2h0m2.4 .3h0m8.3-.5h0m2.4-.2h0m-185.2 2.5h0m2.9 .3h0m2.3 .1h0m2.7-.5h0m81.4 .5h0m2.5-.1h0m3.1 .1h0m2.3 .1h0m2.9-.5h0m23.1 .8h0m19.7-.3h0m3.1-.4h0m27.5 0h0m2.2 .2h0m8.6 .4h0m2.1-.4h0m-190.3 2.3h0m2.7-.2h0m2.5 .5h0m3.3 0h0m1.6-.8h0m3.2 .2h0m79.3 0h0m2.6 .6h0m2-.3h0m3-.5h0m1.8 .1h0m3 .1h0m2.7-.3h0m1.9 .8h0m2.8-.2h0m3.2 .4h0m11.8-1.1h0m4-.1h0m3.9 1.1h0m10.5-.7h0m2.3-.1h0m33.8-.2h0m1.6 1h0m2.8-.6h0m2.4 .3h0m3.4-.6h0m-197.9 2.3h0m2.5 .3h0m2.2 .2h0m2.9-.4h0m2.9 .3h0m88.7-.4h0m2.9 .8h0m2.1-1h0m3 .3h0m1.9 .7h0m2.9-.1h0m2-.7h0m3.2 .8h0m2.5-.6h0m2.9-.1h0m1.9 .7h0m10.8-.9h0m2.5 .3h0m2.7-.3h0m5.1 .2h0m1.8 .1h0m3.3 .1h0m1.8 .5h0m3.2-.4h0m33.2-.5h0m2.5 .3h0m2.7 .2h0m2.3 .2h0m2.5-.4h0m2.4-.2h0m-202.5 2.7h0m1.9-.4h0m2.5 .1h0m85 .5h0m12.1-.2h0m2.2 .3h0m6 0h0m2.3-.6h0m3-.3h0m2.1 .2h0m5.5-.2h0m1.5 .9h0m5.7-.2h0m7.3-.6h0m3.1 .5h0m7.9 .1h0m2.3-.6h0m2.6-.1h0m1.7 .1h0m2.9 .7h0m36.3-.2h0m2.4-.2h0m1.9 .4h0m3.1-.7h0m1.9 .2h0m2.8 .3h0m-213 2.2h0m2.6-.4h0m3.2 .7h0m1.7 0h0m44.1-.2h0m2.3 .1h0m2.7-.7h0m38.5 0h0m2.5 .3h0m2.3 .3h0m2.9 0h0m1.9 .2h0m4.9-.8h0m5.5-.1h0m2.7 1h0m4.7-.9h0m5.6 .8h0m2.1-.5h0m4.7-.4h0m2.6 .1h0m3.6 .4h0m4.8-.2h0m9.7 .1h0m2.5-.2h0m2.4-.2h0m2.5 .5h0m28.3-1.2h0m10.5 1.5h0m2.4-.6h0m2.8 .7h0m2.9-.3h0m2 .1h0m-212.8 2.2h0m2.9-.4h0m2.4-.2h0m2.8 .6h0m1.6 .1h0m43.4-.3h0m2.6-.1h0m2.7 .1h0m36.2 .2h0m2.4 0h0m2.5-.5h0m2.9 .1h0m1.9 .7h0m2.5-.9h0m5.6 .1h0m2-.2h0m3.2 1h0m6.9-1h0m2.6 .5h0m3.1-.4h0m5.4 .2h0m2.6 .4h0m1.6-.4h0m2.8 .5h0m2.6-.8h0m3.2 .6h0m2 .3h0m2.5-.6h0m5.7 .4h0m2.4-.3h0m1.9 .1h0m41.2-.1h0m2.4 .2h0m2.7-.3h0m2.8 .2h0m2.2 .5h0m2.6-.8h0m-226 2.6h0m5.6-.6h0m2.6 .6h0m1.9-.1h0m3.2-.2h0m1.7 .2h0m3.5 .2h0m40.5 .1h0m2.5-.6h0m5.1 0h0m2.2 .3h0m32.9-.5h0m2.5 .1h0m2.9 .1h0m5 .8h0m11-.2h0m2.2-.4h0m10.4-.2h0m2.3 .7h0m2.7-.8h0m2.4 .5h0m2.1-.4h0m5 .3h0m2.7-.1h0m2.7-.1h0m3 .2h0m2.4-.1h0m2-.2h0m2.6 .4h0m3.1-.2h0m2.3 .6h0m2.8 0h0m40.8-.3h0m2.5 .2h0m2.4-.1h0m3.1-.4h0m2.4 0h0m2.1 .2h0m2.6-.6h0m-233.6 2.7h0m5 .4h0m2.7-.9h0m3 .2h0m2.5 .2h0m48.8 .3h0m1.7-.2h0m7.9 .1h0m2.6-.5h0m28 .5h0m2.8-.5h0m2.9 .8h0m2-.9h0m2.1 1h0m3.5-.9h0m27.8 .3h0m2.1 .2h0m23.7 .2h0m2.2-.7h0m2.9 0h0m2.2 .5h0m2.3 .2h0m40.6-.3h0m2.8 .1h0m2.1 .4h0m5.2-.4h0m3.5 .4h0m2.2-.7h0m-233.8 2.8h0m2.7-.4h0m3-.5h0m1.7 .2h0m3.1 .7h0m51-.7h0m2.2 .3h0m3.4 .3h0m2.2-.3h0m2 0h0m5.6 .1h0m2.5 .4h0m2.3-.4h0m3 .4h0m2.3-.4h0m2.1-.1h0m2.8 .2h0m2.3 .1h0m3.2 0h0m2.8-.8h0m2.1 .2h0m2.3-.2h0m2.3 .1h0m3 .8h0m3.1-.6h0m2.1 .2h0m25.1-.4h0m3 .5h0m2.4 .3h0m22.9-.7h0m2.6-.2h0m5.4 .4h0m42.6-.2h0m2.6 .2h0m2.8-.3h0m2.4 .8h0m2.7-.4h0m3.3-.1h0m1.8 .5h0m-243.9 2h0m6.2-.4h0m1.9 .3h0m66.3-.1h0m2.7 .1h0m2.6-.5h0m5.4 .6h0m2-.2h0m2.4-.5h0m2.6 0h0m2.8 .6h0m2.9-.4h0m2.3 .2h0m2.4 .4h0m2.5-.7h0m2.7-.1h0m8.1 .9h0m1.7-.2h0m2.6-.5h0m2.4-.1h0m28.9 .7h0m2.2-.3h0m2.9 0h0m20.5-.5h0m2 .9h0m2.9 0h0m5-.8h0M70-98h0m23.4 0h0m1.7-.5h0m3.8 .1h0m2.5 .1h0m2 0h0m3.2-.4h0m1.6-.5h0m3 .6h0m5.1 .1h0m-250.9 2.1h0m1.8-.7h0m2.9 .2h0m2.8 .1h0m64 .7h0m2.4-.7h0m2.5 .2h0m2.7-.2h0m1.8 .1h0m5.3 .6h0m2.6 0h0m5-.5h0m3.2 .1h0m2.3-.5h0m17.6 .1h0m2.4 .4h0m2.4-.6h0m31.5 1h0m2.5-.3h0m1.9 0h0m2.4 .2h0m3-.9h0m2.9 .6h0m1.6 .3h0m3.2-.1h0m2.9 .2h0m2.7-.3h0m1.9-.6h0m2.9 .4h0m2.2-.2h0m2.5 .3h0m2.7 .3h0m48-.8h0m2.9 .9h0m2.2-.4h0m3.3-.2h0m1.9 .5h0m2.9 .1h0m-255.8 1.8h0m2.4 .2h0m2.4 .1h0m1.9-.4h0m3.2 .1h0m20.7-.4h0m2.3 .4h0m38-.5h0m2.3 .3h0m2.9 .3h0m2.3 0h0m2.4-.3h0m2.3-.1h0m3.4 .2h0m2.7 .2h0m2-.4h0m2.3 .8h0m5.9-.3h0m2.3-.8h0m20 .3h0m2.7 .4h0m2.9-.1h0m34.9-.4h0m11.2 0h0m11.9 .6h0m2.9-.4h0m2.3 .6h0m2.9-.5h0m2.5 .4h0m15.7 .3h0m12.1-.9h0m20.1 .2h0m2.8 .3h0m3.1 0h0m1.8 .1h0m5.8 .1h0m2.8 0h0M-142.2-92h0m2.7 0h0m2.7-.1h0m1.7-.1h0m2.4 0h0m21 0h0m2.2 .4h0m2.7-.5h0m38.1 0h0m3.1-.3h0m2.5 .1h0m2.5 .4h0m2.3-.4h0m2.1-.2h0m2.8 .7h0m33.8-.2h0m4.5-.2h0m2.5 0h0m2.7 .4h0m53.5-.6h0m2.2 .8h0m5.2-.7h0m2.6 .8h0m2.8-.8h0m47-.3h0m1.2 .5h0m3.1-.4h0m2.6 .3h0m7.3 .4h0m-263.9 1.8h0m2.1 0h0m2.6 0h0m2.9 .1h0m2.5-.2h0m20.9 .6h0m1.8-.1h0m8.1-.3h0m2.8 .7h0m35.4-.1h0m2.1 0h0m5.2-.1h0m2.7-.4h0m43.2 .6h0m3.1-.2h0m2.3-.4h0m2 .5h0m3.2-.9h0m2.1 0h0m46.8 .6h0m6.9 0h0m3.3-.5h0m1.9 .6h0m22.8-.5h0m27.8 .8h0m3.1-.6h0m7.7 .1h0m2.4 0h0M-150-87.3h0m2.7-.8h0m2.6 .4h0m30.3 .4h0m2.8 0h0m4.8-.9h0m2.9 1h0m38.1-.7h0m40.8 0h0m12.1 .5h0m6-.1h0m2-.3h0m2.5 .3h0m49 .1h0m1.8-.6h0m3 .5h0m3-.6h0m2.2 .4h0m2.6-.5h0m2.2 .9h0m46.5-.8h0m1.6 .8h0m2.6-.5h0m8-.3h0m2.2 .1h0m3 .3h0m-276.8 2.1h0m2.6 .4h0m2.9 .1h0m33-.9h0m2.1 .3h0m2.7 .5h0m2.8 0h0m2.8-.5h0m10.1-.2h0m2.7 .6h0m25.1 .1h0m2.9 .1h0m15.2-.2h0m1.8-.4h0m41.6 .4h0m2-.7h0m5.9 .5h0m2.1 .2h0m3 .2h0m34.9-.8h0m2.3-.2h0m3.6 .3h0m1.6-.1h0m3.2 .7h0m2.3-.6h0m2 .6h0m3.5-.5h0m45.7-.4h0m1.9 .9h0m10.5-.5h0m2.9 .5h0m-277 2.4h0m2.3-.2h0m2.6-.3h0m35.6 .1h0m3.5 .1h0m1.7-.6h0m3.1 .1h0m2.6 .1h0m7.1 .2h0m3.4-.3h0m1.7-.1h0m26.3 .9h0m1.7-.2h0m13.4 .2h0m2 0h0m2.9-.4h0m5.5-.8h0m15.6 1.3h0m17.1-1.1h0m5.6 .6h0m1.8-.2h0m3 .6h0m2.4-.1h0m2-.3h0m51.2-.6h0m3 0h0m1.8 .4h0m41.7-.1h0m2.3-.3h0m12.5 .1h0m3 .8h0M-159.1-81h0m4.7-.3h0m3.4 0h0m1.9 .2h0m7.7 .2h0m30.5-.4h0m2.5 .6h0m5.1-.4h0m3.4-.5h0m4.9 .9h0m1.7-.3h0m5.6-.4h0m22.5 .6h0m3.3-.8h0m13 .9h0m2.3-.5h0m2.7 .6h0m2.3 0h0m5.5-1.4h0m37.6 .9h0m5.7-.1h0m1.8 .6h0m2.8-.2h0m2.3-.8h0m17.8 1h0m23.6-.3h0m7.8-.8h0m1.9 .4h0m1.8 .6h0m39.7 0h0m1.7-.6h0m13.4 .5h0m2.2-.8h0m2.1 .3h0M-158-78.7h0m2.3 .1h0m11-.2h0m2.4 0h0m2.8-.2h0m1.6-.1h0m2.7 0h0m25.5 .3h0m3.2 .1h0m2-.2h0m5.2 .2h0m2.8 .1h0m2.5 0h0m5.5 0h0m2.4-.6h0m2.2 .3h0m3.1-.5h0m2.1 .7h0m8.1 .3h0m2-.7h0m2.6 .1h0m2.2-.4h0m18.3 .6h0M9-78.6h0m4.5-.7h0m2.1 0h0m2.6 .3h0m3 .2h0m2.1 0h0m7.7-.5h0m2.6 .2h0m2.5 .7h0m2.8-.2h0m2.6-.7h0m11.9 .7h0m3.4 .1h0m2.3-.8h0m2.8-.1h0m2.2 .3h0m35.5 .5h0m3 .1h0m2.7-.3h0m1.9 .3h0m15.7-.9h0m2.1 1h0m2.5-.1h0m-286.1 1.4h0m2.2-.1h0m12.9 .1h0m2.8 .7h0m2.1-.1h0m2.1-.4h0m2.5 0h0m26.1 .4h0m2.5-.1h0m10.2 .4h0m2.3-.9h0m2.2 .2h0m3.4-.2h0m2.2 .5h0m3.1 0h0m2.1 0h0m7.4-.5h0m2.2 .1h0m2.7 .7h0m76.3-.5h0m6 .1h0m2-.1h0m5.9-.2h0m6.9 .7h0m2.5-.1h0m3.3-.3h0m1.8 .1h0m2.7 0h0M53-77h0m2.5 0h0m2.1-.2h0m3.1 .7h0m1.7-.4h0m2.4 .5h0m4.8 0h0m28.9-.8h0m2.8 1h0m1.8-.8h0m3.3-.2h0m19.8 1h0m2.9-.4h0m-289.7 2.1h0m2.7 .2h0m10.1-.1h0m3.2 .3h0m2-.5h0m4.9 .4h0m3-.2h0m25.8-.5h0m2.2 .8h0m2.8-.1h0m7.1-.8h0m3.2 .2h0m2.1 .1h0m7.8-.3h0m2.5 .8h0m5.3 .2h0m2.8 .1h0m2.3-.9h0m2.7-.1h0m80.8 .1h0m.9 .7h0m2-.5h0m2 .1h0m3.2-.1h0m10.6-.1h0m7.2 .6h0m2.5 0h0m2.4 .1h0m3.2 0h0m2.2-.9h0m2.1 .4h0m2.8 .4h0m3-.4h0m1.7 .4h0m3.3-.2h0m2 .1h0m2.4-.2h0m34 .1h0m2.2-.2h0m2.1 .5h0m20.5-.9h0m2.6 .9h0m3-.8h0m-292.3 2.5h0m2.2 .5h0m13-.5h0m2.7 .3h0m5.5-.1h0m2 .3h0m25.9-.7h0m2.3 .3h0m8.1-.2h0m2.4 .5h0m2.9-.5h0m1.6 .2h0m2.4 0h0m6 .1h0m2.2-.4h0m7.4 .6h0m2.3-.9h0m3.3 .3h0m2.7 .2h0m26.2 .7h0m54.7-.5h0m1.9-.7h0m.6 .5h0m2.5 .2h0m13.1-.7h0m8 .3h0m2.6 .4h0m2.1 .1h0m2.4 .1h0m2.6-.8h0m8.1 .1h0m2.4 .3h0m2.9 .1h0m1.6-.6h0m33.9 1.1h0m2.5-.4h0m2.4-.3h0m25.2-.2h0m2.7 .2h0m2.1-.4h0m-297.1 3.2h0m3.1 0h0m12.6-.6h0m2.6-.2h0m2.6 .7h0m2.2 0h0m3.1-.3h0m27.3 .2h0m8.2 .1h0m2.4-.8h0m2.5-.1h0m2.9 1h0m10.5-.9h0m2.1 .5h0m5.6 .2h0m2-.4h0m3 .5h0m83.5 .2h0m2.7-.2h0m1.4-1.5h0m1.8 1.6h0m14.5-.1h0m2.9-.5h0m2.5 .1h0m2.6 0h0m2.1-.5h0m3.1 .4h0m2.6-.1h0m10.2 .4h0m2.1-.5h0m2.5 0h0m2.3-.2h0m2.8 .2h0m30.5 .7h0m3-.8h0m27.4 .5h0m2.8-.4h0m-296.5 2h0m1.9 .6h0m17.9 0h0m2.7-.1h0m2.2 .3h0m29.1-.1h0m2.1-.7h0m2.7 .6h0m5.4-.6h0m2.1 .1h0m2.1 .6h0m2.5-.1h0m3.5 .3h0m1.9-.8h0m5.3 .6h0m2.3-.3h0m7.6 .4h0m13.2-.8h0m8.4 1.3h0m65.1-.6h0m1.2-.7h0m1.1 .7h0m18.1-.1h0m2.8-.1h0m2.5 .5h0m2.3-.5h0m5.8-.3h0m2.6 .7h0m2.1-.3h0m4.7-.4h0m2.9 .8h0m2.7-.1h0m2.4-.8h0m2.4 .1h0m2.8-.2h0m1.3 .2h0m26.6 .2h0m33.5 .4h0m-297 2.4h0m1.9 0h0m18.1-.4h0m2.9 .1h0m1.8 0h0m34.1 0h0m2.2-.3h0m8.1 0h0m1.5 .4h0m3.1-.3h0m2.3 .1h0m2.6 .2h0m2.3-.5h0m3 .1h0m3-.4h0m4.2 .6h0m12.9 .4h0m2.6-.9h0m2.3 .9h0m69 0h0m.8-1.6h0m2.1 1.3h0m12.5 .2h0m2.3 .1h0m3.3-.4h0m1.7 .1h0m3.1-.4h0m2.3-.1h0m4.9 .7h0m2.6-.6h0m2.8-.2h0m2.2 .2h0m6.1 .1h0m1.6 .5h0m3.1-.4h0m2.4 .6h0m2.9-.2h0m2.2-.6h0m2.9-.1h0m1.9 .5h0m3.1-1.4h0m17.6 1.5h0m2.1 .2h0m31.4-.3h0m2.3-.7h0m-299.5 2.5h0m2.3 .3h0m20.6-.2h0m2 .2h0m2.4 0h0m3 .4h0m3-.5h0m1.9 0h0m38.2 .1h0m3.1-.4h0m1.9 0h0m5.9-.1h0m2.4 .2h0m2.6 .2h0m1.8 .5h0m3.2-.4h0m21.2-1.1h0m65.2 1.3h0m12.5 .1h0m2.5-.5h0m2.8 .5h0m2.4-.9h0m7.5 .5h0m3.3 .2h0m2.6 .3h0m2.1-.1h0m2.9-.3h0m7.5-.3h0m2.7 .6h0m2.4-.8h0m2.7 .1h0m10.5 .3h0m2.6-.1h0m2.1 .5h0m2.8-.3h0m2.1-.6h0m2.5 .2h0m2.8 .4h0m2.4-.1h0M98-63h0m35.9-1h0m2.8 .4h0m-304.9 2.7h0m2.8-.6h0m22.7 .4h0m2.8 .2h0m2.1-.3h0m2.5 .3h0m2.5-.7h0m3.3 .6h0m47.8-.6h0m3.1 .7h0m2.7-.4h0m12.4 .2h0m4.8 .3h0m71.5-.4h0m.7-.5h0m.3-.7h0m12 1.1h0m2.6 .1h0m2.9-.1h0m9.8 0h0m2.7-.2h0m2.2-.2h0m2.7 .1h0m5.5 .6h0m2.1-.4h0m2.5-.2h0m2.4-.1h0m3.1 .6h0m1.9 .1h0m2.5-.2h0m11 0h0m2 0h0m2.6-.1h0m2.9-.3h0m2.5 .3h0m2.7 .3h0m5.3-.4h0m35.6 .1h0m1.7 0h0m-303.8 2.6h0m2.5-.3h0m22.4 0h0m3.1-.5h0m2.4 .1h0m9.6 .7h0m35.6-.2h0m2.6-.5h0m2.7 0h0m2.6 .8h0m3.3-.9h0m2.1 0h0m2.7 .4h0m91.6 .2h0m2.3-.5h0m8.2 .4h0m2 .4h0M30-59h0m1.8 .2h0m6-.2h0m6.8 0h0m10.8-.5h0m2.2 .1h0m4.9 .8h0m7.6-.3h0m10.6-.5h0m2.5 .7h0m5 .1h0m2.2-.1h0m3-.3h0m2.8-.1h0m2.8 .6h0m2.1-.2h0m2.5-.2h0m2.6 .1h0m5-.2h0m7.4 .5h0m3.2-.8h0m1.8 .7h0m3.3-.5h0m1.7 .3h0m5.9-.3h0m2.6-.1h0m-307.4 2.3h0m2-.3h0m26.3 .7h0m9.7-.3h0m2.4-.5h0m35.5 .5h0m2.7 .1h0m2.6-.5h0m3.1 .6h0m2.5-.1h0m2.7 .4h0m1.8-.2h0m3.1-.6h0m90.4-.9h0m1.4 .6h0m.2 .9h0m1.7 0h0m5.3 .1h0m2.8-.2h0m7.9-.6h0m7.8 .5h0m1.9-.4h0m2.6-.2h0m8.3 .8h0m1.7-.1h0m3.2 .3h0m1.9 0h0m2.6-.7h0m5.1 0h0m2.5 .5h0m18.3 .1h0m5.5-.3h0m1.9-.1h0m2.5 .3h0m2.9 .1h0m1.9-.9h0m2.7 .4h0m2.9 .3h0m2.9-.6h0m7.5 .7h0m2.6-.3h0m1.8-.5h0m5.2 .9h0m7.7 0h0M-172-55.2h0m2.5 .8h0m25.3-.2h0m3.1 .3h0m7.9-.6h0m1.7 .7h0m3.1-.3h0m12.5-.1h0m20.4 0h0m2.7-.5h0m5.1 1h0m2.5-.8h0m3 .1h0m2-.1h0m5 .8h0m89.2-.2h0m1.3-.3h0m.9 .6h0m.9-.2h0m.5-1.7h0m7.2 1.1h0m1.9 .3h0m6 .3h0m1.5-.1h0m8.5-.8h0m2.6 .8h0m2.5 0h0m4.5-.8h0m5.8 .6h0m1.7-.4h0m3.2-.3h0m2.5 .4h0m2.9 .4h0m2-.7h0m2.9 .6h0m4.3-.2h0m10.4 .2h0m8 0h0m2.7 0h0m2-.5h0m8.1 0h0m2.1 .2h0m2.7 .4h0m5.8-.5h0m1.9 .6h0m7.7-.8h0m3.1 .6h0m5 .4h0m2.6-.1h0m-312.9 1.6h0m2.6-.3h0m27.9 .6h0m2.9-.5h0m2.6 .9h0m1.9-.2h0m2.6-.7h0m2.6 .2h0m8 .5h0m2.9 0h0m2.5-.1h0m1.9 .2h0m20.6-.9h0m8.4 .9h0m2.1 .1h0m1.9 0h0m5.1-1h0m3.4 .9h0m2.6-.6h0m86.7 0h0m1.8 .5h0m1.1 .2h0m1.3-.4h0m.4-.9h0m5.2 .9h0m2.9-.4h0m2.2 0h0m2.1-.1h0m10.3 .8h0m3.5 .1h0m2-.4h0m2.9 0h0m2.7-.6h0m4.5 .2h0m2.8 0h0m7.9 .3h0m2.6-.2h0m1.8-.2h0m2.9 .1h0m2 .1h0m7.9 .3h0m2.3 0h0m2.5-.6h0m3.5 .3h0m2.4-.2h0m12.7 .9h0m5.4-.8h0m1.6-.1h0m2.5 0h0m8.1 .5h0m2-.3h0m2.9-.1h0m2.3 .1h0m2.6 0h0m3.1 .5h0m-317.5 2.4h0m2.1 0h0m2.9-.3h0m30.7 .3h0m2.9-.7h0m2.1 .7h0m2.4-.9h0m3 .1h0m1.8 .8h0m5.8-.4h0m2.7 .2h0m1.9-.4h0m2.3 .2h0m3.3 0h0m20.3-.2h0m2.6 .2h0m2.2 .3h0m2.9-.5h0m2.6 0h0m4.6 .3h0m5.4-.5h0m88.7 .1h0m2.9-.2h0m7.9 .6h0m5.2-.5h0m2.6-.1h0m2.2 .3h0m8.1 0h0m2.6 .1h0m2.4-.4h0m1.9 .4h0m8-.2h0m8.2-.2h0m1.5 .6h0m5.8-.7h0m2.1 .8h0m2.8-.1h0m5.1-.2h0m2.3-.1h0m3.1-.1h0m1.9-.3h0m3.3 .3h0m9.9-.1h0m10.3 .8h0m2.1-.3h0m2.3-.7h0m2.8 .6h0m3.2-.2h0m2.4 0h0m1.9 .1h0m5.3-.4h0m2.8 0h0m-312.6 2.1h0m2.3 .5h0m21.1-.2h0m2 .4h0m3.3 0h0m2.4 .1h0m1.9 .2h0m7.7-.2h0m2.8-.3h0m2.3 .5h0m2.6-.4h0m2.8 .4h0m2.3-.9h0m5.7 0h0m2.7-.1h0m20.3 .4h0m4.2-.1h0m3.4 .1h0m1.9-.3h0m5.3 .5h0m2.2-.6h0m92 .7h0m2-1.3h0m1 .7h0m.9-.5h0m.5-.2h0m6.4 .9h0m2 .2h0m4.8 .3h0m2.7 .2h0m5.2-.4h0m2.9 0h0m2.1-.1h0m5.5 .2h0m2.6-.7h0m2.2 .2h0m2.9 .1h0m7.8 .1h0m1.9-.4h0m5.4 .2h0m3.2 .3h0m2-.2h0m7.9 .5h0m2.5-.5h0m2.6-.2h0m2.6 .8h0m10.1-.7h0m2.3 0h0m5.4-.1h0m2.7 .1h0m1.8 .8h0m3.2-.4h0m10.3-.2h0m1.9 .3h0m3.3-.7h0M-173.9-46h0m2.5 .1h0m20.5 .1h0m2.5-.5h0m2.2 .2h0m4.9 .1h0m3.1 .6h0m4.8-.3h0m2.4 0h0m2.1-.6h0m3.5 .2h0m2.2 .1h0m2.6 .4h0m2 .1h0m6 .2h0m2.3-.8h0m25.4 .8h0m1.9-1h0M17.1-46h0m2.1 .5h0m.3-.2h0m2.5 0h0m7.6 .4h0m5.2-.2h0m2.7-.8h0m2 .5h0m6-.1h0m1.8-.1h0m5.2 .6h0m2.9-.5h0m2.4 .1h0m7.3 .2h0m8.2 .1h0m2-.3h0m3.2 0h0m10.2-.3h0m2.3 .3h0m2.1 .5h0m3.3-.6h0m2 .2h0m2.9-.1h0m4.9 .1h0m2.2-.2h0m2.5 .2h0m3.2-.1h0m15.2-1.1h0m7.5 1.2h0m.1-1.6h0m2.8 1h0m-317.9 2.7h0m2.3-.4h0m2.9 .7h0m25.8 0h0m1.6 0h0m3.4 .3h0m2.6-.2h0m7.2-.8h0m2.3 .1h0m8.3 .4h0m1.8 .2h0m2.6-.2h0m3.1 .3h0m2.9-.3h0m24.7-.4h0m2.8 .8h0M18.6-43h0m2.5-1h0m1.3 .4h0m3.6 .2h0m12.2 0h0m8.5-.7h0m1.7 .5h0m3.3-.2h0m4.7 .2h0m8.1-.4h0m2.3 .9h0m2.1-.3h0m2.6-.1h0m7.4-.1h0m3.5-.3h0m2.5-.2h0m1.7 .2h0m3.4 .1h0m6.8 .3h0m2.7 .3h0m2.7-.2h0m8.3 0h0m27.6-.7h0m2 .7h0m-316.5 1.5h0m1.6 0h0m28.4 1h0m3.1-.5h0m12.6 .2h0m1.8-.1h0m10.5 .2h0m3.2-.8h0m2.1 1h0m24.9-.3h0m3.1-.1h0m102 0h0m2.9 .4h0m.3-1.2h0m9.6 1.1h0m5.6-.5h0m4.7 .6h0m2.5 .1h0m2-.9h0m3.4-.2h0m2.5 .2h0m2.2 .4h0m9.7-.3h0m2.6 .3h0m3.3 0h0m2.3-.4h0m10 0h0m2.7 .7h0m2.2-.8h0m2.7-.1h0m3.1 .8h0m6.9-.6h0m3.3 .4h0m2-.2h0m4.8-.4h0m2.7 .9h0m25.5-.8h0m.5-.8h0m.4 .6h0m1.7 .8h0m-314.9 1.9h0m3 .6h0m25.2-.4h0m2.2 .4h0m2.7-.8h0m13.5 .3h0m2.2 .4h0m2.2 0h0m7.9 .1h0m3-.4h0m2.1-.3h0m23.2 .8h0m2.7-.6h0m104.4 .1h0m.6-.5h0m1.2 .4h0m3.6 .3h0m1.5-.3h0m.4-.9h0m5.6 .6h0m7.8 .7h0m2.1-.2h0m2.1-.5h0m3 .9h0m2.1-.6h0m3.4-.4h0m1.7 .7h0m3.2-.7h0m5.1 .3h0m1.8-.2h0m3.4 .7h0m2.2-.6h0m2.5 .5h0m10.7-.3h0m2.1 0h0m2.6-.5h0m2 .2h0m2.6 .1h0m7.7-.3h0m3.4 .9h0m2.1 .2h0m2.9-.9h0m2.3 .7h0m25.3-.9h0m5.2 .5h0m-317.9 2.6h0m3.4-.7h0m28 .1h0m19.8 .8h0m2.4-.7h0m3 .2h0m2.9 .1h0m2.2-.3h0m25.7 0h0m1.7-.1h0m109.7-.1h0m1.5 1h0m1.2-1h0m2.5-.8h0m.4 .8h0m2.4-.2h0m8 .6h0m4.8 .2h0m2.5 0h0m8.1 0h0m2.5-.6h0m10.5 .1h0m1.8 .6h0m2.9-.8h0m2 1h0m15.3-.2h0m2.7 0h0m7.6-.4h0m3.3 0h0m1.6 .6h0m3-1h0m5.2 .2h0m25.2 .3h0m2.8-1.5h0m.4 1.6h0m1.8-.1h0m-319.1 1.7h0m2.3 .3h0m48.5-.1h0m2.6 0h0m1.7 .7h0m2.8 0h0m2.8-.7h0m2.4 .7h0m22.9-1h0m2.3 .6h0m110.1 0h0m2.4-.3h0m3 .6h0m0-.9h0m.4-.8h0m1.6 1.1h0m18.3 .6h0m2.7-.4h0m2.4 .6h0m1.9-.3h0m5-.6h0m2.6 .5h0m3.1-.1h0m2.4-.5h0m2.1 .3h0m3.4-.2h0m2.4 0h0m1.8-.1h0m3.1 .2h0m2.2-.3h0m8.4 .1h0m1.8 .6h0m3.2-.2h0m1.7-.2h0m3.5-.2h0m2.5 .8h0m2.5-.4h0m1.9-.2h0m28.5 .5h0m2.4-1.2h0m.4 .7h0m-315 2.8h0m2.5-.4h0m2.2 .3h0m45.7-.4h0m2.8 .6h0m4.7-.8h0m2.5 .2h0m18.3-.3h0m2.7 .9h0m2-.9h0m2.5 .5h0m112.8 .4h0m.8-.8h0m1.7 .7h0m2.6-.5h0m2.3 .4h0m8.1 .3h0m10.2-.9h0m2 .3h0m8.4-.1h0m9.5-.2h0m2.2 .4h0m3.3-.2h0m2.7 .2h0m2.3-.2h0m2.6 .1h0m2.2-.2h0m2.4 .4h0m5-.5h0M93-33h0m3 0h0m2.1-.1h0m3.4 .3h0m1.6 .5h0m7.8-.1h0m26.3 .3h0m1.6 0h0m-319 2.2h0m2.2-.8h0m2.4 0h0m2.7 .4h0m76.1-.5h0m2.9 .9h0m117.4-.9h0m.2 .9h0m.1-1h0m1 .8h0m1.2-.1h0m2.3-.2h0m5.5 .1h0m2 .4h0m10.5-.7h0m5.5-.2h0m2.5 .2h0m9.9 .6h0m2.2 0h0m7.9-.3h0m2-.4h0m3.3 .4h0m2.2 .1h0m2.7-.3h0m2 .3h0m10.8 .4h0m2.6-.7h0m38.6 .7h0m1.9-.5h0m.3-.3h0m-317.2 2.1h0m2.4 0h0m1.8 .2h0m10.8 .4h0m2.9 .1h0m58.4-.2h0m2.1-.2h0m2.7 .1h0M22-28.6h0m2.4 .7h0m.4-.7h0m2.2 .1h0m.5-.7h0m2.3 1.5h0m2.2-.1h0m7.6 0h0m15.8-.1h0m12.2-.8h0m2.8 .2h0m2.1 0h0m2.5 .9h0m8.1-.1h0m3.1-.2h0m1.9-.3h0m10.4 .5h0m2.1-.9h0m7.7 .6h0m28.6 .3h0m2.7-.3h0m2 .2h0m-319.8 2h0m2.6-.1h0m2.5 .3h0m9.7-.8h0m3.5 .2h0m1.8 .3h0m3.3-.5h0m53.2 0h0m2.7 0h0m2.4 .2h0m122.2 .8h0m.4-.4h0m1.6-1.6h0m1.2 1.2h0m.8 0h0m6.1 .2h0m7.6-.4h0m5.1 .1h0m7.4 .5h0m13.8 .2h0m4.8-.5h0m2.4 .7h0m5.4-.6h0m1.7 .4h0m2.5 .1h0m2.9 0h0m13.4-.3h0m1.9 .4h0m3-.1h0m2.6 0h0m2.4-.5h0m20.7 .5h0m2.3-.1h0m1.8-.2h0m1.6-1.3h0m1.6 1.1h0m1.1-.4h0m1.1 .1h0m-322.5 2.1h0m.4 .1h0m2.8 .7h0m1.5 .1h0m3-.9h0m2.9 .2h0m4.8 .7h0m3-.1h0m1.9-.8h0m5.6 .2h0m50.9 .3h0m2.6-.5h0m126.9-1h0m.3 1.5h0m2.5-.4h0m5.1 .3h0m2.7 .5h0m10-.9h0m25.8 .8h0m2-.8h0m2.8 .4h0m2.8 .4h0m2.3-.7h0m2.9-.1h0m2.2 .3h0m10.6 .6h0m2.3-.5h0m3 .5h0m2.6-.9h0m2.3 .2h0m7.2-.2h0m8 0h0m2.8 .4h0m2.6 .5h0m2.2 0h0m2.7-.7h0m2.6 .5h0m2.6-.5h0m1.5-.6h0m.6 1.4h0m3-.5h0m-322.9 2.6h0m1.6-.7h0m1 0h0m2.6 .8h0m5-.9h0m2.2 0h0m2.6 .9h0m3.3-.1h0m1.8-.4h0m2.8 .5h0m43.9-.6h0m2 .1h0m2.2 0h0m2.6 .4h0m3.2-.3h0m130 0h0m.5-1.3h0m2 .7h0m1.5 .4h0m1.3-.1h0m2.5-.1h0m7.1 .7h0m2.3 .1h0m3-.1h0m2.3-.5h0m2.7-.1h0m7.3-.1h0m7.6 .1h0m5.5 .8h0m4.9-.2h0m2.5-.8h0m8.5 .9h0m1.5-.5h0m3 .3h0m3.1-.3h0m2.5-.3h0m1.8 .4h0m3.3-.1h0m2.1-.4h0m2.6 0h0m2.1 .9h0m5.6-.2h0m2.1 0h0m3.4-.6h0m7 .7h0m2.7-.7h0m2.1-.2h0m5.1-.4h0m.5 1.3h0m2.2-.9h0m-322.5 3.3h0m.3-.3h0m2.5 .1h0m2.7 .2h0m2-.8h0m8.4 0h0m2.2 .6h0m2.5-.6h0m2.1 .4h0m3.1 .2h0m43.8-.7h0m2.2 .8h0m2.2-.4h0m135.5-.5h0m.1-.3h0m2.6 .4h0m1.6-.6h0m.7 1.4h0m1.8-1.6h0m.9 .8h0m1.2 .2h0m16.8-.2h0m5.1 .8h0m6.9-.7h0m5.4 .2h0m8.3 .2h0m6.7 0h0m3-.2h0m5.4-.1h0m1.9 .3h0m2.4-.1h0m2.5-.4h0m3-.1h0m2.9 .8h0m2.2-.7h0m2.1 .6h0m7.8-.1h0m3.3 0h0m7.8-.1h0m1.8 .3h0m5.2-.8h0m1.6 0h0m.9 1h0m.1-1.1h0m2.4 .3h0m-324.6 2.3h0m2.1 .1h0m2.5 .2h0m2.6-1h0m.6 1.3h0m12.3-.3h0m2 0h0m2.5-.4h0m2.8 .7h0m3.1-.6h0m2.3 .5h0m2.1-.4h0m2.7 .3h0m2.7-.6h0m2.8 .8h0m10-.6h0m10.6-.3h0m2.5-.1h0m2.3 .5h0m2.9 .1h0m141.9 0h0m.1 .1h0m1.5-.3h0m1.8 .1h0m1.9 .3h0m.3 .2h0m7.2-.5h0m11-.4h0m5 0h0m1.9 .9h0m3.1 0h0m2.8-.9h0m4.3-.1h0m2.8 .8h0m2.3-.7h0m5.8 .2h0m10.1 .6h0m5.3-.5h0m7.3-.2h0m5.2 .6h0m7.3-.6h0m5.3-.1h0m7.2 .5h0m3.2-.3h0m7.1-.2h0m-321.9 2.9h0m2 .1h0m.6-.2h0m2.5-.2h0m1.8 .1h0m11.2 .1h0m4.9-.5h0m12.6 .7h0m1.9 0h0m2.7-.6h0m2.9 0h0m3 .8h0m2.5-.4h0m2.6 0h0m2.3 .3h0m2.8-.7h0m2-.3h0m2.6 1h0m3-.2h0m2.4-.7h0m4.8 .6h0m142.5 .3h0m1.7-.7h0m1.4 0h0m2.3 .7h0m.9-1.4h0m1.9 .9h0m4.9-.1h0m7.3 .4h0m2.7-.8h0m2.4 .5h0m2.5-.2h0m2.6 .4h0m2.6-.7h0m5.2 .1h0m3.1 .8h0m19.2-1.9h0m.5 .6h0m.8 .5h0m14.4 .1h0m2.9 .3h0m2.5-.3h0m18.1 .8h0m2.5-.1h0m7.5-.5h0m2.8-.4h0m-325.3 2.2h0m2.1 .9h0m3.4-.1h0m.5-.2h0m37.1-.3h0m2.5 .3h0m3.1-.1h0m2.9 .6h0m2.5-.1h0m1.5 0h0m3.3-.8h0m2.6 .5h0m2.3 .2h0m150-.9h0m2.6 .8h0m2.9-.8h0m0 .4h0m.4-1.3h0m2.7 1.7h0m4.5-.2h0m2.1 .3h0m5.7-.5h0m10.2 .7h0m2.7-.1h0m4.4-.8h0m23.1 .4h0m.8 0h0m17.8-.5h0m2.4 .3h0m4.5-.3h0m10.5 .1h0m2.8 .1h0m8-.2h0m2.5 .3h0m-325.3 2.7h0m1.1-1.8h0m.6 1.2h0m2.9 .1h0m2.2 .1h0m23 .2h0m21.1 .1h0m2.4 0h0m164.3-1.2h0m1.3 .9h0m1.3-.4h0m1.4 0h0m2.3 .7h0m.1-1.1h0m5.3 .3h0m2.1 .1h0m10.8 1h0m12.3-1h0m22.1-.4h0m11.2 .5h0m5.5 .7h0m7.6-.8h0m7.7 .7h0m4.5 .2h0m12.7-.4h0m-325.3 2.6h0m.1-.8h0m3.3 .6h0m2.6 .2h0m2.2 .1h0m19.8-.9h0m5.6 .3h0m185.6-.3h0m.4 0h0m2.2 .9h0m1.6-.6h0m6 .4h0m5.2-.8h0m54.1-.1h0m2.5 1h0m4.8 .1h0m3.3-.1h0m10.1-.4h0m14.9 .1h0m2.4-.1h0m-327.3 1.6h0m2 .5h0m2.6 0h0m28.8 0h0m189.6-.8h0m.8 .4h0m.8 .1h0m1.6 .2h0m.1 .2h0m3.4-.5h0m12.4 .9h0m46.4-.4h0m17.3-.1h0m2.3 .4h0m18.6-.7h0m1.5 .6h0m3.2-.6h0m-331.4 1.5h0m1.3 1h0m.1 .1h0m2.6-.5h0m1.8 1h0m219.9-.5h0m.1-1.2h0m.1 1.2h0m1.7 0h0m3.1 .4h0m2-.9h0m5.6 .2h0m5.4 .6h0m63.4-.6h0m2.7 .2h0m19.7 0h0m2.8-.3h0m-334.6 3h0m2.4-.6h0m1.8-.1h0m.8 .5h0m12.6-.2h0m210.1-.5h0m1 .4h0M50.1-3h0m.1 1.3h0m2.3 .6h0m8.1-.8h0m1.9 .1h0m5.3 .1h0m.8 .5h0m25.1-.9h0m25 .8h0m2.2-.2h0m2.8-.1h0m2.8 .4h0m10-.2h0m3.2-.5h0m2.6 .2h0m1.7-.1h0m3.3 .4h0m1.8-.5h0M-180.7 .3h0m2.3 .1h0m3.2 .6h0m1.9-.7h0m10.6 0h0m2 .1h0M47.6 .3h0m1.5-.1h0m1.1-.2h0m.4 .7h0m1 .2h0m12.2-.4h0m26.4-.4h0m22.9 1h0m2-.4h0m2.2 .3h0m2.9-.3h0m2.2 .1h0m5 0h0m1.8-1.9h0m6 1.5h0m2.5 .6h0m2.4-.1h0m3.4-.3h0m2.6-.2h0m2.5-.1h0m1.9-.2h0m-332.7 3h0m2.6-.2h0m3 0h0m2.3-.5h0m12.2 0h0M48.8 3h0m1-.2h0m4.9 .3h0m54.5 .1h0m2.2-.9h0m1.5-.5h0m.9 1.3h0m5.6 0h0m.2-.8h0m1.8 .7h0m.2 .1h0m2.8-.1h0m2.1 0h0m.4-.3h0m7.7-.1h0m2 .6h0m7.4-.9h0m2.6 .1h0m3.1 .8h0m2.8-.5h0m1.7-.3h0m-335.4 2.4h0m3.5 .5h0m2.6 .1h0m2.2-.2h0m223.5-.1h0m.5-.4h0m5.5 .6h0m8.5-.5h0m6.3 .6h0m3.1-.7h0m.6-.7h0m35.2 .5h0M113 5h0m3.2-1.7h0m1.5 .1h0M131.3 5h0m1.2-.3h0m2.9 .6h0m10-.1h0m3.3-.6h0m2.2 .3h0m2.6 .1h0m1.9 .3h0M-179.2 7h0m2.7 .6h0m2.4-.2h0m224.7 .2h0m2.9-.2h0m52.1-.3h0m.5-1.4h0m.7 1.1h0m2.1 .5h0m1.9-.5h0m7.9 .7h0m12.8-.8h0m.8 .4h0m2.4-.4h0m2.2 .2h0m4.6 .5h0m3-.2h0m2.1 0h0m2.7-.1h0m3.1-.1h0m2.6 .3h0m-336.2 1.8h0m3.1 .3h0m2.7-.4h0m2.4 .1h0m2.9 .3h0m222-.2h0m.3-1.4h0M54 9.3h0m0-1h0m.4 1.4h0m2.2-.8h0m50.3 .8h0m.2 0h0m3.1-.5h0m7.7-.1h0m1.9-.2h0m1.5-1.1h0m1.1 1.6h0m3.1-.2h0m2.4 .4h0m4.9-.4h0m2.4 .3h0m3.3-.1h0m2.4 .2h0m4.4-.7h0M148 9h0m3.1 .5h0m1.8-.6h0m3.4 .4h0m-338.5 2.4h0m2.6-.1h0m3 .3h0m2.3-.5h0m234.7 .4h0m2.1 .3h0m2.9-.8h0m35.2-1.3h0m7.9 1.8h0m.3-1.5h0m1.5 1.1h0m5.7 .7h0m8.2-.2h0m2.4-.5h0m7.3-.2h0m2.6 .2h0m3.1 .5h0m7.1-.2h0m2.3 .2h0m3.3-.2h0m1.9 .4h0m2.6-.9h0m2.9 0h0m-343.3 2.6h0m3.3 .3h0m1.8-.2h0m2.6 0h0m3.1-.5h0m225.9-1.3h0m.4 1.8h0m1.2-1.1h0m1.9 .9h0m7 0h0m5.4 .1h0m2.5 0h0m35.4-.2h0m3.3 .1h0m4.9 0h0m12.7 .2h0m2.6 .2h0m2.1-.2h0m1.6-1.8h0m1.6 1.9h0m1.8 .2h0m2.6-.4h0m3.5-.2h0m1.7 .6h0m8-.7h0m2.8 .1h0m2.4 .5h0m2.1 0h0m-345.3 2.3h0m2.3-.3h0m8.1-.4h0m11.1-1.3h0m216.1 1.3h0m.4 .2h0m1.4-.2h0m8.4 .3h0m44.1 .2h0m1.7 .2h0m2.9-.5h0m1.2-1.6h0m.3 2.1h0m11.6-2.1h0m1.7 1.9h0m3 .1h0m1.5 .2h0m3.5-.8h0m2.1 .4h0m5-.3h0m2.6 .6h0m2.4-.3h0m5.7 .3h0m2.4 0h0m-338.2 2.3h0m5.1-.3h0m3.2-.1h0m2.5-.1h0m224.2-.3h0m2.7 .7h0m.5-2h0m52.6 1.3h0m2.5 .3h0m2.1-.7h0m.2 .8h0m.1 .1h0m4.3-1.9h0m8.3 1.3h0m3 .6h0m11.5-1.8h0m3.6 1.8h0m2.9-.3h0m5 .1h0m2.6 .4h0m2.9-.3h0m.8-1.7h0m1.3 1.3h0m1.6-1.3h0m1.1 1.7h0m2.3 .1h0m-347.7 2.4h0m2.7-.9h0m.6-1.1h0m1.3 1.4h0m3 0h0m1.8 .3h0m226.2-1.2h0m1.3 1.3h0m.3 .2h0m51.1-.3h0m4.3-.1h0m6.6-1.6h0m1 1.3h0m2.9 .5h0m3-.5h0m1.8 .5h0m3-.6h0m13.9-1.2h0m1.3 1.4h0m2.5 .5h0m3.6-2h0m1.9 2h0m7.3-.4h0m5.3 .1h0m-346.2 2.1h0m2.9-.3h0m2.6 0h0m3 .9h0m2.1-.3h0m2.9-.1h0m221.4-.1h0m18.2 .4h0m33.4 0h0m4.9-.6h0m7.3-.1h0m2.2 .4h0m2.7 .1h0m2.8 .3h0m3-.6h0m14.6 .5h0m2.4-.5h0m3.1 .4h0m.9-2h0m1.6 1.5h0m3 .4h0m.6-1.9h0m6.5 2.2h0M160 21h0m.7 1.9h0m3.1-.4h0m-346.2 2.8h0m5.6-.7h0m226.4-.3h0m.3 .8h0m2.2-.5h0m1-.8h0m.7-.6h0m42.5 1.6h0m6.9 .2h0m3.1-.5h0m5.4 .3h0m2.2 .5h0m1.9-.1h0m2.8-.5h0m5.5-.1h0m2.9 .2h0m3.9-.5h0m10.8 .3h0m5-.1h0m2.7 .4h0m9.8-.3h0m2.9 .2h0m3.2 0h0m-351.1 1.8h0m2.5 .9h0m7.5-.4h0m2.2-.2h0M34 26.7h0m1.9 .6h0m10.5 0h0m1.9-.4h0m3.4 .2h0m50.8-.5h0m2.4 .6h0m2.7-.1h0m.7-1.7h0m1.9 1.3h0m4.6 .1h0m10.8 0h0m15.2-.2h0m2.3 0h0m13.3 .7h0m1.3-1.9h0m.2 1.5h0m3.4 .2h0m2.2-.5h0m2.4 .7h0m-346.8 .3h0m3.7 2h0m2.5-.8h0m209.2 .8h0m7.8-.1h0m2.6-.1h0m.9-.4h0m1.6-.2h0m.9 0h0m1.1-.2h0m.9-.8h0m56 1.9h0m4.8-.7h0m1.8-1.4h0m5.2 0h0m.9 1.9h0m.9-1.9h0m1.4 2.1h0m2.4-.5h0m15.2 0h0m3.1-.2h0m12.8 .4h0m1.9-.1h0m2.5 .1h0m3.6 .3h0m1.6-.4h0m3.4 0h0m-353.6 2.2h0m1.7-1.8h0m.9 1.7h0m.9-1.6h0m4 1.7h0m3-.2h0m2.1 0h0m2.5 .5h0M33.6 31h0m6.2 .4h0m1.7 .3h0m2 0h0m.8-.3h0m2.3 .1h0m2 0h0m1.5-1.7h0m54.5 1.9h0m3-.1h0m1.2-1.8h0m1.6 1.5h0m10.3 .1h0m2.6-.4h0m3.1-1.3h0m1.1 2.2h0m3.1-.7h0m2.8 .2h0m1.6-.1h0m3.2 .6h0m25.1-.9h0m2.5 .5h0m2.5-.2h0m-350.2 2.4h0m4.5 0h0m3.1 0h0M24.4 34h0m4.7-.1h0m1.7-2h0m1 2h0M37 34h0m1.5-1.5h0M40 34h0m2.4-.2h0m5.2-.6h0m55.8 .2h0m5.8 0h0m9.8-.2h0m2.5 .6h0m2 0h0m2.2-1.8h0m5.7 1.4h0m2.9 .6h0m4.9-.5h0m.8-1.5h0m4.8 2h0m1.9-.7h0m5.4 .2h0m1.2-1.6h0m6.3 1.4h0m1.3-1.3h0m4 1.3h0m2.2 .2h0m-352.8 2.2h0m1.3-1.5h0m.8 1.7h0m8 .4h0m2.3 0h0m194-.2h0m7.2-.6h0m2.9 .5h0m.2-.5h0m2.8 .1h0m.7 .7h0m1.1-.6h0m1.6-1.2h0m.8 .9h0m4.7-.4h0m.7 .5h0m1.7-1.3h0m4.6-.1h0m52.8 1.6h0m1.9 .3h0m1.6-1.8h0m1.8 2h0m1.9-.2h0m2.3-.6h0m20.9 .6h0m2.3 .1h0m1.2-2h0m4.2 2h0m2-.3h0m2.9-.2h0m2.8 .2h0m1.7-1.6h0m1.1 1.6h0m2.2 .4h0m3.1-.6h0m2 0h0m2.7 .4h0m1.6-1.9h0m6.2 2.2h0m-353 2h0m2.1-.4h0m1.3-1.5h0M22 37.9h0m2.9-.3h0m1-1.2h0m.9 1.5h0m.7 0h0m2.7 .4h0m1.5 .1h0m.2-.2h0m2.3-.1h0m2.7-.3h0m4.3-1.5h0m62.8 2h0m2.3-.3h0m2.9 .5h0m1.8-.3h0m15.4-.1h0m7.4-.1h0m3.8-1.6h0m7.1 2h0m2.4-.2h0m2.2 .3h0m2.4-.7h0m3.1 .2h0m2.2 .1h0m3.2-.4h0m-343.6 2.2h0m2.6 .3h0m4.9-.1h0m1.7-1.4h0m1 1.4h0m1.4-1.5h0m131.6 1.5h0m2.3-.2h0m5.6 .7h0m12.2-.7h0m4.9 0h0m25.5 .4h0m5.4 .3h0m2.4 .1h0m3.1-.3h0m1.5 .1h0m.9-.3h0m1.1-1.6h0m.5 1.9h0m.9-.4h0m2-.1h0m3.3 .5h0m1.8-.6h0m22.9-.1h0m46 .6h0m5.6 0h0m1.5 .2h0m.7 .1h0m4-2.1h0m11.8 1.8h0m5.9-1.9h0m13.5 2.2h0m3.2-.3h0m3-.1h0m9.2 0h0m2.7-.1h0m2.5-.4h0m1.6-1.1h0m1.5 1.3h0m-350.9 2.4h0m2.2 0h0m1.3-1.6h0m1.8 1.5h0m2.7-.2h0m135.4 .2h0m1.6 0h0m3.3 .2h0m2.5-.4h0m1.3-1.3h0m1.3 1.8h0m2.6 0h0m2.4-.1h0m1.9-.3h0m3.3 .6h0m2.6-.3h0m2-.4h0m2.8 .4h0m2.4 .1h0m20 .2h0m2.6-.7h0m3.2 .1h0m0 .1h0m2.2-.2h0m.2 .6h0m2-.3h0m2.6 .1h0m2.7-.4h0m74.4 .8h0m2.5-.1h0m.3 0h0m1.4-2h0m.8 1.4h0m2.3 .3h0m3.1 .3h0m.8-1.9h0m14.3 1.1h0m23.1 0h0m1.9 .8h0m1.2-2h0m7.2 1.9h0m1.9-.1h0m3 .3h0m2.7 0h0m-353.5 1.6h0m3 .5h0m141.8-.2h0m3 0h0m2.8-.3h0m2.7 .6h0m5.1-.6h0m4.7-.3h0m2.5 .6h0m3.1 .1h0m2.3 .2h0m5.1-.8h0m2.6 0h0m2.5 .6h0m2.3-.4h0m2.8 .1h0m3.8 .3h0m1.5-.6h0m.8 .7h0m1.7-.2h0m.8-1.7h0m3.7-.2h0m.3 1.9h0m2.2 .3h0m.2-.4h0m2.7 .4h0m3.4-2.2h0m83.1 2.1h0m41.3-.2h0m1.3-1.8h0m.7 1.5h0m5.1 .5h0m5.4 .1h0m2-.5h0m3-.4h0m3 .7h0m2.3 0h0m-350.7 1.5h0m1.3-1.1h0m3-.1h0m1.1 1.3h0m.8-1.3h0m.8 1.7h0m135.7 .1h0m8.7-1.9h0m5.2 .1h0m13.4 .1h0m4 1.1h0m4.2-.5h0m2.5 1.3h0m3.1-.3h0m1.4-1.6h0m3.2 1.8h0m.8-1.9h0m1.5 1.9h0m.3-1.7h0m1.9-.3h0m0 .4h0m3 1.5h0m89.7-.1h0m.4-1.7h0m2.5 1.8h0m.9-1.9h0m22.8 1.3h0m4-.6h0m1.7-.6h0m2.8 1h0m13.7 .7h0m1.9-.2h0m1.3-1.6h0m1.6 1.7h0m2.8 .1h0m7.3-.4h0m-348.6 2.4h0m1.6-1.4h0m1.8 1.2h0m4.4 .1h0m133.5 0h0m2.5 .2h0m.3-1.6h0m1.5 1.7h0m23.2 .1h0m4.8 .2h0m1.5-2.1h0m.8 .7h0m1 1.4h0m.8-1.9h0m1.3 1.2h0m.1 .4h0m3.5 .1h0m1.4-1.4h0m.2 .9h0m1.5-1.2h0M8.2 49h0m99.2-.1h0m.8-1.4h0m43 1.6h0m2.6 .1h0m2.1 .2h0m2.3-.6h0m3.3 .4h0m4.3-.4h0m3.2-.1h0m.9-1.4h0m-351.8 4.1h0m2.1 .1h0m2.9-.5h0m1.4-1.5h0m3.3 2.1h0m133.1-.3h0m2.4-.1h0m2.6 .2h0m20.2 .3h0m2.6-.4h0m3.2 .1h0m1.8 .1h0m6.6-2h0m106.2 1.6h0m.5-.1h0m.6-1.5h0m46.7 1.4h0m3.2 .4h0m12.7 .1h0m-352.8 1.5h0m1.5 .6h0m1.6 0h0m4-.4h0m1.5-1.3h0m133.1 1.6h0m3 .4h0m2.3 0h0m20.2-.2h0m3.3 0h0m2.6-.4h0m5.6-1.4h0m98.2 1.5h0m7.7 .3h0m2.6-.8h0m.7 .8h0m26-.6h0m.4 .5h0m1.3-.4h0m.9-.5h0m2.4-.5h0m1.2 .2h0m18.4 .9h0m2.7 .6h0m5.2-.3h0m1.4-1.6h0m1.2 1.3h0m1.5-1.3h0m.9 1.7h0m-350.5 1.7h0m1.5 .5h0m.8-.4h0m1.5-1.4h0m.6 1.7h0m5.3-.1h0m130.8-.2h0m1.8 .3h0m10.6-.2h0m2.1 .1h0m5.7 .1h0m1.7-.2h0m2.8 0h0m4.8 .2h0m105.5 .2h0m6.8 .1h0m2.9-.1h0m1.1-.8h0m28.7 .4h0m.5 .3h0m2.6 .2h0m20.8-.1h0m2.9-.3h0M-180 57.3h0m4.9 .9h0m134.3 .1h0m2.5-.1h0m8.4 .1h0m2.3-.7h0m1.9 .7h0m1.7-2.2h0m.9 1.5h0m3.4-.1h0m5.9-1.4h0m113.5 1.4h0m3.6 .7h0m1.7-.4h0m.7-1.6h0m.4-.1h0m1 1.8h0m30.7-.6h0m2.7 .7h0m0-.6h0m.3 .3h0m18 .3h0m2.4 0h0m5.7-1.7h0m2.6-.1h0m1.4 2.1h0M-181.4 60h0m1-1.6h0m.8 1.4h0m1.1-1.3h0m1.1 1.7h0m132.7 .1h0m2.9 .1h0m2.1-.6h0m3.4 .2h0m2.5-.1h0m2.7-.1h0m2-.1h0m5.3 .5h0m122.8 0h0m3.8-1.8h0m.6 1.7h0m2.7-.3h0m36.4 0h0m.2-1.5h0m.4 .2h0m14.6 1.9h0m7.2 0h0m3-.5h0m2.3 .2h0m2.5-.2h0M-183 62.4h0m.2-.7h0m.8-1.2h0m1.3 2.1h0m2.9 0h0m1.3-1.5h0m133.7 1h0m2.6 .1h0m1.9 .1h0m2.7 .3h0m2.6-.4h0m6-1.6h0m128.6 .1h0m.4 1.3h0m2.6 .6h0m2.9-.3h0m29.4 .3h0m3.3-.8h0m21.5-1.1h0m2.3 1.9h0m2.6-.6h0m3-1.1h0m1.4 1h0m2.2 0h0m-357.4 2.8h0m3.2-1.7h0m1.8 1.7h0m.1-1.4h0m2 1h0m142.9 .4h0m3.1-.4h0m126.8 0h0m1.9-1.3h0m2.6-.2h0m1.2 1.4h0m2.5 .6h0m32-1.1h0m2.4-.2h0m.3 .7h0m26.7 .6h0m3.7-2.1h0m1.9 1.8h0m1.3-.4h0m.5-.9h0m3.6-.3h0M-182 65.1h0m.1 .1h0m.7 1.5h0m3.1-.2h0m.9-1.5h0m271.6 1.7h0m2.8 .2h0m1.2-1.9h0m1.9 1.4h0m1.8 .3h0m4.3-1.8h0M133 67h0m.1-.1h0m1.3-1.2h0m.8 .6h0m1.1-.9h0m31.5-.4h0m.5 1.8h0m.2-.6h0m1.2-1h0m2 1.5h0m1.1-1h0m.4 1.3h0m-356.3 .2h0m1 1.6h0m1-1.5h0m0 .3h0m.5 1.5h0m1.3 0h0m275.6-.5h0m11.4-1.3h0m23.7 1.8h0m.9-.4h0m.6-1.2h0m.1-.1h0m33.2-.3h0m3.7 2.1h0m.4-.8h0m2.6 .5h0m.9-1.7h0M175 69h0m-357.9 1.3h0m2.5 1h0m1.9-.1h0m273.1-.1h0m2.5 .3h0m1.3-1.9h0m1.2 1.7h0m1.1-1.8h0m10.9 .2h0m6.4 1.7h0m11.2-1h0m.9-.2h0m.7-.7h0m40.5 1.9h0m.8-.9h0m1.5-.2h0m.6 .8h0m2-.3h0M-183 73.4h0m2.8 .1h0m.8-2h0m0 1.9h0m272.8-.3h0m2.5 0h0m16.5-1.4h0m1.5 1.5h0m14.4-1.1h0m.6 1.2h0m.1-.3h0m.2-1.1h0m42.7 .5h0m.4 .9h0m1.4-1.7h0m1 1.7h0m.5 .1h0m1.4-.8h0m-358.9 1.3h0m1.9 1.9h0m.1-.1h0m7.1 .2h0m265.7-.5h0m4.4 .2h0m12.9-.4h0m1.7-1.5h0m15.7 .8h0m45.2 .6h0m2.7 .2h0m2.6 .1h0m-360.8 .8h0m.9 1.7h0m5.7 0h0m.5-1.9h0m269 1.9h0m1.3-1.7h0m13.2-.1h0m.7 1.4h0m17.7-.1h0m.2 .6h0m.6-.5h0m.6-1.5h0m46.4-.1h0m1.3 1.7h0m.9-1.5h0m1 1.2h0m-360.3 2.3h0m1.2-1.3h0m.6 1.1h0m7.3-1.1h0m264.2 1.5h0m17.9 .2h0m17.1-.4h0m.2-1.1h0m51.2 1.1h0m.1-.6h0m.4-.6h0m1.2-.2h0m.4 1.6h0m.8 0h0m-361.6 2.3h0m.2-1.2h0m272.1 .2h0m3.6 .8h0m1.4-1.3h0m.5 1.6h0m11.3 0h0m4.5-.2h0m12.7 .2h0m.6-1.7h0m53.9 1.7h0m.4-1.5h0m-362.4 2.7h0m2.6 .7h0m273.2 0h0m5.3 .6h0m7.1-.1h0m2.3-.3h0m2-1.5h0m.8 1.2h0m12.3 .4h0m1.1-1.7h0m.1 .7h0m54.5-.6h0m.6 1.8h0m1.2-2h0m.1 0h0m.2 .4h0m.6-.3h0m-363.8 2.1h0m0 1.5h0m1.8 .6h0m272.9-.3h0m2 0h0m1.6-1.7h0m11.7 2h0m2.4-.6h0m11.8-.1h0m.4-.2h0m.2 .7h0m57.5-.8h0m.3 .3h0m.5 .1h0M-181.5 88h0m270.3-1.1h0m21.2 1.5h0m71.2-.6h0m.3-.1h0m-365.2 1.5h0m.7 .3h0m1.5 1.6h0M90 89.3h0m.7 1.3h0m16.8-1.2h0m3.8 1.5h0m4.6 .2h0m64.4-1.4h0m1.1-.2h0m0 1h0m.7-1.1h0m.4 1.8h0m-366.6 .2h0m.9 .3h0m.7 1.7h0m1.4-.5h0M87.3 93h0m.6-1.6h0m1.5 1.7h0m2.2 0h0m14.2-1.7h0m2.9 .1h0m1 1.5h0m5.5-.1h0m64.9-1.4h0m1.7 1.5h0m.2-.6h0m1.3-.7h0m1 1.3h0m-367.6 .6h0m266.8 2h0m1.5-1.9h0m1 1.8h0m2.3 0h0m2.6-.3h0m14-1.6h0m2.1 .2h0m74.5 .1h0m1.7 1.7h0m-367.5 .3h0m.2 .1h0m1.2 1.6h0m.5-1.7h0m261.7 1.4h0m3.2 .1h0m2.1-.2h0m21.6-1.3h0m76.1 0h0m1 .6h0m.1-.7h0m.5 1h0m.4 .6h0m1.2-1.7h0m-371.2 2.4h0m.4 .8h0m3.4 .8h0m260.4 0h0m4.3 .3h0m18.7-.3h0m.3-1.4h0m1.5 1.5h0m1.2-1.7h0m78.3 1.4h0m1.3 .5h0m.8-.3h0m.1 .1h0m.6 .1h0m-371.9 1.9h0m1 0h0m.9-1.7h0m1.7 1.6h0m1.9 .3h0m262-1.9h0m1.1 1.9h0m16.9 0h0m2.7-.2h0m13.7 .3h0m68 .1h0m.6-1.9h0m2.1 1.5h0m.5 .1h0m-371.9 2.1h0m2.9 .1h0m1.5-1.3h0m257.6-.2h0m2.2 .1h0m1.7 1.7h0m20.6 .1h0m83.4-.2h0m1.8-1.2h0m.4 .7h0m.4 .3h0m-373.6 1.3h0m.8 1.1h0m2 0h0m2.8-.4h0m256.2-1.5h0m1.1 1.9h0m1.6-1.8h0m1.1 1.6h0m19.4-1.7h0m.5 2h0m3.9-1.8h0m82.3 .6h0m3.2 .8h0m-375.7 2.6h0m.6-1.7h0m2.1 1.2h0m258.9-1.2h0m22.9-.3h0m87.8 1.7h0m.7-1.7h0m1.6 0h0m0 1.5h0m.5-.9h0m.2 .5h0m.7 .8h0m-377.3 2.1h0m3 0h0m2.1-1.4h0m.3 1.2h0m.7-1.4h0m1 1.3h0m255.9 .1h0m1.4-1.5h0m1.6 .2h0m16.9 1.7h0m1.5-1.8h0m2.1 .1h0m2.8 0h0m85.8 1.5h0m.9-.7h0m1.3 1h0m.1-.7h0m-376.3 2.3h0m7.9 .3h0m255 .2h0m.7-1.7h0m19.9 1.7h0m1.2-1.7h0m1.2 1.7h0m89-.2h0m.5-.3h0m.3 .4h0m-379.4 2.1h0m4.9-.1h0m1.9-1.5h0m1.8 .1h0m254 1.7h0m1.1-1.7h0m1.9 1.8h0m18.5-1.9h0m94.9 1.4h0m2.6-1.3h0m-379.5 2.1h0m1.6 1.4h0m4.2-1.5h0m1.4 1.6h0m.6-1.6h0m2.5 0h0m271.4 1.6h0m1.9-1.3h0m94-.2h0m1.1 1.3h0m.7-.9h0m-379 3.6h0m4.3-1.7h0m3.2 1.7h0m1.5-1.6h0m250.9 1.6h0m1.2-1.9h0m2.6 .1h0m13.4 .1h0m1.8-.2h0m92.9 1.5h0m6.5 .2h0m.4-1.2h0M74 120.1h0m3.1-.2h0m.7 1.8h0m11.8-1.4h0m1.6 1.6h0m1-1.8h0m97 0h0m2.6 0h0m.9 1.9h0m-385.7 1.8h0m3.4-1.4h0m1.3 1.6h0m1.5-1.7h0m1.5 1.6h0m1.7-.1h0m1.6-1.4h0m1.6 1.7h0m.4-1.8h0m255.6-.1h0m1.2 1.8h0m2.2 .2h0m4.4-1.9h0m1.1 1.7h0m3.9-1.6h0m1.2 1.4h0m100.2-1.4h0m.2 .3h0m1.7 1h0m-381.5 2.7h0m10.3-.1h0m255.5-.2h0m6.1-1.7h0m4.6 0h0m100 .8h0m4 1.1h0m2.3-1.8h0m-379.6 2.5h0m2.4 0h0m.8 1.2h0m1.8-1.6h0m26.6 1.9h0m226.2-.1h0m1.4-1.5h0m5.7 .1h0m2.4-.2h0m2.2-.2h0m1.1 1.6h0m107-.4h0m1.5-.8h0m-383.9 2h0m3-.1h0m2.3 0h0m5.5 .1h0m1.6 1.6h0m248.5-1.5h0m5.3 .1h0m2.2-.4h0m2.8 0h0m.9 1.9h0m1.3-1.9h0m109.1 0h0m1.9 2h0m.7-2h0m0 0h0m.7 1.2h0m-384.9 2.8h0m1.2-1.5h0m1.8-.1h0m4.2 1.7h0m11.3-1.5h0m17 1.3h0m222.7-1.5h0m7.8-.1h0m2.4-.1h0m1.8 1.7h0m110.7-1.3h0m3.3 1.5h0m-382.4 .2h0m1.3 2.1h0m1.1-1.7h0m3.8 1.6h0m1.2-1.9h0m2.2 1.8h0m22.8 .2h0m2.3 0h0m.8-1.9h0M64.9 135h0m11.5-1.5h0m5.7 0h0m107.4 0h0m.2 .6h0m.5 1.2h0m1.2-.3h0m.4-1.7h0m.7 2h0m-385.1 .1h0m3.2-.1h0m4.7 .1h0m1.1 1.8h0m6.2-1.5h0m3.9 1.8h0m13-.5h0m234.3 .5h0m2.2-1.8h0m.6 1.4h0m1.1-1.8h0m116.5 1.4h0m.4 .4h0m.7-1.3h0m-384.6 3.9h0m.9-1.7h0m2.6 0h0m3.4 1.2h0m1.6-1.4h0m2.6-.2h0m4.3 2h0m2.1-.4h0m10.5 .4h0m6.2-2h0m1.3 2h0m1.1-2h0m344.1 .2h0m1.1 1.5h0m.9-.1h0m1.7 0h0m-386 2.5h0m2.5 .1h0m1.8-2.1h0m10.9 2h0m2.8-.2h0m5.4 .1h0m3.4-1.7h0m1 1.7h0m6.5-1.7h0m1.7 1.9h0m216.9-.3h0m.6-1.4h0m10.6 .1h0m115.7 1.6h0m1.2-1.8h0m3.8 1.5h0m-383.3 2.2h0m2.6 .3h0m2.2 0h0m10.5 0h0m3-1.9h0m5.7-.2h0m3.6 1.9h0m1.9-1.7h0m1.2 1.7h0m.9-1.4h0m4 1.3h0m1.2-1.4h0m213.3 1.5h0m11.5-1.4h0m118.1 1.4h0m1.3-1.7h0m.4 .3h0m-377.9 3.8h0m14.3-1.6h0m20.7-.2h0m.4 1.5h0m207.8-1.8h0m5.2 .1h0m8.3 0h0m1.8 .1h0m116.2 1.8h0m.1 .1h0m3.7-1.4h0m.6-.5h0m-380 3.9h0m2.3-.2h0m1.5-1.3h0m30.3 0h0m201.2-.2h0m10.3 .1h0m1.5 1.7h0m.8-1.9h0m1.2 1.7h0m3.2 .1h0m.9-1.8h0m2.5 .4h0m3.1-.4h0m119.4-.1h0m1 2h0m1.7-1.8h0m-383.8 2.4h0m6.7 1.7h0m1.3-2h0m30.8 .1h0m2.5 0h0m.8 1.9h0M47.8 149h0m.6 1.3h0m7.7 0h0m1.1-1.8h0m4.8 1.9h0m5.8-1.7h0m120.9 .3h0m1.6-.1h0m.3 .1h0m-377.5 3.5h0m.7-1.6h0m3.8 1.6h0m1.2-1.5h0m29.8 1.6h0m1.6-1.6h0m4.4 .2h0m191.6 0h0m6 1.5h0m2.2-1.6h0m.9 1.7h0m3.6-1.9h0m5.3 .3h0m124.4 .1h0m1-.3h0m.3 1.7h0m1.9-1.7h0m.8 1.5h0m-377.5 .8h0m4.7 1.7h0m2.9-1.8h0m3.4 .3h0m24.9-.3h0m2.9 .3h0m5.3-.1h0m1.2 1.6h0m189.1-2h0m6.6 1.7h0m1.4-1.5h0m.9 1.8h0m1.4-1.6h0m2.5-.4h0m1.5 1.8h0m124.3-1.5h0m1.4 1.8h0m2.7-.7h0m-375 1.2h0m5.1-.1h0m.3 1.8h0m2.2-1.9h0m1 1.6h0m.7-1.8h0m3.3 .2h0m1.3 1.5h0m20.4 0h0m.8-1.3h0m1.5 1.7h0m1.1-1.9h0m2.9 .1h0m3.7 1.6h0m187.4-1.6h0m2 .2h0m3.3-.1h0m135.1 .6h0m2.2-1.1h0m-363.5 2.5h0m5.7 .2h0m3.2 1.4h0m2.8-.1h0m1.3-1.2h0m3.8 1.5h0m7.7-.1h0m3.8-1.4h0m2.2-.5h0m5.1 .4h0m1.3 1.7h0m105.7-2.1h0m1.9 1.9h0m68.5 .2h0m5.7-.2h0m3.3-1.5h0m2.5-.3h0m2.3 .1h0m2.9-.1h0m130.3 .4h0m.3 .7h0m.7 .7h0m1.4-1.8h0m-360.5 2.1h0m1.2 2h0m.7-2h0m2.7 .1h0m6.8 1.8h0m.6-1.9h0m5.1 .3h0m7.5-.1h0m3-.2h0m1.7 1.7h0m1.1-1.3h0m1.1 1.7h0m1.7-1.8h0m3.7 1.8h0m1.7-.3h0m169.3 0h0m2.5-.1h0m2.1 0h0m1.6-1.5h0m4.3 .2h0m2.6-.4h0m3.2 .1h0m2.4-.1h0m130.1 0h0m.4 2h0m1.2-.3h0m2.1-1.1h0m-356.7 1.6h0m1.9 .4h0m3.3 .1h0m2.9 1.3h0m1.9-1.3h0m.7 1.2h0m1.4-1.2h0m3.3-.6h0m7 .6h0m1.9 1.3h0m1.9-.1h0m3 .2h0m.7-1.5h0m9 .4h0m3.7-.2h0m3.7 1.3h0m76.6-.1h0m5.1 .3h0m9.5-1.7h0m2.2-.4h0m19.4 1.8h0m7.8 0h0m19.9 .2h0m10.6-.2h0m3.9-1.7h0m1.6 1.8h0m2.2-.1h0m2.5 .1h0m4-1.9h0m2.1 .1h0m1.8 1.6h0m135 .4h0m.9-1.6h0m0 .2h0m-348.7 3.3h0m3.2-1.3h0m7 1.4h0m.7-1.4h0m2.1-.2h0m2.2 1.6h0m1.4-1.7h0m.3 1.8h0m1.8-1.8h0m4.1 1.8h0m5.1-.2h0m.6-1.6h0m2 1.7h0m1.3-1.8h0m1.4 .1h0m.6-.1h0m.9 .2h0m1.3 .2h0m2.9-.5h0m1.1 .7h0m1.8-.6h0m1.7 0h0m1.4 .8h0m1.4-.7h0m.2 1.2h0m3-.3h0m1.3 .4h0m2.7 .4h0m.1 0h0m69.6-1.4h0m3.9 1.2h0m9.2-1.3h0m3.1 1.6h0m7.8 0h0m5 0h0m4.9-.1h0m4.7-1.6h0m13.9 1.8h0m2.4-.3h0m2.7 0h0m4.9 .1h0m3.8-1.8h0m1.3 1.7h0m1.8-1.7h0m4.2-.1h0m10.4 .4h0m143.2-.1h0m-345.8 2.1h0m11.3 1.5h0m34.9-1.8h0m3.9 .1h0m1.8 .8h0m3.9 .5h0m1.5-.2h0m2.1 .9h0m57.6-1.7h0m2.7-.4h0m3.9 2.1h0m1-1.9h0m2.4-.1h0m2.2 1.9h0m1.4-1.6h0m.4 1.7h0m1.2-1.5h0m5.7-.2h0m2.3-.1h0m1.4 1.7h0m4.1-1.4h0m5.2 0h0m4.4-.1h0m2.9 .1h0m2-.6h0m1.6 1.9h0m1.4-1.3h0m2.5-.1h0m1.7 1.7h0m1.4-1.8h0m8.7 1.4h0m.8-1.7h0m5.9 .3h0m4.4 .1h0m1.3 1.5h0m5.2-.2h0m146.3-1.3h0m1.5 1.4h0m1.5-1.6h0m.7 1.2h0m.1 .3h0m2.1-1.1h0m.2-.5h0m-286.1 2.2h0m1.2 .1h0m.1 0h0m3.2 .3h0m1.2-.2h0m.5 .9h0m1.5-.4h0m2.8 .8h0m1.4 .3h0m2.7 .1h0m3 0h0m.6-.1h0m32.8-.1h0m1.5-1.8h0m1.2 2h0m2.4-.1h0m.7-1.6h0m3.4 0h0m1.3 1.5h0m3.9-1.7h0m.2 1.7h0m2.7 .3h0m3.3-.2h0m.7-1.7h0m2.9 .3h0m2.2-.3h0m5 0h0m3.1-.1h0m.7 1.9h0m1.5-2h0m2.1 .2h0m3.3 .4h0m.7 1.5h0m1.8-2.1h0m2.7-.1h0m4.7 .5h0m5-.4h0m15.7 .4h0m.3 1.2h0m13.6-1.6h0m143.8 1.8h0m.3-1.5h0m1.6 1.6h0m-268.5 .4h0m3.7 0h0m2.7 .3h0m3.2 1h0m1.2 .3h0m.9 .3h0m.7-.9h0m2 .7h0m2-.4h0m15.4 .4h0m1.2-1.6h0m2.3 1.9h0m17.3-.3h0m4.6 .3h0m1.6-1.9h0m1.3 1.7h0m1.4-1.9h0m1.2 1.9h0m1.5-1.3h0m1.1 1.4h0m.8-1.8h0m3.2 .2h0m5.2-.2h0m2.3-.1h0M2 171h0m1.7-.3h0m29.1 1.3h0m148.3 .4h0m1.4-1.5h0m3.6 1.5h0m-253.2 .9h0m1.4 .1h0m2.7-.6h0m.3-.1h0m1.9 .8h0m1.5 .1h0m1.3-.1h0m3.2 1.1h0m.2-.1h0m1.7-1.4h0m0 .6h0m.7 .9h0m1.5-1.3h0m5-.1h0m.6 .1h0m2.6-.3h0m5.9 1.9h0m2.4-.4h0m5.3 .4h0m1.5-1.9h0m3.5 1.6h0m2.1 .1h0m17-1.9h0m2.3 .1h0m183.2 1.4h0m1.9 .5h0m1.8-1.8h0m.7 0h0m-235 2.1h0m2 .7h0m1.1-.6h0m1.5 1.5h0m.5-1.6h0m3.2-.2h0m.8 1.9h0m1.7-1.7h0m6.1 1.6h0m1.6-1.1h0m86.2-.4h0m117.9 .4h0m7.2-.4h0m1.4 .2h0m.2 1.7h0m3.7-2.1h0m-241.1 2.4h0m24.6 1.8h0m68-1.4h0m134.4 0h0m6.1 1.2h0m1.7-1.7h0m-9 2.5h0m3.8 1.4h0m6.8-1.4h0m.9 1.5h0m.8-1.3h0m.3-.6h0m-141.3 4.3h0m134.8 0h0m.8-1.6h0m2.2-.3h0m1.4 1h0m1-1.3h0m-10.2 4.1h0m1.5-1.7h0m1.8 .1h0m.4 1.8h0m2.8-.2h0m.3-1.7h0m1.8-.1h0m-14.8 4h0m4.1-1.8h0m3.5 1.4h0m.7-1.5h0m3.5 .6h0m2.6 .1h0m1.7-.3h0m-121.9 3.5h0m94.3-.9h0m9-.6h0m6.9-.1h0m2.8 .6h0m1.4 1.4h0m1.5-1.9h0m2.8-.1h0m-10.4 4.2h0m1.1-1.5h0m2.8 .1h0m1.6 1.2h0m3.3-1.6h0m-116.5 2.2h0m.1-.1h0m.5 1.8h0m104.3-1.7h0m5.3-.2h0m3.8 1.8h0m1.6-1.8h0m2.4 0h0m-117.7 3.8h0m97.3-1h0m6.4 0h0m1.5 1.5h0m.8-1.5h0m2-.4h0m2.6-.1h0m-110.6 2.2h0m101.3 1.8h0m1-1.5h0m5.4 .1h0m2.1-.1h0m2.4-.3h0m-111.5 2.1h0m.1 .4h0m100.5 .7h0m2.3-1.2h0m1.9 .8h0m.4-.5h0m2.2 1.5h0m.9-1.5h0m-108.3 2.4h0m.7 1.5h0m97.1-.5h0m.2 .6h0m1.2-1.9h0m1.5 1.9h0m.7-1.4h0m.2-.5h0m1.2 1.9h0m.8-1.9h0m-102.3 4.1h0m94.9-.1h0m5.2-1.8h0m-99 3.7h0m94.3-.8h0m2-.3h0m-96.1 3.4h0m89.4-.7h0m.9-.9h0m1.7 0h0m.4 1.5h0m.8-1.5h0m1.8 .5h0m-95.1 2.3h0m.3 .1h0m79.6 1.3h0m8.5-2h0m1.1 1.9h0m2.2-2h0m-6.6 2.5h0m1.8-.4h0m.7 .6h0M68.2 215h0m76.7 .8h0m1.7-1h0m1 1h0m1.4-.9h0m1.2 .2h0m-88.6 2.2h0m1.7 1.6h0m.5-1.4h0m2 1.2h0m.5-1.6h0m2.5 .3h0m74.5-.4h0m.8 1.7h0m1.2-.5h0m.1-.7h0M66.1 221h0m2.3-1.9h0m72.4 1.1h0m.7-.4h0m.8-.5h0m-80.4 2.5h0m2.3-.2h0m4.5 .3h0m68.2 1.4h0m1.1 0h0m2.8-1.8h0m1.1 1.7h0m.8-1.9h0m-80.2 2h0m3.4 .3h0m1.5-.2h0m2.2 2.1h0m1-1.4h0m63.7 .8h0m1.2-.1h0m3.5-1.5h0m.2 .3h0m.7 .2h0M59 226.3h0m3.6 1.3h0m1.3-1.8h0m1.9 1.9h0m1.3-1.6h0m3.2 1.6h0m1.8-1.6h0m2.3 .3h0m57.8 1.3h0m.5-1.4h0m3 0h0m2.4-.4h0m-77.6 2.5h0m7-.6h0m5.6 .1h0m2.2 .4h0m55.7-.5h0m3 1.4h0m.3-1.3h0m2.2 .7h0M58.8 230h0m2.4 .4h0m5.5-.2h0m5.5 .4h0m2.1 .2h0m2.4-.3h0m5.8 .2h0m2-.1h0m1.5-.2h0m.1 1.6h0m41.6 0h0m.1-1.8h0m.8 1.8h0m0-.8h0m2.1-1.2h0m2.5 .1h0m2.3-.1h0m-77.9 2.4h0m1.8 1.8h0m.3-1.9h0m16.2 .1h0m1.7 .6h0m2.9-.7h0m1.7 2h0m1-1.7h0m3.4 1.6h0m37-1.5h0m.4-.2h0m2.9-.1h0m4.2-.2h0m.6 .4h0m-71.4 3.7h0m1.3-1.5h0m12.9 .2h0m.8 1.4h0m1.2-2h0m2.8 .1h0m1.1 1.8h0m3.7-1.6h0m25.3-.1h0m10.9 .3h0m.7 1.5h0m2.2-1.2h0m.3 .7h0m1.4-.7h0m2.7-.5h0m2.5-.1h0m-72.4 2.2h0m20.7 .6h0m4.9-.6h0m2 .3h0m22.9-.2h0m5.2-.3h0m2.1 .6h0m.6-.5h0m1.7 1.9h0m.9-1.4h0m2.7-.4h0m.6 1.3h0m1.8-1.4h0m3 .7h0m-67.5 1.7h0m2 .1h0m15.6 0h0m2.2 .2h0m7.8-.4h0m2.6 .3h0m12.8-.2h0m7.3-.2h0m2.8 .5h0m0 .9h0m2.8 0h0m0-.7h0m3.8 .6h0m1.2-1h0m2.7-.3h0M60.1 241h0m2.2 .5h0m13.7 .1h0m2.2-.6h0m9.8 0h0m2.8 .5h0m3 0h0m1.7-.3h0m1.4 1.8h0m1.2-1.4h0m5.4-.3h0m2.8-.4h0m2 .1h0m1.2 1.5h0m1.1-1.1h0m.7-.1h0m2.1-.2h0m3.4 .1h0m2.5 .4h0m.7 1.4h0m-60.9 .2h0m2.4 .7h0m3.1-.4h0m1.6-.2h0m3.3 .4h0m2.4-.1h0m2.6-.3h0m.7 1.9h0m1.3-1.8h0m18.5 .5h0m4.8-.8h0m2.3 .9h0m2.9-.6h0m2.6 .1h0m2.8 .3h0m2.3-.2h0m2.8-.1h0m-57.3 2.3h0m2.5 .1h0m1.6 .3h0m2.8-.1h0m2.7-.7h0m2.1 .2h0m3.5-.1h0m20.5 .5h0m1.9-.4h0m5.2-.3h0m2.8 .9h0m2-.3h0m-44 2.5h0m5.1-.7h0m1.9 .7h0m3.4-.1h0m1.6-.1h0m2.5-.2h0m16.3-.1h0m2.5-.2h0m1.3 2h0m1.1-1.3h0m2.1-.5h0m1.6 1.7h0m1.5-1.2h0m2.5-.3h0m-36.9 2.5h0m1.6-.3h0m3.3 0h0m20.4 .3h0m5.2 .1h0m4.8-.6h0m-34.3 2.1h0m2.3-.2h0m3.1 .8h0m19.5-.4h0m2.9-.1h0m2.5 .3h0m-27.1 2.3h0m1.8 1.4h0m1.8-1.9h0m17.8 0h0m2 .2h0m2.5-.5h0m-21 3h0m.3 1.4h0m4.7-1.2h0m12.6-.8h0m1.9 .7h0m3.1-.4h0M80.4 259h0m2.8-.4h0m2 .1h0m8.4 .8h0m5.2-.6h0m-19.5 2.5h0m2.6 .2h0m2.5-.5h0m2.7 .1h0m4.6 .1h0m2.7 .3h0m-11.5 2.1h0m2.7 .1h0m2.8-.8h0m2.5 .6h0m3-.3h0m-9.1 2.4h0m2 0h0"/><path d="M104.8-105.3h0m-58.3 8.7h0m75.3 15.8h0m3.2 5.9h0m14.3 36.5h0" stroke="#bba5e0"/><path d="M-32.3-131.6h0m83.2 .1h0m25.6 0h0m-5.1 3.7h0m15.2 4.7h0m2.5 .5h0m-131.9 8.7h0m38-.7h0m30.2 .5h0m-.1 3.9h0m70.8 2.4h0m5 .7h0m-5.2 4h0m8.9 7h0m6 2.1h0m.5 4h0m7.7 .1h0M25.9-88h0m22.5 0h0m-4.2 4.4h0m64.2 2.3h0m-61.1 4.5h0m58-2h0m16.3 2.5h0m-88.4 6.6h0M98.4-68h0m30.7 0h0m-29.2 6.3h0m-73 3.1h0m91.7 .1h0m12.9-.3h0m-2.5 3.7h0m8.1 1h0M19.3-50.6h0m1.8-1.6h0m1.7 .2h0m1.3 2h0m-4.2 .9h0m1 .7h0m61 .2h0m55 .9h0M24.5-45.5h0m10.3 0h0m17.7 .1h0m38.5-.4h0m11.2 2.4h0m35.1 1.4h0m-32.1 7.2h0m33.6 2.7h0m4.1 5.8h0m-18.8 2.1h0m-18.8 2.7h0M135-22h0m5.8 2.3h0m-33.4 2.3h0m-11 2.1h0m19.8 .1h0m20.5 5.1h0m4.4 2.1h0m-1 8.9h0m8.5-.6h0m-32.4 3h0m1.3 1.3h0m12 2.8h0m17.1-.2h0m-39.5 2.5h0m22.4 2.3h0m7-.6h0m16.8 2.1h0m-29.2 11.1h0m21.7-1.7h0m9 15.1h0m5.3 4.7h0m5.7 6.1h0M88.3 95.5h0m8 8.9h0m-35.6 39.4h0m-92.8 22.4h0m-44.4 4.8h0m34 2h0" stroke="#b498e4"/><path d="M5.9-145.1h0m29 2.5h0m40.5 8.6h0m-57.5 2h0m46.3 4.4h0m-105 .3h0m120 4.1h0m6.8 2.8h0m-130.3 3.5h0m129.6 .9h0m2-2.4h0M-62.4-112h0m41.4 0h0m70.5-.4h0m-72.6 7.3h0m12.9 .2h0m13.2-.6h0m91.8 .5h0m2 3.9h0m-86 4.8h0m92.3 1.9h0m1.5 2.1h0m10.4-.3h0m7.6 8.9h0m-93 3h0m8.1-.6h0m12.2 .2h0m70.3 2h0m-11.4 7.2h0m-57.6 5.8h0m20.5 .2h0m25.5 .5h0m-55.3 1.9h0m92-.5h0M20.6-53.2h0m109.2 .6h0M21.6-50.1h0m54.1-.6h0m-177.1 2.5h0m123.2-.7h0m2 1h0m83.8-.4h0m-88.4 2.8h0m.3-.2h0m2.5 0h0m-130.3 4h0M22.4-42h0m3.6-1.4h0m-2.2 4.5h0m39.8-.6h0m71.8-.2h0M22.9-32.9h0m4.3 .2h0m42.7 .2h0m-41.6 2.1h0m-139.8 4.8h0M27-28.5h0m28.9 2.7h0m83.2-1.3h0m-109.6 3h0m74.5 .8h0m-9.4 2.1h0m42.9 .2h0m2.9 3.9h0m3.9 2.1h0M45-10.2h0m103.1 2h0M47.1-6h0m102 4.1h0m-22.2 4.6h0m-16.6 1.8h0m42.3 8.3h0m1.8-.3h0m-42.1 5.9h0m3.7 1.7h0m11 4.7h0m19.7 8.5h0m16 .8h0M22 37.9h0m-8.1 4.2h0m131.2-1.4h0M-4.6 44.9h0m11.1-.3h0m9 .1h0m2.7 .4h0m-30.6 4.1h0m7.1-1.2h0m3.2 1.1h0m.9-1.9h0m162.7 2h0m-1.5 2.4h0m7.9 .3h0m-68.2 5.6h0m3.6 .7h0m56.8-2.6h0m1.6 5.1h0m-204.5 1.4h0m136.2 11h0M90 89.3h0M87.3 93h0m4.3 .1h0m-6.1 6.5h0m6.4-2h0m-1 7.3h0m-5.6 16.6h0m-29.2 28.8h0m3.7 3.1h0M-119 163.6h0m98.7 5h0m18.2-.2h0m20.5-.5h0m-47.8 2.6h0m23.3 .2h0m-50.6 2.3h0m15.1 1.9h0m-6.3 .9h0" stroke="#ab8be7"/><path d="M-.6-138.6h0m64.7 1.9h0m.9-2.1h0m-4 7.1h0m5.7-.1h0m-71 3.9h0m95.9 5h0m-10.2 4.3h0m-134.8 4.4h0m87.2-.2h0m53.6 0h0m-143 4.2h0m78.3-.1h0m1.9-1.5h0m2.7-.6h0m-52.6 3.1h0m120.1-.1h0m-86.4 3.6h0m-102.1 5.1h0m200.4-2h0m1.3 1.6h0m-4.6 2.8h0m-70.7 3.6h0m84.9 2.7h0m-90.1 1.7h0m15.4 .2h0m73.2 4.7h0m1.7 1.7h0m-72.5 7.1h0m13.8-2.7h0m53.8 0h0m14.6 .8h0m-105 5.7h0m98.8 .9h0m2.8-.6h0m3.3 2.4h0m-253.8 6.6h0M63-63.1h0m68.4-.6h0m-24.3 6.8h0m-88.2 5h0m1.3-.4h0m17 2h0m73-1.6h0m3.1 2.2h0m5.3-.3h0m-59.9 1.7h0m-36.3 4.7h0m115.7-.5h0m-118 2h0m22.4 1.3h0m2-.9h0m91.9-.1h0M23-39h0m117.6-.2h0M23.2-35h0m1-2.3h0m87.1 .1h0m-86.7 5h0M-149.8-30h0m174.6-.1h0m4.1 3.9h0m.9-1.5h0m2.2 2h0m65.7-.2h0m41.9-2.1h0M29.1-22.7h0m5.5-1.1h0m53.5-.1h0m41.4 .6h0m-96.9 1.7h0m2.2 2.8h0m6.3 5.6h0m1.4 2.3h0m2.4-.4h0m-5.1 .8h0M141.6-6h0m2.4-.2h0M46.2-2.1h0m2.2-1.7h0m3.1 .4h0m83.5-.2h0m15.5 3.7h0m-3.9 2.3h0m-96 2.7h0m81.7 2h0m19.5-1.8h0M50.6 7.6h0m1.3 1.6h0m91.7 .5h0m7.6 .4h0m.4-.5h0m-43.1 2.2h0m5-.6h0m38.8 .9h0m-98.8 1.8h0m53.4-.3h0m2 2.8h0m4.4 0h0m22.4-2.4h0m20.6 2.2h0m-102 2.4h0m99.2 0h0m3.3-.4h0m-48.4 2.2h0m41.5 .3h0M49.6 24.3h0m3.5-.5h0m62.7 1.4h0m15.1-.9h0m26.8 1.1h0m-35 2.1h0m-82.9 3.9h0m5.2-1.6h0m2.4 0h0m-15.6 4.1h0m6.7-1.4h0m121.1 .8h0m-125.1 3h0m100.7-.2h0M-180.1 39h0m206.2 1.1h0m1.4-2.2h0m6.7 .2h0m73.5 2.3h0m52.5-2.7h0m-178.7 5.1h0m29.8 0h0m6.8-2.1h0m1 .2h0m.2 1.2h0m-44.6 3.1h0m9.9 .4h0m11.7 .3h0m2.9 .1h0m5.5 .1h0m2.6-.9h0m1.6-.8h0m1.3 1.4h0m7.8-1.7h0m86.1 1.1h0m62.4-.3h0m-192.7 2.3h0m18.8 1.7h0m.9-.6h0m.4-1h0m1.8 2.1h0m1.8-.9h0m.2 .2h0m1.8-.3h0m5.8-1.3h0m1.2 0h0M14 47h0m92.6 0h0m50.7-.2h0m-192.9 7h0m191.5-.6h0m-194.2 5h0m197.1-.2h0m-57.2 2.7h0m-4.4 6.2h0m9.2-2h0m70.1 11.6h0M96.1 91.3h0m85.3-2.5h0m-.7 4h0M88 112.9h0m-20.2 35.8h0m-219.9 3.2h0M41 159.5h0m13.8-1.9h0m-66.3 8.4h0m31.9-2.2h0m8.5 .3h0m-131.4 3.8h0m74.4 .3h0m27.2-1.5h0m-43.1 3.7h0m-16.8 3.1h0" stroke="#a27eea"/><path d="M25.6-145.2h0m3.6 1.9h0m18.1 4.9h0m15.1 .1h0m-106.3 4h0m21-2.1h0m36 4.4h0m-50.2 2.3h0m3.9 1.9h0m24.7-1.9h0m-14.9 4.2h0m-32.3 2.9h0m3.8 1.4h0m80.4 6.4h0m-83.4 3h0m152.9-.4h0m-156.3 2.7h0m49.5 2.4h0m-38.3 3.5h0M93.4-98h0m-64 8h0m-6.5 6.2h0m89.6 .2h0m6.2-1.6h0m-93.8 8.8h0m95.6 2.2h0m1.9 0h0m3.8-2h0m-83.4 4.1h0m68 4.1h0m5.4 .6h0m-13 4.1h0m-71.4 4.5h0m25.8-.6h0m32.8 .7h0m29.7-2.7h0m3.5 2.8h0m-3.2 2.1h0m9.6 .1h0m-217.8 6.6h0m165.6-.1h0m50-2.4h0m-219.3 9.1h0m160.4-.2h0m29.2 1.7h0m5.3 .2h0m-78.1 2.3h0m1.4 1.1h0m-.5 2.8h0m.4-.8h0m64-.5h0M-97.9-33h0m156.1 .3h0m-30.7 3.5h0m-1.4 3.4h0m5.7 2.4h0M-149.7-21h0m184.2 3.8h0m3.7 .4h0m2.5 1h0m1.9 .9h0m-4.1 3.5h0m2.6 .5h0m0-1.9h0m56.6 .2h0M43.2-7.7h0m1.6-.6h0m0-1.9h0m2.1 2.5h0m-.4 3.9h0m.2 0h0m3.5 2.1h0m0 1.7h0m2.3-1.1h0m62.3 5.7h0m16.7 2.1h0m-16.7 2.2h0m36.3-1.1h0m1.6 2.1h0M116 12.1h0m37.4-1.6h0M53.3 15.9h0m1.4-.2h0m1.9-2h0m68.3 .6h0m-73.3 3.6h0m3.2-1.3h0m55.1 1.6h0m46.7-1.6h0m.6 0h0m-44.6 5.5h0m2.4 .2h0m41.8-2.5h0m-103 3.4h0m104.5-.1h0m-110 3.8h0m109.5 .1h0m3 1h0m-115 1h0m2.8 2.5h0m.8-2.9h0m84 2.8h0m29.9-.4h0M37 34h0m.2 .5h0m7.9-.3h0m.9-2h0m.6-.7h0m-18.7 4h0m2.9 .5h0m3-.4h0m1.8 .1h0m7.8-.2h0m-18.5 2.1h0m3.7 .5h0m3.1 .3h0M9.1 43.1h0m5.7-.9h0m.9-1.6h0m1.2 2.2h0m.2-.6h0m1.7 .2h0m.6 1.1h0m.1-.8h0m2-.3h0m.1 .5h0m9.8-2.4h0m74.8 1.7h0m20.5-.2h0m-145.1 1.8h0m1.3 2.1h0m.9-2.3h0m1.7 2.2h0m1.9-.3h0m2.9-1.2h0m10.2 .3h0M3 46.3h0m5.3-1.5h0m2.7 .3h0m.1-.9h0m4.4 .9h0m114.8 1.3h0m22.8-1.4h0M-7.6 49.4h0m3.2-.9h0m2.2 .2h0m6.7-1.2h0M8.2 49h0m.6-1.9h0m145 2.1h0m4.4-.4h0m1.9-1.9h0m-164 4.9h0m4.2-2.3h0m-14.1 6.6h0m171.5 4.3h0m7.2-1.7h0m.2 2h0m1.4 2.2h0m4.9-.9h0m1.8 5.3h0m.6 1.3h0m1.4 1.9h0m.5 4.3h0m4.1 5.7h0m.2 2.5h0m-.1 5.9h0m1.6 2.3h0m-92.1 1.9h0m93.3 4.2h0m1.3-2.5h0m-.1 3.8h0m-.2 3.2h0m-104 9.2h0m1.9 .4h0m3 .1h0m103.8-1.1h0m2.6 4.3h0m-100.5 3.2h0m91.3 1h0m6.9-.4h0m-102 5.9h0m104.9-1.9h0m-110.9 4.3h0m-4.3 6.7h0m-.4 2.2h0m-13.7 12.4h0m-238.6 8.4h0m223 2.8h0m9.8-.3h0m128.4 0h0m.3 1.1h0m2.4-.5h0m1.7-1.4h0m-5 2.7h0m1 2.1h0m-187.2 1.3h0m43.1-.6h0m145.6 2.2h0m-1.9 5h0m-232.5 1.8h0m229.1 .8h0m2.3 .4h0m-4.5 4h0m-.4 1.2h0m-1.7 2.7h0m1.1 .8h0m-25.2 6.4h0m21.5 .5h0m-16.4 5.7h0m4.1 9.6h0m-3.6 1.3h0m-6.4 3.6h0m-8 6.6h0m-3 4.1h0m-73.9 3h0m70.8-.8h0m1.9-.5h0m-.5 2.4h0m-4.7 4.6h0M86 230.4h0m42.9-.3h0m2-.2h0M74.5 235h0m2-.6h0m43.9 2.4h0m-61.1 2.3h0m2 .1h0m22.4 2h0m34.9-.7h0m-13.6 2.9h0m-36.2 5h0m11 3.7h0m18.6 2h0m-16.5 7.5h0m3.7 2.2h0" stroke="#9870ed"/><path d="M31.8-143.3h0m7 2.9h0m17.2-.7h0m13.1 .8h0m-100.9 5.8h0m57.8 2.8h0m-28.5 9.2h0m-39.5 2h0m-46.1 3.7h0m105.5 .9h0M-91.8-114h0m77.6 1.5h0m1.8-1.6h0m-80.4 2.2h0m58.2-.3h0m78 2.3h0M-4.4-92.1h0m64.1 6.9h0M34.5-67.8h0m92.1-.2h0M23.5-65.3h0M98-63h0m11.7 1.8h0m-228.9 4.8h0m227.6 10.5h0m-198.2 4.1h0M138-35.7h0m-86.4 1.5h0m16.1 1.3h0m-164.5 2.1h0m148.6 0h0m46.7 3.1h0m-66 3.2h0m1.6 4.3h0m2.5-.2h0m.9 .8h0m62.7-2.2h0m17.5 .6h0m-80.2 6.1h0m4 1h0m67.2 3.3h0M41-8.6h0m2.8 1.7h0m.8 .4h0m2.4 .3h0m.2 4.5h0M50.1-3h0M144-1.8h0M47.6 .3h0m1.5-.1h0m2.5 .7h0m98.1 3.3h0m-98.6 .5h0m2.4 2.7h0M113 5h0m37 .9h0m3.3 3h0m-.4 5.2h0m1.1 1.6h0m1.5-1.6h0M115 18.8h0m-62.3 1.8h0m.3 .2h0m100.7 1.4h0m-4.3 2.7h0m7.3-.2h0m2.1-.1h0M51.7 27.1h0m109.2 .9h0M42.3 29.5h0m2 1.9h0m.6-.8h0m0-1.2h0m.2 2h0m2.3-2.6h0m.9 0h0m99.1 .9h0m3.6 1.7h0m7-1h0M40 34h0m1 .1h0m0-1.8h0m.5-.6h0m.9 2.1h0m1.1-2.1h0m4.1 1.5h0m110.8-.3h0m1.8 1.5h0m4.3-.2h0M25.9 36.4h0m5.6 .5h0m6.2-1.2h0m5-.7h0M161 36.8h0m2.8-.6h0M22.7 40.5h0m.9-.3h0m.2-.1h0m6.4-1.8h0m.3 .8h0m2.7 .8h0m.2-1h0m3.5-1.1h0m74.1 .4h0m40.3 2.1h0m8.7-2.1h0m1.7-.5h0m2.1 1.2h0m-177.7 3.2h0m38 .4h0m3.3-1.5h0m135.5-.5h0m-178.8 4.6h0m6.1 1h0m1.8 .2h0m4.6-.1h0m9.3-1.4h0m3.2 .6h0m1.2-.8h0m3 .1h0m.5-.2h0m146.7 .1h0m5.6 .4h0m1.6-.5h0m-186.5 2.8h0m9.8 .5h0m.4 .2h0m8.2-.5h0m1.8 1.7h0m.5-2.3h0m.9 .9h0m.2 .9h0m158.3 .1h0m-25 3.3h0m28.7-1.3h0m1.7 0h0m-207.6 2.6h0m209.2 1.3h0m2-1.9h0m.6 1.3h0m-4.6 3.5h0m4.1 2h0m-2.7 4.4h0m1.9 .4h0m-1.8 .2h0m3.2 2.1h0m-65.1 1.8h0M174 68h0m-.7 4.7h0m-75.5 7.6h0m79.1 1.7h0m.6-2.5h0m1.2 .8h0M93.2 91.5h0m8.1-.6h0m78.5-.9h0m2.9 1.1h0m-1 2.8h0m1.5 2.2h0m.4 4.9h0m2.4 2h0m.8 2.9h0m-93.3 2.5h0m92.7 .7h0m1.2-2.4h0m.8 1.5h0m0 3.6h0m0 .6h0m2.2 .1h0m-1.6 1.7h0M83.5 118h0m5.2 .1h0m99.8-1.2h0m2.2 .2h0m-1.3 1.5h0m1.4 2.4h0m1.6 8h0m-114.5 2h0m112.9-.4h0m1.8 1.4h0M58.9 150.9h0m3.1-.5h0m-9.4 6.1h0m136 .2h0M48.8 159h0m136 7.1h0m-4 6.6h0m4.5 .7h0m-7.6 5h0m3.9-2.4h0m-5.1 4h0m1.9 4.4h0m.9-2.4h0m-4.3 4.5h0m-4.4 3.3h0m.9-1.4h0m-3.3 5.2h0m3.2 2.2h0m.8-2.1h0m-4.7 3.2h0m2.4 .6h0m-10.7 4.3h0m-13.1 12.8h0m.7 1.1h0m1-.9h0m.5 1.7h0m-4.4 3h0m2.3 .3h0m2-1.8h0m-88.6 6.3h0m73.9 1.4h0m2.4-.3h0m1.9-.9h0m1.1-.5h0m-80.1 4.5h0m14.3-.6h0m59.6 .2h0m2.8-.5h0m.9 .1h0m.9 .1h0m-5.3 1.7h0m-70.4 5.3h0m16-1.8h0m4.7-.1h0m.9-.3h0m38.4 2h0m3.1-.6h0m3.8-.2h0m1 .4h0m-72.4 2.3h0m23.3-.2h0m38.3 .9h0m3.1-.7h0m1.2-.3h0m-32.2 5.3h0m17.5-.5h0m5.7-1.1h0m-38 1.7h0m13.1 2.3h0m13 .1h0m6.2-2.4h0m.7 2.3h0m1.4-2.3h0m1 2.1h0m3.9-1.6h0m-34.7 12.5h0m13.8 7h0" stroke="#8d63f0"/><path d="M-64.8-116.8h0m101.1 11.4h0M-72.9-103h0m45.9-.2h0m-95 10.6h0m25.5 14h0m3.4 6.4h0m15.9 8.7h0m-75.2 6.9h0m43 35.1h0m263.9 37.6h0m2 1.8h0m-.9 3.2h0m2.7-.9h0m1.1 1.9h0m-7.7 2.9h0M50.3 27.8h0m75.3-1h0m33.8 4h0m2.5 3h0m.8-1.8h0m-132 4.8h0m1-.4h0m2.5-.3h0m.8-.8h0m1.7 .8h0m1.8 .1h0m.3-1.4h0m2.4 1.5h0m124-.3h0M26.3 38.9h0m.4-.2h0m1.9 1.5h0m135.3 .2h0M20 42h0m2.6-.1h0m146.2 .5h0m-181.3 3.9h0M163 44.8h0m3.1 1h0m-177.4 1.3h0m1.9 1.8h0m1-1.6h0m175.6 .8h0m3.6 .4h0m-8.2 1.1h0m8.6 .3h0m.8 1.7h0m-6.3 4.8h0m2.6 1.6h0m2.8-.3h0m1.9-1.6h0m-4.6 6.4h0m1.1 1.3h0m3.8-1.8h0m-2.1 2.6h0m0 3.9h0m2 1.7h0m1.4 .3h0m2.3 3.5h0m.8 1h0m2.8 9.8h0m4.9 20h0m3 1.2h0m-.2 2.8h0m3 12.4h0m-1.2 2.6h0m2.5 .9h0m.5 .3h0m-1.6 5.1h0m3.2 5.7h0m-4.9 4.8h0m1.2 1.4h0m1.8 1.8h0m-3.2 3.9h0m-.9 3.3h0m1.9-1.7h0m.4 4.6h0m-3.3 2.4h0m3.3 1.8h0m-4.6 7.9h0m-3.9 4.9h0m1.5 3.6h0m-1.2 1.8h0m-3.4 3.2h0m-6.3 6.4h0m3.6-1.2h0m.7 3.8h0m-9.8 3.1h0m1.2 3.1h0m.5 1.7h0m-5.3 1.6h0m-1.6 3.5h0m1.1 .8h0m-5.5 1.8h0m-1.1 2h0m1 2.3h0m2.7-.7h0m1.4-2h0m-8.1 3.1h0m2.2 .1h0m-9 4.6h0m4.5 .7h0m-8.5 3.3h0m.5-1.2h0m-3.3 4.1h0m-71.1 .4h0m1.7 2.3h0M59 226.3h0m15.4 .1h0m61.2-2.8h0m0 2h0m2.6 0h0m-53.7 5h0m-27.1 4h0m26.3-1h0m34.3 4.5h0m.6 .1h0m3.4-.9h0m0 .8h0m1.8-1.4h0m1.9-1.1h0m-69.3 4.8h0m28.1-1.4h0m29.9 2.4h0m.8-.1h0m6.1-1.4h0m-63.2 1.8h0m.9 2.7h0m.9-2.1h0m53.6 1.3h0m-54.9 3.8h0m.3-2h0m29.5 .3h0m19.1-1.2h0m.1 2.9h0m2.6-2.1h0m-48.4 3.1h0m-.7 3h0m.7 .5h0m1.5-.6h0m11.4 1.5h0m17.4 .1h0M69.9 256h0m6.2-1.6h0m-7.2 2.3h0m2.4 2h0m7.1-.9h0m.7-1h0m9.1 2.6h0m4.6 .1h0m1.8-1.2h0m2.3-1.1h0m3.1-.4h0m-20.6 3.6h0m5.8 .8h0m1.9 0h0m2.5 .2h0" stroke="#8056f3"/><path d="M-60.8-123.5h0m26.3 7.2h0m-5.1 12.9h0m13.2 4.1h0m-98 11.8h0m7.5 12.5h0m-27 16h0m50 11.5h0m-45.9 21.8h0m297 48.1h0m1.8 1.5h0m.1 4.1h0m1.2-1.2h0m1.1 .3h0m-1.1 3.7h0m1.4-.2h0M35.7 35h0m4-.4h0m121.8 .3h0m5.2 3.5h0m-2 3.8h0m2.2 .1h0m-5.5 3.5h0m8.2 .1h0m-4.5 1.8h0m1 4.1h0m.6 1.9h0m3.8 2.2h0m1.3 7.9h0m-3.2 1.6h0m2.2 .4h0m3.4 6.4h0m2.5 5.3h0m1.1 1.8h0m.5 5.6h0m3.8 5.1h0m.7 3.1h0m1.7 9.4h0m3 1h0m-1.4 1.7h0m.1 5.2h0m2.4 3.9h0m2.5 12.8h0m1.7 6.5h0m-3.2 9.2h0m2.7 3.9h0m1.5-.1h0m-3 3.3h0m-3 2.6h0m2.5 0h0m1.9 1h0m-.5 2.3h0M-30 161.6h0m216.9 .6h0m-3 5.9h0m1 .2h0m.7-.1h0m-.1 4.2h0m-1.7 .2h0m-3.5 7.1h0m-2.2 6.6h0m-6.7 5.2h0m-5.9 7.9h0m2.8-.4h0m.4-1.2h0m-7.4 4h0m1.8-1.9h0m3.8-.3h0m-11.9 6.9h0m-5.2 3.9h0m6.4-1.8h0m.4 1.3h0m-10.9 8.1h0m-6.1 3.8h0m-67.7 2.3h0m.1 1.2h0m.7 .9h0m-6 4h0m5.5 .4h0m53.9 1.8h0m4.9-.9h0m-46.9 3.2h0m36.3 .6h0m6.1-.6h0m-70.1 1.9h0m.6-.4h0m26.3 .6h0m5.9-1h0m30.1 2h0m5.2-.3h0m1-1.4h0m-66.3 3.3h0m19.9 0h0m1.9 1.5h0m22.5 .4h0m2.8-.4h0m9-2.3h0m1.1 .9h0m1.7 .7h0m-46.2 3.4h0m2.6-.3h0m8-.3h0m4.3 .2h0m25.1 .1h0m.8 .8h0m-52.8 2.6h0m.2-.2h0m19.8 1h0m3-2h0m23.6 .7h0m5.4-.6h0m.8-.1h0M61 250h0m2.9 .4h0m37.3-.8h0m1.8 .4h0m-42.8 .6h0m3.4 2.3h0m1.5-.6h0m6.5-.3h0m22-1.4h0m6.5 1.2h0m3.8-.7h0m-35.8 5.4h0m24.9-.4h0m3.1-.3h0m1.9 0h0m-28.7 2.6h0m1.7-1.2h0m2.7 .1h0m2.8 .8h0m2.2 0h0m10.7-.1h0m3.4-.6h0m3.7 0h0m-21 3h0m1.7 .2h0m.1-.7h0m4.3 .5h0m.2-.3h0m.8 1.4h0m.2-.2h0m1.6-.2h0m6.4-1.6h0" stroke="#7248f6"/><path d="M-135.9-94h0m66.4 21.5h0m-91.8 9.1h0m322.3 96h0m2.1 2.1h0m-2.4 4.1h0m5.2 1.2h0m2 .8h0m-3.5 5.2h0m-1.8 1.8h0m.5 4h0m4.6 .1h0m.9-1h0m-1.4 5.7h0m1 4.2h0m4.7-.3h0m2.9 17.8h0m3.8 8.8h0m9.3 27.9h0m2.6 2.8h0m-1.3 4.9h0m3.1 11.4h0m-2.4 4.1h0m1.6-1.3h0m.4 3.4h0m-4.2 13.8h0m-2.3 3.1h0m4.1-1.4h0m-.6 4.6h0m-.4 2.3h0m-4 1.6h0m2.9 1.5h0m-4.9 6.2h0m-3.5 4.2h0m2.7 2.8h0m-9.1 5.2h0m2.1-1.5h0m-2.5 5h0m3.5 .4h0m-2.2 4.1h0m-9.2 3.9h0m1.1-2.6h0m1.3 2.1h0m-1.3 1.8h0m0 3.2h0m-10.2 3.8h0m4.3-1h0m.2 0h0m-7.4 4.9h0m-5.1 3.7h0m1.7 2.2h0m1.8-2h0m.3 .8h0m1.5-1.5h0m-90.2 7.4h0m76.7 1.2h0m5.1-1.8h0m-79.6 3.4h0m77.9-.2h0m.5-.9h0m-83.7 3.2h0m10.1 3.9h0m4.8 .9h0m58.8 .8h0m-51.4 1.3h0m49.7 1.2h0m-47.3 2.4h0m-29 3.2h0m2 .6h0m20.5-.7h0m38.4 .8h0m2.8 .1h0m-8.3 3h0m8.9-2.1h0m-62.1 3.5h0m6.5 .8h0m44.9-1h0m2.9 1.8h0m.8-2.1h0m1.7 .4h0m.3 .2h0m-57.3 2.5h0m2.7-.7h0m17.4 .6h0m7.5 .9h0m5.4 3.9h0m6.6-1.6h0m7.3-.2h0m1.3 .1h0m2.6-.4h0m-39.4 4.3h0m20.3 .3h0m11 .1h0m1.4-1.2h0m1.4-.2h0m1 .2h0m1.1-.8h0m-40.8 3.8h0m.2-.7h0m3-.1h0m10.4 1h0m17.5 1.7h0m3.2-2h0m.5-.5h0m-25.8 4.6h0m12.8 .9h0m1-1h0m.5 .5h0m1.4-.2h0m3-1h0m.2 1.1h0m-8 1.8h0m2.1-.2h0m-3.8 3.4h0" stroke="#6139f9"/><path d="M190.3 126.3h0m.5 2.2h0m2.2 1.2h0m1 9.8h0m-3.9 2.9h0m1.3-.6h0m-.6 2.2h0m-.1 3.9h0m1.4 1h0m.8 1.4h0M174 187.9h0m-5.1 4.3h0m1.6 2.2h0m-9.7 5.2h0m4.7 2.6h0m-8.1 3.4h0m-47.2 41h0m-48.9 2h0m40.4 4.8h0M75 258.8h0" stroke="#4c28fb"/><path d="M55.7-45.2h0m136 179.5h0m-.6 3.5h0m3.1 5.2h0" stroke="#2b12fe"/></g>
<g transform="translate(1034.9 1064.3)" stroke="#d3d3d3" stroke-width="4.8" stroke-linecap="round" fill="none"><path d="M10-136.2h0m11 0h0m11 0h0m-71.5 9.5h0m11 0h0m11 0h0m33 0h0m-93.5 9.5h0m11 0h0m11 0h0m11 0h0m11 0h0m11 0h0m11 0h0m-82.5 9.6h0m11 0h0m11 0h0m33 0h0m11 0h0m-71.5 9.5h0m11 0h0m11 0h0m77 0h0m11 0h0m-137.5 9.5h0m44 0h0m99 0h0m11 0h0m11 0h0M-122-79.1h0m-5.5 9.6h0m11 0h0m231 0h0M-155-60h0m33 0h0m11 0h0m11 0h0m-60.5 9.5h0m55 0h0m-60.5 9.6h0m11 0h0m55 0h0m-49.5 9.5h0m11 0h0m33 0h0m-27.5 9.5h0m11 0h0M98 92.4h0m-5.5 9.5h0m-5.5 9.6h0m-253 38.1h0" stroke-width="18"/><path d="M2-139.7h0m6 0h0m6 0h0m6 0h0m6 0h0m6 0h0m6 0h0m6 0h0m-75 5.2h0m6 0h0m6 0h0m6 0h0m6 0h0m6 0h0m6 0h0m6 0h0m6 0h0m6 0h0m6 0h0m6 0h0m6 0h0m6 0h0m6 0h0m6 0h0m6 0h0m-117 5.2h0m12 0h0m6 0h0m6 0h0m6 0h0m6 0h0m6 0h0m6 0h0m6 0h0m6 0h0m6 0h0m6 0h0m6 0h0m6 0h0m12 0h0m6 0h0m6 0h0m6 0h0m6 0h0m6 0h0m6 0h0m-159 5.2h0m6 0h0m6 0h0m6 0h0m6 0h0m6 0h0m6 0h0m6 0h0m6 0h0m6 0h0m6 0h0m6 0h0m6 0h0m18 0h0m6 0h0m6 0h0m60 0h0m-165 5.2h0m6 0h0m6 0h0m6 0h0m6 0h0m6 0h0m6 0h0m6 0h0m6 0h0m6 0h0m6 0h0m6 0h0m6 0h0m18 0h0m6 0h0m6 0h0m6 0h0m60 0h0m-177 5.2h0m6 0h0m6 0h0m6 0h0m6 0h0m6 0h0m6 0h0m6 0h0m6 0h0m6 0h0m6 0h0m6 0h0m6 0h0m6 0h0m6 0h0m30 0h0m6 0h0m-129 5.2h0m6 0h0m6 0h0m6 0h0m6 0h0m6 0h0m6 0h0m12 0h0m6 0h0m6 0h0m6 0h0m6 0h0m6 0h0m18 0h0m12 0h0m12 0h0m-129 5.2h0m6 0h0m6 0h0m6 0h0m6 0h0m6 0h0m6 0h0m6 0h0m18 0h0m6 0h0m6 0h0m6 0h0m24 0h0m6 0h0m6 0h0m6 0h0m90 0h0m-225 5.2h0m6 0h0m6 0h0m6 0h0m6 0h0m6 0h0m6 0h0m6 0h0m6 0h0m6 0h0m6 0h0m12 0h0m42 0h0m6 0h0m6 0h0m6 0h0m6 0h0m-141 5.2h0m6 0h0m6 0h0m12 0h0m6 0h0m6 0h0m6 0h0m6 0h0m6 0h0m66 0h0m6 0h0m6 0h0m6 0h0m6 0h0m6 0h0m6 0h0m6 0h0m6 0h0m72 0h0m-255 5.2h0m6 0h0m6 0h0m6 0h0m6 0h0m18 0h0m6 0h0m6 0h0m6 0h0m6 0h0m6 0h0m72 0h0m6 0h0m6 0h0m6 0h0m6 0h0m6 0h0m6 0h0m78 0h0m-261 5.2h0m6 0h0m6 0h0m6 0h0m6 0h0m6 0h0m18 0h0m12 0h0m6 0h0m6 0h0m6 0h0m84 0h0m6 0h0m6 0h0m6 0h0m6 0h0m6 0h0m6 0h0m6 0h0m54 0h0m6 0h0m-273 5.2h0m6 0h0m18 0h0m6 0h0m6 0h0m6 0h0m36 0h0m102 0h0m18 0h0m6 0h0m60 0h0m6 0h0m6 0h0m-279 5.2h0m6 0h0m18 0h0m6 0h0m6 0h0m6 0h0m36 0h0m102 0h0m6 0h0m78 0h0m6 0h0m6 0h0m6 0h0m-285 5.2h0m6 0h0m6 0h0m12 0h0m6 0h0m6 0h0m6 0h0m6 0h0m36 0h0m96 0h0m6 0h0m6 0h0m12 0h0m60 0h0m6 0h0m6 0h0m6 0h0m6 0h0m-291 5.2h0m6 0h0m6 0h0m6 0h0m24 0h0m6 0h0m6 0h0m6 0h0m6 0h0m6 0h0m6 0h0m102 0h0m6 0h0m48 0h0m6 0h0m24 0h0m6 0h0m6 0h0m6 0h0m6 0h0m6 0h0m-297 5.2h0m6 0h0m6 0h0m6 0h0m24 0h0m6 0h0m6 0h0m6 0h0m6 0h0m120 0h0m54 0h0m6 0h0m6 0h0m30 0h0m18 0h0m-303 5.2h0m6 0h0m6 0h0m6 0h0m6 0h0m18 0h0m18 0h0m6 0h0m6 0h0m120 0h0m42 0h0m18 0h0m30 0h0m-279 5.2h0m6 0h0m6 0h0m18 0h0m30 0h0m6 0h0m6 0h0m6 0h0m114 0h0m24 0h0m18 0h0m18 0h0m-255 5.2h0m6 0h0m6 0h0m6 0h0m12 0h0m6 0h0m24 0h0m6 0h0m6 0h0m6 0h0m114 0h0m-195 5.1h0m6 0h0m6 0h0m6 0h0m6 0h0m6 0h0m6 0h0m6 0h0m18 0h0m6 0h0m6 0h0m6 0h0m180 0h0m-255 5.2h0m6 0h0m6 0h0m6 0h0m6 0h0m6 0h0m6 0h0m6 0h0m6 0h0m6 0h0m6 0h0m6 0h0m174 0h0m18 0h0m6 0h0m-261 5.2h0m18 0h0m6 0h0m6 0h0m6 0h0m6 0h0m6 0h0m6 0h0m6 0h0m138 0h0m60 0h0m6 0h0m-249 5.2h0m6 0h0m6 0h0m6 0h0m6 0h0m6 0h0m6 0h0m192 0h0m60 0h0m3 5.2h0M47-9.8h0m90 0h0m6 0h0m-9 5.2h0m6 0h0m6 0h0M131 .6h0m-15 5.2h0m6 0h0m6 0h0M113 11h0m18 0h0m12 0h0m-321 5.2h0m291 5.2h0m42 0h0m-333 5.2h0m300 0h0m24 0h0m6 0h0m-333 5.2h0m324 0h0m6 0h0M-178 37h0m342 0h0M-34 47.4h0m6 0h0m6 0h0m6 0h0m6 0h0m174 0h0m-195 5.2h0m6 0h0m6 0h0m180 0h0m-195 5.2h0m198 0h0m-60 10.4h0m-3 5.2h0m6 0h0m-9 5.2h0m6 0h0m-3 5.2h0M98 89h0m6 0h0m-9 5.1h0m6 0h0m-15 5.2h0m6 0h0m6 0h0m-15 5.2h0m6 0h0m6 0h0m-15 5.2h0m6 0h0m6 0h0m-15 5.2h0m6 0h0m6 0h0m-273 5.2h0m264 0h0m6 0h0m-270 10.4h0m0 10.4h0m6 0h0m-3 5.2h0m6 0h0m6 0h0m6 0h0m6 0h0m-21 5.2h0m6 0h0m6 0h0m6 0h0m6 0h0m-9 5.2h0m6 0h0m6 0h0m3 5.2h0m108 10.4h0m6 0h0m117 67.5h0m-3 5.2h0m6 0h0m6 0h0M77 250h0m6 0h0m6 0h0m-9 5.2h0m6 0h0m6 0h0m-3 5.2h0" stroke-width="10"/><path d="M15.9-149h0m1.8-.3h0m12.8 .1h0m-28.7 2.3h0m2.2-.5h0m2.7 .5h0m2.9 .1h0m9.7-.2h0m7.3-.3h0M.1-145.4h0m2.9 .6h0m2.9-.3h0m1.5-.4h0m3.3 .7h0m2.5-.2h0m2.6-.5h0m2.7-.1h0m2.5 .9h0m2.6-.1h0m2-.4h0m2.9 .5h0m1.9-.9h0m3.5 .4h0m2.2 .5h0m4.6-1h0m2.6 1.1h0m-46.7 2.1h0m2.4-.3h0m2.6 .2h0m3.1 0h0m2.4-.1h0m2.6-.3h0m2.1 .1h0m2.7 .1h0m2.6-.6h0m2.1 .7h0m3.2-.1h0m2.2-.1h0m2.5 .5h0m2.1-.9h0m2.6 0h0m3.1 .7h0m2.7-.5h0m1.9-.1h0m3 .1h0m2 .6h0m2.9-.3h0m3.1 .2h0m4.6 .2h0m2.8-.8h0m2.3 .6h0m-77.6 1.6h0m5.5 .1h0m1.6-.2h0m2.8 .7h0m2.3-.4h0m2.7-.5h0m48.7 .7h0m3.1-.4h0m1.5-.1h0m3.1 0h0m2.1 0h0m2.6-.2h0m3.5 .6h0m2.3-.1h0m1.8 .3h0m2.9 .2h0m-102.8 1.8h0m4.3-.1h0m3-.1h0m2.2-.2h0m2.9 .8h0m2.5-.1h0m2.3-.1h0m2.3-.3h0m3.5-.4h0m2.2 .8h0m2.2-.2h0m2.9 .1h0m2.8-.3h0m47.9 .2h0m2.2-.1h0m3.4-.1h0m2.1-.2h0m2.8 0h0m2.7 .2h0m1.9 .3h0m2.6-.5h0m2.6 .7h0m2.7-.4h0m5.3-.6h0m-111 3.2h0m2.5-.2h0m5.7 0h0m4.3-.3h0m7.5 .4h0m5.6-.2h0m4.6-.4h0m2.4 0h0m54.4 0h0m2.2 .1h0m3-.3h0m1.9 0h0m2.8 .7h0m2.6-.6h0m2.1-.1h0m3.5 .5h0m2.3 .1h0m2.7-.5h0m-128.8 2.9h0m10.2-.5h0m2.6-.2h0m2.3 .6h0m2.4-.3h0m2.8 .5h0m101.6-.6h0m2.9 .1h0m2.4-.5h0m2.3 .7h0m2.6-.3h0m2.9 .7h0m-149.4 2.2h0m5-.9h0m3 .6h0m5 0h0m2.5-.3h0m2.8-.4h0m1.7 0h0m2.7 .2h0m2.7 .5h0m81.9 .2h0m30.2-.2h0m2.3-.5h0m2.8 .7h0m2.4 0h0m2.7-.9h0m2.5 .8h0m2.3-.4h0m-161.5 2.6h0m7.6 .2h0m5-.3h0m2.3-.2h0m2.7-.5h0m2.9 .1h0m2.2 .1h0m5.5 .7h0m2.7-.3h0m83.6 .1h0m3-.1h0m43.3-.6h0m-166.9 2.8h0m1.9 .2h0m2.7-.3h0m3.3-.2h0m2.1-.1h0m2 .1h0m3 .7h0m2.4-1h0m2.5 .1h0m2.5 .1h0m2.7 .3h0m2.6 .5h0m56.3-.1h0m5.6-.1h0m22.9-.6h0m5 .3h0m2.4 .3h0m2-.2h0m2.5-.3h0m5.7 .5h0m2.3-.2h0m2.7 0h0m7.4-.2h0m2.1 .4h0m3.2-.4h0m2.8 .6h0m4.4-.8h0m5.8 .7h0m7.5-.4h0m-170 2h0m2.9 .6h0m7.2-.9h0m71.5 .2h0m2.5 .5h0m3.3-.2h0m1.7-.1h0m2.7 .1h0m20.9-.1h0m2.2 .7h0m2.9-.4h0m2.6 0h0m4.6-.3h0m3.1 .5h0m1.7-.1h0m3.3-.7h0m2.6 .8h0m2.6-.8h0m2.7 .3h0m2.1 .7h0m3-1h0m1.8 .2h0m2.7-.2h0m2.8 .4h0m2.3 .3h0m2.4 .1h0m2.7-.3h0m2.4-.5h0m7.7 .2h0m2.8 .7h0m2.5-1h0m-179.7 3.1h0m2.5 .2h0m2.6-.8h0m1.9 .2h0m79.3 .6h0m5.7-1.1h0m5 .1h0m17.4 .3h0m3.2 .3h0m20.5 0h0m2.1-.1h0m20-.2h0m3.2-.1h0m1.7 0h0m2.9 .1h0m7.4 .1h0m2.5 .5h0m2.5-.3h0M-90-121h0m2-.1h0m3 .3h0m78.8 .1h0m2.4 .4h0m5.7-.4h0m4.8-.1h0m23.3-.5h0m20.1 .8h0m2.5-.3h0m23.2-.4h0m2 .2h0m2.4 .3h0m8.3-.5h0m2.4-.2h0m-185.2 2.5h0m2.9 .3h0m2.3 .1h0m2.7-.5h0m81.4 .5h0m2.5-.1h0m3.1 .1h0m2.3 .1h0m2.9-.5h0m23.1 .8h0m19.7-.3h0m3.1-.4h0m27.5 0h0m2.2 .2h0m8.6 .4h0m2.1-.4h0m-190.3 2.3h0m2.7-.2h0m2.5 .5h0m3.3 0h0m1.6-.8h0m3.2 .2h0m79.3 0h0m2.6 .6h0m2-.3h0m3-.5h0m1.8 .1h0m3 .1h0m2.7-.3h0m1.9 .8h0m2.8-.2h0m3.2 .4h0m11.8-1.1h0m4-.1h0m3.9 1.1h0m10.5-.7h0m2.3-.1h0m33.8-.2h0m1.6 1h0m2.8-.6h0m2.4 .3h0m3.4-.6h0m-197.9 2.3h0m2.5 .3h0m2.2 .2h0m2.9-.4h0m2.9 .3h0m88.7-.4h0m2.9 .8h0m2.1-1h0m3 .3h0m1.9 .7h0m2.9-.1h0m2-.7h0m3.2 .8h0m2.5-.6h0m2.9-.1h0m1.9 .7h0m10.8-.9h0m2.5 .3h0m2.7-.3h0m5.1 .2h0m1.8 .1h0m3.3 .1h0m1.8 .5h0m3.2-.4h0m33.2-.5h0m2.5 .3h0m2.7 .2h0m2.3 .2h0m2.5-.4h0m2.4-.2h0m-202.5 2.7h0m1.9-.4h0m2.5 .1h0m85 .5h0m12.1-.2h0m2.2 .3h0m6 0h0m2.3-.6h0m3-.3h0m2.1 .2h0m5.5-.2h0m1.5 .9h0m5.7-.2h0m7.3-.6h0m3.1 .5h0m7.9 .1h0m2.3-.6h0m2.6-.1h0m1.7 .1h0m2.9 .7h0m36.3-.2h0m2.4-.2h0m1.9 .4h0m3.1-.7h0m1.9 .2h0m2.8 .3h0m-213 2.2h0m2.6-.4h0m3.2 .7h0m1.7 0h0m44.1-.2h0m2.3 .1h0m2.7-.7h0m38.5 0h0m2.5 .3h0m2.3 .3h0m2.9 0h0m1.9 .2h0m4.9-.8h0m5.5-.1h0m2.7 1h0m4.7-.9h0m5.6 .8h0m2.1-.5h0m4.7-.4h0m2.6 .1h0m3.6 .4h0m4.8-.2h0m9.7 .1h0m2.5-.2h0m2.4-.2h0m2.5 .5h0m28.3-1.2h0m10.5 1.5h0m2.4-.6h0m2.8 .7h0m2.9-.3h0m2 .1h0m-212.8 2.2h0m2.9-.4h0m2.4-.2h0m2.8 .6h0m1.6 .1h0m43.4-.3h0m2.6-.1h0m2.7 .1h0m36.2 .2h0m2.4 0h0m2.5-.5h0m2.9 .1h0m1.9 .7h0m2.5-.9h0m5.6 .1h0m2-.2h0m3.2 1h0m6.9-1h0m2.6 .5h0m3.1-.4h0m5.4 .2h0m2.6 .4h0m1.6-.4h0m2.8 .5h0m2.6-.8h0m3.2 .6h0m2 .3h0m2.5-.6h0m5.7 .4h0m2.4-.3h0m1.9 .1h0m41.2-.1h0m2.4 .2h0m2.7-.3h0m2.8 .2h0m2.2 .5h0m2.6-.8h0m-226 2.6h0m5.6-.6h0m2.6 .6h0m1.9-.1h0m3.2-.2h0m1.7 .2h0m3.5 .2h0m40.5 .1h0m2.5-.6h0m5.1 0h0m2.2 .3h0m32.9-.5h0m2.5 .1h0m2.9 .1h0m5 .8h0m11-.2h0m2.2-.4h0m10.4-.2h0m2.3 .7h0m2.7-.8h0m2.4 .5h0m2.1-.4h0m5 .3h0m2.7-.1h0m2.7-.1h0m3 .2h0m2.4-.1h0m2-.2h0m2.6 .4h0m3.1-.2h0m2.3 .6h0m2.8 0h0m40.8-.3h0m2.5 .2h0m2.4-.1h0m3.1-.4h0m2.4 0h0m2.1 .2h0m2.6-.6h0m-233.6 2.7h0m5 .4h0m2.7-.9h0m3 .2h0m2.5 .2h0m48.8 .3h0m1.7-.2h0m7.9 .1h0m2.6-.5h0m28 .5h0m2.8-.5h0m2.9 .8h0m2-.9h0m2.1 1h0m3.5-.9h0m27.8 .3h0m2.1 .2h0m23.7 .2h0m2.2-.7h0m2.9 0h0m2.2 .5h0m2.3 .2h0m40.6-.3h0m2.8 .1h0m2.1 .4h0m5.2-.4h0m3.5 .4h0m2.2-.7h0m-233.8 2.8h0m2.7-.4h0m3-.5h0m1.7 .2h0m3.1 .7h0m51-.7h0m2.2 .3h0m3.4 .3h0m2.2-.3h0m2 0h0m5.6 .1h0m2.5 .4h0m2.3-.4h0m3 .4h0m2.3-.4h0m2.1-.1h0m2.8 .2h0m2.3 .1h0m3.2 0h0m2.8-.8h0m2.1 .2h0m2.3-.2h0m2.3 .1h0m3 .8h0m3.1-.6h0m2.1 .2h0m25.1-.4h0m3 .5h0m2.4 .3h0m22.9-.7h0m2.6-.2h0m5.4 .4h0m42.6-.2h0m2.6 .2h0m2.8-.3h0m2.4 .8h0m2.7-.4h0m3.3-.1h0m1.8 .5h0m-243.9 2h0m6.2-.4h0m1.9 .3h0m66.3-.1h0m2.7 .1h0m2.6-.5h0m5.4 .6h0m2-.2h0m2.4-.5h0m2.6 0h0m2.8 .6h0m2.9-.4h0m2.3 .2h0m2.4 .4h0m2.5-.7h0m2.7-.1h0m8.1 .9h0m1.7-.2h0m2.6-.5h0m2.4-.1h0m28.9 .7h0m2.2-.3h0m2.9 0h0m20.5-.5h0m2 .9h0m2.9 0h0m5-.8h0M70-98h0m23.4 0h0m1.7-.5h0m3.8 .1h0m2.5 .1h0m2 0h0m3.2-.4h0m1.6-.5h0m3 .6h0m5.1 .1h0m-250.9 2.1h0m1.8-.7h0m2.9 .2h0m2.8 .1h0m64 .7h0m2.4-.7h0m2.5 .2h0m2.7-.2h0m1.8 .1h0m5.3 .6h0m2.6 0h0m5-.5h0m3.2 .1h0m2.3-.5h0m17.6 .1h0m2.4 .4h0m2.4-.6h0m31.5 1h0m2.5-.3h0m1.9 0h0m2.4 .2h0m3-.9h0m2.9 .6h0m1.6 .3h0m3.2-.1h0m2.9 .2h0m2.7-.3h0m1.9-.6h0m2.9 .4h0m2.2-.2h0m2.5 .3h0m2.7 .3h0m48-.8h0m2.9 .9h0m2.2-.4h0m3.3-.2h0m1.9 .5h0m2.9 .1h0m-255.8 1.8h0m2.4 .2h0m2.4 .1h0m1.9-.4h0m3.2 .1h0m20.7-.4h0m2.3 .4h0m38-.5h0m2.3 .3h0m2.9 .3h0m2.3 0h0m2.4-.3h0m2.3-.1h0m3.4 .2h0m2.7 .2h0m2-.4h0m2.3 .8h0m5.9-.3h0m2.3-.8h0m20 .3h0m2.7 .4h0m2.9-.1h0m34.9-.4h0m11.2 0h0m11.9 .6h0m2.9-.4h0m2.3 .6h0m2.9-.5h0m2.5 .4h0m15.7 .3h0m12.1-.9h0m20.1 .2h0m2.8 .3h0m3.1 0h0m1.8 .1h0m5.8 .1h0m2.8 0h0M-142.2-92h0m2.7 0h0m2.7-.1h0m1.7-.1h0m2.4 0h0m21 0h0m2.2 .4h0m2.7-.5h0m38.1 0h0m3.1-.3h0m2.5 .1h0m2.5 .4h0m2.3-.4h0m2.1-.2h0m2.8 .7h0m33.8-.2h0m4.5-.2h0m2.5 0h0m2.7 .4h0m53.5-.6h0m2.2 .8h0m5.2-.7h0m2.6 .8h0m2.8-.8h0m47-.3h0m1.2 .5h0m3.1-.4h0m2.6 .3h0m7.3 .4h0m-263.9 1.8h0m2.1 0h0m2.6 0h0m2.9 .1h0m2.5-.2h0m20.9 .6h0m1.8-.1h0m8.1-.3h0m2.8 .7h0m35.4-.1h0m2.1 0h0m5.2-.1h0m2.7-.4h0m43.2 .6h0m3.1-.2h0m2.3-.4h0m2 .5h0m3.2-.9h0m2.1 0h0m46.8 .6h0m6.9 0h0m3.3-.5h0m1.9 .6h0m22.8-.5h0m27.8 .8h0m3.1-.6h0m7.7 .1h0m2.4 0h0M-150-87.3h0m2.7-.8h0m2.6 .4h0m30.3 .4h0m2.8 0h0m4.8-.9h0m2.9 1h0m38.1-.7h0m40.8 0h0m12.1 .5h0m6-.1h0m2-.3h0m2.5 .3h0m49 .1h0m1.8-.6h0m3 .5h0m3-.6h0m2.2 .4h0m2.6-.5h0m2.2 .9h0m46.5-.8h0m1.6 .8h0m2.6-.5h0m8-.3h0m2.2 .1h0m3 .3h0m-276.8 2.1h0m2.6 .4h0m2.9 .1h0m33-.9h0m2.1 .3h0m2.7 .5h0m2.8 0h0m2.8-.5h0m10.1-.2h0m2.7 .6h0m25.1 .1h0m2.9 .1h0m15.2-.2h0m1.8-.4h0m41.6 .4h0m2-.7h0m5.9 .5h0m2.1 .2h0m3 .2h0m34.9-.8h0m2.3-.2h0m3.6 .3h0m1.6-.1h0m3.2 .7h0m2.3-.6h0m2 .6h0m3.5-.5h0m45.7-.4h0m1.9 .9h0m10.5-.5h0m2.9 .5h0m-277 2.4h0m2.3-.2h0m2.6-.3h0m35.6 .1h0m3.5 .1h0m1.7-.6h0m3.1 .1h0m2.6 .1h0m7.1 .2h0m3.4-.3h0m1.7-.1h0m26.3 .9h0m1.7-.2h0m13.4 .2h0m2 0h0m2.9-.4h0m5.5-.8h0m15.6 1.3h0m17.1-1.1h0m5.6 .6h0m1.8-.2h0m3 .6h0m2.4-.1h0m2-.3h0m51.2-.6h0m3 0h0m1.8 .4h0m41.7-.1h0m2.3-.3h0m12.5 .1h0m3 .8h0M-159.1-81h0m4.7-.3h0m3.4 0h0m1.9 .2h0m7.7 .2h0m30.5-.4h0m2.5 .6h0m5.1-.4h0m3.4-.5h0m4.9 .9h0m1.7-.3h0m5.6-.4h0m22.5 .6h0m3.3-.8h0m13 .9h0m2.3-.5h0m2.7 .6h0m2.3 0h0m5.5-1.4h0m37.6 .9h0m5.7-.1h0m1.8 .6h0m2.8-.2h0m2.3-.8h0m17.8 1h0m23.6-.3h0m7.8-.8h0m1.9 .4h0m1.8 .6h0m39.7 0h0m1.7-.6h0m13.4 .5h0m2.2-.8h0m2.1 .3h0M-158-78.7h0m2.3 .1h0m11-.2h0m2.4 0h0m2.8-.2h0m1.6-.1h0m2.7 0h0m25.5 .3h0m3.2 .1h0m2-.2h0m5.2 .2h0m2.8 .1h0m2.5 0h0m5.5 0h0m2.4-.6h0m2.2 .3h0m3.1-.5h0m2.1 .7h0m8.1 .3h0m2-.7h0m2.6 .1h0m2.2-.4h0m18.3 .6h0M9-78.6h0m4.5-.7h0m2.1 0h0m2.6 .3h0m3 .2h0m2.1 0h0m7.7-.5h0m2.6 .2h0m2.5 .7h0m2.8-.2h0m2.6-.7h0m11.9 .7h0m3.4 .1h0m2.3-.8h0m2.8-.1h0m2.2 .3h0m35.5 .5h0m3 .1h0m2.7-.3h0m1.9 .3h0m15.7-.9h0m2.1 1h0m2.5-.1h0m-286.1 1.4h0m2.2-.1h0m12.9 .1h0m2.8 .7h0m2.1-.1h0m2.1-.4h0m2.5 0h0m26.1 .4h0m2.5-.1h0m10.2 .4h0m2.3-.9h0m2.2 .2h0m3.4-.2h0m2.2 .5h0m3.1 0h0m2.1 0h0m7.4-.5h0m2.2 .1h0m2.7 .7h0m76.3-.5h0m6 .1h0m2-.1h0m5.9-.2h0m6.9 .7h0m2.5-.1h0m3.3-.3h0m1.8 .1h0m2.7 0h0M53-77h0m2.5 0h0m2.1-.2h0m3.1 .7h0m1.7-.4h0m2.4 .5h0m4.8 0h0m28.9-.8h0m2.8 1h0m1.8-.8h0m3.3-.2h0m19.8 1h0m2.9-.4h0m-289.7 2.1h0m2.7 .2h0m10.1-.1h0m3.2 .3h0m2-.5h0m4.9 .4h0m3-.2h0m25.8-.5h0m2.2 .8h0m2.8-.1h0m7.1-.8h0m3.2 .2h0m2.1 .1h0m7.8-.3h0m2.5 .8h0m5.3 .2h0m2.8 .1h0m2.3-.9h0m2.7-.1h0m80.8 .1h0m.9 .7h0m2-.5h0m2 .1h0m3.2-.1h0m10.6-.1h0m7.2 .6h0m2.5 0h0m2.4 .1h0m3.2 0h0m2.2-.9h0m2.1 .4h0m2.8 .4h0m3-.4h0m1.7 .4h0m3.3-.2h0m2 .1h0m2.4-.2h0m34 .1h0m2.2-.2h0m2.1 .5h0m20.5-.9h0m2.6 .9h0m3-.8h0m-292.3 2.5h0m2.2 .5h0m13-.5h0m2.7 .3h0m5.5-.1h0m2 .3h0m25.9-.7h0m2.3 .3h0m8.1-.2h0m2.4 .5h0m2.9-.5h0m1.6 .2h0m2.4 0h0m6 .1h0m2.2-.4h0m7.4 .6h0m2.3-.9h0m3.3 .3h0m2.7 .2h0m26.2 .7h0m54.7-.5h0m1.9-.7h0m.6 .5h0m2.5 .2h0m13.1-.7h0m8 .3h0m2.6 .4h0m2.1 .1h0m2.4 .1h0m2.6-.8h0m8.1 .1h0m2.4 .3h0m2.9 .1h0m1.6-.6h0m33.9 1.1h0m2.5-.4h0m2.4-.3h0m25.2-.2h0m2.7 .2h0m2.1-.4h0m-297.1 3.2h0m3.1 0h0m12.6-.6h0m2.6-.2h0m2.6 .7h0m2.2 0h0m3.1-.3h0m27.3 .2h0m8.2 .1h0m2.4-.8h0m2.5-.1h0m2.9 1h0m10.5-.9h0m2.1 .5h0m5.6 .2h0m2-.4h0m3 .5h0m83.5 .2h0m2.7-.2h0m1.4-1.5h0m1.8 1.6h0m14.5-.1h0m2.9-.5h0m2.5 .1h0m2.6 0h0m2.1-.5h0m3.1 .4h0m2.6-.1h0m10.2 .4h0m2.1-.5h0m2.5 0h0m2.3-.2h0m2.8 .2h0m30.5 .7h0m3-.8h0m27.4 .5h0m2.8-.4h0m-296.5 2h0m1.9 .6h0m17.9 0h0m2.7-.1h0m2.2 .3h0m29.1-.1h0m2.1-.7h0m2.7 .6h0m5.4-.6h0m2.1 .1h0m2.1 .6h0m2.5-.1h0m3.5 .3h0m1.9-.8h0m5.3 .6h0m2.3-.3h0m7.6 .4h0m13.2-.8h0m8.4 1.3h0m65.1-.6h0m1.2-.7h0m1.1 .7h0m18.1-.1h0m2.8-.1h0m2.5 .5h0m2.3-.5h0m5.8-.3h0m2.6 .7h0m2.1-.3h0m4.7-.4h0m2.9 .8h0m2.7-.1h0m2.4-.8h0m2.4 .1h0m2.8-.2h0m1.3 .2h0m26.6 .2h0m33.5 .4h0m-297 2.4h0m1.9 0h0m18.1-.4h0m2.9 .1h0m1.8 0h0m34.1 0h0m2.2-.3h0m8.1 0h0m1.5 .4h0m3.1-.3h0m2.3 .1h0m2.6 .2h0m2.3-.5h0m3 .1h0m3-.4h0m4.2 .6h0m12.9 .4h0m2.6-.9h0m2.3 .9h0m69 0h0m.8-1.6h0m2.1 1.3h0m12.5 .2h0m2.3 .1h0m3.3-.4h0m1.7 .1h0m3.1-.4h0m2.3-.1h0m4.9 .7h0m2.6-.6h0m2.8-.2h0m2.2 .2h0m6.1 .1h0m1.6 .5h0m3.1-.4h0m2.4 .6h0m2.9-.2h0m2.2-.6h0m2.9-.1h0m1.9 .5h0m3.1-1.4h0m17.6 1.5h0m2.1 .2h0m31.4-.3h0m2.3-.7h0m-299.5 2.5h0m2.3 .3h0m20.6-.2h0m2 .2h0m2.4 0h0m3 .4h0m3-.5h0m1.9 0h0m38.2 .1h0m3.1-.4h0m1.9 0h0m5.9-.1h0m2.4 .2h0m2.6 .2h0m1.8 .5h0m3.2-.4h0m21.2-1.1h0m65.2 1.3h0m12.5 .1h0m2.5-.5h0m2.8 .5h0m2.4-.9h0m7.5 .5h0m3.3 .2h0m2.6 .3h0m2.1-.1h0m2.9-.3h0m7.5-.3h0m2.7 .6h0m2.4-.8h0m2.7 .1h0m10.5 .3h0m2.6-.1h0m2.1 .5h0m2.8-.3h0m2.1-.6h0m2.5 .2h0m2.8 .4h0m2.4-.1h0M98-63h0m35.9-1h0m2.8 .4h0m-304.9 2.7h0m2.8-.6h0m22.7 .4h0m2.8 .2h0m2.1-.3h0m2.5 .3h0m2.5-.7h0m3.3 .6h0m47.8-.6h0m3.1 .7h0m2.7-.4h0m12.4 .2h0m4.8 .3h0m71.5-.4h0m.7-.5h0m.3-.7h0m12 1.1h0m2.6 .1h0m2.9-.1h0m9.8 0h0m2.7-.2h0m2.2-.2h0m2.7 .1h0m5.5 .6h0m2.1-.4h0m2.5-.2h0m2.4-.1h0m3.1 .6h0m1.9 .1h0m2.5-.2h0m11 0h0m2 0h0m2.6-.1h0m2.9-.3h0m2.5 .3h0m2.7 .3h0m5.3-.4h0m35.6 .1h0m1.7 0h0m-303.8 2.6h0m2.5-.3h0m22.4 0h0m3.1-.5h0m2.4 .1h0m9.6 .7h0m35.6-.2h0m2.6-.5h0m2.7 0h0m2.6 .8h0m3.3-.9h0m2.1 0h0m2.7 .4h0m91.6 .2h0m2.3-.5h0m8.2 .4h0m2 .4h0M30-59h0m1.8 .2h0m6-.2h0m6.8 0h0m10.8-.5h0m2.2 .1h0m4.9 .8h0m7.6-.3h0m10.6-.5h0m2.5 .7h0m5 .1h0m2.2-.1h0m3-.3h0m2.8-.1h0m2.8 .6h0m2.1-.2h0m2.5-.2h0m2.6 .1h0m5-.2h0m7.4 .5h0m3.2-.8h0m1.8 .7h0m3.3-.5h0m1.7 .3h0m5.9-.3h0m2.6-.1h0m-307.4 2.3h0m2-.3h0m26.3 .7h0m9.7-.3h0m2.4-.5h0m35.5 .5h0m2.7 .1h0m2.6-.5h0m3.1 .6h0m2.5-.1h0m2.7 .4h0m1.8-.2h0m3.1-.6h0m90.4-.9h0m1.4 .6h0m.2 .9h0m1.7 0h0m5.3 .1h0m2.8-.2h0m7.9-.6h0m7.8 .5h0m1.9-.4h0m2.6-.2h0m8.3 .8h0m1.7-.1h0m3.2 .3h0m1.9 0h0m2.6-.7h0m5.1 0h0m2.5 .5h0m18.3 .1h0m5.5-.3h0m1.9-.1h0m2.5 .3h0m2.9 .1h0m1.9-.9h0m2.7 .4h0m2.9 .3h0m2.9-.6h0m7.5 .7h0m2.6-.3h0m1.8-.5h0m5.2 .9h0m7.7 0h0M-172-55.2h0m2.5 .8h0m25.3-.2h0m3.1 .3h0m7.9-.6h0m1.7 .7h0m3.1-.3h0m12.5-.1h0m20.4 0h0m2.7-.5h0m5.1 1h0m2.5-.8h0m3 .1h0m2-.1h0m5 .8h0m89.2-.2h0m1.3-.3h0m.9 .6h0m.9-.2h0m.5-1.7h0m7.2 1.1h0m1.9 .3h0m6 .3h0m1.5-.1h0m8.5-.8h0m2.6 .8h0m2.5 0h0m4.5-.8h0m5.8 .6h0m1.7-.4h0m3.2-.3h0m2.5 .4h0m2.9 .4h0m2-.7h0m2.9 .6h0m4.3-.2h0m10.4 .2h0m8 0h0m2.7 0h0m2-.5h0m8.1 0h0m2.1 .2h0m2.7 .4h0m5.8-.5h0m1.9 .6h0m7.7-.8h0m3.1 .6h0m5 .4h0m2.6-.1h0m-312.9 1.6h0m2.6-.3h0m27.9 .6h0m2.9-.5h0m2.6 .9h0m1.9-.2h0m2.6-.7h0m2.6 .2h0m8 .5h0m2.9 0h0m2.5-.1h0m1.9 .2h0m20.6-.9h0m8.4 .9h0m2.1 .1h0m1.9 0h0m5.1-1h0m3.4 .9h0m2.6-.6h0m86.7 0h0m1.8 .5h0m1.1 .2h0m1.3-.4h0m.4-.9h0m5.2 .9h0m2.9-.4h0m2.2 0h0m2.1-.1h0m10.3 .8h0m3.5 .1h0m2-.4h0m2.9 0h0m2.7-.6h0m4.5 .2h0m2.8 0h0m7.9 .3h0m2.6-.2h0m1.8-.2h0m2.9 .1h0m2 .1h0m7.9 .3h0m2.3 0h0m2.5-.6h0m3.5 .3h0m2.4-.2h0m12.7 .9h0m5.4-.8h0m1.6-.1h0m2.5 0h0m8.1 .5h0m2-.3h0m2.9-.1h0m2.3 .1h0m2.6 0h0m3.1 .5h0m-317.5 2.4h0m2.1 0h0m2.9-.3h0m30.7 .3h0m2.9-.7h0m2.1 .7h0m2.4-.9h0m3 .1h0m1.8 .8h0m5.8-.4h0m2.7 .2h0m1.9-.4h0m2.3 .2h0m3.3 0h0m20.3-.2h0m2.6 .2h0m2.2 .3h0m2.9-.5h0m2.6 0h0m4.6 .3h0m5.4-.5h0m88.7 .1h0m2.9-.2h0m7.9 .6h0m5.2-.5h0m2.6-.1h0m2.2 .3h0m8.1 0h0m2.6 .1h0m2.4-.4h0m1.9 .4h0m8-.2h0m8.2-.2h0m1.5 .6h0m5.8-.7h0m2.1 .8h0m2.8-.1h0m5.1-.2h0m2.3-.1h0m3.1-.1h0m1.9-.3h0m3.3 .3h0m9.9-.1h0m10.3 .8h0m2.1-.3h0m2.3-.7h0m2.8 .6h0m3.2-.2h0m2.4 0h0m1.9 .1h0m5.3-.4h0m2.8 0h0m-312.6 2.1h0m2.3 .5h0m21.1-.2h0m2 .4h0m3.3 0h0m2.4 .1h0m1.9 .2h0m7.7-.2h0m2.8-.3h0m2.3 .5h0m2.6-.4h0m2.8 .4h0m2.3-.9h0m5.7 0h0m2.7-.1h0m20.3 .4h0m4.2-.1h0m3.4 .1h0m1.9-.3h0m5.3 .5h0m2.2-.6h0m92 .7h0m2-1.3h0m1 .7h0m.9-.5h0m.5-.2h0m6.4 .9h0m2 .2h0m4.8 .3h0m2.7 .2h0m5.2-.4h0m2.9 0h0m2.1-.1h0m5.5 .2h0m2.6-.7h0m2.2 .2h0m2.9 .1h0m7.8 .1h0m1.9-.4h0m5.4 .2h0m3.2 .3h0m2-.2h0m7.9 .5h0m2.5-.5h0m2.6-.2h0m2.6 .8h0m10.1-.7h0m2.3 0h0m5.4-.1h0m2.7 .1h0m1.8 .8h0m3.2-.4h0m10.3-.2h0m1.9 .3h0m3.3-.7h0M-173.9-46h0m2.5 .1h0m20.5 .1h0m2.5-.5h0m2.2 .2h0m4.9 .1h0m3.1 .6h0m4.8-.3h0m2.4 0h0m2.1-.6h0m3.5 .2h0m2.2 .1h0m2.6 .4h0m2 .1h0m6 .2h0m2.3-.8h0m25.4 .8h0m1.9-1h0M17.1-46h0m2.1 .5h0m.3-.2h0m2.5 0h0m7.6 .4h0m5.2-.2h0m2.7-.8h0m2 .5h0m6-.1h0m1.8-.1h0m5.2 .6h0m2.9-.5h0m2.4 .1h0m7.3 .2h0m8.2 .1h0m2-.3h0m3.2 0h0m10.2-.3h0m2.3 .3h0m2.1 .5h0m3.3-.6h0m2 .2h0m2.9-.1h0m4.9 .1h0m2.2-.2h0m2.5 .2h0m3.2-.1h0m15.2-1.1h0m7.5 1.2h0m.1-1.6h0m2.8 1h0m-317.9 2.7h0m2.3-.4h0m2.9 .7h0m25.8 0h0m1.6 0h0m3.4 .3h0m2.6-.2h0m7.2-.8h0m2.3 .1h0m8.3 .4h0m1.8 .2h0m2.6-.2h0m3.1 .3h0m2.9-.3h0m24.7-.4h0m2.8 .8h0M18.6-43h0m2.5-1h0m1.3 .4h0m3.6 .2h0m12.2 0h0m8.5-.7h0m1.7 .5h0m3.3-.2h0m4.7 .2h0m8.1-.4h0m2.3 .9h0m2.1-.3h0m2.6-.1h0m7.4-.1h0m3.5-.3h0m2.5-.2h0m1.7 .2h0m3.4 .1h0m6.8 .3h0m2.7 .3h0m2.7-.2h0m8.3 0h0m27.6-.7h0m2 .7h0m-316.5 1.5h0m1.6 0h0m28.4 1h0m3.1-.5h0m12.6 .2h0m1.8-.1h0m10.5 .2h0m3.2-.8h0m2.1 1h0m24.9-.3h0m3.1-.1h0m102 0h0m2.9 .4h0m.3-1.2h0m9.6 1.1h0m5.6-.5h0m4.7 .6h0m2.5 .1h0m2-.9h0m3.4-.2h0m2.5 .2h0m2.2 .4h0m9.7-.3h0m2.6 .3h0m3.3 0h0m2.3-.4h0m10 0h0m2.7 .7h0m2.2-.8h0m2.7-.1h0m3.1 .8h0m6.9-.6h0m3.3 .4h0m2-.2h0m4.8-.4h0m2.7 .9h0m25.5-.8h0m.5-.8h0m.4 .6h0m1.7 .8h0m-314.9 1.9h0m3 .6h0m25.2-.4h0m2.2 .4h0m2.7-.8h0m13.5 .3h0m2.2 .4h0m2.2 0h0m7.9 .1h0m3-.4h0m2.1-.3h0m23.2 .8h0m2.7-.6h0m104.4 .1h0m.6-.5h0m1.2 .4h0m3.6 .3h0m1.5-.3h0m.4-.9h0m5.6 .6h0m7.8 .7h0m2.1-.2h0m2.1-.5h0m3 .9h0m2.1-.6h0m3.4-.4h0m1.7 .7h0m3.2-.7h0m5.1 .3h0m1.8-.2h0m3.4 .7h0m2.2-.6h0m2.5 .5h0m10.7-.3h0m2.1 0h0m2.6-.5h0m2 .2h0m2.6 .1h0m7.7-.3h0m3.4 .9h0m2.1 .2h0m2.9-.9h0m2.3 .7h0m25.3-.9h0m5.2 .5h0m-317.9 2.6h0m3.4-.7h0m28 .1h0m19.8 .8h0m2.4-.7h0m3 .2h0m2.9 .1h0m2.2-.3h0m25.7 0h0m1.7-.1h0m109.7-.1h0m1.5 1h0m1.2-1h0m2.5-.8h0m.4 .8h0m2.4-.2h0m8 .6h0m4.8 .2h0m2.5 0h0m8.1 0h0m2.5-.6h0m10.5 .1h0m1.8 .6h0m2.9-.8h0m2 1h0m15.3-.2h0m2.7 0h0m7.6-.4h0m3.3 0h0m1.6 .6h0m3-1h0m5.2 .2h0m25.2 .3h0m2.8-1.5h0m.4 1.6h0m1.8-.1h0m-319.1 1.7h0m2.3 .3h0m48.5-.1h0m2.6 0h0m1.7 .7h0m2.8 0h0m2.8-.7h0m2.4 .7h0m22.9-1h0m2.3 .6h0m110.1 0h0m2.4-.3h0m3 .6h0m0-.9h0m.4-.8h0m1.6 1.1h0m18.3 .6h0m2.7-.4h0m2.4 .6h0m1.9-.3h0m5-.6h0m2.6 .5h0m3.1-.1h0m2.4-.5h0m2.1 .3h0m3.4-.2h0m2.4 0h0m1.8-.1h0m3.1 .2h0m2.2-.3h0m8.4 .1h0m1.8 .6h0m3.2-.2h0m1.7-.2h0m3.5-.2h0m2.5 .8h0m2.5-.4h0m1.9-.2h0m28.5 .5h0m2.4-1.2h0m.4 .7h0m-315 2.8h0m2.5-.4h0m2.2 .3h0m45.7-.4h0m2.8 .6h0m4.7-.8h0m2.5 .2h0m18.3-.3h0m2.7 .9h0m2-.9h0m2.5 .5h0m112.8 .4h0m.8-.8h0m1.7 .7h0m2.6-.5h0m2.3 .4h0m8.1 .3h0m10.2-.9h0m2 .3h0m8.4-.1h0m9.5-.2h0m2.2 .4h0m3.3-.2h0m2.7 .2h0m2.3-.2h0m2.6 .1h0m2.2-.2h0m2.4 .4h0m5-.5h0M93-33h0m3 0h0m2.1-.1h0m3.4 .3h0m1.6 .5h0m7.8-.1h0m26.3 .3h0m1.6 0h0m-319 2.2h0m2.2-.8h0m2.4 0h0m2.7 .4h0m76.1-.5h0m2.9 .9h0m117.4-.9h0m.2 .9h0m.1-1h0m1 .8h0m1.2-.1h0m2.3-.2h0m5.5 .1h0m2 .4h0m10.5-.7h0m5.5-.2h0m2.5 .2h0m9.9 .6h0m2.2 0h0m7.9-.3h0m2-.4h0m3.3 .4h0m2.2 .1h0m2.7-.3h0m2 .3h0m10.8 .4h0m2.6-.7h0m38.6 .7h0m1.9-.5h0m.3-.3h0m-317.2 2.1h0m2.4 0h0m1.8 .2h0m10.8 .4h0m2.9 .1h0m58.4-.2h0m2.1-.2h0m2.7 .1h0M22-28.6h0m2.4 .7h0m.4-.7h0m2.2 .1h0m.5-.7h0m2.3 1.5h0m2.2-.1h0m7.6 0h0m15.8-.1h0m12.2-.8h0m2.8 .2h0m2.1 0h0m2.5 .9h0m8.1-.1h0m3.1-.2h0m1.9-.3h0m10.4 .5h0m2.1-.9h0m7.7 .6h0m28.6 .3h0m2.7-.3h0m2 .2h0m-319.8 2h0m2.6-.1h0m2.5 .3h0m9.7-.8h0m3.5 .2h0m1.8 .3h0m3.3-.5h0m53.2 0h0m2.7 0h0m2.4 .2h0m122.2 .8h0m.4-.4h0m1.6-1.6h0m1.2 1.2h0m.8 0h0m6.1 .2h0m7.6-.4h0m5.1 .1h0m7.4 .5h0m13.8 .2h0m4.8-.5h0m2.4 .7h0m5.4-.6h0m1.7 .4h0m2.5 .1h0m2.9 0h0m13.4-.3h0m1.9 .4h0m3-.1h0m2.6 0h0m2.4-.5h0m20.7 .5h0m2.3-.1h0m1.8-.2h0m1.6-1.3h0m1.6 1.1h0m1.1-.4h0m1.1 .1h0m-322.5 2.1h0m.4 .1h0m2.8 .7h0m1.5 .1h0m3-.9h0m2.9 .2h0m4.8 .7h0m3-.1h0m1.9-.8h0m5.6 .2h0m50.9 .3h0m2.6-.5h0m126.9-1h0m.3 1.5h0m2.5-.4h0m5.1 .3h0m2.7 .5h0m10-.9h0m25.8 .8h0m2-.8h0m2.8 .4h0m2.8 .4h0m2.3-.7h0m2.9-.1h0m2.2 .3h0m10.6 .6h0m2.3-.5h0m3 .5h0m2.6-.9h0m2.3 .2h0m7.2-.2h0m8 0h0m2.8 .4h0m2.6 .5h0m2.2 0h0m2.7-.7h0m2.6 .5h0m2.6-.5h0m1.5-.6h0m.6 1.4h0m3-.5h0m-322.9 2.6h0m1.6-.7h0m1 0h0m2.6 .8h0m5-.9h0m2.2 0h0m2.6 .9h0m3.3-.1h0m1.8-.4h0m2.8 .5h0m43.9-.6h0m2 .1h0m2.2 0h0m2.6 .4h0m3.2-.3h0m130 0h0m.5-1.3h0m2 .7h0m1.5 .4h0m1.3-.1h0m2.5-.1h0m7.1 .7h0m2.3 .1h0m3-.1h0m2.3-.5h0m2.7-.1h0m7.3-.1h0m7.6 .1h0m5.5 .8h0m4.9-.2h0m2.5-.8h0m8.5 .9h0m1.5-.5h0m3 .3h0m3.1-.3h0m2.5-.3h0m1.8 .4h0m3.3-.1h0m2.1-.4h0m2.6 0h0m2.1 .9h0m5.6-.2h0m2.1 0h0m3.4-.6h0m7 .7h0m2.7-.7h0m2.1-.2h0m5.1-.4h0m.5 1.3h0m2.2-.9h0m-322.5 3.3h0m.3-.3h0m2.5 .1h0m2.7 .2h0m2-.8h0m8.4 0h0m2.2 .6h0m2.5-.6h0m2.1 .4h0m3.1 .2h0m43.8-.7h0m2.2 .8h0m2.2-.4h0m135.5-.5h0m.1-.3h0m2.6 .4h0m1.6-.6h0m.7 1.4h0m1.8-1.6h0m.9 .8h0m1.2 .2h0m16.8-.2h0m5.1 .8h0m6.9-.7h0m5.4 .2h0m8.3 .2h0m6.7 0h0m3-.2h0m5.4-.1h0m1.9 .3h0m2.4-.1h0m2.5-.4h0m3-.1h0m2.9 .8h0m2.2-.7h0m2.1 .6h0m7.8-.1h0m3.3 0h0m7.8-.1h0m1.8 .3h0m5.2-.8h0m1.6 0h0m.9 1h0m.1-1.1h0m2.4 .3h0m-324.6 2.3h0m2.1 .1h0m2.5 .2h0m2.6-1h0m.6 1.3h0m12.3-.3h0m2 0h0m2.5-.4h0m2.8 .7h0m3.1-.6h0m2.3 .5h0m2.1-.4h0m2.7 .3h0m2.7-.6h0m2.8 .8h0m10-.6h0m10.6-.3h0m2.5-.1h0m2.3 .5h0m2.9 .1h0m141.9 0h0m.1 .1h0m1.5-.3h0m1.8 .1h0m1.9 .3h0m.3 .2h0m7.2-.5h0m11-.4h0m5 0h0m1.9 .9h0m3.1 0h0m2.8-.9h0m4.3-.1h0m2.8 .8h0m2.3-.7h0m5.8 .2h0m10.1 .6h0m5.3-.5h0m7.3-.2h0m5.2 .6h0m7.3-.6h0m5.3-.1h0m7.2 .5h0m3.2-.3h0m7.1-.2h0m-321.9 2.9h0m2 .1h0m.6-.2h0m2.5-.2h0m1.8 .1h0m11.2 .1h0m4.9-.5h0m12.6 .7h0m1.9 0h0m2.7-.6h0m2.9 0h0m3 .8h0m2.5-.4h0m2.6 0h0m2.3 .3h0m2.8-.7h0m2-.3h0m2.6 1h0m3-.2h0m2.4-.7h0m4.8 .6h0m142.5 .3h0m1.7-.7h0m1.4 0h0m2.3 .7h0m.9-1.4h0m1.9 .9h0m4.9-.1h0m7.3 .4h0m2.7-.8h0m2.4 .5h0m2.5-.2h0m2.6 .4h0m2.6-.7h0m5.2 .1h0m3.1 .8h0m19.2-1.9h0m.5 .6h0m.8 .5h0m14.4 .1h0m2.9 .3h0m2.5-.3h0m18.1 .8h0m2.5-.1h0m7.5-.5h0m2.8-.4h0m-325.3 2.2h0m2.1 .9h0m3.4-.1h0m.5-.2h0m37.1-.3h0m2.5 .3h0m3.1-.1h0m2.9 .6h0m2.5-.1h0m1.5 0h0m3.3-.8h0m2.6 .5h0m2.3 .2h0m150-.9h0m2.6 .8h0m2.9-.8h0m0 .4h0m.4-1.3h0m2.7 1.7h0m4.5-.2h0m2.1 .3h0m5.7-.5h0m10.2 .7h0m2.7-.1h0m4.4-.8h0m23.1 .4h0m.8 0h0m17.8-.5h0m2.4 .3h0m4.5-.3h0m10.5 .1h0m2.8 .1h0m8-.2h0m2.5 .3h0m-325.3 2.7h0m1.1-1.8h0m.6 1.2h0m2.9 .1h0m2.2 .1h0m23 .2h0m21.1 .1h0m2.4 0h0m164.3-1.2h0m1.3 .9h0m1.3-.4h0m1.4 0h0m2.3 .7h0m.1-1.1h0m5.3 .3h0m2.1 .1h0m10.8 1h0m12.3-1h0m22.1-.4h0m11.2 .5h0m5.5 .7h0m7.6-.8h0m7.7 .7h0m4.5 .2h0m12.7-.4h0m-325.3 2.6h0m.1-.8h0m3.3 .6h0m2.6 .2h0m2.2 .1h0m19.8-.9h0m5.6 .3h0m185.6-.3h0m.4 0h0m2.2 .9h0m1.6-.6h0m6 .4h0m5.2-.8h0m54.1-.1h0m2.5 1h0m4.8 .1h0m3.3-.1h0m10.1-.4h0m14.9 .1h0m2.4-.1h0m-327.3 1.6h0m2 .5h0m2.6 0h0m28.8 0h0m189.6-.8h0m.8 .4h0m.8 .1h0m1.6 .2h0m.1 .2h0m3.4-.5h0m12.4 .9h0m46.4-.4h0m17.3-.1h0m2.3 .4h0m18.6-.7h0m1.5 .6h0m3.2-.6h0m-331.4 1.5h0m1.3 1h0m.1 .1h0m2.6-.5h0m1.8 1h0m219.9-.5h0m.1-1.2h0m.1 1.2h0m1.7 0h0m3.1 .4h0m2-.9h0m5.6 .2h0m5.4 .6h0m63.4-.6h0m2.7 .2h0m19.7 0h0m2.8-.3h0m-334.6 3h0m2.4-.6h0m1.8-.1h0m.8 .5h0m12.6-.2h0m210.1-.5h0m1 .4h0M50.1-3h0m.1 1.3h0m2.3 .6h0m8.1-.8h0m1.9 .1h0m5.3 .1h0m.8 .5h0m25.1-.9h0m25 .8h0m2.2-.2h0m2.8-.1h0m2.8 .4h0m10-.2h0m3.2-.5h0m2.6 .2h0m1.7-.1h0m3.3 .4h0m1.8-.5h0M-180.7 .3h0m2.3 .1h0m3.2 .6h0m1.9-.7h0m10.6 0h0m2 .1h0M47.6 .3h0m1.5-.1h0m1.1-.2h0m.4 .7h0m1 .2h0m12.2-.4h0m26.4-.4h0m22.9 1h0m2-.4h0m2.2 .3h0m2.9-.3h0m2.2 .1h0m5 0h0m1.8-1.9h0m6 1.5h0m2.5 .6h0m2.4-.1h0m3.4-.3h0m2.6-.2h0m2.5-.1h0m1.9-.2h0m-332.7 3h0m2.6-.2h0m3 0h0m2.3-.5h0m12.2 0h0M48.8 3h0m1-.2h0m4.9 .3h0m54.5 .1h0m2.2-.9h0m1.5-.5h0m.9 1.3h0m5.6 0h0m.2-.8h0m1.8 .7h0m.2 .1h0m2.8-.1h0m2.1 0h0m.4-.3h0m7.7-.1h0m2 .6h0m7.4-.9h0m2.6 .1h0m3.1 .8h0m2.8-.5h0m1.7-.3h0m-335.4 2.4h0m3.5 .5h0m2.6 .1h0m2.2-.2h0m223.5-.1h0m.5-.4h0m5.5 .6h0m8.5-.5h0m6.3 .6h0m3.1-.7h0m.6-.7h0m35.2 .5h0M113 5h0m3.2-1.7h0m1.5 .1h0M131.3 5h0m1.2-.3h0m2.9 .6h0m10-.1h0m3.3-.6h0m2.2 .3h0m2.6 .1h0m1.9 .3h0M-179.2 7h0m2.7 .6h0m2.4-.2h0m224.7 .2h0m2.9-.2h0m52.1-.3h0m.5-1.4h0m.7 1.1h0m2.1 .5h0m1.9-.5h0m7.9 .7h0m12.8-.8h0m.8 .4h0m2.4-.4h0m2.2 .2h0m4.6 .5h0m3-.2h0m2.1 0h0m2.7-.1h0m3.1-.1h0m2.6 .3h0m-336.2 1.8h0m3.1 .3h0m2.7-.4h0m2.4 .1h0m2.9 .3h0m222-.2h0m.3-1.4h0M54 9.3h0m0-1h0m.4 1.4h0m2.2-.8h0m50.3 .8h0m.2 0h0m3.1-.5h0m7.7-.1h0m1.9-.2h0m1.5-1.1h0m1.1 1.6h0m3.1-.2h0m2.4 .4h0m4.9-.4h0m2.4 .3h0m3.3-.1h0m2.4 .2h0m4.4-.7h0M148 9h0m3.1 .5h0m1.8-.6h0m3.4 .4h0m-338.5 2.4h0m2.6-.1h0m3 .3h0m2.3-.5h0m234.7 .4h0m2.1 .3h0m2.9-.8h0m35.2-1.3h0m7.9 1.8h0m.3-1.5h0m1.5 1.1h0m5.7 .7h0m8.2-.2h0m2.4-.5h0m7.3-.2h0m2.6 .2h0m3.1 .5h0m7.1-.2h0m2.3 .2h0m3.3-.2h0m1.9 .4h0m2.6-.9h0m2.9 0h0m-343.3 2.6h0m3.3 .3h0m1.8-.2h0m2.6 0h0m3.1-.5h0m225.9-1.3h0m.4 1.8h0m1.2-1.1h0m1.9 .9h0m7 0h0m5.4 .1h0m2.5 0h0m35.4-.2h0m3.3 .1h0m4.9 0h0m12.7 .2h0m2.6 .2h0m2.1-.2h0m1.6-1.8h0m1.6 1.9h0m1.8 .2h0m2.6-.4h0m3.5-.2h0m1.7 .6h0m8-.7h0m2.8 .1h0m2.4 .5h0m2.1 0h0m-345.3 2.3h0m2.3-.3h0m8.1-.4h0m11.1-1.3h0m216.1 1.3h0m.4 .2h0m1.4-.2h0m8.4 .3h0m44.1 .2h0m1.7 .2h0m2.9-.5h0m1.2-1.6h0m.3 2.1h0m11.6-2.1h0m1.7 1.9h0m3 .1h0m1.5 .2h0m3.5-.8h0m2.1 .4h0m5-.3h0m2.6 .6h0m2.4-.3h0m5.7 .3h0m2.4 0h0m-338.2 2.3h0m5.1-.3h0m3.2-.1h0m2.5-.1h0m224.2-.3h0m2.7 .7h0m.5-2h0m52.6 1.3h0m2.5 .3h0m2.1-.7h0m.2 .8h0m.1 .1h0m4.3-1.9h0m8.3 1.3h0m3 .6h0m11.5-1.8h0m3.6 1.8h0m2.9-.3h0m5 .1h0m2.6 .4h0m2.9-.3h0m.8-1.7h0m1.3 1.3h0m1.6-1.3h0m1.1 1.7h0m2.3 .1h0m-347.7 2.4h0m2.7-.9h0m.6-1.1h0m1.3 1.4h0m3 0h0m1.8 .3h0m226.2-1.2h0m1.3 1.3h0m.3 .2h0m51.1-.3h0m4.3-.1h0m6.6-1.6h0m1 1.3h0m2.9 .5h0m3-.5h0m1.8 .5h0m3-.6h0m13.9-1.2h0m1.3 1.4h0m2.5 .5h0m3.6-2h0m1.9 2h0m7.3-.4h0m5.3 .1h0m-346.2 2.1h0m2.9-.3h0m2.6 0h0m3 .9h0m2.1-.3h0m2.9-.1h0m221.4-.1h0m18.2 .4h0m33.4 0h0m4.9-.6h0m7.3-.1h0m2.2 .4h0m2.7 .1h0m2.8 .3h0m3-.6h0m14.6 .5h0m2.4-.5h0m3.1 .4h0m.9-2h0m1.6 1.5h0m3 .4h0m.6-1.9h0m6.5 2.2h0M160 21h0m.7 1.9h0m3.1-.4h0m-346.2 2.8h0m5.6-.7h0m226.4-.3h0m.3 .8h0m2.2-.5h0m1-.8h0m.7-.6h0m42.5 1.6h0m6.9 .2h0m3.1-.5h0m5.4 .3h0m2.2 .5h0m1.9-.1h0m2.8-.5h0m5.5-.1h0m2.9 .2h0m3.9-.5h0m10.8 .3h0m5-.1h0m2.7 .4h0m9.8-.3h0m2.9 .2h0m3.2 0h0m-351.1 1.8h0m2.5 .9h0m7.5-.4h0m2.2-.2h0M34 26.7h0m1.9 .6h0m10.5 0h0m1.9-.4h0m3.4 .2h0m50.8-.5h0m2.4 .6h0m2.7-.1h0m.7-1.7h0m1.9 1.3h0m4.6 .1h0m10.8 0h0m15.2-.2h0m2.3 0h0m13.3 .7h0m1.3-1.9h0m.2 1.5h0m3.4 .2h0m2.2-.5h0m2.4 .7h0m-346.8 .3h0m3.7 2h0m2.5-.8h0m209.2 .8h0m7.8-.1h0m2.6-.1h0m.9-.4h0m1.6-.2h0m.9 0h0m1.1-.2h0m.9-.8h0m56 1.9h0m4.8-.7h0m1.8-1.4h0m5.2 0h0m.9 1.9h0m.9-1.9h0m1.4 2.1h0m2.4-.5h0m15.2 0h0m3.1-.2h0m12.8 .4h0m1.9-.1h0m2.5 .1h0m3.6 .3h0m1.6-.4h0m3.4 0h0m-353.6 2.2h0m1.7-1.8h0m.9 1.7h0m.9-1.6h0m4 1.7h0m3-.2h0m2.1 0h0m2.5 .5h0M33.6 31h0m6.2 .4h0m1.7 .3h0m2 0h0m.8-.3h0m2.3 .1h0m2 0h0m1.5-1.7h0m54.5 1.9h0m3-.1h0m1.2-1.8h0m1.6 1.5h0m10.3 .1h0m2.6-.4h0m3.1-1.3h0m1.1 2.2h0m3.1-.7h0m2.8 .2h0m1.6-.1h0m3.2 .6h0m25.1-.9h0m2.5 .5h0m2.5-.2h0m-350.2 2.4h0m4.5 0h0m3.1 0h0M24.4 34h0m4.7-.1h0m1.7-2h0m1 2h0M37 34h0m1.5-1.5h0M40 34h0m2.4-.2h0m5.2-.6h0m55.8 .2h0m5.8 0h0m9.8-.2h0m2.5 .6h0m2 0h0m2.2-1.8h0m5.7 1.4h0m2.9 .6h0m4.9-.5h0m.8-1.5h0m4.8 2h0m1.9-.7h0m5.4 .2h0m1.2-1.6h0m6.3 1.4h0m1.3-1.3h0m4 1.3h0m2.2 .2h0m-352.8 2.2h0m1.3-1.5h0m.8 1.7h0m8 .4h0m2.3 0h0m194-.2h0m7.2-.6h0m2.9 .5h0m.2-.5h0m2.8 .1h0m.7 .7h0m1.1-.6h0m1.6-1.2h0m.8 .9h0m4.7-.4h0m.7 .5h0m1.7-1.3h0m4.6-.1h0m52.8 1.6h0m1.9 .3h0m1.6-1.8h0m1.8 2h0m1.9-.2h0m2.3-.6h0m20.9 .6h0m2.3 .1h0m1.2-2h0m4.2 2h0m2-.3h0m2.9-.2h0m2.8 .2h0m1.7-1.6h0m1.1 1.6h0m2.2 .4h0m3.1-.6h0m2 0h0m2.7 .4h0m1.6-1.9h0m6.2 2.2h0m-353 2h0m2.1-.4h0m1.3-1.5h0M22 37.9h0m2.9-.3h0m1-1.2h0m.9 1.5h0m.7 0h0m2.7 .4h0m1.5 .1h0m.2-.2h0m2.3-.1h0m2.7-.3h0m4.3-1.5h0m62.8 2h0m2.3-.3h0m2.9 .5h0m1.8-.3h0m15.4-.1h0m7.4-.1h0m3.8-1.6h0m7.1 2h0m2.4-.2h0m2.2 .3h0m2.4-.7h0m3.1 .2h0m2.2 .1h0m3.2-.4h0m-343.6 2.2h0m2.6 .3h0m4.9-.1h0m1.7-1.4h0m1 1.4h0m1.4-1.5h0m131.6 1.5h0m2.3-.2h0m5.6 .7h0m12.2-.7h0m4.9 0h0m25.5 .4h0m5.4 .3h0m2.4 .1h0m3.1-.3h0m1.5 .1h0m.9-.3h0m1.1-1.6h0m.5 1.9h0m.9-.4h0m2-.1h0m3.3 .5h0m1.8-.6h0m22.9-.1h0m46 .6h0m5.6 0h0m1.5 .2h0m.7 .1h0m4-2.1h0m11.8 1.8h0m5.9-1.9h0m13.5 2.2h0m3.2-.3h0m3-.1h0m9.2 0h0m2.7-.1h0m2.5-.4h0m1.6-1.1h0m1.5 1.3h0m-350.9 2.4h0m2.2 0h0m1.3-1.6h0m1.8 1.5h0m2.7-.2h0m135.4 .2h0m1.6 0h0m3.3 .2h0m2.5-.4h0m1.3-1.3h0m1.3 1.8h0m2.6 0h0m2.4-.1h0m1.9-.3h0m3.3 .6h0m2.6-.3h0m2-.4h0m2.8 .4h0m2.4 .1h0m20 .2h0m2.6-.7h0m3.2 .1h0m0 .1h0m2.2-.2h0m.2 .6h0m2-.3h0m2.6 .1h0m2.7-.4h0m74.4 .8h0m2.5-.1h0m.3 0h0m1.4-2h0m.8 1.4h0m2.3 .3h0m3.1 .3h0m.8-1.9h0m14.3 1.1h0m23.1 0h0m1.9 .8h0m1.2-2h0m7.2 1.9h0m1.9-.1h0m3 .3h0m2.7 0h0m-353.5 1.6h0m3 .5h0m141.8-.2h0m3 0h0m2.8-.3h0m2.7 .6h0m5.1-.6h0m4.7-.3h0m2.5 .6h0m3.1 .1h0m2.3 .2h0m5.1-.8h0m2.6 0h0m2.5 .6h0m2.3-.4h0m2.8 .1h0m3.8 .3h0m1.5-.6h0m.8 .7h0m1.7-.2h0m.8-1.7h0m3.7-.2h0m.3 1.9h0m2.2 .3h0m.2-.4h0m2.7 .4h0m3.4-2.2h0m83.1 2.1h0m41.3-.2h0m1.3-1.8h0m.7 1.5h0m5.1 .5h0m5.4 .1h0m2-.5h0m3-.4h0m3 .7h0m2.3 0h0m-350.7 1.5h0m1.3-1.1h0m3-.1h0m1.1 1.3h0m.8-1.3h0m.8 1.7h0m135.7 .1h0m8.7-1.9h0m5.2 .1h0m13.4 .1h0m4 1.1h0m4.2-.5h0m2.5 1.3h0m3.1-.3h0m1.4-1.6h0m3.2 1.8h0m.8-1.9h0m1.5 1.9h0m.3-1.7h0m1.9-.3h0m0 .4h0m3 1.5h0m89.7-.1h0m.4-1.7h0m2.5 1.8h0m.9-1.9h0m22.8 1.3h0m4-.6h0m1.7-.6h0m2.8 1h0m13.7 .7h0m1.9-.2h0m1.3-1.6h0m1.6 1.7h0m2.8 .1h0m7.3-.4h0m-348.6 2.4h0m1.6-1.4h0m1.8 1.2h0m4.4 .1h0m133.5 0h0m2.5 .2h0m.3-1.6h0m1.5 1.7h0m23.2 .1h0m4.8 .2h0m1.5-2.1h0m.8 .7h0m1 1.4h0m.8-1.9h0m1.3 1.2h0m.1 .4h0m3.5 .1h0m1.4-1.4h0m.2 .9h0m1.5-1.2h0M8.2 49h0m99.2-.1h0m.8-1.4h0m43 1.6h0m2.6 .1h0m2.1 .2h0m2.3-.6h0m3.3 .4h0m4.3-.4h0m3.2-.1h0m.9-1.4h0m-351.8 4.1h0m2.1 .1h0m2.9-.5h0m1.4-1.5h0m3.3 2.1h0m133.1-.3h0m2.4-.1h0m2.6 .2h0m20.2 .3h0m2.6-.4h0m3.2 .1h0m1.8 .1h0m6.6-2h0m106.2 1.6h0m.5-.1h0m.6-1.5h0m46.7 1.4h0m3.2 .4h0m12.7 .1h0m-352.8 1.5h0m1.5 .6h0m1.6 0h0m4-.4h0m1.5-1.3h0m133.1 1.6h0m3 .4h0m2.3 0h0m20.2-.2h0m3.3 0h0m2.6-.4h0m5.6-1.4h0m98.2 1.5h0m7.7 .3h0m2.6-.8h0m.7 .8h0m26-.6h0m.4 .5h0m1.3-.4h0m.9-.5h0m2.4-.5h0m1.2 .2h0m18.4 .9h0m2.7 .6h0m5.2-.3h0m1.4-1.6h0m1.2 1.3h0m1.5-1.3h0m.9 1.7h0m-350.5 1.7h0m1.5 .5h0m.8-.4h0m1.5-1.4h0m.6 1.7h0m5.3-.1h0m130.8-.2h0m1.8 .3h0m10.6-.2h0m2.1 .1h0m5.7 .1h0m1.7-.2h0m2.8 0h0m4.8 .2h0m105.5 .2h0m6.8 .1h0m2.9-.1h0m1.1-.8h0m28.7 .4h0m.5 .3h0m2.6 .2h0m20.8-.1h0m2.9-.3h0M-180 57.3h0m4.9 .9h0m134.3 .1h0m2.5-.1h0m8.4 .1h0m2.3-.7h0m1.9 .7h0m1.7-2.2h0m.9 1.5h0m3.4-.1h0m5.9-1.4h0m113.5 1.4h0m3.6 .7h0m1.7-.4h0m.7-1.6h0m.4-.1h0m1 1.8h0m30.7-.6h0m2.7 .7h0m0-.6h0m.3 .3h0m18 .3h0m2.4 0h0m5.7-1.7h0m2.6-.1h0m1.4 2.1h0M-181.4 60h0m1-1.6h0m.8 1.4h0m1.1-1.3h0m1.1 1.7h0m132.7 .1h0m2.9 .1h0m2.1-.6h0m3.4 .2h0m2.5-.1h0m2.7-.1h0m2-.1h0m5.3 .5h0m122.8 0h0m3.8-1.8h0m.6 1.7h0m2.7-.3h0m36.4 0h0m.2-1.5h0m.4 .2h0m14.6 1.9h0m7.2 0h0m3-.5h0m2.3 .2h0m2.5-.2h0M-183 62.4h0m.2-.7h0m.8-1.2h0m1.3 2.1h0m2.9 0h0m1.3-1.5h0m133.7 1h0m2.6 .1h0m1.9 .1h0m2.7 .3h0m2.6-.4h0m6-1.6h0m128.6 .1h0m.4 1.3h0m2.6 .6h0m2.9-.3h0m29.4 .3h0m3.3-.8h0m21.5-1.1h0m2.3 1.9h0m2.6-.6h0m3-1.1h0m1.4 1h0m2.2 0h0m-357.4 2.8h0m3.2-1.7h0m1.8 1.7h0m.1-1.4h0m2 1h0m142.9 .4h0m3.1-.4h0m126.8 0h0m1.9-1.3h0m2.6-.2h0m1.2 1.4h0m2.5 .6h0m32-1.1h0m2.4-.2h0m.3 .7h0m26.7 .6h0m3.7-2.1h0m1.9 1.8h0m1.3-.4h0m.5-.9h0m3.6-.3h0M-182 65.1h0m.1 .1h0m.7 1.5h0m3.1-.2h0m.9-1.5h0m271.6 1.7h0m2.8 .2h0m1.2-1.9h0m1.9 1.4h0m1.8 .3h0m4.3-1.8h0M133 67h0m.1-.1h0m1.3-1.2h0m.8 .6h0m1.1-.9h0m31.5-.4h0m.5 1.8h0m.2-.6h0m1.2-1h0m2 1.5h0m1.1-1h0m.4 1.3h0m-356.3 .2h0m1 1.6h0m1-1.5h0m0 .3h0m.5 1.5h0m1.3 0h0m275.6-.5h0m11.4-1.3h0m23.7 1.8h0m.9-.4h0m.6-1.2h0m.1-.1h0m33.2-.3h0m3.7 2.1h0m.4-.8h0m2.6 .5h0m.9-1.7h0M175 69h0m-357.9 1.3h0m2.5 1h0m1.9-.1h0m273.1-.1h0m2.5 .3h0m1.3-1.9h0m1.2 1.7h0m1.1-1.8h0m10.9 .2h0m6.4 1.7h0m11.2-1h0m.9-.2h0m.7-.7h0m40.5 1.9h0m.8-.9h0m1.5-.2h0m.6 .8h0m2-.3h0M-183 73.4h0m2.8 .1h0m.8-2h0m0 1.9h0m272.8-.3h0m2.5 0h0m16.5-1.4h0m1.5 1.5h0m14.4-1.1h0m.6 1.2h0m.1-.3h0m.2-1.1h0m42.7 .5h0m.4 .9h0m1.4-1.7h0m1 1.7h0m.5 .1h0m1.4-.8h0m-358.9 1.3h0m1.9 1.9h0m.1-.1h0m7.1 .2h0m265.7-.5h0m4.4 .2h0m12.9-.4h0m1.7-1.5h0m15.7 .8h0m45.2 .6h0m2.7 .2h0m2.6 .1h0m-360.8 .8h0m.9 1.7h0m5.7 0h0m.5-1.9h0m269 1.9h0m1.3-1.7h0m13.2-.1h0m.7 1.4h0m17.7-.1h0m.2 .6h0m.6-.5h0m.6-1.5h0m46.4-.1h0m1.3 1.7h0m.9-1.5h0m1 1.2h0m-360.3 2.3h0m1.2-1.3h0m.6 1.1h0m7.3-1.1h0m264.2 1.5h0m17.9 .2h0m17.1-.4h0m.2-1.1h0m51.2 1.1h0m.1-.6h0m.4-.6h0m1.2-.2h0m.4 1.6h0m.8 0h0m-361.6 2.3h0m.2-1.2h0m272.1 .2h0m3.6 .8h0m1.4-1.3h0m.5 1.6h0m11.3 0h0m4.5-.2h0m12.7 .2h0m.6-1.7h0m53.9 1.7h0m.4-1.5h0m-362.4 2.7h0m2.6 .7h0m273.2 0h0m5.3 .6h0m7.1-.1h0m2.3-.3h0m2-1.5h0m.8 1.2h0m12.3 .4h0m1.1-1.7h0m.1 .7h0m54.5-.6h0m.6 1.8h0m1.2-2h0m.1 0h0m.2 .4h0m.6-.3h0m-363.8 2.1h0m0 1.5h0m1.8 .6h0m272.9-.3h0m2 0h0m1.6-1.7h0m11.7 2h0m2.4-.6h0m11.8-.1h0m.4-.2h0m.2 .7h0m57.5-.8h0m.3 .3h0m.5 .1h0M-181.5 88h0m270.3-1.1h0m21.2 1.5h0m71.2-.6h0m.3-.1h0m-365.2 1.5h0m.7 .3h0m1.5 1.6h0M90 89.3h0m.7 1.3h0m16.8-1.2h0m3.8 1.5h0m4.6 .2h0m64.4-1.4h0m1.1-.2h0m0 1h0m.7-1.1h0m.4 1.8h0m-366.6 .2h0m.9 .3h0m.7 1.7h0m1.4-.5h0M87.3 93h0m.6-1.6h0m1.5 1.7h0m2.2 0h0m14.2-1.7h0m2.9 .1h0m1 1.5h0m5.5-.1h0m64.9-1.4h0m1.7 1.5h0m.2-.6h0m1.3-.7h0m1 1.3h0m-367.6 .6h0m266.8 2h0m1.5-1.9h0m1 1.8h0m2.3 0h0m2.6-.3h0m14-1.6h0m2.1 .2h0m74.5 .1h0m1.7 1.7h0m-367.5 .3h0m.2 .1h0m1.2 1.6h0m.5-1.7h0m261.7 1.4h0m3.2 .1h0m2.1-.2h0m21.6-1.3h0m76.1 0h0m1 .6h0m.1-.7h0m.5 1h0m.4 .6h0m1.2-1.7h0m-371.2 2.4h0m.4 .8h0m3.4 .8h0m260.4 0h0m4.3 .3h0m18.7-.3h0m.3-1.4h0m1.5 1.5h0m1.2-1.7h0m78.3 1.4h0m1.3 .5h0m.8-.3h0m.1 .1h0m.6 .1h0m-371.9 1.9h0m1 0h0m.9-1.7h0m1.7 1.6h0m1.9 .3h0m262-1.9h0m1.1 1.9h0m16.9 0h0m2.7-.2h0m13.7 .3h0m68 .1h0m.6-1.9h0m2.1 1.5h0m.5 .1h0m-371.9 2.1h0m2.9 .1h0m1.5-1.3h0m257.6-.2h0m2.2 .1h0m1.7 1.7h0m20.6 .1h0m83.4-.2h0m1.8-1.2h0m.4 .7h0m.4 .3h0m-373.6 1.3h0m.8 1.1h0m2 0h0m2.8-.4h0m256.2-1.5h0m1.1 1.9h0m1.6-1.8h0m1.1 1.6h0m19.4-1.7h0m.5 2h0m3.9-1.8h0m82.3 .6h0m3.2 .8h0m-375.7 2.6h0m.6-1.7h0m2.1 1.2h0m258.9-1.2h0m22.9-.3h0m87.8 1.7h0m.7-1.7h0m1.6 0h0m0 1.5h0m.5-.9h0m.2 .5h0m.7 .8h0m-377.3 2.1h0m3 0h0m2.1-1.4h0m.3 1.2h0m.7-1.4h0m1 1.3h0m255.9 .1h0m1.4-1.5h0m1.6 .2h0m16.9 1.7h0m1.5-1.8h0m2.1 .1h0m2.8 0h0m85.8 1.5h0m.9-.7h0m1.3 1h0m.1-.7h0m-376.3 2.3h0m7.9 .3h0m255 .2h0m.7-1.7h0m19.9 1.7h0m1.2-1.7h0m1.2 1.7h0m89-.2h0m.5-.3h0m.3 .4h0m-379.4 2.1h0m4.9-.1h0m1.9-1.5h0m1.8 .1h0m254 1.7h0m1.1-1.7h0m1.9 1.8h0m18.5-1.9h0m94.9 1.4h0m2.6-1.3h0m-379.5 2.1h0m1.6 1.4h0m4.2-1.5h0m1.4 1.6h0m.6-1.6h0m2.5 0h0m271.4 1.6h0m1.9-1.3h0m94-.2h0m1.1 1.3h0m.7-.9h0m-379 3.6h0m4.3-1.7h0m3.2 1.7h0m1.5-1.6h0m250.9 1.6h0m1.2-1.9h0m2.6 .1h0m13.4 .1h0m1.8-.2h0m92.9 1.5h0m6.5 .2h0m.4-1.2h0M74 120.1h0m3.1-.2h0m.7 1.8h0m11.8-1.4h0m1.6 1.6h0m1-1.8h0m97 0h0m2.6 0h0m.9 1.9h0m-385.7 1.8h0m3.4-1.4h0m1.3 1.6h0m1.5-1.7h0m1.5 1.6h0m1.7-.1h0m1.6-1.4h0m1.6 1.7h0m.4-1.8h0m255.6-.1h0m1.2 1.8h0m2.2 .2h0m4.4-1.9h0m1.1 1.7h0m3.9-1.6h0m1.2 1.4h0m100.2-1.4h0m.2 .3h0m1.7 1h0m-381.5 2.7h0m10.3-.1h0m255.5-.2h0m6.1-1.7h0m4.6 0h0m100 .8h0m4 1.1h0m2.3-1.8h0m-379.6 2.5h0m2.4 0h0m.8 1.2h0m1.8-1.6h0m26.6 1.9h0m226.2-.1h0m1.4-1.5h0m5.7 .1h0m2.4-.2h0m2.2-.2h0m1.1 1.6h0m107-.4h0m1.5-.8h0m-383.9 2h0m3-.1h0m2.3 0h0m5.5 .1h0m1.6 1.6h0m248.5-1.5h0m5.3 .1h0m2.2-.4h0m2.8 0h0m.9 1.9h0m1.3-1.9h0m109.1 0h0m1.9 2h0m.7-2h0m0 0h0m.7 1.2h0m-384.9 2.8h0m1.2-1.5h0m1.8-.1h0m4.2 1.7h0m11.3-1.5h0m17 1.3h0m222.7-1.5h0m7.8-.1h0m2.4-.1h0m1.8 1.7h0m110.7-1.3h0m3.3 1.5h0m-382.4 .2h0m1.3 2.1h0m1.1-1.7h0m3.8 1.6h0m1.2-1.9h0m2.2 1.8h0m22.8 .2h0m2.3 0h0m.8-1.9h0M64.9 135h0m11.5-1.5h0m5.7 0h0m107.4 0h0m.2 .6h0m.5 1.2h0m1.2-.3h0m.4-1.7h0m.7 2h0m-385.1 .1h0m3.2-.1h0m4.7 .1h0m1.1 1.8h0m6.2-1.5h0m3.9 1.8h0m13-.5h0m234.3 .5h0m2.2-1.8h0m.6 1.4h0m1.1-1.8h0m116.5 1.4h0m.4 .4h0m.7-1.3h0m-384.6 3.9h0m.9-1.7h0m2.6 0h0m3.4 1.2h0m1.6-1.4h0m2.6-.2h0m4.3 2h0m2.1-.4h0m10.5 .4h0m6.2-2h0m1.3 2h0m1.1-2h0m344.1 .2h0m1.1 1.5h0m.9-.1h0m1.7 0h0m-386 2.5h0m2.5 .1h0m1.8-2.1h0m10.9 2h0m2.8-.2h0m5.4 .1h0m3.4-1.7h0m1 1.7h0m6.5-1.7h0m1.7 1.9h0m216.9-.3h0m.6-1.4h0m10.6 .1h0m115.7 1.6h0m1.2-1.8h0m3.8 1.5h0m-383.3 2.2h0m2.6 .3h0m2.2 0h0m10.5 0h0m3-1.9h0m5.7-.2h0m3.6 1.9h0m1.9-1.7h0m1.2 1.7h0m.9-1.4h0m4 1.3h0m1.2-1.4h0m213.3 1.5h0m11.5-1.4h0m118.1 1.4h0m1.3-1.7h0m.4 .3h0m-377.9 3.8h0m14.3-1.6h0m20.7-.2h0m.4 1.5h0m207.8-1.8h0m5.2 .1h0m8.3 0h0m1.8 .1h0m116.2 1.8h0m.1 .1h0m3.7-1.4h0m.6-.5h0m-380 3.9h0m2.3-.2h0m1.5-1.3h0m30.3 0h0m201.2-.2h0m10.3 .1h0m1.5 1.7h0m.8-1.9h0m1.2 1.7h0m3.2 .1h0m.9-1.8h0m2.5 .4h0m3.1-.4h0m119.4-.1h0m1 2h0m1.7-1.8h0m-383.8 2.4h0m6.7 1.7h0m1.3-2h0m30.8 .1h0m2.5 0h0m.8 1.9h0M47.8 149h0m.6 1.3h0m7.7 0h0m1.1-1.8h0m4.8 1.9h0m5.8-1.7h0m120.9 .3h0m1.6-.1h0m.3 .1h0m-377.5 3.5h0m.7-1.6h0m3.8 1.6h0m1.2-1.5h0m29.8 1.6h0m1.6-1.6h0m4.4 .2h0m191.6 0h0m6 1.5h0m2.2-1.6h0m.9 1.7h0m3.6-1.9h0m5.3 .3h0m124.4 .1h0m1-.3h0m.3 1.7h0m1.9-1.7h0m.8 1.5h0m-377.5 .8h0m4.7 1.7h0m2.9-1.8h0m3.4 .3h0m24.9-.3h0m2.9 .3h0m5.3-.1h0m1.2 1.6h0m189.1-2h0m6.6 1.7h0m1.4-1.5h0m.9 1.8h0m1.4-1.6h0m2.5-.4h0m1.5 1.8h0m124.3-1.5h0m1.4 1.8h0m2.7-.7h0m-375 1.2h0m5.1-.1h0m.3 1.8h0m2.2-1.9h0m1 1.6h0m.7-1.8h0m3.3 .2h0m1.3 1.5h0m20.4 0h0m.8-1.3h0m1.5 1.7h0m1.1-1.9h0m2.9 .1h0m3.7 1.6h0m187.4-1.6h0m2 .2h0m3.3-.1h0m135.1 .6h0m2.2-1.1h0m-363.5 2.5h0m5.7 .2h0m3.2 1.4h0m2.8-.1h0m1.3-1.2h0m3.8 1.5h0m7.7-.1h0m3.8-1.4h0m2.2-.5h0m5.1 .4h0m1.3 1.7h0m105.7-2.1h0m1.9 1.9h0m68.5 .2h0m5.7-.2h0m3.3-1.5h0m2.5-.3h0m2.3 .1h0m2.9-.1h0m130.3 .4h0m.3 .7h0m.7 .7h0m1.4-1.8h0m-360.5 2.1h0m1.2 2h0m.7-2h0m2.7 .1h0m6.8 1.8h0m.6-1.9h0m5.1 .3h0m7.5-.1h0m3-.2h0m1.7 1.7h0m1.1-1.3h0m1.1 1.7h0m1.7-1.8h0m3.7 1.8h0m1.7-.3h0m169.3 0h0m2.5-.1h0m2.1 0h0m1.6-1.5h0m4.3 .2h0m2.6-.4h0m3.2 .1h0m2.4-.1h0m130.1 0h0m.4 2h0m1.2-.3h0m2.1-1.1h0m-356.7 1.6h0m1.9 .4h0m3.3 .1h0m2.9 1.3h0m1.9-1.3h0m.7 1.2h0m1.4-1.2h0m3.3-.6h0m7 .6h0m1.9 1.3h0m1.9-.1h0m3 .2h0m.7-1.5h0m9 .4h0m3.7-.2h0m3.7 1.3h0m76.6-.1h0m5.1 .3h0m9.5-1.7h0m2.2-.4h0m19.4 1.8h0m7.8 0h0m19.9 .2h0m10.6-.2h0m3.9-1.7h0m1.6 1.8h0m2.2-.1h0m2.5 .1h0m4-1.9h0m2.1 .1h0m1.8 1.6h0m135 .4h0m.9-1.6h0m0 .2h0m-348.7 3.3h0m3.2-1.3h0m7 1.4h0m.7-1.4h0m2.1-.2h0m2.2 1.6h0m1.4-1.7h0m.3 1.8h0m1.8-1.8h0m4.1 1.8h0m5.1-.2h0m.6-1.6h0m2 1.7h0m1.3-1.8h0m1.4 .1h0m.6-.1h0m.9 .2h0m1.3 .2h0m2.9-.5h0m1.1 .7h0m1.8-.6h0m1.7 0h0m1.4 .8h0m1.4-.7h0m.2 1.2h0m3-.3h0m1.3 .4h0m2.7 .4h0m.1 0h0m69.6-1.4h0m3.9 1.2h0m9.2-1.3h0m3.1 1.6h0m7.8 0h0m5 0h0m4.9-.1h0m4.7-1.6h0m13.9 1.8h0m2.4-.3h0m2.7 0h0m4.9 .1h0m3.8-1.8h0m1.3 1.7h0m1.8-1.7h0m4.2-.1h0m10.4 .4h0m143.2-.1h0m-345.8 2.1h0m11.3 1.5h0m34.9-1.8h0m3.9 .1h0m1.8 .8h0m3.9 .5h0m1.5-.2h0m2.1 .9h0m57.6-1.7h0m2.7-.4h0m3.9 2.1h0m1-1.9h0m2.4-.1h0m2.2 1.9h0m1.4-1.6h0m.4 1.7h0m1.2-1.5h0m5.7-.2h0m2.3-.1h0m1.4 1.7h0m4.1-1.4h0m5.2 0h0m4.4-.1h0m2.9 .1h0m2-.6h0m1.6 1.9h0m1.4-1.3h0m2.5-.1h0m1.7 1.7h0m1.4-1.8h0m8.7 1.4h0m.8-1.7h0m5.9 .3h0m4.4 .1h0m1.3 1.5h0m5.2-.2h0m146.3-1.3h0m1.5 1.4h0m1.5-1.6h0m.7 1.2h0m.1 .3h0m2.1-1.1h0m.2-.5h0m-286.1 2.2h0m1.2 .1h0m.1 0h0m3.2 .3h0m1.2-.2h0m.5 .9h0m1.5-.4h0m2.8 .8h0m1.4 .3h0m2.7 .1h0m3 0h0m.6-.1h0m32.8-.1h0m1.5-1.8h0m1.2 2h0m2.4-.1h0m.7-1.6h0m3.4 0h0m1.3 1.5h0m3.9-1.7h0m.2 1.7h0m2.7 .3h0m3.3-.2h0m.7-1.7h0m2.9 .3h0m2.2-.3h0m5 0h0m3.1-.1h0m.7 1.9h0m1.5-2h0m2.1 .2h0m3.3 .4h0m.7 1.5h0m1.8-2.1h0m2.7-.1h0m4.7 .5h0m5-.4h0m15.7 .4h0m.3 1.2h0m13.6-1.6h0m143.8 1.8h0m.3-1.5h0m1.6 1.6h0m-268.5 .4h0m3.7 0h0m2.7 .3h0m3.2 1h0m1.2 .3h0m.9 .3h0m.7-.9h0m2 .7h0m2-.4h0m15.4 .4h0m1.2-1.6h0m2.3 1.9h0m17.3-.3h0m4.6 .3h0m1.6-1.9h0m1.3 1.7h0m1.4-1.9h0m1.2 1.9h0m1.5-1.3h0m1.1 1.4h0m.8-1.8h0m3.2 .2h0m5.2-.2h0m2.3-.1h0M2 171h0m1.7-.3h0m29.1 1.3h0m148.3 .4h0m1.4-1.5h0m3.6 1.5h0m-253.2 .9h0m1.4 .1h0m2.7-.6h0m.3-.1h0m1.9 .8h0m1.5 .1h0m1.3-.1h0m3.2 1.1h0m.2-.1h0m1.7-1.4h0m0 .6h0m.7 .9h0m1.5-1.3h0m5-.1h0m.6 .1h0m2.6-.3h0m5.9 1.9h0m2.4-.4h0m5.3 .4h0m1.5-1.9h0m3.5 1.6h0m2.1 .1h0m17-1.9h0m2.3 .1h0m183.2 1.4h0m1.9 .5h0m1.8-1.8h0m.7 0h0m-235 2.1h0m2 .7h0m1.1-.6h0m1.5 1.5h0m.5-1.6h0m3.2-.2h0m.8 1.9h0m1.7-1.7h0m6.1 1.6h0m1.6-1.1h0m86.2-.4h0m117.9 .4h0m7.2-.4h0m1.4 .2h0m.2 1.7h0m3.7-2.1h0m-241.1 2.4h0m24.6 1.8h0m68-1.4h0m134.4 0h0m6.1 1.2h0m1.7-1.7h0m-9 2.5h0m3.8 1.4h0m6.8-1.4h0m.9 1.5h0m.8-1.3h0m.3-.6h0m-141.3 4.3h0m134.8 0h0m.8-1.6h0m2.2-.3h0m1.4 1h0m1-1.3h0m-10.2 4.1h0m1.5-1.7h0m1.8 .1h0m.4 1.8h0m2.8-.2h0m.3-1.7h0m1.8-.1h0m-14.8 4h0m4.1-1.8h0m3.5 1.4h0m.7-1.5h0m3.5 .6h0m2.6 .1h0m1.7-.3h0m-121.9 3.5h0m94.3-.9h0m9-.6h0m6.9-.1h0m2.8 .6h0m1.4 1.4h0m1.5-1.9h0m2.8-.1h0m-10.4 4.2h0m1.1-1.5h0m2.8 .1h0m1.6 1.2h0m3.3-1.6h0m-116.5 2.2h0m.1-.1h0m.5 1.8h0m104.3-1.7h0m5.3-.2h0m3.8 1.8h0m1.6-1.8h0m2.4 0h0m-117.7 3.8h0m97.3-1h0m6.4 0h0m1.5 1.5h0m.8-1.5h0m2-.4h0m2.6-.1h0m-110.6 2.2h0m101.3 1.8h0m1-1.5h0m5.4 .1h0m2.1-.1h0m2.4-.3h0m-111.5 2.1h0m.1 .4h0m100.5 .7h0m2.3-1.2h0m1.9 .8h0m.4-.5h0m2.2 1.5h0m.9-1.5h0m-108.3 2.4h0m.7 1.5h0m97.1-.5h0m.2 .6h0m1.2-1.9h0m1.5 1.9h0m.7-1.4h0m.2-.5h0m1.2 1.9h0m.8-1.9h0m-102.3 4.1h0m94.9-.1h0m5.2-1.8h0m-99 3.7h0m94.3-.8h0m2-.3h0m-96.1 3.4h0m89.4-.7h0m.9-.9h0m1.7 0h0m.4 1.5h0m.8-1.5h0m1.8 .5h0m-95.1 2.3h0m.3 .1h0m79.6 1.3h0m8.5-2h0m1.1 1.9h0m2.2-2h0m-6.6 2.5h0m1.8-.4h0m.7 .6h0M68.2 215h0m76.7 .8h0m1.7-1h0m1 1h0m1.4-.9h0m1.2 .2h0m-88.6 2.2h0m1.7 1.6h0m.5-1.4h0m2 1.2h0m.5-1.6h0m2.5 .3h0m74.5-.4h0m.8 1.7h0m1.2-.5h0m.1-.7h0M66.1 221h0m2.3-1.9h0m72.4 1.1h0m.7-.4h0m.8-.5h0m-80.4 2.5h0m2.3-.2h0m4.5 .3h0m68.2 1.4h0m1.1 0h0m2.8-1.8h0m1.1 1.7h0m.8-1.9h0m-80.2 2h0m3.4 .3h0m1.5-.2h0m2.2 2.1h0m1-1.4h0m63.7 .8h0m1.2-.1h0m3.5-1.5h0m.2 .3h0m.7 .2h0M59 226.3h0m3.6 1.3h0m1.3-1.8h0m1.9 1.9h0m1.3-1.6h0m3.2 1.6h0m1.8-1.6h0m2.3 .3h0m57.8 1.3h0m.5-1.4h0m3 0h0m2.4-.4h0m-77.6 2.5h0m7-.6h0m5.6 .1h0m2.2 .4h0m55.7-.5h0m3 1.4h0m.3-1.3h0m2.2 .7h0M58.8 230h0m2.4 .4h0m5.5-.2h0m5.5 .4h0m2.1 .2h0m2.4-.3h0m5.8 .2h0m2-.1h0m1.5-.2h0m.1 1.6h0m41.6 0h0m.1-1.8h0m.8 1.8h0m0-.8h0m2.1-1.2h0m2.5 .1h0m2.3-.1h0m-77.9 2.4h0m1.8 1.8h0m.3-1.9h0m16.2 .1h0m1.7 .6h0m2.9-.7h0m1.7 2h0m1-1.7h0m3.4 1.6h0m37-1.5h0m.4-.2h0m2.9-.1h0m4.2-.2h0m.6 .4h0m-71.4 3.7h0m1.3-1.5h0m12.9 .2h0m.8 1.4h0m1.2-2h0m2.8 .1h0m1.1 1.8h0m3.7-1.6h0m25.3-.1h0m10.9 .3h0m.7 1.5h0m2.2-1.2h0m.3 .7h0m1.4-.7h0m2.7-.5h0m2.5-.1h0m-72.4 2.2h0m20.7 .6h0m4.9-.6h0m2 .3h0m22.9-.2h0m5.2-.3h0m2.1 .6h0m.6-.5h0m1.7 1.9h0m.9-1.4h0m2.7-.4h0m.6 1.3h0m1.8-1.4h0m3 .7h0m-67.5 1.7h0m2 .1h0m15.6 0h0m2.2 .2h0m7.8-.4h0m2.6 .3h0m12.8-.2h0m7.3-.2h0m2.8 .5h0m0 .9h0m2.8 0h0m0-.7h0m3.8 .6h0m1.2-1h0m2.7-.3h0M60.1 241h0m2.2 .5h0m13.7 .1h0m2.2-.6h0m9.8 0h0m2.8 .5h0m3 0h0m1.7-.3h0m1.4 1.8h0m1.2-1.4h0m5.4-.3h0m2.8-.4h0m2 .1h0m1.2 1.5h0m1.1-1.1h0m.7-.1h0m2.1-.2h0m3.4 .1h0m2.5 .4h0m.7 1.4h0m-60.9 .2h0m2.4 .7h0m3.1-.4h0m1.6-.2h0m3.3 .4h0m2.4-.1h0m2.6-.3h0m.7 1.9h0m1.3-1.8h0m18.5 .5h0m4.8-.8h0m2.3 .9h0m2.9-.6h0m2.6 .1h0m2.8 .3h0m2.3-.2h0m2.8-.1h0m-57.3 2.3h0m2.5 .1h0m1.6 .3h0m2.8-.1h0m2.7-.7h0m2.1 .2h0m3.5-.1h0m20.5 .5h0m1.9-.4h0m5.2-.3h0m2.8 .9h0m2-.3h0m-44 2.5h0m5.1-.7h0m1.9 .7h0m3.4-.1h0m1.6-.1h0m2.5-.2h0m16.3-.1h0m2.5-.2h0m1.3 2h0m1.1-1.3h0m2.1-.5h0m1.6 1.7h0m1.5-1.2h0m2.5-.3h0m-36.9 2.5h0m1.6-.3h0m3.3 0h0m20.4 .3h0m5.2 .1h0m4.8-.6h0m-34.3 2.1h0m2.3-.2h0m3.1 .8h0m19.5-.4h0m2.9-.1h0m2.5 .3h0m-27.1 2.3h0m1.8 1.4h0m1.8-1.9h0m17.8 0h0m2 .2h0m2.5-.5h0m-21 3h0m.3 1.4h0m4.7-1.2h0m12.6-.8h0m1.9 .7h0m3.1-.4h0M80.4 259h0m2.8-.4h0m2 .1h0m8.4 .8h0m5.2-.6h0m-19.5 2.5h0m2.6 .2h0m2.5-.5h0m2.7 .1h0m4.6 .1h0m2.7 .3h0m-11.5 2.1h0m2.7 .1h0m2.8-.8h0m2.5 .6h0m3-.3h0m-9.1 2.4h0m2 0h0"/><path d="M-30-110.5h0m-47.1 27.9h0m214.9 36.4h0M29.2-28.4h0M99.7 73.8h0" stroke="#b498e4"/><path d="M55.2-139h0m5.1 0h0M-63.1-91.5h0M51.4-52.1h0m53.4 61.6h0M120 24.2h0m39.5 .6h0M101 31.4h0m62.3-.8h0m-66.2 1.3h0m47.1 1.8h0m-44.5 1.2h0m14 4.6h0m5.1 6.4h0m36.8 1.7h0m-63.5 57.3h0m5-.5h0M87 122.2h0M-18.6 171h0" stroke="#ab8be7"/><path d="M-40.2-132.7h0m-71.2 34.4h0" stroke="#a27eea"/><path d="M77.6-128.3h0m-187.7 21.1h0m214.9 5.6h0m-68.7 9.4h0m-37.4 8.4h0m37.4 15.7h0m8.4-.5h0M-83.4-57.1h0m1.8-1.3h0m220.7 33.1h0M42.5-8.8h0m5.1 5.1h0m7.6 2.5h0m80.6 6.4h0m-84.4 6.3h0m1.2 7.7h0m61.1 5h0m33 15.3h0m17.8 0h0m-5 1.3h0m6.3 6.3h0m.3 8.6h0m0 1.3h0m-43.5 28.3h0m-305.2 22.4h0m10.2 43.7h0m21.1 0h0m27.2 13.5h0m188.3 56.7h0m10.2 4.8h0M57 238.5h0m.7 2.9h0m21.4-2h0m41.1-.2h0m-60.8 6.6h0m44 4.3h0m2.5-1h0m-18.5 3.6h0m-23.1 1.2h0m8.2 1h0m20 1.5h0m6.9-1.7h0m.2-.3h0m-25.4 3.2h0m8.2-.3h0m7 0h0m-12.9 3.3h0m4.4-.5h0m5 1.2h0m5-1.7h0m-2.5 3.4h0" stroke="#9870ed"/><path d="M70.4-129.6h0M-61-102.9h0m169.1 5.8h0M0-90.7h0m109.1 9.4h0m13.5 1.3h0m-226.4 8.9h0m213.7 1.8h0m15.2 .7h0M64.6-49.5h0m8.4 0h0m-1.3 3.8h0m-226.8 14h0m-4.6 4.6h0M39.9 27.3h0m.8 5.8h0m95.9 3.9h0m-155.7 2.5h0M132 37.7h0m23.6 0h0m-181.8 8.2h0M3 44.6h0m-8.3 6.3h0m-8.2 2.6h0m178.7 .5h0m.9 2.6h0m1.3 1.4h0m2.9 6h0m1.8 5.9h0m1.3 .8h0M81.9 94.9h0m99.9 24.2h0M53.9 157.3h0m-5.6 1.2h0m-180 4.4h0M59 226.3h0m1-1h0m-.7 2.6h0m17.4 2.6h0m.4 .7h0m3.1 1.1h0m4.3-1.7h0m1.5-.2h0m-3.9 2.3h0m4.5 1.5h0m-28.9 2.6h0m2.6-.5h0m27.5-.5h0m32.1 2h0m2.1 .3h0m-66.7 .5h0m.5 .9h0m3.5-.4h0m24.4 2.1h0m.8-2.2h0m9.3 2.5h0m18.8-1.5h0m3.4-.7h0m.4 .9h0m.4 1h0m1-1.8h0m.4 .2h0m.3 .1h0m1.2-.1h0M59.4 243h0m29.7 .9h0m5.9 0h0m15.5 0h0m1.8-.2h0m1.2 .4h0m.2-.6h0m1.1 .5h0m.7-.5h0m-14.5 1.8h0m2.8 .9h0m7-.4h0m-51.6 1.8h0m.7 1.9h0m.3-.9h0m1.5-.2h0m.6 1.3h0m32.8-2h0m1.3 2h0m3.2-1.8h0m1.6 1.7h0m2.2 .7h0m3.1-2.3h0m.8 .5h0M64 252.4h0m1.1-.9h0m2.1 1.9h0m2.1-1.2h0m2.3-.2h0m13.3 .7h0m9.3-.3h0m6.3 .2h0m2-.9h0m.6 .7h0m1.9-1h0M66.1 256h0m2.3 .4h0m2-.7h0m1.5 .5h0m4.2-1.8h0m2.2 .2h0m16.8 1.7h0m1-1.6h0m1.8 .9h0m-28.5 1.6h0m1.6 .2h0m8 .8h0m6.2 .5h0m6.3-1.3h0m.5 1.1h0m2.3-.5h0m2.8-.3h0m-19.6 2.4h0m2.1-.2h0m2.3 .5h0m0 1.2h0m1.2 .7h0m3.8-.6h0m-1.3 2.1h0" stroke="#8d63f0"/><path d="M23.4-140.6h0m19.6-1h0m-26 6.4h0m27.5 0h0m-7.1 3.8h0m21.6 .5h0m-3.3 1.3h0m-43 25.9h0m31 0h0m-128.4 11h0M19.1-79.3h0m104.8 4.9h0m2.5-1h0m-5.6 15.2h0m11.2 7.4h0m-280.3 16.5h0m-29.2 2.8h0m259.4 6.9h0m61.8 10.7h0M148 5.2h0m0 6.3h0m-40.7 7.7h0m1.3 2.5h0m31 29.2h0m28.2 8h0m.4 2.1h0m1.4 2.3h0m.3 1.4h0m2.2 2.4h0m3.6 9h0m1.8 6.6h0m1.9 3.1h0m2.5 6.2h0m.3 4h0m2.6 2.8h0m0 1.8h0m2.6 11.3h0m.4 1.5h0m2.4 5.1h0M70.4 142h0m-81.8 27.2h0m164.5 19.6h0m-3.7 22.4h0m-.7 5.8h0m-2.6 1.9h0m1-1.3h0m-80.2 3.7h0m73 1h0m3-1.7h0m-70.8 5.5h0m62.9 .3h0m2.1-1h0m2.4-1.5h0m-64.2 4.4h0m56.1 .3h0M58.8 230h0m0 1.2h0m13.4-.6h0m3.7 1.8h0m.7-1.2h0m-15 3.6h0m16-1.8h0m6.4 1.3h0m1.9 .1h0m40.7 .2h0m2.4-1.2h0m1.6 0h0m-55.3 3h0m5.1-.1h0m38.1 .1h0m1.2 1.6h0m5.5-1.4h0m.1 .5h0m-69.1 1.7h0m2 2.7h0m.8-2.2h0m1.1 1.7h0m51.2 .3h0m2.5-1.1h0m1.4-.6h0m7.2-.3h0m-57.8 4.2h0m11.9-.1h0m34 .3h0m1-.4h0m2-1.3h0m1.8 0h0m1.3 .3h0m1-.5h0m-58.4 4.4h0m21.4-.9h0m28 1.3h0m.8 .8h0m-46.8 2.3h0m6.2-1.3h0m12.3 1.6h0m.3-1.8h0m9.5 1.8h0m13.5-2.2h0m2 1.5h0m-45.8 2.3h0M64 253h0m28.1-.1h0m1.5-2.3h0m6 2h0m1-.7h0m-35 3h0m4.8 1.3h0m.1 .1h0m17.3-2.3h0m4.8 2.2h0m3.3-1.6h0m.3 1h0m5.2-1.8h0m-28.1 3.3h0m2.9 .5h0m3.8 .7h0m4 1.1h0m5.4-2.3h0m-14.2 2.4h0m7.2 .4h0m2.5 1.7h0m2-1.8h0m.6 .6h0m1.2 0h0m2-.4h0m3.2 3.3h0" stroke="#8056f3"/><path d="M-158.4-71.1h0m-5.1 2.5h0m29.2 17.8h0m92.5 108.9h0m1.7 .3h0m13.6-.7h0m2.9 .5h0m2.3-.7h0m.3-1.3h0m-22.9 4.4h0m1-2.1h0m1.6 1.9h0m16.6-1.8h0M168 61.3h0m1.4 2.5h0m3.3 4.5h0m1.5 3h0m1.2 1.6h0m0 2.8h0m.6-1.4h0m.6 4.5h0m.4 .5h0m.6-2.6h0m.9 2.3h0m-1.1 2.2h0m1.4 1.8h0m.3 .3h0m2.1 3.4h0m.3 .6h0m-1.5 1.9h0m1.8 1.3h0m.3-.2h0m-.3 3.8h0m0 1.6h0m2.4 0h0m1.5 7.4h0m.4-2h0m-106.8 3.3h0m106.9 1.1h0m.7-1.6h0m1.1 7.4h0m.4-.2h0m.6 .9h0m.8-1.2h0m-2 4.1h0m2.1-.2h0m-1.1 1.7h0m.7 4.5h0m1.9-1.1h0m.8 5h0m.7 1.2h0m.1-.7h0m-2 7.1h0m0 3.6h0m1.2-1.2h0m.1 1.6h0m.1 1.8h0m.1-.1h0m.8-1.4h0m-.4 5.4h0m.7 2h0m-3 5.3h0m-8.1 27.5h0m-4.7 3.8h0m4.4-.8h0m-5.5 3.4h0m1.5-1.2h0m3.2-.5h0m-4.4 5.1h0m-6.4 1.7h0m1.3 1.2h0m1.8-1.5h0m.8 1.5h0m-4.6 4.3h0m-.5 3.7h0m-8.9 4.8h0m1-2.3h0m4.8 .4h0m-7.6 2.6h0m2.6 2h0m-5.6 .8h0m2.5-.3h0m-6.9 3.8h0m3.1 1.2h0m1.2-.6h0m-89.3 7.1h0m81.4-1.6h0m-6 3.1h0m1.4 1.2h0m2-1.6h0m-74.5 5.9h0m65.7 .8h0m1.9-.8h0m2.1 1.2h0m-70 2.4h0m-12.7 4.7h0m2.1-.1h0m1.5-1.9h0m65.6 1.3h0m4.9-.3h0m.5 .4h0m2.9-2h0m-55.8 4.7h0m1.4-1.7h0m3.6 1h0m38 1.6h0m.9-.2h0m1-.9h0m3.2 1.2h0m3.2-2.4h0m-73.3 4h0m59.3 1.3h0m2.2-1.1h0m2-.7h0m5-.4h0m-23.5 2.9h0m7.5 2.2h0m6.5-2h0m-46.8 4.4h0m2.4-.1h0m4.1-2h0m32.2 .4h0m3.8-.3h0m3.1 .8h0m4.2-.9h0m-58.6 4.3h0m9.2-.3h0m3.5-.1h0m31.8 2.6h0m-8.1 4.2h0m-4.9 4h0m-14.5 2.2h0m5.2 5.2h0" stroke="#7248f6"/><path d="M48.8-123.3h0m-104.2 7.2h0M0-95.8h0m112.4 8.1h0m1.3 2.6h0m-237.8 6.3h0m77.6 2.1h0m-76.3 2.3h0m175.4 18h0m12.8 1.8h0m-2.6 2.5h0m-190.2 26h0m5.8-1.8h0m2.1 4.6h0m149.3 61h0m2 0h0m-70.2 18.5h0m2.7 1.2h0m1.9-1.1h0m1.4 1h0m.3-.9h0m1.9 1.9h0m8.1-1.5h0M-36 59.1h0m3.8-.4h0m1.1 1.2h0m4.5 0h0m1.5-.3h0m190.9 7.9h0m5.5-.7h0m3.9 6.9h0m5.2 11h0m-.9 1.9h0m4.6 12.1h0m1.1 .1h0m-.6 4.7h0m.7 3.2h0m1.2 2.1h0m.7-1.8h0m1.4 1.6h0m.2 1.6h0m2.6 6.5h0m-.6 3.8h0m-1.5 2.9h0m.4-.3h0m.1 2.9h0m3.6 3.8h0m.2-1.8h0m-3.4 2.5h0m-.4 4.3h0m.5-.8h0m-.5 3.9h0m1.7-1.1h0m3.2 1.9h0m-1.3 2h0m-4.6 3.8h0m5.1-.8h0m-2.3 4h0m1.4-1.7h0m-3 4.2h0m-1.1 2.2h0m4.3-.2h0m-5.7 2.5h0m3-.1h0m-2.7 3.6h0m-1.1 6.3h0m-4.2 2.1h0m-.2 4.9h0m-1.6 2.3h0m1.7-1.3h0m1.3 1.3h0m-5.2 3.9h0m3.5-1.2h0m1.3 1.3h0m-8.5 6.5h0m1.8-2.6h0m2.7 .8h0m-7.4 3.8h0m3.1-.4h0m-5.3 4h0m3.5-1.6h0m4.8-.7h0m-7.2 5.3h0m.1-.1h0m-4.4 3h0m1.9 .4h0m4-2.2h0m-9.5 3.9h0m2.7 .9h0m-2.3 3.6h0m1.7-.9h0m1.9-1.6h0m-5.4 4.4h0m-5.1 3.7h0m-4.2 3.5h0m.7-2.8h0m1.5 0h0m-6.4 4h0m.3 1.8h0m1.2-.5h0m.2-2.3h0m1.8 1.9h0m3.1-1.5h0m-8.3 2.6h0m-5.5 5.4h0m4.7-.3h0m-83.6 2h0m79.3 1.2h0m.6-1.3h0m-6.6 4.3h0m-72.6 1.6h0m70.2 1.4h0m.9-.8h0m.3 .4h0m-6.5 3.2h0m-70.1 2.4h0m64.8 .6h0m3.2-2.2h0m-10.5 5.7h0m6.1-.7h0m2.5-1.7h0m.5 2.2h0m-37.1 .9h0m26.7 .4h0m2.9 1.3h0m2.5-.5h0m-39.1 7.3h0m8.5-1.8h0m21-1.2h0m-23.5 10.1h0m1.2 6.6h0" stroke="#6139f9"/><path d="M-157.2-17h0m121 72.4h0m1.8-.2h0m-5.1 3.1h0m1-2.1h0m.7 2.1h0m8.1-2.1h0m.6 2.2h0m.9-.3h0m2.6 .2h0M-39 60.4h0m2.2-.3h0m5.5-.2h0m1.7-.6h0m131.3 31.1h0m83 6.2h0m3.7 20.9h0m1.2-1.8h0m-.1 8.2h0m2.6 3.4h0m-1.2 1.2h0m2.1 1.6h0m.7-2.1h0m.3 4.2h0m-3.5 9.6h0m3.1-.3h0m-1.6 3.4h0m-2 1.2h0m-.6 2.6h0m-2.4 8h0m2.1-.2h0m-3.1 2.3h0m.4 1h0m3-.1h0m-5.3 2.3h0m-1.6 5.7h0m2.2 .9h0m.5 3.7h0m-5.3 7.4h0m2.4 .4h0m-7.9 5.6h0m1.4 3.1h0m.5 .2h0m-8.8 4.5h0m1.4-1.5h0m4.6-.3h0m.5 .1h0m-9.9 4.5h0m1.1-1.5h0m.2 .2h0m4.8 .5h0m-2.4 2.5h0m-7 2.1h0m3.2 .4h0m1.4-.3h0m-8.8 4.4h0m3.4-1.1h0m3.3 1h0m-9.4 3h0m5.3 .9h0m2-1.9h0M154 210h0m3.9-1.2h0m-12 6.7h0m-1.9 3.9h0m-2.6 3.5h0m-8.1 3.8h0m3.5 2h0m-7.9 1.7h0m.9 1.2h0m.4-2.1h0m2.9 1.1h0" stroke="#4c28fb"/><path d="M192 140.5h0m1.3 7.4h0m-4.6 3.4h0m4.1-.5h0m-2 3.5h0m.8-2.1h0m-5.1 4.2h0m.5 1.1h0m2.9 .3h0m-5.5 2.9h0m1.5 .9h0m1.8-.1h0m.5 .2h0m-4.1 3h0m2.3 1.7h0m2.3-2.1h0m-3.3 4.6h0m.9-1h0m-2.3 2h0m-2.3 4.6h0m1.4-1.1h0m-1.3 4.5h0m2.7-1.9h0m-5.6 9.9h0m-9.8 10.5h0" stroke="#2b12fe"/></g>
<g transform="translate(1691.5 1064.3)" stroke="#d3d3d3" stroke-width="4.8" stroke-linecap="round" fill="none"><path d="M10-136.2h0m11 0h0m11 0h0m-71.5 9.5h0m11 0h0m11 0h0m33 0h0m-93.5 9.5h0m11 0h0m11 0h0m11 0h0m11 0h0m11 0h0m11 0h0m-82.5 9.6h0m11 0h0m11 0h0m33 0h0m11 0h0m-71.5 9.5h0m11 0h0m11 0h0m77 0h0m11 0h0m-137.5 9.5h0m44 0h0m99 0h0m11 0h0m11 0h0M-122-79.1h0m-5.5 9.6h0m11 0h0m231 0h0M-155-60h0m33 0h0m11 0h0m11 0h0m-60.5 9.5h0m55 0h0m-60.5 9.6h0m11 0h0m55 0h0m-49.5 9.5h0m11 0h0m33 0h0m-27.5 9.5h0m11 0h0M98 92.4h0m-5.5 9.5h0m-5.5 9.6h0m-253 38.1h0" stroke-width="18"/><path d="M2-139.7h0m6 0h0m6 0h0m6 0h0m6 0h0m6 0h0m6 0h0m6 0h0m-75 5.2h0m6 0h0m6 0h0m6 0h0m6 0h0m6 0h0m6 0h0m6 0h0m6 0h0m6 0h0m6 0h0m6 0h0m6 0h0m6 0h0m6 0h0m6 0h0m6 0h0m-117 5.2h0m12 0h0m6 0h0m6 0h0m6 0h0m6 0h0m6 0h0m6 0h0m6 0h0m6 0h0m6 0h0m6 0h0m6 0h0m6 0h0m12 0h0m6 0h0m6 0h0m6 0h0m6 0h0m6 0h0m6 0h0m-159 5.2h0m6 0h0m6 0h0m6 0h0m6 0h0m6 0h0m6 0h0m6 0h0m6 0h0m6 0h0m6 0h0m6 0h0m6 0h0m18 0h0m6 0h0m6 0h0m60 0h0m-165 5.2h0m6 0h0m6 0h0m6 0h0m6 0h0m6 0h0m6 0h0m6 0h0m6 0h0m6 0h0m6 0h0m6 0h0m6 0h0m18 0h0m6 0h0m6 0h0m6 0h0m60 0h0m-177 5.2h0m6 0h0m6 0h0m6 0h0m6 0h0m6 0h0m6 0h0m6 0h0m6 0h0m6 0h0m6 0h0m6 0h0m6 0h0m6 0h0m6 0h0m30 0h0m6 0h0m-129 5.2h0m6 0h0m6 0h0m6 0h0m6 0h0m6 0h0m6 0h0m12 0h0m6 0h0m6 0h0m6 0h0m6 0h0m6 0h0m18 0h0m12 0h0m12 0h0m-129 5.2h0m6 0h0m6 0h0m6 0h0m6 0h0m6 0h0m6 0h0m6 0h0m18 0h0m6 0h0m6 0h0m6 0h0m24 0h0m6 0h0m6 0h0m6 0h0m90 0h0m-225 5.2h0m6 0h0m6 0h0m6 0h0m6 0h0m6 0h0m6 0h0m6 0h0m6 0h0m6 0h0m6 0h0m12 0h0m42 0h0m6 0h0m6 0h0m6 0h0m6 0h0m-141 5.2h0m6 0h0m6 0h0m12 0h0m6 0h0m6 0h0m6 0h0m6 0h0m6 0h0m66 0h0m6 0h0m6 0h0m6 0h0m6 0h0m6 0h0m6 0h0m6 0h0m6 0h0m72 0h0m-255 5.2h0m6 0h0m6 0h0m6 0h0m6 0h0m18 0h0m6 0h0m6 0h0m6 0h0m6 0h0m6 0h0m72 0h0m6 0h0m6 0h0m6 0h0m6 0h0m6 0h0m6 0h0m78 0h0m-261 5.2h0m6 0h0m6 0h0m6 0h0m6 0h0m6 0h0m18 0h0m12 0h0m6 0h0m6 0h0m6 0h0m84 0h0m6 0h0m6 0h0m6 0h0m6 0h0m6 0h0m6 0h0m6 0h0m54 0h0m6 0h0m-273 5.2h0m6 0h0m18 0h0m6 0h0m6 0h0m6 0h0m36 0h0m102 0h0m18 0h0m6 0h0m60 0h0m6 0h0m6 0h0m-279 5.2h0m6 0h0m18 0h0m6 0h0m6 0h0m6 0h0m36 0h0m102 0h0m6 0h0m78 0h0m6 0h0m6 0h0m6 0h0m-285 5.2h0m6 0h0m6 0h0m12 0h0m6 0h0m6 0h0m6 0h0m6 0h0m36 0h0m96 0h0m6 0h0m6 0h0m12 0h0m60 0h0m6 0h0m6 0h0m6 0h0m6 0h0m-291 5.2h0m6 0h0m6 0h0m6 0h0m24 0h0m6 0h0m6 0h0m6 0h0m6 0h0m6 0h0m6 0h0m102 0h0m6 0h0m48 0h0m6 0h0m24 0h0m6 0h0m6 0h0m6 0h0m6 0h0m6 0h0m-297 5.2h0m6 0h0m6 0h0m6 0h0m24 0h0m6 0h0m6 0h0m6 0h0m6 0h0m120 0h0m54 0h0m6 0h0m6 0h0m30 0h0m18 0h0m-303 5.2h0m6 0h0m6 0h0m6 0h0m6 0h0m18 0h0m18 0h0m6 0h0m6 0h0m120 0h0m42 0h0m18 0h0m30 0h0m-279 5.2h0m6 0h0m6 0h0m18 0h0m30 0h0m6 0h0m6 0h0m6 0h0m114 0h0m24 0h0m18 0h0m18 0h0m-255 5.2h0m6 0h0m6 0h0m6 0h0m12 0h0m6 0h0m24 0h0m6 0h0m6 0h0m6 0h0m114 0h0m-195 5.1h0m6 0h0m6 0h0m6 0h0m6 0h0m6 0h0m6 0h0m6 0h0m18 0h0m6 0h0m6 0h0m6 0h0m180 0h0m-255 5.2h0m6 0h0m6 0h0m6 0h0m6 0h0m6 0h0m6 0h0m6 0h0m6 0h0m6 0h0m6 0h0m6 0h0m174 0h0m18 0h0m6 0h0m-261 5.2h0m18 0h0m6 0h0m6 0h0m6 0h0m6 0h0m6 0h0m6 0h0m6 0h0m138 0h0m60 0h0m6 0h0m-249 5.2h0m6 0h0m6 0h0m6 0h0m6 0h0m6 0h0m6 0h0m192 0h0m60 0h0m3 5.2h0M47-9.8h0m90 0h0m6 0h0m-9 5.2h0m6 0h0m6 0h0M131 .6h0m-15 5.2h0m6 0h0m6 0h0M113 11h0m18 0h0m12 0h0m-321 5.2h0m291 5.2h0m42 0h0m-333 5.2h0m300 0h0m24 0h0m6 0h0m-333 5.2h0m324 0h0m6 0h0M-178 37h0m342 0h0M-34 47.4h0m6 0h0m6 0h0m6 0h0m6 0h0m174 0h0m-195 5.2h0m6 0h0m6 0h0m180 0h0m-195 5.2h0m198 0h0m-60 10.4h0m-3 5.2h0m6 0h0m-9 5.2h0m6 0h0m-3 5.2h0M98 89h0m6 0h0m-9 5.1h0m6 0h0m-15 5.2h0m6 0h0m6 0h0m-15 5.2h0m6 0h0m6 0h0m-15 5.2h0m6 0h0m6 0h0m-15 5.2h0m6 0h0m6 0h0m-273 5.2h0m264 0h0m6 0h0m-270 10.4h0m0 10.4h0m6 0h0m-3 5.2h0m6 0h0m6 0h0m6 0h0m6 0h0m-21 5.2h0m6 0h0m6 0h0m6 0h0m6 0h0m-9 5.2h0m6 0h0m6 0h0m3 5.2h0m108 10.4h0m6 0h0m117 67.5h0m-3 5.2h0m6 0h0m6 0h0M77 250h0m6 0h0m6 0h0m-9 5.2h0m6 0h0m6 0h0m-3 5.2h0" stroke-width="10"/><path d="M15.9-149h0m1.8-.3h0m12.8 .1h0m-28.7 2.3h0m2.2-.5h0m2.7 .5h0m2.9 .1h0m9.7-.2h0m7.3-.3h0M.1-145.4h0m2.9 .6h0m2.9-.3h0m1.5-.4h0m3.3 .7h0m2.5-.2h0m2.6-.5h0m2.7-.1h0m2.5 .9h0m2.6-.1h0m2-.4h0m2.9 .5h0m1.9-.9h0m3.5 .4h0m2.2 .5h0m4.6-1h0m2.6 1.1h0m-46.7 2.1h0m2.4-.3h0m2.6 .2h0m3.1 0h0m2.4-.1h0m2.6-.3h0m2.1 .1h0m2.7 .1h0m2.6-.6h0m2.1 .7h0m3.2-.1h0m2.2-.1h0m2.5 .5h0m2.1-.9h0m2.6 0h0m3.1 .7h0m2.7-.5h0m1.9-.1h0m3 .1h0m2 .6h0m2.9-.3h0m3.1 .2h0m4.6 .2h0m2.8-.8h0m2.3 .6h0m-77.6 1.6h0m5.5 .1h0m1.6-.2h0m2.8 .7h0m2.3-.4h0m2.7-.5h0m48.7 .7h0m3.1-.4h0m1.5-.1h0m3.1 0h0m2.1 0h0m2.6-.2h0m3.5 .6h0m2.3-.1h0m1.8 .3h0m2.9 .2h0m-102.8 1.8h0m4.3-.1h0m3-.1h0m2.2-.2h0m2.9 .8h0m2.5-.1h0m2.3-.1h0m2.3-.3h0m3.5-.4h0m2.2 .8h0m2.2-.2h0m2.9 .1h0m2.8-.3h0m47.9 .2h0m2.2-.1h0m3.4-.1h0m2.1-.2h0m2.8 0h0m2.7 .2h0m1.9 .3h0m2.6-.5h0m2.6 .7h0m2.7-.4h0m5.3-.6h0m-111 3.2h0m2.5-.2h0m5.7 0h0m4.3-.3h0m7.5 .4h0m5.6-.2h0m4.6-.4h0m2.4 0h0m54.4 0h0m2.2 .1h0m3-.3h0m1.9 0h0m2.8 .7h0m2.6-.6h0m2.1-.1h0m3.5 .5h0m2.3 .1h0m2.7-.5h0m-128.8 2.9h0m10.2-.5h0m2.6-.2h0m2.3 .6h0m2.4-.3h0m2.8 .5h0m101.6-.6h0m2.9 .1h0m2.4-.5h0m2.3 .7h0m2.6-.3h0m2.9 .7h0m-149.4 2.2h0m5-.9h0m3 .6h0m5 0h0m2.5-.3h0m2.8-.4h0m1.7 0h0m2.7 .2h0m2.7 .5h0m81.9 .2h0m30.2-.2h0m2.3-.5h0m2.8 .7h0m2.4 0h0m2.7-.9h0m2.5 .8h0m2.3-.4h0m-161.5 2.6h0m7.6 .2h0m5-.3h0m2.3-.2h0m2.7-.5h0m2.9 .1h0m2.2 .1h0m5.5 .7h0m2.7-.3h0m83.6 .1h0m3-.1h0m43.3-.6h0m-166.9 2.8h0m1.9 .2h0m2.7-.3h0m3.3-.2h0m2.1-.1h0m2 .1h0m3 .7h0m2.4-1h0m2.5 .1h0m2.5 .1h0m2.7 .3h0m2.6 .5h0m56.3-.1h0m5.6-.1h0m22.9-.6h0m5 .3h0m2.4 .3h0m2-.2h0m2.5-.3h0m5.7 .5h0m2.3-.2h0m2.7 0h0m7.4-.2h0m2.1 .4h0m3.2-.4h0m2.8 .6h0m4.4-.8h0m5.8 .7h0m7.5-.4h0m-170 2h0m2.9 .6h0m7.2-.9h0m71.5 .2h0m2.5 .5h0m3.3-.2h0m1.7-.1h0m2.7 .1h0m20.9-.1h0m2.2 .7h0m2.9-.4h0m2.6 0h0m4.6-.3h0m3.1 .5h0m1.7-.1h0m3.3-.7h0m2.6 .8h0m2.6-.8h0m2.7 .3h0m2.1 .7h0m3-1h0m1.8 .2h0m2.7-.2h0m2.8 .4h0m2.3 .3h0m2.4 .1h0m2.7-.3h0m2.4-.5h0m7.7 .2h0m2.8 .7h0m2.5-1h0m-179.7 3.1h0m2.5 .2h0m2.6-.8h0m1.9 .2h0m79.3 .6h0m5.7-1.1h0m5 .1h0m17.4 .3h0m3.2 .3h0m20.5 0h0m2.1-.1h0m20-.2h0m3.2-.1h0m1.7 0h0m2.9 .1h0m7.4 .1h0m2.5 .5h0m2.5-.3h0M-90-121h0m2-.1h0m3 .3h0m78.8 .1h0m2.4 .4h0m5.7-.4h0m4.8-.1h0m23.3-.5h0m20.1 .8h0m2.5-.3h0m23.2-.4h0m2 .2h0m2.4 .3h0m8.3-.5h0m2.4-.2h0m-185.2 2.5h0m2.9 .3h0m2.3 .1h0m2.7-.5h0m81.4 .5h0m2.5-.1h0m3.1 .1h0m2.3 .1h0m2.9-.5h0m23.1 .8h0m19.7-.3h0m3.1-.4h0m27.5 0h0m2.2 .2h0m8.6 .4h0m2.1-.4h0m-190.3 2.3h0m2.7-.2h0m2.5 .5h0m3.3 0h0m1.6-.8h0m3.2 .2h0m79.3 0h0m2.6 .6h0m2-.3h0m3-.5h0m1.8 .1h0m3 .1h0m2.7-.3h0m1.9 .8h0m2.8-.2h0m3.2 .4h0m11.8-1.1h0m4-.1h0m3.9 1.1h0m10.5-.7h0m2.3-.1h0m33.8-.2h0m1.6 1h0m2.8-.6h0m2.4 .3h0m3.4-.6h0m-197.9 2.3h0m2.5 .3h0m2.2 .2h0m2.9-.4h0m2.9 .3h0m88.7-.4h0m2.9 .8h0m2.1-1h0m3 .3h0m1.9 .7h0m2.9-.1h0m2-.7h0m3.2 .8h0m2.5-.6h0m2.9-.1h0m1.9 .7h0m10.8-.9h0m2.5 .3h0m2.7-.3h0m5.1 .2h0m1.8 .1h0m3.3 .1h0m1.8 .5h0m3.2-.4h0m33.2-.5h0m2.5 .3h0m2.7 .2h0m2.3 .2h0m2.5-.4h0m2.4-.2h0m-202.5 2.7h0m1.9-.4h0m2.5 .1h0m85 .5h0m12.1-.2h0m2.2 .3h0m6 0h0m2.3-.6h0m3-.3h0m2.1 .2h0m5.5-.2h0m1.5 .9h0m5.7-.2h0m7.3-.6h0m3.1 .5h0m7.9 .1h0m2.3-.6h0m2.6-.1h0m1.7 .1h0m2.9 .7h0m36.3-.2h0m2.4-.2h0m1.9 .4h0m3.1-.7h0m1.9 .2h0m2.8 .3h0m-213 2.2h0m2.6-.4h0m3.2 .7h0m1.7 0h0m44.1-.2h0m2.3 .1h0m2.7-.7h0m38.5 0h0m2.5 .3h0m2.3 .3h0m2.9 0h0m1.9 .2h0m4.9-.8h0m5.5-.1h0m2.7 1h0m4.7-.9h0m5.6 .8h0m2.1-.5h0m4.7-.4h0m2.6 .1h0m3.6 .4h0m4.8-.2h0m9.7 .1h0m2.5-.2h0m2.4-.2h0m2.5 .5h0m28.3-1.2h0m10.5 1.5h0m2.4-.6h0m2.8 .7h0m2.9-.3h0m2 .1h0m-212.8 2.2h0m2.9-.4h0m2.4-.2h0m2.8 .6h0m1.6 .1h0m43.4-.3h0m2.6-.1h0m2.7 .1h0m36.2 .2h0m2.4 0h0m2.5-.5h0m2.9 .1h0m1.9 .7h0m2.5-.9h0m5.6 .1h0m2-.2h0m3.2 1h0m6.9-1h0m2.6 .5h0m3.1-.4h0m5.4 .2h0m2.6 .4h0m1.6-.4h0m2.8 .5h0m2.6-.8h0m3.2 .6h0m2 .3h0m2.5-.6h0m5.7 .4h0m2.4-.3h0m1.9 .1h0m41.2-.1h0m2.4 .2h0m2.7-.3h0m2.8 .2h0m2.2 .5h0m2.6-.8h0m-226 2.6h0m5.6-.6h0m2.6 .6h0m1.9-.1h0m3.2-.2h0m1.7 .2h0m3.5 .2h0m40.5 .1h0m2.5-.6h0m5.1 0h0m2.2 .3h0m32.9-.5h0m2.5 .1h0m2.9 .1h0m5 .8h0m11-.2h0m2.2-.4h0m10.4-.2h0m2.3 .7h0m2.7-.8h0m2.4 .5h0m2.1-.4h0m5 .3h0m2.7-.1h0m2.7-.1h0m3 .2h0m2.4-.1h0m2-.2h0m2.6 .4h0m3.1-.2h0m2.3 .6h0m2.8 0h0m40.8-.3h0m2.5 .2h0m2.4-.1h0m3.1-.4h0m2.4 0h0m2.1 .2h0m2.6-.6h0m-233.6 2.7h0m5 .4h0m2.7-.9h0m3 .2h0m2.5 .2h0m48.8 .3h0m1.7-.2h0m7.9 .1h0m2.6-.5h0m28 .5h0m2.8-.5h0m2.9 .8h0m2-.9h0m2.1 1h0m3.5-.9h0m27.8 .3h0m2.1 .2h0m23.7 .2h0m2.2-.7h0m2.9 0h0m2.2 .5h0m2.3 .2h0m40.6-.3h0m2.8 .1h0m2.1 .4h0m5.2-.4h0m3.5 .4h0m2.2-.7h0m-233.8 2.8h0m2.7-.4h0m3-.5h0m1.7 .2h0m3.1 .7h0m51-.7h0m2.2 .3h0m3.4 .3h0m2.2-.3h0m2 0h0m5.6 .1h0m2.5 .4h0m2.3-.4h0m3 .4h0m2.3-.4h0m2.1-.1h0m2.8 .2h0m2.3 .1h0m3.2 0h0m2.8-.8h0m2.1 .2h0m2.3-.2h0m2.3 .1h0m3 .8h0m3.1-.6h0m2.1 .2h0m25.1-.4h0m3 .5h0m2.4 .3h0m22.9-.7h0m2.6-.2h0m5.4 .4h0m42.6-.2h0m2.6 .2h0m2.8-.3h0m2.4 .8h0m2.7-.4h0m3.3-.1h0m1.8 .5h0m-243.9 2h0m6.2-.4h0m1.9 .3h0m66.3-.1h0m2.7 .1h0m2.6-.5h0m5.4 .6h0m2-.2h0m2.4-.5h0m2.6 0h0m2.8 .6h0m2.9-.4h0m2.3 .2h0m2.4 .4h0m2.5-.7h0m2.7-.1h0m8.1 .9h0m1.7-.2h0m2.6-.5h0m2.4-.1h0m28.9 .7h0m2.2-.3h0m2.9 0h0m20.5-.5h0m2 .9h0m2.9 0h0m5-.8h0M70-98h0m23.4 0h0m1.7-.5h0m3.8 .1h0m2.5 .1h0m2 0h0m3.2-.4h0m1.6-.5h0m3 .6h0m5.1 .1h0m-250.9 2.1h0m1.8-.7h0m2.9 .2h0m2.8 .1h0m64 .7h0m2.4-.7h0m2.5 .2h0m2.7-.2h0m1.8 .1h0m5.3 .6h0m2.6 0h0m5-.5h0m3.2 .1h0m2.3-.5h0m17.6 .1h0m2.4 .4h0m2.4-.6h0m31.5 1h0m2.5-.3h0m1.9 0h0m2.4 .2h0m3-.9h0m2.9 .6h0m1.6 .3h0m3.2-.1h0m2.9 .2h0m2.7-.3h0m1.9-.6h0m2.9 .4h0m2.2-.2h0m2.5 .3h0m2.7 .3h0m48-.8h0m2.9 .9h0m2.2-.4h0m3.3-.2h0m1.9 .5h0m2.9 .1h0m-255.8 1.8h0m2.4 .2h0m2.4 .1h0m1.9-.4h0m3.2 .1h0m20.7-.4h0m2.3 .4h0m38-.5h0m2.3 .3h0m2.9 .3h0m2.3 0h0m2.4-.3h0m2.3-.1h0m3.4 .2h0m2.7 .2h0m2-.4h0m2.3 .8h0m5.9-.3h0m2.3-.8h0m20 .3h0m2.7 .4h0m2.9-.1h0m34.9-.4h0m11.2 0h0m11.9 .6h0m2.9-.4h0m2.3 .6h0m2.9-.5h0m2.5 .4h0m15.7 .3h0m12.1-.9h0m20.1 .2h0m2.8 .3h0m3.1 0h0m1.8 .1h0m5.8 .1h0m2.8 0h0M-142.2-92h0m2.7 0h0m2.7-.1h0m1.7-.1h0m2.4 0h0m21 0h0m2.2 .4h0m2.7-.5h0m38.1 0h0m3.1-.3h0m2.5 .1h0m2.5 .4h0m2.3-.4h0m2.1-.2h0m2.8 .7h0m33.8-.2h0m4.5-.2h0m2.5 0h0m2.7 .4h0m53.5-.6h0m2.2 .8h0m5.2-.7h0m2.6 .8h0m2.8-.8h0m47-.3h0m1.2 .5h0m3.1-.4h0m2.6 .3h0m7.3 .4h0m-263.9 1.8h0m2.1 0h0m2.6 0h0m2.9 .1h0m2.5-.2h0m20.9 .6h0m1.8-.1h0m8.1-.3h0m2.8 .7h0m35.4-.1h0m2.1 0h0m5.2-.1h0m2.7-.4h0m43.2 .6h0m3.1-.2h0m2.3-.4h0m2 .5h0m3.2-.9h0m2.1 0h0m46.8 .6h0m6.9 0h0m3.3-.5h0m1.9 .6h0m22.8-.5h0m27.8 .8h0m3.1-.6h0m7.7 .1h0m2.4 0h0M-150-87.3h0m2.7-.8h0m2.6 .4h0m30.3 .4h0m2.8 0h0m4.8-.9h0m2.9 1h0m38.1-.7h0m40.8 0h0m12.1 .5h0m6-.1h0m2-.3h0m2.5 .3h0m49 .1h0m1.8-.6h0m3 .5h0m3-.6h0m2.2 .4h0m2.6-.5h0m2.2 .9h0m46.5-.8h0m1.6 .8h0m2.6-.5h0m8-.3h0m2.2 .1h0m3 .3h0m-276.8 2.1h0m2.6 .4h0m2.9 .1h0m33-.9h0m2.1 .3h0m2.7 .5h0m2.8 0h0m2.8-.5h0m10.1-.2h0m2.7 .6h0m25.1 .1h0m2.9 .1h0m15.2-.2h0m1.8-.4h0m41.6 .4h0m2-.7h0m5.9 .5h0m2.1 .2h0m3 .2h0m34.9-.8h0m2.3-.2h0m3.6 .3h0m1.6-.1h0m3.2 .7h0m2.3-.6h0m2 .6h0m3.5-.5h0m45.7-.4h0m1.9 .9h0m10.5-.5h0m2.9 .5h0m-277 2.4h0m2.3-.2h0m2.6-.3h0m35.6 .1h0m3.5 .1h0m1.7-.6h0m3.1 .1h0m2.6 .1h0m7.1 .2h0m3.4-.3h0m1.7-.1h0m26.3 .9h0m1.7-.2h0m13.4 .2h0m2 0h0m2.9-.4h0m5.5-.8h0m15.6 1.3h0m17.1-1.1h0m5.6 .6h0m1.8-.2h0m3 .6h0m2.4-.1h0m2-.3h0m51.2-.6h0m3 0h0m1.8 .4h0m41.7-.1h0m2.3-.3h0m12.5 .1h0m3 .8h0M-159.1-81h0m4.7-.3h0m3.4 0h0m1.9 .2h0m7.7 .2h0m30.5-.4h0m2.5 .6h0m5.1-.4h0m3.4-.5h0m4.9 .9h0m1.7-.3h0m5.6-.4h0m22.5 .6h0m3.3-.8h0m13 .9h0m2.3-.5h0m2.7 .6h0m2.3 0h0m5.5-1.4h0m37.6 .9h0m5.7-.1h0m1.8 .6h0m2.8-.2h0m2.3-.8h0m17.8 1h0m23.6-.3h0m7.8-.8h0m1.9 .4h0m1.8 .6h0m39.7 0h0m1.7-.6h0m13.4 .5h0m2.2-.8h0m2.1 .3h0M-158-78.7h0m2.3 .1h0m11-.2h0m2.4 0h0m2.8-.2h0m1.6-.1h0m2.7 0h0m25.5 .3h0m3.2 .1h0m2-.2h0m5.2 .2h0m2.8 .1h0m2.5 0h0m5.5 0h0m2.4-.6h0m2.2 .3h0m3.1-.5h0m2.1 .7h0m8.1 .3h0m2-.7h0m2.6 .1h0m2.2-.4h0m18.3 .6h0M9-78.6h0m4.5-.7h0m2.1 0h0m2.6 .3h0m3 .2h0m2.1 0h0m7.7-.5h0m2.6 .2h0m2.5 .7h0m2.8-.2h0m2.6-.7h0m11.9 .7h0m3.4 .1h0m2.3-.8h0m2.8-.1h0m2.2 .3h0m35.5 .5h0m3 .1h0m2.7-.3h0m1.9 .3h0m15.7-.9h0m2.1 1h0m2.5-.1h0m-286.1 1.4h0m2.2-.1h0m12.9 .1h0m2.8 .7h0m2.1-.1h0m2.1-.4h0m2.5 0h0m26.1 .4h0m2.5-.1h0m10.2 .4h0m2.3-.9h0m2.2 .2h0m3.4-.2h0m2.2 .5h0m3.1 0h0m2.1 0h0m7.4-.5h0m2.2 .1h0m2.7 .7h0m76.3-.5h0m6 .1h0m2-.1h0m5.9-.2h0m6.9 .7h0m2.5-.1h0m3.3-.3h0m1.8 .1h0m2.7 0h0M53-77h0m2.5 0h0m2.1-.2h0m3.1 .7h0m1.7-.4h0m2.4 .5h0m4.8 0h0m28.9-.8h0m2.8 1h0m1.8-.8h0m3.3-.2h0m19.8 1h0m2.9-.4h0m-289.7 2.1h0m2.7 .2h0m10.1-.1h0m3.2 .3h0m2-.5h0m4.9 .4h0m3-.2h0m25.8-.5h0m2.2 .8h0m2.8-.1h0m7.1-.8h0m3.2 .2h0m2.1 .1h0m7.8-.3h0m2.5 .8h0m5.3 .2h0m2.8 .1h0m2.3-.9h0m2.7-.1h0m80.8 .1h0m.9 .7h0m2-.5h0m2 .1h0m3.2-.1h0m10.6-.1h0m7.2 .6h0m2.5 0h0m2.4 .1h0m3.2 0h0m2.2-.9h0m2.1 .4h0m2.8 .4h0m3-.4h0m1.7 .4h0m3.3-.2h0m2 .1h0m2.4-.2h0m34 .1h0m2.2-.2h0m2.1 .5h0m20.5-.9h0m2.6 .9h0m3-.8h0m-292.3 2.5h0m2.2 .5h0m13-.5h0m2.7 .3h0m5.5-.1h0m2 .3h0m25.9-.7h0m2.3 .3h0m8.1-.2h0m2.4 .5h0m2.9-.5h0m1.6 .2h0m2.4 0h0m6 .1h0m2.2-.4h0m7.4 .6h0m2.3-.9h0m3.3 .3h0m2.7 .2h0m26.2 .7h0m54.7-.5h0m1.9-.7h0m.6 .5h0m2.5 .2h0m13.1-.7h0m8 .3h0m2.6 .4h0m2.1 .1h0m2.4 .1h0m2.6-.8h0m8.1 .1h0m2.4 .3h0m2.9 .1h0m1.6-.6h0m33.9 1.1h0m2.5-.4h0m2.4-.3h0m25.2-.2h0m2.7 .2h0m2.1-.4h0m-297.1 3.2h0m3.1 0h0m12.6-.6h0m2.6-.2h0m2.6 .7h0m2.2 0h0m3.1-.3h0m27.3 .2h0m8.2 .1h0m2.4-.8h0m2.5-.1h0m2.9 1h0m10.5-.9h0m2.1 .5h0m5.6 .2h0m2-.4h0m3 .5h0m83.5 .2h0m2.7-.2h0m1.4-1.5h0m1.8 1.6h0m14.5-.1h0m2.9-.5h0m2.5 .1h0m2.6 0h0m2.1-.5h0m3.1 .4h0m2.6-.1h0m10.2 .4h0m2.1-.5h0m2.5 0h0m2.3-.2h0m2.8 .2h0m30.5 .7h0m3-.8h0m27.4 .5h0m2.8-.4h0m-296.5 2h0m1.9 .6h0m17.9 0h0m2.7-.1h0m2.2 .3h0m29.1-.1h0m2.1-.7h0m2.7 .6h0m5.4-.6h0m2.1 .1h0m2.1 .6h0m2.5-.1h0m3.5 .3h0m1.9-.8h0m5.3 .6h0m2.3-.3h0m7.6 .4h0m13.2-.8h0m8.4 1.3h0m65.1-.6h0m1.2-.7h0m1.1 .7h0m18.1-.1h0m2.8-.1h0m2.5 .5h0m2.3-.5h0m5.8-.3h0m2.6 .7h0m2.1-.3h0m4.7-.4h0m2.9 .8h0m2.7-.1h0m2.4-.8h0m2.4 .1h0m2.8-.2h0m1.3 .2h0m26.6 .2h0m33.5 .4h0m-297 2.4h0m1.9 0h0m18.1-.4h0m2.9 .1h0m1.8 0h0m34.1 0h0m2.2-.3h0m8.1 0h0m1.5 .4h0m3.1-.3h0m2.3 .1h0m2.6 .2h0m2.3-.5h0m3 .1h0m3-.4h0m4.2 .6h0m12.9 .4h0m2.6-.9h0m2.3 .9h0m69 0h0m.8-1.6h0m2.1 1.3h0m12.5 .2h0m2.3 .1h0m3.3-.4h0m1.7 .1h0m3.1-.4h0m2.3-.1h0m4.9 .7h0m2.6-.6h0m2.8-.2h0m2.2 .2h0m6.1 .1h0m1.6 .5h0m3.1-.4h0m2.4 .6h0m2.9-.2h0m2.2-.6h0m2.9-.1h0m1.9 .5h0m3.1-1.4h0m17.6 1.5h0m2.1 .2h0m31.4-.3h0m2.3-.7h0m-299.5 2.5h0m2.3 .3h0m20.6-.2h0m2 .2h0m2.4 0h0m3 .4h0m3-.5h0m1.9 0h0m38.2 .1h0m3.1-.4h0m1.9 0h0m5.9-.1h0m2.4 .2h0m2.6 .2h0m1.8 .5h0m3.2-.4h0m21.2-1.1h0m65.2 1.3h0m12.5 .1h0m2.5-.5h0m2.8 .5h0m2.4-.9h0m7.5 .5h0m3.3 .2h0m2.6 .3h0m2.1-.1h0m2.9-.3h0m7.5-.3h0m2.7 .6h0m2.4-.8h0m2.7 .1h0m10.5 .3h0m2.6-.1h0m2.1 .5h0m2.8-.3h0m2.1-.6h0m2.5 .2h0m2.8 .4h0m2.4-.1h0M98-63h0m35.9-1h0m2.8 .4h0m-304.9 2.7h0m2.8-.6h0m22.7 .4h0m2.8 .2h0m2.1-.3h0m2.5 .3h0m2.5-.7h0m3.3 .6h0m47.8-.6h0m3.1 .7h0m2.7-.4h0m12.4 .2h0m4.8 .3h0m71.5-.4h0m.7-.5h0m.3-.7h0m12 1.1h0m2.6 .1h0m2.9-.1h0m9.8 0h0m2.7-.2h0m2.2-.2h0m2.7 .1h0m5.5 .6h0m2.1-.4h0m2.5-.2h0m2.4-.1h0m3.1 .6h0m1.9 .1h0m2.5-.2h0m11 0h0m2 0h0m2.6-.1h0m2.9-.3h0m2.5 .3h0m2.7 .3h0m5.3-.4h0m35.6 .1h0m1.7 0h0m-303.8 2.6h0m2.5-.3h0m22.4 0h0m3.1-.5h0m2.4 .1h0m9.6 .7h0m35.6-.2h0m2.6-.5h0m2.7 0h0m2.6 .8h0m3.3-.9h0m2.1 0h0m2.7 .4h0m91.6 .2h0m2.3-.5h0m8.2 .4h0m2 .4h0M30-59h0m1.8 .2h0m6-.2h0m6.8 0h0m10.8-.5h0m2.2 .1h0m4.9 .8h0m7.6-.3h0m10.6-.5h0m2.5 .7h0m5 .1h0m2.2-.1h0m3-.3h0m2.8-.1h0m2.8 .6h0m2.1-.2h0m2.5-.2h0m2.6 .1h0m5-.2h0m7.4 .5h0m3.2-.8h0m1.8 .7h0m3.3-.5h0m1.7 .3h0m5.9-.3h0m2.6-.1h0m-307.4 2.3h0m2-.3h0m26.3 .7h0m9.7-.3h0m2.4-.5h0m35.5 .5h0m2.7 .1h0m2.6-.5h0m3.1 .6h0m2.5-.1h0m2.7 .4h0m1.8-.2h0m3.1-.6h0m90.4-.9h0m1.4 .6h0m.2 .9h0m1.7 0h0m5.3 .1h0m2.8-.2h0m7.9-.6h0m7.8 .5h0m1.9-.4h0m2.6-.2h0m8.3 .8h0m1.7-.1h0m3.2 .3h0m1.9 0h0m2.6-.7h0m5.1 0h0m2.5 .5h0m18.3 .1h0m5.5-.3h0m1.9-.1h0m2.5 .3h0m2.9 .1h0m1.9-.9h0m2.7 .4h0m2.9 .3h0m2.9-.6h0m7.5 .7h0m2.6-.3h0m1.8-.5h0m5.2 .9h0m7.7 0h0M-172-55.2h0m2.5 .8h0m25.3-.2h0m3.1 .3h0m7.9-.6h0m1.7 .7h0m3.1-.3h0m12.5-.1h0m20.4 0h0m2.7-.5h0m5.1 1h0m2.5-.8h0m3 .1h0m2-.1h0m5 .8h0m89.2-.2h0m1.3-.3h0m.9 .6h0m.9-.2h0m.5-1.7h0m7.2 1.1h0m1.9 .3h0m6 .3h0m1.5-.1h0m8.5-.8h0m2.6 .8h0m2.5 0h0m4.5-.8h0m5.8 .6h0m1.7-.4h0m3.2-.3h0m2.5 .4h0m2.9 .4h0m2-.7h0m2.9 .6h0m4.3-.2h0m10.4 .2h0m8 0h0m2.7 0h0m2-.5h0m8.1 0h0m2.1 .2h0m2.7 .4h0m5.8-.5h0m1.9 .6h0m7.7-.8h0m3.1 .6h0m5 .4h0m2.6-.1h0m-312.9 1.6h0m2.6-.3h0m27.9 .6h0m2.9-.5h0m2.6 .9h0m1.9-.2h0m2.6-.7h0m2.6 .2h0m8 .5h0m2.9 0h0m2.5-.1h0m1.9 .2h0m20.6-.9h0m8.4 .9h0m2.1 .1h0m1.9 0h0m5.1-1h0m3.4 .9h0m2.6-.6h0m86.7 0h0m1.8 .5h0m1.1 .2h0m1.3-.4h0m.4-.9h0m5.2 .9h0m2.9-.4h0m2.2 0h0m2.1-.1h0m10.3 .8h0m3.5 .1h0m2-.4h0m2.9 0h0m2.7-.6h0m4.5 .2h0m2.8 0h0m7.9 .3h0m2.6-.2h0m1.8-.2h0m2.9 .1h0m2 .1h0m7.9 .3h0m2.3 0h0m2.5-.6h0m3.5 .3h0m2.4-.2h0m12.7 .9h0m5.4-.8h0m1.6-.1h0m2.5 0h0m8.1 .5h0m2-.3h0m2.9-.1h0m2.3 .1h0m2.6 0h0m3.1 .5h0m-317.5 2.4h0m2.1 0h0m2.9-.3h0m30.7 .3h0m2.9-.7h0m2.1 .7h0m2.4-.9h0m3 .1h0m1.8 .8h0m5.8-.4h0m2.7 .2h0m1.9-.4h0m2.3 .2h0m3.3 0h0m20.3-.2h0m2.6 .2h0m2.2 .3h0m2.9-.5h0m2.6 0h0m4.6 .3h0m5.4-.5h0m88.7 .1h0m2.9-.2h0m7.9 .6h0m5.2-.5h0m2.6-.1h0m2.2 .3h0m8.1 0h0m2.6 .1h0m2.4-.4h0m1.9 .4h0m8-.2h0m8.2-.2h0m1.5 .6h0m5.8-.7h0m2.1 .8h0m2.8-.1h0m5.1-.2h0m2.3-.1h0m3.1-.1h0m1.9-.3h0m3.3 .3h0m9.9-.1h0m10.3 .8h0m2.1-.3h0m2.3-.7h0m2.8 .6h0m3.2-.2h0m2.4 0h0m1.9 .1h0m5.3-.4h0m2.8 0h0m-312.6 2.1h0m2.3 .5h0m21.1-.2h0m2 .4h0m3.3 0h0m2.4 .1h0m1.9 .2h0m7.7-.2h0m2.8-.3h0m2.3 .5h0m2.6-.4h0m2.8 .4h0m2.3-.9h0m5.7 0h0m2.7-.1h0m20.3 .4h0m4.2-.1h0m3.4 .1h0m1.9-.3h0m5.3 .5h0m2.2-.6h0m92 .7h0m2-1.3h0m1 .7h0m.9-.5h0m.5-.2h0m6.4 .9h0m2 .2h0m4.8 .3h0m2.7 .2h0m5.2-.4h0m2.9 0h0m2.1-.1h0m5.5 .2h0m2.6-.7h0m2.2 .2h0m2.9 .1h0m7.8 .1h0m1.9-.4h0m5.4 .2h0m3.2 .3h0m2-.2h0m7.9 .5h0m2.5-.5h0m2.6-.2h0m2.6 .8h0m10.1-.7h0m2.3 0h0m5.4-.1h0m2.7 .1h0m1.8 .8h0m3.2-.4h0m10.3-.2h0m1.9 .3h0m3.3-.7h0M-173.9-46h0m2.5 .1h0m20.5 .1h0m2.5-.5h0m2.2 .2h0m4.9 .1h0m3.1 .6h0m4.8-.3h0m2.4 0h0m2.1-.6h0m3.5 .2h0m2.2 .1h0m2.6 .4h0m2 .1h0m6 .2h0m2.3-.8h0m25.4 .8h0m1.9-1h0M17.1-46h0m2.1 .5h0m.3-.2h0m2.5 0h0m7.6 .4h0m5.2-.2h0m2.7-.8h0m2 .5h0m6-.1h0m1.8-.1h0m5.2 .6h0m2.9-.5h0m2.4 .1h0m7.3 .2h0m8.2 .1h0m2-.3h0m3.2 0h0m10.2-.3h0m2.3 .3h0m2.1 .5h0m3.3-.6h0m2 .2h0m2.9-.1h0m4.9 .1h0m2.2-.2h0m2.5 .2h0m3.2-.1h0m15.2-1.1h0m7.5 1.2h0m.1-1.6h0m2.8 1h0m-317.9 2.7h0m2.3-.4h0m2.9 .7h0m25.8 0h0m1.6 0h0m3.4 .3h0m2.6-.2h0m7.2-.8h0m2.3 .1h0m8.3 .4h0m1.8 .2h0m2.6-.2h0m3.1 .3h0m2.9-.3h0m24.7-.4h0m2.8 .8h0M18.6-43h0m2.5-1h0m1.3 .4h0m3.6 .2h0m12.2 0h0m8.5-.7h0m1.7 .5h0m3.3-.2h0m4.7 .2h0m8.1-.4h0m2.3 .9h0m2.1-.3h0m2.6-.1h0m7.4-.1h0m3.5-.3h0m2.5-.2h0m1.7 .2h0m3.4 .1h0m6.8 .3h0m2.7 .3h0m2.7-.2h0m8.3 0h0m27.6-.7h0m2 .7h0m-316.5 1.5h0m1.6 0h0m28.4 1h0m3.1-.5h0m12.6 .2h0m1.8-.1h0m10.5 .2h0m3.2-.8h0m2.1 1h0m24.9-.3h0m3.1-.1h0m102 0h0m2.9 .4h0m.3-1.2h0m9.6 1.1h0m5.6-.5h0m4.7 .6h0m2.5 .1h0m2-.9h0m3.4-.2h0m2.5 .2h0m2.2 .4h0m9.7-.3h0m2.6 .3h0m3.3 0h0m2.3-.4h0m10 0h0m2.7 .7h0m2.2-.8h0m2.7-.1h0m3.1 .8h0m6.9-.6h0m3.3 .4h0m2-.2h0m4.8-.4h0m2.7 .9h0m25.5-.8h0m.5-.8h0m.4 .6h0m1.7 .8h0m-314.9 1.9h0m3 .6h0m25.2-.4h0m2.2 .4h0m2.7-.8h0m13.5 .3h0m2.2 .4h0m2.2 0h0m7.9 .1h0m3-.4h0m2.1-.3h0m23.2 .8h0m2.7-.6h0m104.4 .1h0m.6-.5h0m1.2 .4h0m3.6 .3h0m1.5-.3h0m.4-.9h0m5.6 .6h0m7.8 .7h0m2.1-.2h0m2.1-.5h0m3 .9h0m2.1-.6h0m3.4-.4h0m1.7 .7h0m3.2-.7h0m5.1 .3h0m1.8-.2h0m3.4 .7h0m2.2-.6h0m2.5 .5h0m10.7-.3h0m2.1 0h0m2.6-.5h0m2 .2h0m2.6 .1h0m7.7-.3h0m3.4 .9h0m2.1 .2h0m2.9-.9h0m2.3 .7h0m25.3-.9h0m5.2 .5h0m-317.9 2.6h0m3.4-.7h0m28 .1h0m19.8 .8h0m2.4-.7h0m3 .2h0m2.9 .1h0m2.2-.3h0m25.7 0h0m1.7-.1h0m109.7-.1h0m1.5 1h0m1.2-1h0m2.5-.8h0m.4 .8h0m2.4-.2h0m8 .6h0m4.8 .2h0m2.5 0h0m8.1 0h0m2.5-.6h0m10.5 .1h0m1.8 .6h0m2.9-.8h0m2 1h0m15.3-.2h0m2.7 0h0m7.6-.4h0m3.3 0h0m1.6 .6h0m3-1h0m5.2 .2h0m25.2 .3h0m2.8-1.5h0m.4 1.6h0m1.8-.1h0m-319.1 1.7h0m2.3 .3h0m48.5-.1h0m2.6 0h0m1.7 .7h0m2.8 0h0m2.8-.7h0m2.4 .7h0m22.9-1h0m2.3 .6h0m110.1 0h0m2.4-.3h0m3 .6h0m0-.9h0m.4-.8h0m1.6 1.1h0m18.3 .6h0m2.7-.4h0m2.4 .6h0m1.9-.3h0m5-.6h0m2.6 .5h0m3.1-.1h0m2.4-.5h0m2.1 .3h0m3.4-.2h0m2.4 0h0m1.8-.1h0m3.1 .2h0m2.2-.3h0m8.4 .1h0m1.8 .6h0m3.2-.2h0m1.7-.2h0m3.5-.2h0m2.5 .8h0m2.5-.4h0m1.9-.2h0m28.5 .5h0m2.4-1.2h0m.4 .7h0m-315 2.8h0m2.5-.4h0m2.2 .3h0m45.7-.4h0m2.8 .6h0m4.7-.8h0m2.5 .2h0m18.3-.3h0m2.7 .9h0m2-.9h0m2.5 .5h0m112.8 .4h0m.8-.8h0m1.7 .7h0m2.6-.5h0m2.3 .4h0m8.1 .3h0m10.2-.9h0m2 .3h0m8.4-.1h0m9.5-.2h0m2.2 .4h0m3.3-.2h0m2.7 .2h0m2.3-.2h0m2.6 .1h0m2.2-.2h0m2.4 .4h0m5-.5h0M93-33h0m3 0h0m2.1-.1h0m3.4 .3h0m1.6 .5h0m7.8-.1h0m26.3 .3h0m1.6 0h0m-319 2.2h0m2.2-.8h0m2.4 0h0m2.7 .4h0m76.1-.5h0m2.9 .9h0m117.4-.9h0m.2 .9h0m.1-1h0m1 .8h0m1.2-.1h0m2.3-.2h0m5.5 .1h0m2 .4h0m10.5-.7h0m5.5-.2h0m2.5 .2h0m9.9 .6h0m2.2 0h0m7.9-.3h0m2-.4h0m3.3 .4h0m2.2 .1h0m2.7-.3h0m2 .3h0m10.8 .4h0m2.6-.7h0m38.6 .7h0m1.9-.5h0m.3-.3h0m-317.2 2.1h0m2.4 0h0m1.8 .2h0m10.8 .4h0m2.9 .1h0m58.4-.2h0m2.1-.2h0m2.7 .1h0M22-28.6h0m2.4 .7h0m.4-.7h0m2.2 .1h0m.5-.7h0m2.3 1.5h0m2.2-.1h0m7.6 0h0m15.8-.1h0m12.2-.8h0m2.8 .2h0m2.1 0h0m2.5 .9h0m8.1-.1h0m3.1-.2h0m1.9-.3h0m10.4 .5h0m2.1-.9h0m7.7 .6h0m28.6 .3h0m2.7-.3h0m2 .2h0m-319.8 2h0m2.6-.1h0m2.5 .3h0m9.7-.8h0m3.5 .2h0m1.8 .3h0m3.3-.5h0m53.2 0h0m2.7 0h0m2.4 .2h0m122.2 .8h0m.4-.4h0m1.6-1.6h0m1.2 1.2h0m.8 0h0m6.1 .2h0m7.6-.4h0m5.1 .1h0m7.4 .5h0m13.8 .2h0m4.8-.5h0m2.4 .7h0m5.4-.6h0m1.7 .4h0m2.5 .1h0m2.9 0h0m13.4-.3h0m1.9 .4h0m3-.1h0m2.6 0h0m2.4-.5h0m20.7 .5h0m2.3-.1h0m1.8-.2h0m1.6-1.3h0m1.6 1.1h0m1.1-.4h0m1.1 .1h0m-322.5 2.1h0m.4 .1h0m2.8 .7h0m1.5 .1h0m3-.9h0m2.9 .2h0m4.8 .7h0m3-.1h0m1.9-.8h0m5.6 .2h0m50.9 .3h0m2.6-.5h0m126.9-1h0m.3 1.5h0m2.5-.4h0m5.1 .3h0m2.7 .5h0m10-.9h0m25.8 .8h0m2-.8h0m2.8 .4h0m2.8 .4h0m2.3-.7h0m2.9-.1h0m2.2 .3h0m10.6 .6h0m2.3-.5h0m3 .5h0m2.6-.9h0m2.3 .2h0m7.2-.2h0m8 0h0m2.8 .4h0m2.6 .5h0m2.2 0h0m2.7-.7h0m2.6 .5h0m2.6-.5h0m1.5-.6h0m.6 1.4h0m3-.5h0m-322.9 2.6h0m1.6-.7h0m1 0h0m2.6 .8h0m5-.9h0m2.2 0h0m2.6 .9h0m3.3-.1h0m1.8-.4h0m2.8 .5h0m43.9-.6h0m2 .1h0m2.2 0h0m2.6 .4h0m3.2-.3h0m130 0h0m.5-1.3h0m2 .7h0m1.5 .4h0m1.3-.1h0m2.5-.1h0m7.1 .7h0m2.3 .1h0m3-.1h0m2.3-.5h0m2.7-.1h0m7.3-.1h0m7.6 .1h0m5.5 .8h0m4.9-.2h0m2.5-.8h0m8.5 .9h0m1.5-.5h0m3 .3h0m3.1-.3h0m2.5-.3h0m1.8 .4h0m3.3-.1h0m2.1-.4h0m2.6 0h0m2.1 .9h0m5.6-.2h0m2.1 0h0m3.4-.6h0m7 .7h0m2.7-.7h0m2.1-.2h0m5.1-.4h0m.5 1.3h0m2.2-.9h0m-322.5 3.3h0m.3-.3h0m2.5 .1h0m2.7 .2h0m2-.8h0m8.4 0h0m2.2 .6h0m2.5-.6h0m2.1 .4h0m3.1 .2h0m43.8-.7h0m2.2 .8h0m2.2-.4h0m135.5-.5h0m.1-.3h0m2.6 .4h0m1.6-.6h0m.7 1.4h0m1.8-1.6h0m.9 .8h0m1.2 .2h0m16.8-.2h0m5.1 .8h0m6.9-.7h0m5.4 .2h0m8.3 .2h0m6.7 0h0m3-.2h0m5.4-.1h0m1.9 .3h0m2.4-.1h0m2.5-.4h0m3-.1h0m2.9 .8h0m2.2-.7h0m2.1 .6h0m7.8-.1h0m3.3 0h0m7.8-.1h0m1.8 .3h0m5.2-.8h0m1.6 0h0m.9 1h0m.1-1.1h0m2.4 .3h0m-324.6 2.3h0m2.1 .1h0m2.5 .2h0m2.6-1h0m.6 1.3h0m12.3-.3h0m2 0h0m2.5-.4h0m2.8 .7h0m3.1-.6h0m2.3 .5h0m2.1-.4h0m2.7 .3h0m2.7-.6h0m2.8 .8h0m10-.6h0m10.6-.3h0m2.5-.1h0m2.3 .5h0m2.9 .1h0m141.9 0h0m.1 .1h0m1.5-.3h0m1.8 .1h0m1.9 .3h0m.3 .2h0m7.2-.5h0m11-.4h0m5 0h0m1.9 .9h0m3.1 0h0m2.8-.9h0m4.3-.1h0m2.8 .8h0m2.3-.7h0m5.8 .2h0m10.1 .6h0m5.3-.5h0m7.3-.2h0m5.2 .6h0m7.3-.6h0m5.3-.1h0m7.2 .5h0m3.2-.3h0m7.1-.2h0m-321.9 2.9h0m2 .1h0m.6-.2h0m2.5-.2h0m1.8 .1h0m11.2 .1h0m4.9-.5h0m12.6 .7h0m1.9 0h0m2.7-.6h0m2.9 0h0m3 .8h0m2.5-.4h0m2.6 0h0m2.3 .3h0m2.8-.7h0m2-.3h0m2.6 1h0m3-.2h0m2.4-.7h0m4.8 .6h0m142.5 .3h0m1.7-.7h0m1.4 0h0m2.3 .7h0m.9-1.4h0m1.9 .9h0m4.9-.1h0m7.3 .4h0m2.7-.8h0m2.4 .5h0m2.5-.2h0m2.6 .4h0m2.6-.7h0m5.2 .1h0m3.1 .8h0m19.2-1.9h0m.5 .6h0m.8 .5h0m14.4 .1h0m2.9 .3h0m2.5-.3h0m18.1 .8h0m2.5-.1h0m7.5-.5h0m2.8-.4h0m-325.3 2.2h0m2.1 .9h0m3.4-.1h0m.5-.2h0m37.1-.3h0m2.5 .3h0m3.1-.1h0m2.9 .6h0m2.5-.1h0m1.5 0h0m3.3-.8h0m2.6 .5h0m2.3 .2h0m150-.9h0m2.6 .8h0m2.9-.8h0m0 .4h0m.4-1.3h0m2.7 1.7h0m4.5-.2h0m2.1 .3h0m5.7-.5h0m10.2 .7h0m2.7-.1h0m4.4-.8h0m23.1 .4h0m.8 0h0m17.8-.5h0m2.4 .3h0m4.5-.3h0m10.5 .1h0m2.8 .1h0m8-.2h0m2.5 .3h0m-325.3 2.7h0m1.1-1.8h0m.6 1.2h0m2.9 .1h0m2.2 .1h0m23 .2h0m21.1 .1h0m2.4 0h0m164.3-1.2h0m1.3 .9h0m1.3-.4h0m1.4 0h0m2.3 .7h0m.1-1.1h0m5.3 .3h0m2.1 .1h0m10.8 1h0m12.3-1h0m22.1-.4h0m11.2 .5h0m5.5 .7h0m7.6-.8h0m7.7 .7h0m4.5 .2h0m12.7-.4h0m-325.3 2.6h0m.1-.8h0m3.3 .6h0m2.6 .2h0m2.2 .1h0m19.8-.9h0m5.6 .3h0m185.6-.3h0m.4 0h0m2.2 .9h0m1.6-.6h0m6 .4h0m5.2-.8h0m54.1-.1h0m2.5 1h0m4.8 .1h0m3.3-.1h0m10.1-.4h0m14.9 .1h0m2.4-.1h0m-327.3 1.6h0m2 .5h0m2.6 0h0m28.8 0h0m189.6-.8h0m.8 .4h0m.8 .1h0m1.6 .2h0m.1 .2h0m3.4-.5h0m12.4 .9h0m46.4-.4h0m17.3-.1h0m2.3 .4h0m18.6-.7h0m1.5 .6h0m3.2-.6h0m-331.4 1.5h0m1.3 1h0m.1 .1h0m2.6-.5h0m1.8 1h0m219.9-.5h0m.1-1.2h0m.1 1.2h0m1.7 0h0m3.1 .4h0m2-.9h0m5.6 .2h0m5.4 .6h0m63.4-.6h0m2.7 .2h0m19.7 0h0m2.8-.3h0m-334.6 3h0m2.4-.6h0m1.8-.1h0m.8 .5h0m12.6-.2h0m210.1-.5h0m1 .4h0M50.1-3h0m.1 1.3h0m2.3 .6h0m8.1-.8h0m1.9 .1h0m5.3 .1h0m.8 .5h0m25.1-.9h0m25 .8h0m2.2-.2h0m2.8-.1h0m2.8 .4h0m10-.2h0m3.2-.5h0m2.6 .2h0m1.7-.1h0m3.3 .4h0m1.8-.5h0M-180.7 .3h0m2.3 .1h0m3.2 .6h0m1.9-.7h0m10.6 0h0m2 .1h0M47.6 .3h0m1.5-.1h0m1.1-.2h0m.4 .7h0m1 .2h0m12.2-.4h0m26.4-.4h0m22.9 1h0m2-.4h0m2.2 .3h0m2.9-.3h0m2.2 .1h0m5 0h0m1.8-1.9h0m6 1.5h0m2.5 .6h0m2.4-.1h0m3.4-.3h0m2.6-.2h0m2.5-.1h0m1.9-.2h0m-332.7 3h0m2.6-.2h0m3 0h0m2.3-.5h0m12.2 0h0M48.8 3h0m1-.2h0m4.9 .3h0m54.5 .1h0m2.2-.9h0m1.5-.5h0m.9 1.3h0m5.6 0h0m.2-.8h0m1.8 .7h0m.2 .1h0m2.8-.1h0m2.1 0h0m.4-.3h0m7.7-.1h0m2 .6h0m7.4-.9h0m2.6 .1h0m3.1 .8h0m2.8-.5h0m1.7-.3h0m-335.4 2.4h0m3.5 .5h0m2.6 .1h0m2.2-.2h0m223.5-.1h0m.5-.4h0m5.5 .6h0m8.5-.5h0m6.3 .6h0m3.1-.7h0m.6-.7h0m35.2 .5h0M113 5h0m3.2-1.7h0m1.5 .1h0M131.3 5h0m1.2-.3h0m2.9 .6h0m10-.1h0m3.3-.6h0m2.2 .3h0m2.6 .1h0m1.9 .3h0M-179.2 7h0m2.7 .6h0m2.4-.2h0m224.7 .2h0m2.9-.2h0m52.1-.3h0m.5-1.4h0m.7 1.1h0m2.1 .5h0m1.9-.5h0m7.9 .7h0m12.8-.8h0m.8 .4h0m2.4-.4h0m2.2 .2h0m4.6 .5h0m3-.2h0m2.1 0h0m2.7-.1h0m3.1-.1h0m2.6 .3h0m-336.2 1.8h0m3.1 .3h0m2.7-.4h0m2.4 .1h0m2.9 .3h0m222-.2h0m.3-1.4h0M54 9.3h0m0-1h0m.4 1.4h0m2.2-.8h0m50.3 .8h0m.2 0h0m3.1-.5h0m7.7-.1h0m1.9-.2h0m1.5-1.1h0m1.1 1.6h0m3.1-.2h0m2.4 .4h0m4.9-.4h0m2.4 .3h0m3.3-.1h0m2.4 .2h0m4.4-.7h0M148 9h0m3.1 .5h0m1.8-.6h0m3.4 .4h0m-338.5 2.4h0m2.6-.1h0m3 .3h0m2.3-.5h0m234.7 .4h0m2.1 .3h0m2.9-.8h0m35.2-1.3h0m7.9 1.8h0m.3-1.5h0m1.5 1.1h0m5.7 .7h0m8.2-.2h0m2.4-.5h0m7.3-.2h0m2.6 .2h0m3.1 .5h0m7.1-.2h0m2.3 .2h0m3.3-.2h0m1.9 .4h0m2.6-.9h0m2.9 0h0m-343.3 2.6h0m3.3 .3h0m1.8-.2h0m2.6 0h0m3.1-.5h0m225.9-1.3h0m.4 1.8h0m1.2-1.1h0m1.9 .9h0m7 0h0m5.4 .1h0m2.5 0h0m35.4-.2h0m3.3 .1h0m4.9 0h0m12.7 .2h0m2.6 .2h0m2.1-.2h0m1.6-1.8h0m1.6 1.9h0m1.8 .2h0m2.6-.4h0m3.5-.2h0m1.7 .6h0m8-.7h0m2.8 .1h0m2.4 .5h0m2.1 0h0m-345.3 2.3h0m2.3-.3h0m8.1-.4h0m11.1-1.3h0m216.1 1.3h0m.4 .2h0m1.4-.2h0m8.4 .3h0m44.1 .2h0m1.7 .2h0m2.9-.5h0m1.2-1.6h0m.3 2.1h0m11.6-2.1h0m1.7 1.9h0m3 .1h0m1.5 .2h0m3.5-.8h0m2.1 .4h0m5-.3h0m2.6 .6h0m2.4-.3h0m5.7 .3h0m2.4 0h0m-338.2 2.3h0m5.1-.3h0m3.2-.1h0m2.5-.1h0m224.2-.3h0m2.7 .7h0m.5-2h0m52.6 1.3h0m2.5 .3h0m2.1-.7h0m.2 .8h0m.1 .1h0m4.3-1.9h0m8.3 1.3h0m3 .6h0m11.5-1.8h0m3.6 1.8h0m2.9-.3h0m5 .1h0m2.6 .4h0m2.9-.3h0m.8-1.7h0m1.3 1.3h0m1.6-1.3h0m1.1 1.7h0m2.3 .1h0m-347.7 2.4h0m2.7-.9h0m.6-1.1h0m1.3 1.4h0m3 0h0m1.8 .3h0m226.2-1.2h0m1.3 1.3h0m.3 .2h0m51.1-.3h0m4.3-.1h0m6.6-1.6h0m1 1.3h0m2.9 .5h0m3-.5h0m1.8 .5h0m3-.6h0m13.9-1.2h0m1.3 1.4h0m2.5 .5h0m3.6-2h0m1.9 2h0m7.3-.4h0m5.3 .1h0m-346.2 2.1h0m2.9-.3h0m2.6 0h0m3 .9h0m2.1-.3h0m2.9-.1h0m221.4-.1h0m18.2 .4h0m33.4 0h0m4.9-.6h0m7.3-.1h0m2.2 .4h0m2.7 .1h0m2.8 .3h0m3-.6h0m14.6 .5h0m2.4-.5h0m3.1 .4h0m.9-2h0m1.6 1.5h0m3 .4h0m.6-1.9h0m6.5 2.2h0M160 21h0m.7 1.9h0m3.1-.4h0m-346.2 2.8h0m5.6-.7h0m226.4-.3h0m.3 .8h0m2.2-.5h0m1-.8h0m.7-.6h0m42.5 1.6h0m6.9 .2h0m3.1-.5h0m5.4 .3h0m2.2 .5h0m1.9-.1h0m2.8-.5h0m5.5-.1h0m2.9 .2h0m3.9-.5h0m10.8 .3h0m5-.1h0m2.7 .4h0m9.8-.3h0m2.9 .2h0m3.2 0h0m-351.1 1.8h0m2.5 .9h0m7.5-.4h0m2.2-.2h0M34 26.7h0m1.9 .6h0m10.5 0h0m1.9-.4h0m3.4 .2h0m50.8-.5h0m2.4 .6h0m2.7-.1h0m.7-1.7h0m1.9 1.3h0m4.6 .1h0m10.8 0h0m15.2-.2h0m2.3 0h0m13.3 .7h0m1.3-1.9h0m.2 1.5h0m3.4 .2h0m2.2-.5h0m2.4 .7h0m-346.8 .3h0m3.7 2h0m2.5-.8h0m209.2 .8h0m7.8-.1h0m2.6-.1h0m.9-.4h0m1.6-.2h0m.9 0h0m1.1-.2h0m.9-.8h0m56 1.9h0m4.8-.7h0m1.8-1.4h0m5.2 0h0m.9 1.9h0m.9-1.9h0m1.4 2.1h0m2.4-.5h0m15.2 0h0m3.1-.2h0m12.8 .4h0m1.9-.1h0m2.5 .1h0m3.6 .3h0m1.6-.4h0m3.4 0h0m-353.6 2.2h0m1.7-1.8h0m.9 1.7h0m.9-1.6h0m4 1.7h0m3-.2h0m2.1 0h0m2.5 .5h0M33.6 31h0m6.2 .4h0m1.7 .3h0m2 0h0m.8-.3h0m2.3 .1h0m2 0h0m1.5-1.7h0m54.5 1.9h0m3-.1h0m1.2-1.8h0m1.6 1.5h0m10.3 .1h0m2.6-.4h0m3.1-1.3h0m1.1 2.2h0m3.1-.7h0m2.8 .2h0m1.6-.1h0m3.2 .6h0m25.1-.9h0m2.5 .5h0m2.5-.2h0m-350.2 2.4h0m4.5 0h0m3.1 0h0M24.4 34h0m4.7-.1h0m1.7-2h0m1 2h0M37 34h0m1.5-1.5h0M40 34h0m2.4-.2h0m5.2-.6h0m55.8 .2h0m5.8 0h0m9.8-.2h0m2.5 .6h0m2 0h0m2.2-1.8h0m5.7 1.4h0m2.9 .6h0m4.9-.5h0m.8-1.5h0m4.8 2h0m1.9-.7h0m5.4 .2h0m1.2-1.6h0m6.3 1.4h0m1.3-1.3h0m4 1.3h0m2.2 .2h0m-352.8 2.2h0m1.3-1.5h0m.8 1.7h0m8 .4h0m2.3 0h0m194-.2h0m7.2-.6h0m2.9 .5h0m.2-.5h0m2.8 .1h0m.7 .7h0m1.1-.6h0m1.6-1.2h0m.8 .9h0m4.7-.4h0m.7 .5h0m1.7-1.3h0m4.6-.1h0m52.8 1.6h0m1.9 .3h0m1.6-1.8h0m1.8 2h0m1.9-.2h0m2.3-.6h0m20.9 .6h0m2.3 .1h0m1.2-2h0m4.2 2h0m2-.3h0m2.9-.2h0m2.8 .2h0m1.7-1.6h0m1.1 1.6h0m2.2 .4h0m3.1-.6h0m2 0h0m2.7 .4h0m1.6-1.9h0m6.2 2.2h0m-353 2h0m2.1-.4h0m1.3-1.5h0M22 37.9h0m2.9-.3h0m1-1.2h0m.9 1.5h0m.7 0h0m2.7 .4h0m1.5 .1h0m.2-.2h0m2.3-.1h0m2.7-.3h0m4.3-1.5h0m62.8 2h0m2.3-.3h0m2.9 .5h0m1.8-.3h0m15.4-.1h0m7.4-.1h0m3.8-1.6h0m7.1 2h0m2.4-.2h0m2.2 .3h0m2.4-.7h0m3.1 .2h0m2.2 .1h0m3.2-.4h0m-343.6 2.2h0m2.6 .3h0m4.9-.1h0m1.7-1.4h0m1 1.4h0m1.4-1.5h0m131.6 1.5h0m2.3-.2h0m5.6 .7h0m12.2-.7h0m4.9 0h0m25.5 .4h0m5.4 .3h0m2.4 .1h0m3.1-.3h0m1.5 .1h0m.9-.3h0m1.1-1.6h0m.5 1.9h0m.9-.4h0m2-.1h0m3.3 .5h0m1.8-.6h0m22.9-.1h0m46 .6h0m5.6 0h0m1.5 .2h0m.7 .1h0m4-2.1h0m11.8 1.8h0m5.9-1.9h0m13.5 2.2h0m3.2-.3h0m3-.1h0m9.2 0h0m2.7-.1h0m2.5-.4h0m1.6-1.1h0m1.5 1.3h0m-350.9 2.4h0m2.2 0h0m1.3-1.6h0m1.8 1.5h0m2.7-.2h0m135.4 .2h0m1.6 0h0m3.3 .2h0m2.5-.4h0m1.3-1.3h0m1.3 1.8h0m2.6 0h0m2.4-.1h0m1.9-.3h0m3.3 .6h0m2.6-.3h0m2-.4h0m2.8 .4h0m2.4 .1h0m20 .2h0m2.6-.7h0m3.2 .1h0m0 .1h0m2.2-.2h0m.2 .6h0m2-.3h0m2.6 .1h0m2.7-.4h0m74.4 .8h0m2.5-.1h0m.3 0h0m1.4-2h0m.8 1.4h0m2.3 .3h0m3.1 .3h0m.8-1.9h0m14.3 1.1h0m23.1 0h0m1.9 .8h0m1.2-2h0m7.2 1.9h0m1.9-.1h0m3 .3h0m2.7 0h0m-353.5 1.6h0m3 .5h0m141.8-.2h0m3 0h0m2.8-.3h0m2.7 .6h0m5.1-.6h0m4.7-.3h0m2.5 .6h0m3.1 .1h0m2.3 .2h0m5.1-.8h0m2.6 0h0m2.5 .6h0m2.3-.4h0m2.8 .1h0m3.8 .3h0m1.5-.6h0m.8 .7h0m1.7-.2h0m.8-1.7h0m3.7-.2h0m.3 1.9h0m2.2 .3h0m.2-.4h0m2.7 .4h0m3.4-2.2h0m83.1 2.1h0m41.3-.2h0m1.3-1.8h0m.7 1.5h0m5.1 .5h0m5.4 .1h0m2-.5h0m3-.4h0m3 .7h0m2.3 0h0m-350.7 1.5h0m1.3-1.1h0m3-.1h0m1.1 1.3h0m.8-1.3h0m.8 1.7h0m135.7 .1h0m8.7-1.9h0m5.2 .1h0m13.4 .1h0m4 1.1h0m4.2-.5h0m2.5 1.3h0m3.1-.3h0m1.4-1.6h0m3.2 1.8h0m.8-1.9h0m1.5 1.9h0m.3-1.7h0m1.9-.3h0m0 .4h0m3 1.5h0m89.7-.1h0m.4-1.7h0m2.5 1.8h0m.9-1.9h0m22.8 1.3h0m4-.6h0m1.7-.6h0m2.8 1h0m13.7 .7h0m1.9-.2h0m1.3-1.6h0m1.6 1.7h0m2.8 .1h0m7.3-.4h0m-348.6 2.4h0m1.6-1.4h0m1.8 1.2h0m4.4 .1h0m133.5 0h0m2.5 .2h0m.3-1.6h0m1.5 1.7h0m23.2 .1h0m4.8 .2h0m1.5-2.1h0m.8 .7h0m1 1.4h0m.8-1.9h0m1.3 1.2h0m.1 .4h0m3.5 .1h0m1.4-1.4h0m.2 .9h0m1.5-1.2h0M8.2 49h0m99.2-.1h0m.8-1.4h0m43 1.6h0m2.6 .1h0m2.1 .2h0m2.3-.6h0m3.3 .4h0m4.3-.4h0m3.2-.1h0m.9-1.4h0m-351.8 4.1h0m2.1 .1h0m2.9-.5h0m1.4-1.5h0m3.3 2.1h0m133.1-.3h0m2.4-.1h0m2.6 .2h0m20.2 .3h0m2.6-.4h0m3.2 .1h0m1.8 .1h0m6.6-2h0m106.2 1.6h0m.5-.1h0m.6-1.5h0m46.7 1.4h0m3.2 .4h0m12.7 .1h0m-352.8 1.5h0m1.5 .6h0m1.6 0h0m4-.4h0m1.5-1.3h0m133.1 1.6h0m3 .4h0m2.3 0h0m20.2-.2h0m3.3 0h0m2.6-.4h0m5.6-1.4h0m98.2 1.5h0m7.7 .3h0m2.6-.8h0m.7 .8h0m26-.6h0m.4 .5h0m1.3-.4h0m.9-.5h0m2.4-.5h0m1.2 .2h0m18.4 .9h0m2.7 .6h0m5.2-.3h0m1.4-1.6h0m1.2 1.3h0m1.5-1.3h0m.9 1.7h0m-350.5 1.7h0m1.5 .5h0m.8-.4h0m1.5-1.4h0m.6 1.7h0m5.3-.1h0m130.8-.2h0m1.8 .3h0m10.6-.2h0m2.1 .1h0m5.7 .1h0m1.7-.2h0m2.8 0h0m4.8 .2h0m105.5 .2h0m6.8 .1h0m2.9-.1h0m1.1-.8h0m28.7 .4h0m.5 .3h0m2.6 .2h0m20.8-.1h0m2.9-.3h0M-180 57.3h0m4.9 .9h0m134.3 .1h0m2.5-.1h0m8.4 .1h0m2.3-.7h0m1.9 .7h0m1.7-2.2h0m.9 1.5h0m3.4-.1h0m5.9-1.4h0m113.5 1.4h0m3.6 .7h0m1.7-.4h0m.7-1.6h0m.4-.1h0m1 1.8h0m30.7-.6h0m2.7 .7h0m0-.6h0m.3 .3h0m18 .3h0m2.4 0h0m5.7-1.7h0m2.6-.1h0m1.4 2.1h0M-181.4 60h0m1-1.6h0m.8 1.4h0m1.1-1.3h0m1.1 1.7h0m132.7 .1h0m2.9 .1h0m2.1-.6h0m3.4 .2h0m2.5-.1h0m2.7-.1h0m2-.1h0m5.3 .5h0m122.8 0h0m3.8-1.8h0m.6 1.7h0m2.7-.3h0m36.4 0h0m.2-1.5h0m.4 .2h0m14.6 1.9h0m7.2 0h0m3-.5h0m2.3 .2h0m2.5-.2h0M-183 62.4h0m.2-.7h0m.8-1.2h0m1.3 2.1h0m2.9 0h0m1.3-1.5h0m133.7 1h0m2.6 .1h0m1.9 .1h0m2.7 .3h0m2.6-.4h0m6-1.6h0m128.6 .1h0m.4 1.3h0m2.6 .6h0m2.9-.3h0m29.4 .3h0m3.3-.8h0m21.5-1.1h0m2.3 1.9h0m2.6-.6h0m3-1.1h0m1.4 1h0m2.2 0h0m-357.4 2.8h0m3.2-1.7h0m1.8 1.7h0m.1-1.4h0m2 1h0m142.9 .4h0m3.1-.4h0m126.8 0h0m1.9-1.3h0m2.6-.2h0m1.2 1.4h0m2.5 .6h0m32-1.1h0m2.4-.2h0m.3 .7h0m26.7 .6h0m3.7-2.1h0m1.9 1.8h0m1.3-.4h0m.5-.9h0m3.6-.3h0M-182 65.1h0m.1 .1h0m.7 1.5h0m3.1-.2h0m.9-1.5h0m271.6 1.7h0m2.8 .2h0m1.2-1.9h0m1.9 1.4h0m1.8 .3h0m4.3-1.8h0M133 67h0m.1-.1h0m1.3-1.2h0m.8 .6h0m1.1-.9h0m31.5-.4h0m.5 1.8h0m.2-.6h0m1.2-1h0m2 1.5h0m1.1-1h0m.4 1.3h0m-356.3 .2h0m1 1.6h0m1-1.5h0m0 .3h0m.5 1.5h0m1.3 0h0m275.6-.5h0m11.4-1.3h0m23.7 1.8h0m.9-.4h0m.6-1.2h0m.1-.1h0m33.2-.3h0m3.7 2.1h0m.4-.8h0m2.6 .5h0m.9-1.7h0M175 69h0m-357.9 1.3h0m2.5 1h0m1.9-.1h0m273.1-.1h0m2.5 .3h0m1.3-1.9h0m1.2 1.7h0m1.1-1.8h0m10.9 .2h0m6.4 1.7h0m11.2-1h0m.9-.2h0m.7-.7h0m40.5 1.9h0m.8-.9h0m1.5-.2h0m.6 .8h0m2-.3h0M-183 73.4h0m2.8 .1h0m.8-2h0m0 1.9h0m272.8-.3h0m2.5 0h0m16.5-1.4h0m1.5 1.5h0m14.4-1.1h0m.6 1.2h0m.1-.3h0m.2-1.1h0m42.7 .5h0m.4 .9h0m1.4-1.7h0m1 1.7h0m.5 .1h0m1.4-.8h0m-358.9 1.3h0m1.9 1.9h0m.1-.1h0m7.1 .2h0m265.7-.5h0m4.4 .2h0m12.9-.4h0m1.7-1.5h0m15.7 .8h0m45.2 .6h0m2.7 .2h0m2.6 .1h0m-360.8 .8h0m.9 1.7h0m5.7 0h0m.5-1.9h0m269 1.9h0m1.3-1.7h0m13.2-.1h0m.7 1.4h0m17.7-.1h0m.2 .6h0m.6-.5h0m.6-1.5h0m46.4-.1h0m1.3 1.7h0m.9-1.5h0m1 1.2h0m-360.3 2.3h0m1.2-1.3h0m.6 1.1h0m7.3-1.1h0m264.2 1.5h0m17.9 .2h0m17.1-.4h0m.2-1.1h0m51.2 1.1h0m.1-.6h0m.4-.6h0m1.2-.2h0m.4 1.6h0m.8 0h0m-361.6 2.3h0m.2-1.2h0m272.1 .2h0m3.6 .8h0m1.4-1.3h0m.5 1.6h0m11.3 0h0m4.5-.2h0m12.7 .2h0m.6-1.7h0m53.9 1.7h0m.4-1.5h0m-362.4 2.7h0m2.6 .7h0m273.2 0h0m5.3 .6h0m7.1-.1h0m2.3-.3h0m2-1.5h0m.8 1.2h0m12.3 .4h0m1.1-1.7h0m.1 .7h0m54.5-.6h0m.6 1.8h0m1.2-2h0m.1 0h0m.2 .4h0m.6-.3h0m-363.8 2.1h0m0 1.5h0m1.8 .6h0m272.9-.3h0m2 0h0m1.6-1.7h0m11.7 2h0m2.4-.6h0m11.8-.1h0m.4-.2h0m.2 .7h0m57.5-.8h0m.3 .3h0m.5 .1h0M-181.5 88h0m270.3-1.1h0m21.2 1.5h0m71.2-.6h0m.3-.1h0m-365.2 1.5h0m.7 .3h0m1.5 1.6h0M90 89.3h0m.7 1.3h0m16.8-1.2h0m3.8 1.5h0m4.6 .2h0m64.4-1.4h0m1.1-.2h0m0 1h0m.7-1.1h0m.4 1.8h0m-366.6 .2h0m.9 .3h0m.7 1.7h0m1.4-.5h0M87.3 93h0m.6-1.6h0m1.5 1.7h0m2.2 0h0m14.2-1.7h0m2.9 .1h0m1 1.5h0m5.5-.1h0m64.9-1.4h0m1.7 1.5h0m.2-.6h0m1.3-.7h0m1 1.3h0m-367.6 .6h0m266.8 2h0m1.5-1.9h0m1 1.8h0m2.3 0h0m2.6-.3h0m14-1.6h0m2.1 .2h0m74.5 .1h0m1.7 1.7h0m-367.5 .3h0m.2 .1h0m1.2 1.6h0m.5-1.7h0m261.7 1.4h0m3.2 .1h0m2.1-.2h0m21.6-1.3h0m76.1 0h0m1 .6h0m.1-.7h0m.5 1h0m.4 .6h0m1.2-1.7h0m-371.2 2.4h0m.4 .8h0m3.4 .8h0m260.4 0h0m4.3 .3h0m18.7-.3h0m.3-1.4h0m1.5 1.5h0m1.2-1.7h0m78.3 1.4h0m1.3 .5h0m.8-.3h0m.1 .1h0m.6 .1h0m-371.9 1.9h0m1 0h0m.9-1.7h0m1.7 1.6h0m1.9 .3h0m262-1.9h0m1.1 1.9h0m16.9 0h0m2.7-.2h0m13.7 .3h0m68 .1h0m.6-1.9h0m2.1 1.5h0m.5 .1h0m-371.9 2.1h0m2.9 .1h0m1.5-1.3h0m257.6-.2h0m2.2 .1h0m1.7 1.7h0m20.6 .1h0m83.4-.2h0m1.8-1.2h0m.4 .7h0m.4 .3h0m-373.6 1.3h0m.8 1.1h0m2 0h0m2.8-.4h0m256.2-1.5h0m1.1 1.9h0m1.6-1.8h0m1.1 1.6h0m19.4-1.7h0m.5 2h0m3.9-1.8h0m82.3 .6h0m3.2 .8h0m-375.7 2.6h0m.6-1.7h0m2.1 1.2h0m258.9-1.2h0m22.9-.3h0m87.8 1.7h0m.7-1.7h0m1.6 0h0m0 1.5h0m.5-.9h0m.2 .5h0m.7 .8h0m-377.3 2.1h0m3 0h0m2.1-1.4h0m.3 1.2h0m.7-1.4h0m1 1.3h0m255.9 .1h0m1.4-1.5h0m1.6 .2h0m16.9 1.7h0m1.5-1.8h0m2.1 .1h0m2.8 0h0m85.8 1.5h0m.9-.7h0m1.3 1h0m.1-.7h0m-376.3 2.3h0m7.9 .3h0m255 .2h0m.7-1.7h0m19.9 1.7h0m1.2-1.7h0m1.2 1.7h0m89-.2h0m.5-.3h0m.3 .4h0m-379.4 2.1h0m4.9-.1h0m1.9-1.5h0m1.8 .1h0m254 1.7h0m1.1-1.7h0m1.9 1.8h0m18.5-1.9h0m94.9 1.4h0m2.6-1.3h0m-379.5 2.1h0m1.6 1.4h0m4.2-1.5h0m1.4 1.6h0m.6-1.6h0m2.5 0h0m271.4 1.6h0m1.9-1.3h0m94-.2h0m1.1 1.3h0m.7-.9h0m-379 3.6h0m4.3-1.7h0m3.2 1.7h0m1.5-1.6h0m250.9 1.6h0m1.2-1.9h0m2.6 .1h0m13.4 .1h0m1.8-.2h0m92.9 1.5h0m6.5 .2h0m.4-1.2h0M74 120.1h0m3.1-.2h0m.7 1.8h0m11.8-1.4h0m1.6 1.6h0m1-1.8h0m97 0h0m2.6 0h0m.9 1.9h0m-385.7 1.8h0m3.4-1.4h0m1.3 1.6h0m1.5-1.7h0m1.5 1.6h0m1.7-.1h0m1.6-1.4h0m1.6 1.7h0m.4-1.8h0m255.6-.1h0m1.2 1.8h0m2.2 .2h0m4.4-1.9h0m1.1 1.7h0m3.9-1.6h0m1.2 1.4h0m100.2-1.4h0m.2 .3h0m1.7 1h0m-381.5 2.7h0m10.3-.1h0m255.5-.2h0m6.1-1.7h0m4.6 0h0m100 .8h0m4 1.1h0m2.3-1.8h0m-379.6 2.5h0m2.4 0h0m.8 1.2h0m1.8-1.6h0m26.6 1.9h0m226.2-.1h0m1.4-1.5h0m5.7 .1h0m2.4-.2h0m2.2-.2h0m1.1 1.6h0m107-.4h0m1.5-.8h0m-383.9 2h0m3-.1h0m2.3 0h0m5.5 .1h0m1.6 1.6h0m248.5-1.5h0m5.3 .1h0m2.2-.4h0m2.8 0h0m.9 1.9h0m1.3-1.9h0m109.1 0h0m1.9 2h0m.7-2h0m0 0h0m.7 1.2h0m-384.9 2.8h0m1.2-1.5h0m1.8-.1h0m4.2 1.7h0m11.3-1.5h0m17 1.3h0m222.7-1.5h0m7.8-.1h0m2.4-.1h0m1.8 1.7h0m110.7-1.3h0m3.3 1.5h0m-382.4 .2h0m1.3 2.1h0m1.1-1.7h0m3.8 1.6h0m1.2-1.9h0m2.2 1.8h0m22.8 .2h0m2.3 0h0m.8-1.9h0M64.9 135h0m11.5-1.5h0m5.7 0h0m107.4 0h0m.2 .6h0m.5 1.2h0m1.2-.3h0m.4-1.7h0m.7 2h0m-385.1 .1h0m3.2-.1h0m4.7 .1h0m1.1 1.8h0m6.2-1.5h0m3.9 1.8h0m13-.5h0m234.3 .5h0m2.2-1.8h0m.6 1.4h0m1.1-1.8h0m116.5 1.4h0m.4 .4h0m.7-1.3h0m-384.6 3.9h0m.9-1.7h0m2.6 0h0m3.4 1.2h0m1.6-1.4h0m2.6-.2h0m4.3 2h0m2.1-.4h0m10.5 .4h0m6.2-2h0m1.3 2h0m1.1-2h0m344.1 .2h0m1.1 1.5h0m.9-.1h0m1.7 0h0m-386 2.5h0m2.5 .1h0m1.8-2.1h0m10.9 2h0m2.8-.2h0m5.4 .1h0m3.4-1.7h0m1 1.7h0m6.5-1.7h0m1.7 1.9h0m216.9-.3h0m.6-1.4h0m10.6 .1h0m115.7 1.6h0m1.2-1.8h0m3.8 1.5h0m-383.3 2.2h0m2.6 .3h0m2.2 0h0m10.5 0h0m3-1.9h0m5.7-.2h0m3.6 1.9h0m1.9-1.7h0m1.2 1.7h0m.9-1.4h0m4 1.3h0m1.2-1.4h0m213.3 1.5h0m11.5-1.4h0m118.1 1.4h0m1.3-1.7h0m.4 .3h0m-377.9 3.8h0m14.3-1.6h0m20.7-.2h0m.4 1.5h0m207.8-1.8h0m5.2 .1h0m8.3 0h0m1.8 .1h0m116.2 1.8h0m.1 .1h0m3.7-1.4h0m.6-.5h0m-380 3.9h0m2.3-.2h0m1.5-1.3h0m30.3 0h0m201.2-.2h0m10.3 .1h0m1.5 1.7h0m.8-1.9h0m1.2 1.7h0m3.2 .1h0m.9-1.8h0m2.5 .4h0m3.1-.4h0m119.4-.1h0m1 2h0m1.7-1.8h0m-383.8 2.4h0m6.7 1.7h0m1.3-2h0m30.8 .1h0m2.5 0h0m.8 1.9h0M47.8 149h0m.6 1.3h0m7.7 0h0m1.1-1.8h0m4.8 1.9h0m5.8-1.7h0m120.9 .3h0m1.6-.1h0m.3 .1h0m-377.5 3.5h0m.7-1.6h0m3.8 1.6h0m1.2-1.5h0m29.8 1.6h0m1.6-1.6h0m4.4 .2h0m191.6 0h0m6 1.5h0m2.2-1.6h0m.9 1.7h0m3.6-1.9h0m5.3 .3h0m124.4 .1h0m1-.3h0m.3 1.7h0m1.9-1.7h0m.8 1.5h0m-377.5 .8h0m4.7 1.7h0m2.9-1.8h0m3.4 .3h0m24.9-.3h0m2.9 .3h0m5.3-.1h0m1.2 1.6h0m189.1-2h0m6.6 1.7h0m1.4-1.5h0m.9 1.8h0m1.4-1.6h0m2.5-.4h0m1.5 1.8h0m124.3-1.5h0m1.4 1.8h0m2.7-.7h0m-375 1.2h0m5.1-.1h0m.3 1.8h0m2.2-1.9h0m1 1.6h0m.7-1.8h0m3.3 .2h0m1.3 1.5h0m20.4 0h0m.8-1.3h0m1.5 1.7h0m1.1-1.9h0m2.9 .1h0m3.7 1.6h0m187.4-1.6h0m2 .2h0m3.3-.1h0m135.1 .6h0m2.2-1.1h0m-363.5 2.5h0m5.7 .2h0m3.2 1.4h0m2.8-.1h0m1.3-1.2h0m3.8 1.5h0m7.7-.1h0m3.8-1.4h0m2.2-.5h0m5.1 .4h0m1.3 1.7h0m105.7-2.1h0m1.9 1.9h0m68.5 .2h0m5.7-.2h0m3.3-1.5h0m2.5-.3h0m2.3 .1h0m2.9-.1h0m130.3 .4h0m.3 .7h0m.7 .7h0m1.4-1.8h0m-360.5 2.1h0m1.2 2h0m.7-2h0m2.7 .1h0m6.8 1.8h0m.6-1.9h0m5.1 .3h0m7.5-.1h0m3-.2h0m1.7 1.7h0m1.1-1.3h0m1.1 1.7h0m1.7-1.8h0m3.7 1.8h0m1.7-.3h0m169.3 0h0m2.5-.1h0m2.1 0h0m1.6-1.5h0m4.3 .2h0m2.6-.4h0m3.2 .1h0m2.4-.1h0m130.1 0h0m.4 2h0m1.2-.3h0m2.1-1.1h0m-356.7 1.6h0m1.9 .4h0m3.3 .1h0m2.9 1.3h0m1.9-1.3h0m.7 1.2h0m1.4-1.2h0m3.3-.6h0m7 .6h0m1.9 1.3h0m1.9-.1h0m3 .2h0m.7-1.5h0m9 .4h0m3.7-.2h0m3.7 1.3h0m76.6-.1h0m5.1 .3h0m9.5-1.7h0m2.2-.4h0m19.4 1.8h0m7.8 0h0m19.9 .2h0m10.6-.2h0m3.9-1.7h0m1.6 1.8h0m2.2-.1h0m2.5 .1h0m4-1.9h0m2.1 .1h0m1.8 1.6h0m135 .4h0m.9-1.6h0m0 .2h0m-348.7 3.3h0m3.2-1.3h0m7 1.4h0m.7-1.4h0m2.1-.2h0m2.2 1.6h0m1.4-1.7h0m.3 1.8h0m1.8-1.8h0m4.1 1.8h0m5.1-.2h0m.6-1.6h0m2 1.7h0m1.3-1.8h0m1.4 .1h0m.6-.1h0m.9 .2h0m1.3 .2h0m2.9-.5h0m1.1 .7h0m1.8-.6h0m1.7 0h0m1.4 .8h0m1.4-.7h0m.2 1.2h0m3-.3h0m1.3 .4h0m2.7 .4h0m.1 0h0m69.6-1.4h0m3.9 1.2h0m9.2-1.3h0m3.1 1.6h0m7.8 0h0m5 0h0m4.9-.1h0m4.7-1.6h0m13.9 1.8h0m2.4-.3h0m2.7 0h0m4.9 .1h0m3.8-1.8h0m1.3 1.7h0m1.8-1.7h0m4.2-.1h0m10.4 .4h0m143.2-.1h0m-345.8 2.1h0m11.3 1.5h0m34.9-1.8h0m3.9 .1h0m1.8 .8h0m3.9 .5h0m1.5-.2h0m2.1 .9h0m57.6-1.7h0m2.7-.4h0m3.9 2.1h0m1-1.9h0m2.4-.1h0m2.2 1.9h0m1.4-1.6h0m.4 1.7h0m1.2-1.5h0m5.7-.2h0m2.3-.1h0m1.4 1.7h0m4.1-1.4h0m5.2 0h0m4.4-.1h0m2.9 .1h0m2-.6h0m1.6 1.9h0m1.4-1.3h0m2.5-.1h0m1.7 1.7h0m1.4-1.8h0m8.7 1.4h0m.8-1.7h0m5.9 .3h0m4.4 .1h0m1.3 1.5h0m5.2-.2h0m146.3-1.3h0m1.5 1.4h0m1.5-1.6h0m.7 1.2h0m.1 .3h0m2.1-1.1h0m.2-.5h0m-286.1 2.2h0m1.2 .1h0m.1 0h0m3.2 .3h0m1.2-.2h0m.5 .9h0m1.5-.4h0m2.8 .8h0m1.4 .3h0m2.7 .1h0m3 0h0m.6-.1h0m32.8-.1h0m1.5-1.8h0m1.2 2h0m2.4-.1h0m.7-1.6h0m3.4 0h0m1.3 1.5h0m3.9-1.7h0m.2 1.7h0m2.7 .3h0m3.3-.2h0m.7-1.7h0m2.9 .3h0m2.2-.3h0m5 0h0m3.1-.1h0m.7 1.9h0m1.5-2h0m2.1 .2h0m3.3 .4h0m.7 1.5h0m1.8-2.1h0m2.7-.1h0m4.7 .5h0m5-.4h0m15.7 .4h0m.3 1.2h0m13.6-1.6h0m143.8 1.8h0m.3-1.5h0m1.6 1.6h0m-268.5 .4h0m3.7 0h0m2.7 .3h0m3.2 1h0m1.2 .3h0m.9 .3h0m.7-.9h0m2 .7h0m2-.4h0m15.4 .4h0m1.2-1.6h0m2.3 1.9h0m17.3-.3h0m4.6 .3h0m1.6-1.9h0m1.3 1.7h0m1.4-1.9h0m1.2 1.9h0m1.5-1.3h0m1.1 1.4h0m.8-1.8h0m3.2 .2h0m5.2-.2h0m2.3-.1h0M2 171h0m1.7-.3h0m29.1 1.3h0m148.3 .4h0m1.4-1.5h0m3.6 1.5h0m-253.2 .9h0m1.4 .1h0m2.7-.6h0m.3-.1h0m1.9 .8h0m1.5 .1h0m1.3-.1h0m3.2 1.1h0m.2-.1h0m1.7-1.4h0m0 .6h0m.7 .9h0m1.5-1.3h0m5-.1h0m.6 .1h0m2.6-.3h0m5.9 1.9h0m2.4-.4h0m5.3 .4h0m1.5-1.9h0m3.5 1.6h0m2.1 .1h0m17-1.9h0m2.3 .1h0m183.2 1.4h0m1.9 .5h0m1.8-1.8h0m.7 0h0m-235 2.1h0m2 .7h0m1.1-.6h0m1.5 1.5h0m.5-1.6h0m3.2-.2h0m.8 1.9h0m1.7-1.7h0m6.1 1.6h0m1.6-1.1h0m86.2-.4h0m117.9 .4h0m7.2-.4h0m1.4 .2h0m.2 1.7h0m3.7-2.1h0m-241.1 2.4h0m24.6 1.8h0m68-1.4h0m134.4 0h0m6.1 1.2h0m1.7-1.7h0m-9 2.5h0m3.8 1.4h0m6.8-1.4h0m.9 1.5h0m.8-1.3h0m.3-.6h0m-141.3 4.3h0m134.8 0h0m.8-1.6h0m2.2-.3h0m1.4 1h0m1-1.3h0m-10.2 4.1h0m1.5-1.7h0m1.8 .1h0m.4 1.8h0m2.8-.2h0m.3-1.7h0m1.8-.1h0m-14.8 4h0m4.1-1.8h0m3.5 1.4h0m.7-1.5h0m3.5 .6h0m2.6 .1h0m1.7-.3h0m-121.9 3.5h0m94.3-.9h0m9-.6h0m6.9-.1h0m2.8 .6h0m1.4 1.4h0m1.5-1.9h0m2.8-.1h0m-10.4 4.2h0m1.1-1.5h0m2.8 .1h0m1.6 1.2h0m3.3-1.6h0m-116.5 2.2h0m.1-.1h0m.5 1.8h0m104.3-1.7h0m5.3-.2h0m3.8 1.8h0m1.6-1.8h0m2.4 0h0m-117.7 3.8h0m97.3-1h0m6.4 0h0m1.5 1.5h0m.8-1.5h0m2-.4h0m2.6-.1h0m-110.6 2.2h0m101.3 1.8h0m1-1.5h0m5.4 .1h0m2.1-.1h0m2.4-.3h0m-111.5 2.1h0m.1 .4h0m100.5 .7h0m2.3-1.2h0m1.9 .8h0m.4-.5h0m2.2 1.5h0m.9-1.5h0m-108.3 2.4h0m.7 1.5h0m97.1-.5h0m.2 .6h0m1.2-1.9h0m1.5 1.9h0m.7-1.4h0m.2-.5h0m1.2 1.9h0m.8-1.9h0m-102.3 4.1h0m94.9-.1h0m5.2-1.8h0m-99 3.7h0m94.3-.8h0m2-.3h0m-96.1 3.4h0m89.4-.7h0m.9-.9h0m1.7 0h0m.4 1.5h0m.8-1.5h0m1.8 .5h0m-95.1 2.3h0m.3 .1h0m79.6 1.3h0m8.5-2h0m1.1 1.9h0m2.2-2h0m-6.6 2.5h0m1.8-.4h0m.7 .6h0M68.2 215h0m76.7 .8h0m1.7-1h0m1 1h0m1.4-.9h0m1.2 .2h0m-88.6 2.2h0m1.7 1.6h0m.5-1.4h0m2 1.2h0m.5-1.6h0m2.5 .3h0m74.5-.4h0m.8 1.7h0m1.2-.5h0m.1-.7h0M66.1 221h0m2.3-1.9h0m72.4 1.1h0m.7-.4h0m.8-.5h0m-80.4 2.5h0m2.3-.2h0m4.5 .3h0m68.2 1.4h0m1.1 0h0m2.8-1.8h0m1.1 1.7h0m.8-1.9h0m-80.2 2h0m3.4 .3h0m1.5-.2h0m2.2 2.1h0m1-1.4h0m63.7 .8h0m1.2-.1h0m3.5-1.5h0m.2 .3h0m.7 .2h0M59 226.3h0m3.6 1.3h0m1.3-1.8h0m1.9 1.9h0m1.3-1.6h0m3.2 1.6h0m1.8-1.6h0m2.3 .3h0m57.8 1.3h0m.5-1.4h0m3 0h0m2.4-.4h0m-77.6 2.5h0m7-.6h0m5.6 .1h0m2.2 .4h0m55.7-.5h0m3 1.4h0m.3-1.3h0m2.2 .7h0M58.8 230h0m2.4 .4h0m5.5-.2h0m5.5 .4h0m2.1 .2h0m2.4-.3h0m5.8 .2h0m2-.1h0m1.5-.2h0m.1 1.6h0m41.6 0h0m.1-1.8h0m.8 1.8h0m0-.8h0m2.1-1.2h0m2.5 .1h0m2.3-.1h0m-77.9 2.4h0m1.8 1.8h0m.3-1.9h0m16.2 .1h0m1.7 .6h0m2.9-.7h0m1.7 2h0m1-1.7h0m3.4 1.6h0m37-1.5h0m.4-.2h0m2.9-.1h0m4.2-.2h0m.6 .4h0m-71.4 3.7h0m1.3-1.5h0m12.9 .2h0m.8 1.4h0m1.2-2h0m2.8 .1h0m1.1 1.8h0m3.7-1.6h0m25.3-.1h0m10.9 .3h0m.7 1.5h0m2.2-1.2h0m.3 .7h0m1.4-.7h0m2.7-.5h0m2.5-.1h0m-72.4 2.2h0m20.7 .6h0m4.9-.6h0m2 .3h0m22.9-.2h0m5.2-.3h0m2.1 .6h0m.6-.5h0m1.7 1.9h0m.9-1.4h0m2.7-.4h0m.6 1.3h0m1.8-1.4h0m3 .7h0m-67.5 1.7h0m2 .1h0m15.6 0h0m2.2 .2h0m7.8-.4h0m2.6 .3h0m12.8-.2h0m7.3-.2h0m2.8 .5h0m0 .9h0m2.8 0h0m0-.7h0m3.8 .6h0m1.2-1h0m2.7-.3h0M60.1 241h0m2.2 .5h0m13.7 .1h0m2.2-.6h0m9.8 0h0m2.8 .5h0m3 0h0m1.7-.3h0m1.4 1.8h0m1.2-1.4h0m5.4-.3h0m2.8-.4h0m2 .1h0m1.2 1.5h0m1.1-1.1h0m.7-.1h0m2.1-.2h0m3.4 .1h0m2.5 .4h0m.7 1.4h0m-60.9 .2h0m2.4 .7h0m3.1-.4h0m1.6-.2h0m3.3 .4h0m2.4-.1h0m2.6-.3h0m.7 1.9h0m1.3-1.8h0m18.5 .5h0m4.8-.8h0m2.3 .9h0m2.9-.6h0m2.6 .1h0m2.8 .3h0m2.3-.2h0m2.8-.1h0m-57.3 2.3h0m2.5 .1h0m1.6 .3h0m2.8-.1h0m2.7-.7h0m2.1 .2h0m3.5-.1h0m20.5 .5h0m1.9-.4h0m5.2-.3h0m2.8 .9h0m2-.3h0m-44 2.5h0m5.1-.7h0m1.9 .7h0m3.4-.1h0m1.6-.1h0m2.5-.2h0m16.3-.1h0m2.5-.2h0m1.3 2h0m1.1-1.3h0m2.1-.5h0m1.6 1.7h0m1.5-1.2h0m2.5-.3h0m-36.9 2.5h0m1.6-.3h0m3.3 0h0m20.4 .3h0m5.2 .1h0m4.8-.6h0m-34.3 2.1h0m2.3-.2h0m3.1 .8h0m19.5-.4h0m2.9-.1h0m2.5 .3h0m-27.1 2.3h0m1.8 1.4h0m1.8-1.9h0m17.8 0h0m2 .2h0m2.5-.5h0m-21 3h0m.3 1.4h0m4.7-1.2h0m12.6-.8h0m1.9 .7h0m3.1-.4h0M80.4 259h0m2.8-.4h0m2 .1h0m8.4 .8h0m5.2-.6h0m-19.5 2.5h0m2.6 .2h0m2.5-.5h0m2.7 .1h0m4.6 .1h0m2.7 .3h0m-11.5 2.1h0m2.7 .1h0m2.8-.8h0m2.5 .6h0m3-.3h0m-9.1 2.4h0m2 0h0"/><path d="M-16.5-138.3h0m5.9 17.6h0m41.9 6h0m20.4 .5h0m-3.9 15.8h0m-23.6 8.7h0m37.2 2.4h0m4.7 3.9h0m-54.3 2.6h0m29.3 6.7h0M20-62.1h0m38.9 9.4h0m2.8 0h0m-22.2 6.9h0m31.1 8.4h0m-24.1 3h0m92 17h0" stroke="#bba5e0"/><path d="M13.2-145h0m11.4 2.1h0m30.5 .5h0m7 1.7h0m-71.9 4.5h0m14.7 .1h0m55.3 2.5h0m10.5-.6h0m4.7 .2h0m-118.5 2.3h0m38.7-.1h0m-35.3 2.4h0m26.5-.4h0m8.9 1.9h0m36.8-1.6h0m-72.2 3.8h0m79.4 .3h0m9.1-2h0m-82.1 4.3h0m5.1 .1h0m102.8-.3h0m-83.5 2.9h0m14.7 1.5h0m-42.1 3h0m4.3-1h0m-19 3h0m5.5 0h0m18.2-.4h0m55.8-.5h0m-73.1 2.6h0m35.2 2.6h0m27.4-.3h0m10.9 .1h0m6.1-2.1h0m14.5-.5h0m1.3 2.6h0m-84.7 2.2h0m12.4 .2h0m5.4 0h0m2.5-.5h0m33.5 0h0m9.6 .6h0m-81.5 3.7h0m57.4-2.2h0m17.5 .1h0m10.4 .1h0m3 .2h0m-37.4 2h0m13.9 2.2h0m7.9 .6h0m77.3-2.1h0m-142.6 3.4h0m30.6 .2h0m31.3 .6h0m-21.6 1.8h0m27.3 .3h0m25.7-.4h0m5.2 .6h0m-42.5 2.4h0m7.1 1.7h0m16.5-2h0m-20.8 3.9h0m13.3-.1h0m-.6 4.2h0m1.5-1.6h0m23.8 1.8h0M40-85h0m-11.9 6.3h0m5.5-.4h0M55.5-77h0m47.1-1.5h0m10.3-.8h0m-74.3 5.2h0m4.2 2h0M30-67.9h0m16.4-2.3h0m-25.9 4.4h0m10 .6h0m3.3-.4h0m1.7 .1h0m66.5-.6h0m12.9 .8h0M19-63.7h0m6 .6h0m22.8 .1h0m13.4 1.3h0m-32.8 .5h0m27 1.7h0m8.9-1.6h0m16.4 1.7h0m7.5 .8h0m-28.9 2.3h0M27.2-50h0m36.7-2.2h0M80.6-50h0m5.1-.2h0m-39.4 2.3h0m23.1-.2h0m1.9-.4h0m38.6 .2h0m9.9 .8h0m15.4-.3h0m3.3-.7h0m-82.1 4.9h0M29.7-41h0m22.9-.3h0m12.3 0h0M41.2-39h0m2.1-.5h0m3 .9h0m14.8 4h0m6.6-2h0m4.9 .2h0M90-35.2h0m-22.3 2.3h0m17.7 .5h0m-39.1 1.8h0m35.5 .4h0m24.8 6h0m-52.8 2.5h0m27.8-.2h0m8.5 .9h0m49.1 1.3h0m2.6-.1h0m-50.9 .5h0m7.3 .2h0m14.4 2.3h0m-14.9 4.2h0M141-4h0m-19.4 7.1h0m25-.7h0m-17.1 5h0m.7 2.8h0m.9 6.3h0m-19.4 8.3h0m19.2-.5h0m20.8 .7h0m6.2 1.9h0M123.3 31h0M104 42.8h0m54.5 2.3h0m3 4.1h0m.5 2.6h0M91.6 93.1h0m-130.7 82h0" stroke="#b498e4"/><path d="M21-144.7h0m18.5 1.5h0m3.8-1.4h0m-55.2 3.7h0m20.2 .6h0m60.8 0h0m-99.5 3.8h0m45-1.9h0m22.7-.4h0m30.3 .7h0m2.7-.4h0m-95.1 6.2h0m101.3 .8h0m2.7-.9h0m-130.9 2.3h0m33.2 4.5h0m12.5 .8h0m8.1-.5h0m12.4-.3h0m11.4-1.5h0m1.5 1.7h0m8.9-1.8h0m31.8 1.9h0m4.7 .4h0m-106.7 3.6h0m12.4 .7h0m15.3-.1h0m3.7 2.1h0m4.4-2.1h0m18.8 1.8h0m2.1-.3h0m1.3-1.3h0m-91.1 3.6h0m89.4 0h0m10.8-.2h0m14.4 .4h0m-136.3 2.8h0m78.9 0h0m5-.7h0m2.9 .8h0m-34.4 1.6h0m.9 2.3h0m20.8 0h0m8.6-2h0m28.7 1.6h0m14.6 3.1h0M.8-105.1h0m20-.2h0m22.5 0h0m8.2 .4h0m-76.2 3.4h0m35.6 .5h0m32-1.9h0m3.3 1.4h0M-49-98.6h0m37.4-.6h0m3.3 .6h0M70-98h0M-.2-97h0m107.2 .5h0m-191 3.9h0m103.9-1.2h0m19.6 4.3h0m6-.3h0m12.1 .1h0m-128.2 2.2h0M35.3-86h0m6.8 .5h0m6.3-2.5h0m2.2 2.2h0m.8-1.7h0m6.3 1.7h0M34-83h0m4.4 .1h0m15.5 0h0m2.1-.2h0m-24.1 2.5h0m8.2-.7h0m15.4 .4h0m4.9-.4h0m-39.2 2.5h0m9.8-.5h0m4.3 2.6h0m6.2-2.6h0m63.8 .5h0m1.9 .3h0m11.3 1.6h0M15.6-74.6h0m13.9-1.7h0m91 2.1h0M19.1-72.1h0m47 1.5h0m-153.9 2.3h0m108.9-1.2h0m15-.7h0m6 2.3h0m3.2 .2h0m2.6-.5h0m-4.4 2.5h0m16-.1h0m1.6 .5h0m55.1-2.1h0M22-63.9h0m30.8 .5h0M98-63h0m15.8-.3h0m-76 4.3h0m35.1 .1h0m4.1-1.8h0m32.7-.5h0m1.5 2.2h0m10.6-.3h0m5.1 .2h0m-85.3 2.4h0m-7.4 2.4h0m51.4-.6h0m-40.3 4.6h0m3.5-2h0m2.9 0h0m16.7 1.7h0m59.4-1.7h0m11.5 1.7h0M26.2-48h0m25.2 .1h0m-5.9 2h0m1.2 1.8h0m11.1-1.7h0m24.6 1.9h0m18.9-1.9h0m-66 4.3h0m2.9-1.9h0m4.3 2.6h0m-11.2 1.3h0m35.7 .7h0m2.2-.6h0m-13.8 2.1h0m16.7 2.2h0m9.5-.2h0m24.5-2.1h0m-29.8 6.7h0m18 .1h0m-38.9 2.7h0m85.3 1.9h0m-34.6 6.3h0m6-1.3h0m22.9-1h0m2.5 1h0m2.6-1.4h0m-55.4 5.1h0m29 2.4h0m28.2-.1h0m4.3 2.2h0M134-10h0M44.6-6.5h0m99.4 .3h0M48.4-3.8h0m100.7 1.9h0M47.6 .3h0m65.3 1.5h0M53.5 7.4h0m61.3-2.8h0m5.6 .5h0m-66 4.6h0m73.5-.1h0m21.1 2.3h0m3.3-.2h0m-98 6.9h0m99.2 0h0m5-.7h0m2.7 .4h0m-47.3 7h0m48.2-.5h0M48.3 26.9h0m0 1.9h0m1.1-.2h0m56.9 1.1h0m37.7-.4h0m15.2 .1h0m-50 4h0m9.8-.2h0m12.4 .2h0m7.8 .1h0M34.5 36.3h0m108.1-.5h0m5.7 0h0m-36.7 7h0m36.4 1.7h0m-10.5 7.8h0m22.5-.7h0m3.2-1.9h0m2.7 7.8h0m3.6-1.3h0m-7.8 4.5h0m-341 9.3h0m350.5-.3h0m-67.1 3.6h0m-4.2 6.4h0M-183.9 126h0m248.8 9h0m-.7 16.2h0M48.3 160h0m-3.1 1.8h0m-75.1 6.3h0m17.7 .4h0m22.5-.1h0m-49.3 1.8h0m6.9 0h0m8 .6h0m2.7-.2h0m-18.5 2.6h0m153.1 69.6h0" stroke="#ab8be7"/><path d="M1.8-146.9h0m17.5-.1h0m11.1 1.4h0m-28.8 3h0m3.1 0h0m32.9-.5h0m22.6 .5h0m-44.4 1.8h0m-40 1.9h0m71.5 .5h0m7.7-.4h0m-82.2 2.7h0m31.6 2.5h0m22.4-.8h0m-67.7 2.5h0m5.7 0h0m28.4-.2h0m24.7 .1h0m20.9 .5h0m12.1 0h0m-72.1 1.5h0m20.7 .7h0m3.8 1.6h0m19.7-.1h0m44.8-1.5h0m6.4 1.7h0m-111.1 2.7h0m47.3-2.1h0m5.6-.2h0m28.5 2.2h0m5.9 .1h0m-55.5 1.8h0m8.3-.5h0m-47 2.4h0m52.8 0h0m-66.4 4.9h0m33.2-.2h0m37.4 2.7h0m20.6-.6h0m9.6 0h0m-82.4 2h0m7.9 .7h0m22-.8h0m6.5 2.3h0m9.4-2h0m12.1 .6h0m8.4-.8h0m15.6 .6h0m.5 1.9h0m-61.9 2.5h0m24.1-1.9h0m10.3-.1h0m1.2 1.4h0m32.7 .4h0m-103.3 2.2h0m20.6 .2h0m26.8 1.5h0m2.5 0h0m44.3-2h0m-119 4.7h0m28.7-2h0m68.8-.1h0m24.4 1.8h0m56-.1h0M2.9-96.9h0m11.3 2.3h0m4.4-1.5h0m8.7 1.6h0m5.4-.2h0m.3 2.2h0m5.6 .8h0m2.7 0h0m3.3-2.4h0m9 2.4h0m2.8-.8h0m14.5-1.2h0m-53.7 3.6h0m5.1 0h0m58.1-.1h0M-98.3-86h0m10.8 0h0m113.4-2h0m4 2.1h0m10.8-1.3h0m2.7-.8h0m1.3 2.1h0m2.3-.2h0m-34.2 2.8h0m18.2-.4h0m5.4 .7h0m15.1-.8h0m7 0h0m-41.8 2.9h0m2.8-.3h0m5.6-.4h0m1.6 .6h0m26.3-.1h0m4.5 .1h0m-44.6 3.1h0m5.3-1.1h0m25.7 0h0m4.4 .4h0M53-77h0m4.6-.2h0m3.1 .7h0m-46.8 2.2h0m11-2.1h0m2.1 .1h0m1.9 1.8h0m22.1 0h0m5.8 0h0m5 .2h0m2 .1h0m2.4-.2h0m3.4-2h0M16-72.8h0m.9 1.6h0m5.6-1.6h0m101.6 .3h0m-236.4 2.1h0m127.8 .7h0m8.7 2.2h0m7.9-.5h0M49-70.3h0m13.9 2.8h0m.9-2.9h0m3.9 2.2h0m58.9 .2h0m.8-2.1h0m2.4 .1h0M23.5-65.3h0m17.4-.7h0m25.7 .9h0m-16.7 2h0m10.4-.6h0m7.8-.1h0m2.3-.1h0m3.1 .9h0m2.5-.2h0m-50.2 1.9h0m42.9 .1h0m5.2-.1h0m4.5 2.5h0m12 .1h0m-64.5 2.1h0m45.5 .1h0m7.9 0h0m-52.6 2h0m18.6 .2h0m7-.8h0m19.9 2.5h0m5.4-2.1h0m1.3 2.1h0m3.3-.1h0m51.9-2.3h0m-234.9 5.2h0M35-50.6h0m17.2 .4h0m17.4-2.2h0m8.2 2.5h0m-34.4 2h0m15.3-.4h0m31.1 .6h0m39.5 .8h0m-99.7 1.6h0m18.8 1.7h0m3.3-.2h0m26.8-2h0m.4 2.2h0m7.7-.3h0m2.1-2.2h0m1.3 2.3h0m-45.5 2.1h0m38.7 .7h0m4.9-.9h0m-31.4 2.3h0m78.7-.1h0m-68.8 4.5h0m28.4 .4h0m-36.8 2.1h0m11.7 .2h0m10.9-.1h0m2.2-.2h0m10-.2h0m-273.2 3.1h0m207-.4h0m1.5-.1h0m.9 1.3h0m-1.5 1.7h0m2.9 1.6h0m53.4 .2h0m7.9-.2h0m1.7-2.4h0m2.6-.3h0m41.3 2.7h0M27-23.7h0m2.1 1h0m8.2-.6h0m43.4-.1h0m5.2-.8h0m7 .8h0m2.9-.7h0m5.2 .3h0m3 .5h0m-71.4 1.7h0m1.3-.1h0m66.7 2.5h0m31.6 0h0m10.5 1.7h0M38.5-11.4h0m2.6-1.4h0m99.1 .4h0M46.5-8h0m-2.7 1.1h0m97.8 .9h0m7.4 .2h0m-102.3 2h0m3.5 2.1h0m89.5-.2h0m2.6 .2h0m-89.8 .6h0m91 1.7h0m7-.5h0m-99.9 5h0m66.9-.5h0m8.7 2.1h0m2.1-1.8h0m17.1 .3h0m3.9 1.9h0m1.6-2.2h0m-42.1 5.4h0m47.5-1h0M53.1 12.1h0m1.6 .7h0m0 2.9h0m1.9-2h0m50.3-.1h0m.3 2.6h0m53.4-2.1h0M51.4 19.3h0m.2-1.4h0m96.4 .8h0m-29.4 6h0m27.2-1.8h0m5.5-.1h0m-46.4 4.4h0m2.7-.1h0m-62.7 2.3h0M37 34h0m1.5-1.5h0m85 1.3h0m-15.7 2.4h0m43.3-.4h0m9.1 1.9h0m3 2.5h0m-342 .6h0M162 42.6h0m-194.5 2.5h0m15.4-.2h0m151.4 .9h0m29.2-1.6h0m-200.6 3.2h0m8.8 1.4h0m-2 .8h0M107 51h0m-129.7 2.6h0m-18.1 4.7h0m198-2.4h0m-53.3 8.9h0m67.5 2.7h0m.7 2h0m2.3-.1h0M102.7 80h0m-10.5 4.1h0m-11.1 25.2h0m-.7 8.6h0m6.3 6.5h0m-24.1 15.7h0M49.5 153h0m-14.6 8.9h0m2.9-.5h0m-49.3 4.6h0m30.7 .2h0m6.6-2.1h0m3.1 0h0m7.6-.4h0m-68.8 4.8h0m35-.5h0m1.4-1.3h0m14.3 1.2h0m-108.2 1.8h0m78.3 .7h0m163.3 42.9h0m-8.3 5.1h0m-3 3.5h0m-9.3 6.6h0m1.6-.1h0m-5.1 3.6h0m4.1-1.6h0m-7 3.7h0m-9.3 4.2h0m7.9-.5h0m.4-1.3h0m-5 2.4h0m-4.1 2.8h0" stroke="#a27eea"/><path d="M50.5-142.6h0m8.1 1.3h0m-104.4 9.1h0m69.4 9.2h0m-93.4 2.1h0m82.4 2h0m-25 .5h0m39.7 1.9h0m-4.4 2.5h0m25.6 .2h0m-31.1 1.3h0m3.3 2.2h0m3.9-1.5h0m-64.1 4.3h0m14.2-1.8h0m64 3.8h0m6.4 1.9h0m-126.9 2.2h0m33.8 .5h0m98.2-2.2h0m-145.3 4.3h0m54.9-1.7h0m85.1 2.1h0m7.9-.8h0M93.4-98h0m1.7-.5h0m-69.7 2.3h0m10.7-.1h0m5.6-.1h0m1.9-.6h0m-20.4 4.5h0m13.9-1.6h0m6.5 1.5h0M55.2-94h0m-22.8 3.6h0m23.3 .1h0m55.6 .3h0m-80.8 2.8h0m26.1-.5h0m2.6-.5h0m-15 4.6h0m1.7-.3h0m9.5-1.3h0m63.3 0h0m-71.4 4h0m2.6 .1h0m13.4-.6h0m-23.5 5.1h0m13.6-2h0m5.7-.7h0m5 .2h0m-50.7 3.9h0m40.4 1.1h0m11-2.3h0m45.6 2h0m-97 1.9h0m.2 1.1h0m.2 .6h0m1.5-2.5h0m49.6 .5h0m56.4 .9h0m-198.6 3.8h0m115.9-2h0m2.6 0h0m16.1 1.9h0m47.8-2.1h0m12.9 .2h0m-265.5 4.2h0m195.9 0h0m15.8 .2h0m5.3 .4h0m2.2-.6h0m2.9-.1h0m37.8 .8h0m-25.2 3.6h0m38.9-2.1h0m-94.3 4.9h0m12.8-.2h0m21.6-2h0m41.4-.1h0m23.9 2.3h0m-44.7 1.4h0m-69.7 3.9h0M63-55.2h0m5.4 .8h0m2-.7h0m3.6 2.3h0m2.9 .1h0m39.5-2.2h0m-93.9 3.5h0m53.2 .7h0M22-48.8h0m6.7 .6h0m68.8 .6h0m25.5-.3h0m-99.2 2.8h0m28.7-.3h0m32.4 1.3h0m-4.4 2.4h0m4.9-.1h0m16.8-1.6h0m-17.7 4.2h0m4.6-.3h0m-65.3 4.4h0m.4-1.8h0m1.5 1.7h0m1.8-.2h0m10-1.5h0m11.7 2.1h0m16.7-2.4h0m25.9 2.6h0m-267.5 1.1h0m37.3 .9h0m162.9-1.1h0m25.3 1.1h0m40.6-.3h0m7.7-.2h0M25.2-31h0m64.5 .2h0m48.8 1h0m-109 3h0m.3-.9h0m18.7 1.4h0m-19 2.2h0m3.2 .3h0m56.7-1.7h0M31.1-22h0m5.5 1.6h0m55-1.1h0m3 .3h0m46.2 1.5h0M34.5-17.2h0m3.7 .4h0m49.7-2.3h0m12.2 1.9h0m8.9-1.7h0m16.2 1.4h0m-83.7 3.4h0m1.1-.8h0m53-.9h0m38.7 1.4h0m-37.4 1.8h0m11.8 1.8h0m-63.9 .6h0m1.4 8.1h0m77.5 .5h0M49.1 .2h0m2.5 .7h0m77.6-2h0m7.3-.3h0M51.1 4.7h0m65.3 2.5h0m9-2.3h0M155 7.3h0m-41.5 3.9h0m-60 2.7h0m98.9 2.5h0m2.4 0h0m-14.2 2.4h0m-18.7 1.3h0m20.8 2.4h0m5.6-.1h0m15.5 .1h0M53.1 23.8h0m.7-.6h0m102.6-.4h0M42.3 29.5h0m5.1-.7h0m2.7 1h0m108.3 .8h0M106 34.2h0m37.1-2.4h0m15.8 .7h0m-2.5 3.1h0m-171.6 4.3h0m123.7 2.6h0m38.8 .5h0m5.8 2h0m-169.2 1.6h0m173.4 .2h0M-17.6 54h0m148.9-1h0m-161.2 5.3h0m18.2-2.6h0m112.3 .3h0m69.2 8.6h0m2.9 6.2h0m.3 1.7h0m4.1 9.5h0m3.1 4.8h0m1.3 1.5h0m1.3 1.9h0m-.2 4.1h0m1.5-.1h0m-.7 2.1h0m-97.9 3.3h0m.3 8.9h0m100.1 0h0m1.7 4.2h0m1.7 1.3h0M74 120.1h0m13.2-.6h0m102.8 1.7h0m.1-2.4h0m.6 5.4h0m1.9 0h0m-1.1 3.4h0m-1.2 5.4h0m3.7 5.7h0m-143.9 9.7h0m5.2 4.4h0m.8 1.9h0m-31 11.8h0m2-.7h0m-49.6 3.1h0m29.1-2.3h0m-49.1 6.4h0m98.2 1.8h0m124.7-.8h0m.4 2.6h0m-3.1 3.7h0m.2-1.4h0m-2.7 3.7h0m-2.3 8.4h0m-3.9 2.9h0m2.2 .7h0m-2.9 3.9h0m-10.5 6.5h0m3.4-.8h0m-4.2 5.5h0m-3.9 2.6h0m-6.9 4.5h0m2.4 0h0m-5.8 2.6h0m3.2-.8h0m-84.1 3.2h0m73.5 2.5h0m-69.6 3.4h0m4.5 0h0m2.8 .2h0m61.8 .8h0m-59 3.7h0m.8-1.9h0m50 1.7h0m6.4-1.1h0m-75.3 1.6h0m61.3 3.4h0m.8 1.4h0m-6.5 3.6h0m.5-.9h0m3.4 .3h0m-24.4 3.7h0m17.7-2h0m-48.3 4h0m48.8-1.7h0m-32.6 5.2h0m22.7-.1h0m-32.9 1h0m23.8 2.3h0m-16 1.5h0" stroke="#9870ed"/><path d="M13.1-132h0m-76.6 13.2h0m4.8 4.9h0m-18.8 1.8h0m85 1.8h0m-115.6 3.1h0m22.6-.6h0m17 2.3h0m10.9 10.9h0m97.9-.1h0M51-92.5h0m1.7-1.9h0m7 9.2h0m-124.9 4.4h0M15.4-77h0m35.8-1.4h0m-35.8 9.7h0m55.1 .3h0M15.1-66h0m1.1 3h0m.2 .2h0m46.6-.3h0m2.4-.8h0M16-59.2h0m5 .5h0m72.4-.3h0M17-57.6h0m1.4 1.9h0m55.7-.8h0m2.7-.3h0m4.8-.2h0m-225.8 2.4h0M75.2-55h0m5 .9h0m-59.7 7h0m61.4-1.1h0M-158.8-41h0m181.4 0h0m1.4 0h0m67.2-.1h0m-68.1 2.3h0m2.1-.5h0m-200.5 4.4h0m259.8 .3h0M96-33h0m-68.9 1.9h0m.2 2.2h0m.2-.3h0m72.4-1.3h0m-72.9 2h0m.9 .6h0m1.8 1.7h0m2.3 .5h0m54.2-2.2h0m11.5 2h0m2 0h0m3.1 .1h0m-76.1 .6h0m5.8 .7h0m58 .4h0m46.5 .6h0M32.5-19.6h0m74.9 2.2h0m-71.3 2.3h0m59-1.3h0m1.3 1.1h0m-60.8 2.1h0m11.4 7h0m.2 4.5h0m98-2.3h0M50.6 .7h0M48.8 3h0m92.7 4.4h0m-16 1.8h0m15.4 .4h0M116 12.1h0m37.3 1.4h0m-98.5 3.1h0m55.1 1.6h0m53.6 .2h0m-59.4 2.1h0m-53.8 7.3h0m67.8-.2h0m38.3-.3h0m.4 4.1h0m-4.7 2.1h0m5.1-1h0m4.1 2.1h0m0-.1h0m-55 3.5h0m7.6 .6h0m-135.7 3.6h0m3.3 .6h0m182.5-.1h0m-199.6 6.4h0m6.8-1.9h0m12.1 3.9h0m2.8 .6h0m7.6-.2h0m-14.2 1.6h0m176.4 .1h0m-188.6 3h0m.9-.5h0m198.7 .6h0m-194.1 2.8h0m1.1 1.6h0m.8 .3h0m3 .4h0m189-1.1h0m3.3-1.6h0m-192.4 3.8h0m191 .5h0m1.1 2.5h0m1.8 5h0m3.3 2.8h0m0 2h0m1 1.1h0m1.3-1.7h0m1.1 11.3h0m3.4 2h0m.1 4.3h0m2.5 2.6h0m.3 3.6h0m-1 2.5h0m1.4 .8h0m6.3 13.3h0m-1.1 4.5h0m1.3 7h0m1.3-1.3h0m-2.2 3.1h0m1.1 3.1h0m.1-.9h0m.5 5.8h0m-2.7 6.4h0m2.3 11.4h0m-5.3 1.7h0m2.9-1h0m-4.2 9.4h0m-2.2 4.8h0m.3-1.3h0m1.6-.8h0m.4 2.2h0m-1 .8h0m-7.5 13.8h0m2.9-1.7h0m-7.9 5.3h0m6.3-.5h0m-9.3 4h0m2.5 2.1h0m.3 0h0m-2.9 2h0m-12.4 9.9h0m7.2-1.2h0m.8-.4h0m-10.8 4.6h0m2.3 .8h0m-4.3 3.5h0m.4 2.2h0m-1.6 .5h0m-10.2 5.2h0m-70.8 .7h0m67.6 2.5h0m-77.8 3.1h0m1-2.2h0m77.7-.3h0m-63.2 4.6h0m-16.1 1.6h0m17.7-.6h0m2.5 2.3h0m5.8-1.2h0m45.3-.2h0m4.3 0h0m-77.4 7.2h0m1-.8h0m.5 1.4h0m20.2-.8h0m38.9 .7h0m9.1-1.3h0M56.2 240h0m33.7-1.1h0m22.5 .5h0m2.8 .9h0m3.8 .3h0m0-.4h0m-35 3.4h0m1.4-2h0m7.2 2.1h0m17.7 .4h0m5.2-.6h0m.2-1.9h0m1.4 .2h0m-58.9 3.9h0m9.6-.3h0m42.6 .4h0m2.1 0h0m-24 4.4h0m15.9-1.3h0m-42.7 3h0m25.7 .8h0m12.2-.1h0m2.3-1.3h0m2.4 .8h0m-23.7 2.5h0m14.8 1h0m-24.7 2.7h0m6.7-1.2h0m.2 .5h0m2.1 2.9h0m.2-.2h0m7 .1h0m3.8-.9h0" stroke="#8d63f0"/><path d="M-33.8-133.7h0m20.4 13.2h0m33.9 6.7h0m-120.9 5.8h0m17.7 15.8h0m97.1 12.8h0m1.4 4.1h0m1.1 4.4h0m-1.5 3.8h0m1.3 1.9h0m-1.2 3.5h0m2.5 3.8h0m1.3 0h0m-2.4 4.2h0m4.3 3h0m2.7 .7h0m64.1-.3h0m-235.9 2.5h0M79.9-48h0m-57.4 2h0m63.6 .6h0m-64.8 2.6h0m5.4 5.3h0m60.4-2.2h0m-240.5 8h0m181.6-1.1h0m-1.5 1.4h0m70.6 1.6h0m-70.5 2.3h0M95-26.1h0m-66.4 .9h0m71.6 3.4h0m57 50.2h0m2.5 4.6h0m-.5 2.1h0m.5 1.8h0m2.6 0h0m-1.7 2.4h0m.1 .1h0m2.5-.5h0m-186.9 3.6h0m184.6 .5h0m1.8-1.7h0m-.7 3.6h0m1.9-.4h0M-4.3 49.4h0m165.9-2.5h0m.3 1.4h0m1.9-1.4h0m1.2 .3h0m-200 4.5h0m.3 .6h0m199.1-1.5h0M-35 54.5h0m1 .4h0m200.8-1.6h0m1.1 1.3h0m-200 2.1h0m1.4-.5h0m0 1.6h0m194.9-1.6h0m2.9 1.2h0m-206.8 2.4h0m10.7-1h0m.8 .2h0m.1 1.2h0m1 .2h0m3.2-.4h0m2.4 .8h0m186.9-1.9h0m.8 1.4h0m1.4-1.6h0m-207.8 3.5h0m19.4 .1h0m.6 .6h0m190.2 .4h0m.4 1.8h0m-351.7 8.7h0M176 76.7h0m.5 1.9h0m3.1 4.1h0m1 7h0m1.8 3.1h0m.6-.5h0m1.7 5.3h0m.4 5.2h0m1.8-.9h0m-.6 7.2h0m.7 2h0m2.7 7.1h0m1.3 .1h0m2 10.1h0m-.6 3.6h0m1.2 2.7h0m-1.8 4.4h0m-1.2 1h0m2.6 6.9h0m-4 2.8h0m-1.8 4.1h0m.7-1.5h0m2.6-.1h0m-6 10.5h0m1.5-1.7h0m2.2 0h0m-5 3.9h0m4.5-1h0m-5.1 6.7h0m-2.1 2.6h0m1.3 1.5h0m3.2-.6h0m-4.8 2.4h0m.8 3.5h0m-5.9 3.5h0m-1.5 2.7h0m.3-1.6h0m1.3 .4h0m-6 4h0m6 1.1h0m-5.3 2.4h0m-4.5 2.2h0m-3.8 3.7h0m7.3-1.6h0m-7.9 2.8h0m1.8 .6h0m4.8-.5h0m-8 5h0m-4.7 1.8h0m-3.6 3.8h0m5.6-1.5h0m-8.7 2.9h0m-2.2 2.9h0m.6 2.2h0m-81 1.8h0m77.2 .2h0m1.4 1.2h0M65.1 222h0m3.9-1.4h0m70.2 2.2h0m2.9-1.8h0m1.7 1.1h0M59 226.3h0m14-.5h0m61.4 .2h0m5-2h0m-78.9 4.4h0m72.9-1.5h0m2.9-.3h0m-3.5 5h0m-73.4 2.6h0m18.2-1.2h0m46.4 .1h0m.9 2.1h0m2.5-.4h0m-69.8 3.6h0m30.2-2.7h0m2.3 1.8h0m27.5 .7h0m2.6 .2h0m.8-2h0m-25.5 4.8h0m16.9-.7h0m4.5-1h0m2.3 0h0m-59.8 4.4h0m.1-1h0m32.1-1.1h0m.7 2.3h0m.1-.7h0m5.7-1.8h0m9.8 2.1h0m1.2-1.4h0m2.7 1.3h0m-38.4 1.9h0m31.6 2h0m-46.6 .5h0m1.5 1.4h0m.8-1.2h0m1.2 1.1h0m11.3 1h0m.6-2.1h0m17.1 1.8h0m3.8-1.9h0m11.1 2.2h0m2.9-2h0m-41.4 4.6h0m17.6-.2h0m13.9 .6h0m2-1h0m.9-1.8h0m1 2.8h0m-36.2 1.4h0m3.1 .8h0m18.2-1.5h0m9.1 .2h0m2.5-.1h0m2.4-.1h0M68 257h0m7.6 .6h0m.6-.6h0m16.8 2.4h0m.6 .1h0m2.8-1.7h0m-15.8 3.5h0m1.1-.9h0m1.5-.1h0m2.5 1.8h0m1.2-1.8h0m4.7-.7h0m-3.2 3.4h0m-1.6 2.7h0" stroke="#8056f3"/><path d="M17.4-63.6h0m.3 2h0m1.2-2h0m-1 3.8h0m1.9 6.8h0m2.7-.6h0m-3.2 5.9h0m.9-1.5h0m3.8 2h0m-4.3 1.5h0m2.4 7h0m-147.5 12.6h0m-12.7 2h0m19.8 .8h0m-12.7 1.8h0m291.5 62.4h0m2.7-.2h0m.8 .9h0m-1.3 3.6h0m-1.3 1.6h0m2.7 1.9h0m1.7 1.6h0m-1.8 3.6h0m.2-1.4h0m1.2 1.8h0m1.2-.1h0m3.1 2.3h0m-2.6 4.1h0m2.6-.2h0m1.7 1.1h0m-3.9 1.1h0m2.9-.9h0m.6 2.8h0m4.7 10.4h0m2.3 4.4h0m1.1 1.3h0m-.5 4.3h0m.7 3.5h0m1 3.1h0m2.7 5.9h0m2.2 3.9h0m.3 4.8h0m.3-1.6h0m3 6.5h0m-1 2.1h0m.9 1h0m2.2 3.3h0m-.2 10.8h0m1.5 6h0m-.2 7.2h0m-3.1 5.7h0m-1 6.1h0m1.2 3.9h0m1-1.7h0m-6.1 7.9h0m.1 .7h0m.7 8.3h0m-.9 .8h0m-5.2 7.5h0m-1.2 2.3h0m2.2-.7h0m-6.1 3.6h0m1.4 .3h0m-10.1 15.8h0m-5.9 6.2h0m.4-1.3h0m-12.1 7.2h0m-.1 1.4h0m-85.9 7.7h0m2.2-.5h0m.2-.1h0m3.7 .9h0m-5.7 .3h0m77.2 2.5h0m-65.3 .8h0m-15.5 3.7h0m8.6-.5h0m63.3 1.5h0m.6-1h0m-48.4 3.6h0m4.6 .3h0m-31.4 3h0m2.5-1.9h0m63 .9h0m.8-.8h0m.8 2.1h0m-63.3 1.7h0m.1 1.1h0m2-1.5h0m54.3 .2h0M76 241.6h0m35.7 2h0m.4-.8h0m3.6 .7h0m3.6-1.9h0m-59.9 3.9h0m34.1 .6h0m16.1-1.5h0m1.9 1h0m-51.7 4.5h0m9-1.7h0m6.6 1.5h0m19.2-.9h0m9.2 .6h0m1.4-1.5h0m-42.3 3.4h0m.2 1.7h0m3.4 .8h0m1.8 1.5h0m10-.9h0m4.5 .1h0m10.3 1.8h0m1.9 0h0m2.7-1.3h0m.7-1.1h0m2.4 0h0m-27.7 4.3h0m1.2 .8h0m1.8-.1h0m6.3-1.8h0m4.3-.7h0m1.3 1.5h0m1.2 .3h0m3.5-.9h0m1.6 0h0m2.6-.3h0M84.7 260h0m4.9 1.4h0m.7-1.8h0m1.4 1.7h0m-.8 2.3h0" stroke="#7248f6"/><path d="M74.3-133.4h0m-86.5 21.1h0m14 17h0m-98.7 9.4h0M50.1-66h0M134 37.5h0m28.9 11.7h0m.4 2.2h0m23.8 55h0m.9 1.3h0m2.9 28.7h0m2.9-1.9h0m-.7 2.3h0m-.8 7.7h0m-1.7 3.5h0m.5-1.3h0m-2.6 10.4h0m1.7 2.5h0m-3 7.3h0m-6.3 5h0m1.2 1.8h0m-5.5 7.2h0m3.7-2h0m2.5 .3h0m-10.8 9.1h0m2.6 .4h0m2.5-.7h0m-9.8 5h0m3.2-2.4h0m1.9 2.4h0m2.3-1.3h0m-8.1 5.4h0m.1 1.1h0m-5.8 6h0m-3.8 2h0m-5.5 2.7h0m2.5-.1h0m3.9 .1h0m-10 5.9h0m-11.3 9.1h0m-77.4 5.5h0m21.7 2.8h0m1.6 1.6h0m29.8 6.5h0m-54.6 1.5h0m54.4 .2h0m3.5 .2h0m-8 4h0m-48.5 2h0m2 3.5h0m3.9 2.2h0m8.5 5.2h0m11.6-.4h0m.3 .7h0m4.9-.3h0m2-.9h0m-10.1 3.5h0m6.9-1.4h0" stroke="#6139f9"/><path d="M-89.8-99.1h0M150 11h0m43.4 121.9h0M191 145h0m.8-2.4h0m-.9 8.5h0m1.8-2.3h0m-1.8 7.8h0m-1.2 1.6h0m-3 3.6h0" stroke="#4c28fb"/><path d="M78.1 104.4h0M192 147.2h0M78.1 232.8h0" stroke="#2b12fe"/></g>
<text x="-0.8" y="41.2" font-size="72.5" font-weight="bold" textLength="36.4" lengthAdjust="spacingAndGlyphs">a</text>
<text x="-2.5" y="1559.5" font-size="68" font-weight="bold" textLength="42.5" lengthAdjust="spacingAndGlyphs">b</text>
<text x="1098.5" y="1559.5" font-size="70" font-weight="bold">c</text>
<text x="77" y="118.6" font-size="63.3" font-weight="bold" fill="#2010ee" textLength="140" lengthAdjust="spacingAndGlyphs">Male</text>
<text x="77.6" y="812" font-size="63.3" font-weight="bold" fill="#ea12ea" textLength="216" lengthAdjust="spacingAndGlyphs">Female</text>
<text x="385" y="175.2" font-size="41.6" font-weight="bold" text-anchor="middle" textLength="384" lengthAdjust="spacingAndGlyphs">cgd6_2250 (Myb-M)</text>
<text x="1034.7" y="175.2" font-size="41.6" font-weight="bold" text-anchor="middle" textLength="212.5" lengthAdjust="spacingAndGlyphs">cgd3_2970</text>
<text x="1698.8" y="175.2" font-size="41.6" font-weight="bold" text-anchor="middle" textLength="382" lengthAdjust="spacingAndGlyphs">cgd6_2670 (AP2-M)</text>
<text x="369.6" y="867.8" font-size="41.6" font-weight="bold" text-anchor="middle" textLength="212.5" lengthAdjust="spacingAndGlyphs">cgd2_3490</text>
<text x="1038.7" y="867.8" font-size="41.6" font-weight="bold" text-anchor="middle" textLength="372.5" lengthAdjust="spacingAndGlyphs">cgd4_1110 (AP2-F)</text>
<text x="1686.6" y="867.8" font-size="41.6" font-weight="bold" text-anchor="middle" textLength="188.5" lengthAdjust="spacingAndGlyphs">cgd8_810</text>
<defs><linearGradient id="cg" x1="0" y1="0" x2="0" y2="1"><stop offset="0%" stop-color="#0000ff"/><stop offset="8.3%" stop-color="#4322fc"/><stop offset="16.7%" stop-color="#5e36f9"/><stop offset="25%" stop-color="#7248f6"/><stop offset="33.3%" stop-color="#8258f3"/><stop offset="41.7%" stop-color="#9068ef"/><stop offset="50%" stop-color="#9d77ec"/><stop offset="58.3%" stop-color="#a886e8"/><stop offset="66.7%" stop-color="#b296e4"/><stop offset="75%" stop-color="#bba5e0"/><stop offset="83.3%" stop-color="#c4b4dc"/><stop offset="91.7%" stop-color="#ccc4d8"/><stop offset="100%" stop-color="#d3d3d3"/></linearGradient></defs>
<path d="M150.2 202.9V665.5H610.3" fill="none" stroke="#000" stroke-width="1.9" stroke-linecap="square"/>
<path d="M188.2 665.5v3.6M283.5 665.5v3.6M378.8 665.5v3.6M474.1 665.5v3.6M569.4 665.5v3.6M150.2 281.9h-3.6M150.2 377.2h-3.6M150.2 472.5h-3.6M150.2 567.8h-3.6M150.2 663.1h-3.6" stroke="#000" stroke-width="1.3" fill="none"/>
<text x="186" y="681.9" font-size="12.6" text-anchor="middle">−10</text>
<text x="281.3" y="681.9" font-size="12.6" text-anchor="middle">−5</text>
<text x="378.8" y="681.9" font-size="12.6" text-anchor="middle">0</text>
<text x="474.1" y="681.9" font-size="12.6" text-anchor="middle">5</text>
<text x="569.4" y="681.9" font-size="12.6" text-anchor="middle">10</text>
<text x="142.9" y="286.5" font-size="12.6" text-anchor="end">5</text>
<text x="142.9" y="381.8" font-size="12.6" text-anchor="end">0</text>
<text x="142.9" y="477.1" font-size="12.6" text-anchor="end">−5</text>
<text x="142.9" y="572.4" font-size="12.6" text-anchor="end">−10</text>
<text x="142.9" y="667.7" font-size="12.6" text-anchor="end">−15</text>
<text x="378.3" y="699.8" font-size="16.8" text-anchor="middle" textLength="66.5" lengthAdjust="spacingAndGlyphs">UMAP_1</text>
<text x="114.2" y="434.2" font-size="16.8" text-anchor="middle" textLength="66.5" lengthAdjust="spacingAndGlyphs" transform="rotate(-90 114.2 434.2)">UMAP_2</text>
<path d="M806.3 202.9V665.5H1266.4" fill="none" stroke="#000" stroke-width="1.9" stroke-linecap="square"/>
<path d="M844.3 665.5v3.6M939.6 665.5v3.6M1034.9 665.5v3.6M1130.2 665.5v3.6M1225.5 665.5v3.6M806.3 281.9h-3.6M806.3 377.2h-3.6M806.3 472.5h-3.6M806.3 567.8h-3.6M806.3 663.1h-3.6" stroke="#000" stroke-width="1.3" fill="none"/>
<text x="842.1" y="681.9" font-size="12.6" text-anchor="middle">−10</text>
<text x="937.4" y="681.9" font-size="12.6" text-anchor="middle">−5</text>
<text x="1034.9" y="681.9" font-size="12.6" text-anchor="middle">0</text>
<text x="1130.2" y="681.9" font-size="12.6" text-anchor="middle">5</text>
<text x="1225.5" y="681.9" font-size="12.6" text-anchor="middle">10</text>
<text x="799" y="286.5" font-size="12.6" text-anchor="end">5</text>
<text x="799" y="381.8" font-size="12.6" text-anchor="end">0</text>
<text x="799" y="477.1" font-size="12.6" text-anchor="end">−5</text>
<text x="799" y="572.4" font-size="12.6" text-anchor="end">−10</text>
<text x="799" y="667.7" font-size="12.6" text-anchor="end">−15</text>
<text x="1034.4" y="699.8" font-size="16.8" text-anchor="middle" textLength="66.5" lengthAdjust="spacingAndGlyphs">UMAP_1</text>
<text x="770.3" y="434.2" font-size="16.8" text-anchor="middle" textLength="66.5" lengthAdjust="spacingAndGlyphs" transform="rotate(-90 770.3 434.2)">UMAP_2</text>
<path d="M1462.9 202.9V665.5H1923" fill="none" stroke="#000" stroke-width="1.9" stroke-linecap="square"/>
<path d="M1500.9 665.5v3.6M1596.2 665.5v3.6M1691.5 665.5v3.6M1786.8 665.5v3.6M1882.1 665.5v3.6M1462.9 281.9h-3.6M1462.9 377.2h-3.6M1462.9 472.5h-3.6M1462.9 567.8h-3.6M1462.9 663.1h-3.6" stroke="#000" stroke-width="1.3" fill="none"/>
<text x="1498.7" y="681.9" font-size="12.6" text-anchor="middle">−10</text>
<text x="1594" y="681.9" font-size="12.6" text-anchor="middle">−5</text>
<text x="1691.5" y="681.9" font-size="12.6" text-anchor="middle">0</text>
<text x="1786.8" y="681.9" font-size="12.6" text-anchor="middle">5</text>
<text x="1882.1" y="681.9" font-size="12.6" text-anchor="middle">10</text>
<text x="1455.6" y="286.5" font-size="12.6" text-anchor="end">5</text>
<text x="1455.6" y="381.8" font-size="12.6" text-anchor="end">0</text>
<text x="1455.6" y="477.1" font-size="12.6" text-anchor="end">−5</text>
<text x="1455.6" y="572.4" font-size="12.6" text-anchor="end">−10</text>
<text x="1455.6" y="667.7" font-size="12.6" text-anchor="end">−15</text>
<text x="1691" y="699.8" font-size="16.8" text-anchor="middle" textLength="66.5" lengthAdjust="spacingAndGlyphs">UMAP_1</text>
<text x="1426.9" y="434.2" font-size="16.8" text-anchor="middle" textLength="66.5" lengthAdjust="spacingAndGlyphs" transform="rotate(-90 1426.9 434.2)">UMAP_2</text>
<path d="M150.2 890V1352.6H610.3" fill="none" stroke="#000" stroke-width="1.9" stroke-linecap="square"/>
<path d="M188.2 1352.6v3.6M283.5 1352.6v3.6M378.8 1352.6v3.6M474.1 1352.6v3.6M569.4 1352.6v3.6M150.2 969h-3.6M150.2 1064.3h-3.6M150.2 1159.6h-3.6M150.2 1254.9h-3.6M150.2 1350.2h-3.6" stroke="#000" stroke-width="1.3" fill="none"/>
<text x="186" y="1369" font-size="12.6" text-anchor="middle">−10</text>
<text x="281.3" y="1369" font-size="12.6" text-anchor="middle">−5</text>
<text x="378.8" y="1369" font-size="12.6" text-anchor="middle">0</text>
<text x="474.1" y="1369" font-size="12.6" text-anchor="middle">5</text>
<text x="569.4" y="1369" font-size="12.6" text-anchor="middle">10</text>
<text x="142.9" y="973.6" font-size="12.6" text-anchor="end">5</text>
<text x="142.9" y="1068.9" font-size="12.6" text-anchor="end">0</text>
<text x="142.9" y="1164.2" font-size="12.6" text-anchor="end">−5</text>
<text x="142.9" y="1259.5" font-size="12.6" text-anchor="end">−10</text>
<text x="142.9" y="1354.8" font-size="12.6" text-anchor="end">−15</text>
<text x="378.3" y="1386.9" font-size="16.8" text-anchor="middle" textLength="66.5" lengthAdjust="spacingAndGlyphs">UMAP_1</text>
<text x="114.2" y="1121.3" font-size="16.8" text-anchor="middle" textLength="66.5" lengthAdjust="spacingAndGlyphs" transform="rotate(-90 114.2 1121.3)">UMAP_2</text>
<path d="M806.3 890V1352.6H1266.4" fill="none" stroke="#000" stroke-width="1.9" stroke-linecap="square"/>
<path d="M844.3 1352.6v3.6M939.6 1352.6v3.6M1034.9 1352.6v3.6M1130.2 1352.6v3.6M1225.5 1352.6v3.6M806.3 969h-3.6M806.3 1064.3h-3.6M806.3 1159.6h-3.6M806.3 1254.9h-3.6M806.3 1350.2h-3.6" stroke="#000" stroke-width="1.3" fill="none"/>
<text x="842.1" y="1369" font-size="12.6" text-anchor="middle">−10</text>
<text x="937.4" y="1369" font-size="12.6" text-anchor="middle">−5</text>
<text x="1034.9" y="1369" font-size="12.6" text-anchor="middle">0</text>
<text x="1130.2" y="1369" font-size="12.6" text-anchor="middle">5</text>
<text x="1225.5" y="1369" font-size="12.6" text-anchor="middle">10</text>
<text x="799" y="973.6" font-size="12.6" text-anchor="end">5</text>
<text x="799" y="1068.9" font-size="12.6" text-anchor="end">0</text>
<text x="799" y="1164.2" font-size="12.6" text-anchor="end">−5</text>
<text x="799" y="1259.5" font-size="12.6" text-anchor="end">−10</text>
<text x="799" y="1354.8" font-size="12.6" text-anchor="end">−15</text>
<text x="1034.4" y="1386.9" font-size="16.8" text-anchor="middle" textLength="66.5" lengthAdjust="spacingAndGlyphs">UMAP_1</text>
<text x="770.3" y="1121.3" font-size="16.8" text-anchor="middle" textLength="66.5" lengthAdjust="spacingAndGlyphs" transform="rotate(-90 770.3 1121.3)">UMAP_2</text>
<path d="M1462.9 890V1352.6H1923" fill="none" stroke="#000" stroke-width="1.9" stroke-linecap="square"/>
<path d="M1500.9 1352.6v3.6M1596.2 1352.6v3.6M1691.5 1352.6v3.6M1786.8 1352.6v3.6M1882.1 1352.6v3.6M1462.9 969h-3.6M1462.9 1064.3h-3.6M1462.9 1159.6h-3.6M1462.9 1254.9h-3.6M1462.9 1350.2h-3.6" stroke="#000" stroke-width="1.3" fill="none"/>
<text x="1498.7" y="1369" font-size="12.6" text-anchor="middle">−10</text>
<text x="1594" y="1369" font-size="12.6" text-anchor="middle">−5</text>
<text x="1691.5" y="1369" font-size="12.6" text-anchor="middle">0</text>
<text x="1786.8" y="1369" font-size="12.6" text-anchor="middle">5</text>
<text x="1882.1" y="1369" font-size="12.6" text-anchor="middle">10</text>
<text x="1455.6" y="973.6" font-size="12.6" text-anchor="end">5</text>
<text x="1455.6" y="1068.9" font-size="12.6" text-anchor="end">0</text>
<text x="1455.6" y="1164.2" font-size="12.6" text-anchor="end">−5</text>
<text x="1455.6" y="1259.5" font-size="12.6" text-anchor="end">−10</text>
<text x="1455.6" y="1354.8" font-size="12.6" text-anchor="end">−15</text>
<text x="1691" y="1386.9" font-size="16.8" text-anchor="middle" textLength="66.5" lengthAdjust="spacingAndGlyphs">UMAP_1</text>
<text x="1426.9" y="1121.3" font-size="16.8" text-anchor="middle" textLength="66.5" lengthAdjust="spacingAndGlyphs" transform="rotate(-90 1426.9 1121.3)">UMAP_2</text>
<rect x="632.8" y="318.2" width="48.6" height="243.1" fill="url(#cg)"/>
<text x="689.3" y="566.9" font-size="15.6">0</text>
<text x="689.3" y="517" font-size="15.6">1</text>
<text x="689.3" y="467.1" font-size="15.6">2</text>
<text x="689.3" y="417.2" font-size="15.6">3</text>
<text x="689.3" y="367.2" font-size="15.6">4</text>
<path d="M632.8 511.4h9.7M681.4 511.4h-9.7M632.8 461.5h9.7M681.4 461.5h-9.7M632.8 411.5h9.7M681.4 411.5h-9.7M632.8 361.6h9.7M681.4 361.6h-9.7" stroke="#fff" stroke-width="0.9" fill="none"/>
<rect x="1289" y="318.2" width="48.6" height="243.1" fill="url(#cg)"/>
<text x="1345.4" y="566.9" font-size="15.6">0</text>
<text x="1345.4" y="516.1" font-size="15.6">1</text>
<text x="1345.4" y="465.2" font-size="15.6">2</text>
<text x="1345.4" y="414.3" font-size="15.6">3</text>
<text x="1345.4" y="363.5" font-size="15.6">4</text>
<path d="M1289 510.4h9.7M1337.6 510.4h-9.7M1289 459.6h9.7M1337.6 459.6h-9.7M1289 408.7h9.7M1337.6 408.7h-9.7M1289 357.9h9.7M1337.6 357.9h-9.7" stroke="#fff" stroke-width="0.9" fill="none"/>
<rect x="1948.6" y="318.2" width="48.3" height="243.1" fill="url(#cg)"/>
<text x="2005" y="566.7" font-size="15.0">0</text>
<text x="2005" y="521.7" font-size="15.0">1</text>
<text x="2005" y="476.7" font-size="15.0">2</text>
<text x="2005" y="431.6" font-size="15.0">3</text>
<text x="2005" y="386.6" font-size="15.0">4</text>
<text x="2005" y="341.6" font-size="15.0">5</text>
<path d="M1948.6 516.3h9.7M1996.9 516.3h-9.7M1948.6 471.3h9.7M1996.9 471.3h-9.7M1948.6 426.2h9.7M1996.9 426.2h-9.7M1948.6 381.2h9.7M1996.9 381.2h-9.7M1948.6 336.2h9.7M1996.9 336.2h-9.7" stroke="#fff" stroke-width="0.9" fill="none"/>
<text x="2032.1" y="317.7" font-size="24" textLength="245.5" lengthAdjust="spacingAndGlyphs" transform="rotate(90 2032.1 317.7)">Normalized Expression</text>
<rect x="632.6" y="996.7" width="48.8" height="243.2" fill="url(#cg)"/>
<text x="689.3" y="1245.5" font-size="15.6">0</text>
<text x="689.3" y="1194.2" font-size="15.6">1</text>
<text x="689.3" y="1142.9" font-size="15.6">2</text>
<text x="689.3" y="1091.6" font-size="15.6">3</text>
<text x="689.3" y="1040.3" font-size="15.6">4</text>
<path d="M632.6 1188.6h9.7M681.4 1188.6h-9.7M632.6 1137.3h9.7M681.4 1137.3h-9.7M632.6 1086h9.7M681.4 1086h-9.7M632.6 1034.7h9.7M681.4 1034.7h-9.7" stroke="#fff" stroke-width="0.9" fill="none"/>
<rect x="1288.4" y="997" width="48.7" height="243.2" fill="url(#cg)"/>
<text x="1345" y="1245.8" font-size="15.6">0</text>
<text x="1345" y="1201" font-size="15.6">1</text>
<text x="1345" y="1156.2" font-size="15.6">2</text>
<text x="1345" y="1111.5" font-size="15.6">3</text>
<text x="1345" y="1066.7" font-size="15.6">4</text>
<text x="1345" y="1021.9" font-size="15.6">5</text>
<path d="M1288.4 1195.4h9.7M1337.1 1195.4h-9.7M1288.4 1150.6h9.7M1337.1 1150.6h-9.7M1288.4 1105.8h9.7M1337.1 1105.8h-9.7M1288.4 1061h9.7M1337.1 1061h-9.7M1288.4 1016.3h9.7M1337.1 1016.3h-9.7" stroke="#fff" stroke-width="0.9" fill="none"/>
<rect x="1949.2" y="997.4" width="47.5" height="235.9" fill="url(#cg)"/>
<text x="2004.8" y="1238.6" font-size="14.6">0</text>
<text x="2004.8" y="1191.7" font-size="14.6">1</text>
<text x="2004.8" y="1144.8" font-size="14.6">2</text>
<text x="2004.8" y="1097.9" font-size="14.6">3</text>
<text x="2004.8" y="1051" font-size="14.6">4</text>
<text x="2004.8" y="1004.1" font-size="14.6">5</text>
<path d="M1949.2 1186.4h9.7M1996.7 1186.4h-9.7M1949.2 1139.5h9.7M1996.7 1139.5h-9.7M1949.2 1092.6h9.7M1996.7 1092.6h-9.7M1949.2 1045.7h9.7M1996.7 1045.7h-9.7M1949.2 998.8h9.7M1996.7 998.8h-9.7" stroke="#fff" stroke-width="0.9" fill="none"/>
<text x="2032.7" y="996.9" font-size="24" textLength="245.5" lengthAdjust="spacingAndGlyphs" transform="rotate(90 2032.7 996.9)">Normalized Expression</text>
<path d="M165.1 1641V2202.3M152.5 2202.3H1003" stroke="#000" stroke-width="3.4" fill="none"/>
<path d="M165.1 2188.3h-8.2M165.1 2174.3h-8.2M165.1 2160.3h-8.2M165.1 2146.3h-8.2M165.1 2132.4h-8.2M165.1 2118.4h-8.2M165.1 2104.4h-8.2M165.1 2090.4h-8.2M165.1 2076.4h-8.2M165.1 2048.4h-8.2M165.1 2034.4h-8.2M165.1 2020.4h-8.2M165.1 2006.4h-8.2M165.1 1992.5h-8.2M165.1 1978.5h-8.2M165.1 1964.5h-8.2M165.1 1950.5h-8.2M165.1 1936.5h-8.2M165.1 1908.5h-8.2M165.1 1894.5h-8.2M165.1 1880.5h-8.2M165.1 1866.5h-8.2M165.1 1852.6h-8.2M165.1 1838.6h-8.2M165.1 1824.6h-8.2M165.1 1810.6h-8.2M165.1 1796.6h-8.2M165.1 1768.6h-8.2M165.1 1754.6h-8.2M165.1 1740.6h-8.2M165.1 1726.6h-8.2M165.1 1712.7h-8.2M165.1 1698.7h-8.2M165.1 1684.7h-8.2M165.1 1670.7h-8.2M165.1 1656.7h-8.2" stroke="#000" stroke-width="3" fill="none"/>
<path d="M165.1 2062.4h-12.8M165.1 1922.5h-12.8M165.1 1782.6h-12.8M165.1 1642.7h-12.8M197.4 2202.3v12.6M246.7 2202.3v12.6M296.1 2202.3v12.6M345.4 2202.3v12.6M394.7 2202.3v12.6M444 2202.3v12.6M493.4 2202.3v12.6M542.7 2202.3v12.6M624.6 2202.3v12.6M673.9 2202.3v12.6M723.3 2202.3v12.6M772.6 2202.3v12.6M821.9 2202.3v12.6M871.2 2202.3v12.6M920.6 2202.3v12.6M969.9 2202.3v12.6" stroke="#000" stroke-width="3.7" fill="none"/>
<text x="149.6" y="2210.9" font-size="24" font-weight="bold" text-anchor="end">0</text>
<text x="149.6" y="2072.2" font-size="24" font-weight="bold" text-anchor="end">1×10<tspan font-size="18.2" dy="-8.6">4</tspan></text>
<text x="149.6" y="1932.3" font-size="24" font-weight="bold" text-anchor="end">2×10<tspan font-size="18.2" dy="-8.6">4</tspan></text>
<text x="149.6" y="1792.4" font-size="24" font-weight="bold" text-anchor="end">3×10<tspan font-size="18.2" dy="-8.6">4</tspan></text>
<text x="149.6" y="1652.5" font-size="24" font-weight="bold" text-anchor="end">4×10<tspan font-size="18.2" dy="-8.6">4</tspan></text>
<text x="197.4" y="2239.7" font-size="24" font-weight="bold" text-anchor="middle">6</text>
<text x="246.7" y="2239.7" font-size="24" font-weight="bold" text-anchor="middle">8</text>
<text x="296.1" y="2239.7" font-size="24" font-weight="bold" text-anchor="middle">10</text>
<text x="345.4" y="2239.7" font-size="24" font-weight="bold" text-anchor="middle">12</text>
<text x="394.7" y="2239.7" font-size="24" font-weight="bold" text-anchor="middle">14</text>
<text x="444" y="2239.7" font-size="24" font-weight="bold" text-anchor="middle">16</text>
<text x="493.4" y="2239.7" font-size="24" font-weight="bold" text-anchor="middle">18</text>
<text x="542.7" y="2239.7" font-size="24" font-weight="bold" text-anchor="middle">20</text>
<text x="624.6" y="2239.7" font-size="24" font-weight="bold" text-anchor="middle">6</text>
<text x="673.9" y="2239.7" font-size="24" font-weight="bold" text-anchor="middle">8</text>
<text x="723.3" y="2239.7" font-size="24" font-weight="bold" text-anchor="middle">10</text>
<text x="772.6" y="2239.7" font-size="24" font-weight="bold" text-anchor="middle">12</text>
<text x="821.9" y="2239.7" font-size="24" font-weight="bold" text-anchor="middle">14</text>
<text x="871.2" y="2239.7" font-size="24" font-weight="bold" text-anchor="middle">16</text>
<text x="920.6" y="2239.7" font-size="24" font-weight="bold" text-anchor="middle">18</text>
<text x="969.9" y="2239.7" font-size="24" font-weight="bold" text-anchor="middle">20</text>
<rect x="230.3" y="2171.5" width="32.8" height="30.8" fill="#000"/>
<rect x="279.7" y="2070.8" width="32.8" height="131.5" fill="#000"/>
<rect x="329" y="1988.5" width="32.8" height="213.8" fill="#000"/>
<rect x="378.3" y="2031.2" width="32.8" height="171.1" fill="#000"/>
<rect x="427.6" y="1951.8" width="32.8" height="250.5" fill="#000"/>
<rect x="477" y="1770.7" width="32.8" height="431.6" fill="#000"/>
<rect x="526.3" y="2131.2" width="32.8" height="71.1" fill="#000"/>
<g fill="#fff" stroke="#000" stroke-width="2.1"><circle cx="186.6" cy="2199.6" r="4.4"/><circle cx="197.6" cy="2198.4" r="4.4"/><circle cx="208.9" cy="2199.6" r="4.4"/><circle cx="235.9" cy="2170.6" r="4.4"/><circle cx="247.2" cy="2169" r="4.4"/><circle cx="258.7" cy="2170.1" r="4.4"/><circle cx="285.1" cy="2064.9" r="4.4"/><circle cx="285.1" cy="2075.3" r="4.4"/><circle cx="307.8" cy="2070.6" r="4.4"/><circle cx="334.4" cy="1992.6" r="4.4"/><circle cx="345.9" cy="1984.4" r="4.4"/><circle cx="357.1" cy="1985.5" r="4.4"/><circle cx="383.6" cy="2034.4" r="4.4"/><circle cx="394.8" cy="2029.1" r="4.4"/><circle cx="406.4" cy="2029.1" r="4.4"/><circle cx="432.6" cy="1954.5" r="4.4"/><circle cx="444.5" cy="1947.6" r="4.4"/><circle cx="455.8" cy="1949.1" r="4.4"/><circle cx="481.8" cy="1760.3" r="4.4"/><circle cx="505.2" cy="1764.7" r="4.4"/><circle cx="493.5" cy="1787.2" r="4.4"/><circle cx="531.5" cy="2132" r="4.4"/><circle cx="543" cy="2128.8" r="4.4"/><circle cx="554.5" cy="2129" r="4.4"/><circle cx="613.4" cy="2200.9" r="4.4"/><circle cx="624.9" cy="2200.9" r="4.4"/><circle cx="636.2" cy="2200.9" r="4.4"/><circle cx="662.7" cy="2200.9" r="4.4"/><circle cx="674.2" cy="2200.9" r="4.4"/><circle cx="685.5" cy="2200.9" r="4.4"/><circle cx="712.1" cy="2200.9" r="4.4"/><circle cx="723.6" cy="2200.9" r="4.4"/><circle cx="734.9" cy="2200.9" r="4.4"/><circle cx="761.4" cy="2200.9" r="4.4"/><circle cx="772.9" cy="2200.9" r="4.4"/><circle cx="784.2" cy="2200.9" r="4.4"/><circle cx="810.7" cy="2200.9" r="4.4"/><circle cx="822.2" cy="2200.9" r="4.4"/><circle cx="833.5" cy="2200.9" r="4.4"/><circle cx="860" cy="2200.9" r="4.4"/><circle cx="871.5" cy="2200.9" r="4.4"/><circle cx="882.9" cy="2200.9" r="4.4"/><circle cx="909.4" cy="2200.9" r="4.4"/><circle cx="920.9" cy="2200.9" r="4.4"/><circle cx="932.2" cy="2200.9" r="4.4"/><circle cx="958.7" cy="2200.9" r="4.4"/><circle cx="970.2" cy="2200.9" r="4.4"/><circle cx="981.5" cy="2200.9" r="4.4"/></g>
<text x="238.2" y="1601.8" font-size="35.6" font-weight="bold" textLength="693.8" lengthAdjust="spacingAndGlyphs"><tspan font-style="italic">In Vivo</tspan> Infection with Transfected Strains</text>
<text x="309.6" y="1710.5" font-size="27" font-weight="bold" textLength="134.2" lengthAdjust="spacingAndGlyphs">Myb-M-HA</text>
<text x="729.5" y="1710.5" font-size="27" font-weight="bold" textLength="135.5" lengthAdjust="spacingAndGlyphs">Myb-M-KO</text>
<text x="62.8" y="1908.5" font-size="27" font-weight="bold" text-anchor="middle" textLength="374" lengthAdjust="spacingAndGlyphs" transform="rotate(-90 62.8 1908.5)">Relative Luminescence Units</text>
<text x="459.5" y="2276.9" font-size="27" font-weight="bold" textLength="249.5" lengthAdjust="spacingAndGlyphs">Days Post Infection</text>
<path d="M1286.4 1639.7V2201.4M1273.8 2201.4H2126" stroke="#000" stroke-width="3.4" fill="none"/>
<path d="M1286.4 2187.4h-8.2M1286.4 2173.4h-8.2M1286.4 2159.4h-8.2M1286.4 2145.4h-8.2M1286.4 2131.4h-8.2M1286.4 2117.4h-8.2M1286.4 2103.4h-8.2M1286.4 2089.4h-8.2M1286.4 2075.4h-8.2M1286.4 2047.4h-8.2M1286.4 2033.4h-8.2M1286.4 2019.4h-8.2M1286.4 2005.4h-8.2M1286.4 1991.4h-8.2M1286.4 1977.4h-8.2M1286.4 1963.4h-8.2M1286.4 1949.4h-8.2M1286.4 1935.4h-8.2M1286.4 1907.4h-8.2M1286.4 1893.4h-8.2M1286.4 1879.4h-8.2M1286.4 1865.4h-8.2M1286.4 1851.4h-8.2M1286.4 1837.4h-8.2M1286.4 1823.4h-8.2M1286.4 1809.4h-8.2M1286.4 1795.4h-8.2M1286.4 1767.4h-8.2M1286.4 1753.4h-8.2M1286.4 1739.4h-8.2M1286.4 1725.4h-8.2M1286.4 1711.4h-8.2M1286.4 1697.4h-8.2M1286.4 1683.4h-8.2M1286.4 1669.4h-8.2M1286.4 1655.4h-8.2" stroke="#000" stroke-width="3" fill="none"/>
<path d="M1286.4 2061.4h-12.8M1286.4 1921.4h-12.8M1286.4 1781.4h-12.8M1286.4 1641.4h-12.8M1318.4 2201.4v12.6M1367.7 2201.4v12.6M1417.1 2201.4v12.6M1466.4 2201.4v12.6M1515.7 2201.4v12.6M1565.1 2201.4v12.6M1614.4 2201.4v12.6M1663.7 2201.4v12.6M1745.6 2201.4v12.6M1794.9 2201.4v12.6M1844.1 2201.4v12.6M1893.4 2201.4v12.6M1942.7 2201.4v12.6M1991.9 2201.4v12.6M2041.2 2201.4v12.6M2090.5 2201.4v12.6" stroke="#000" stroke-width="3.7" fill="none"/>
<text x="1270.9" y="2210" font-size="24" font-weight="bold" text-anchor="end">0.0</text>
<text x="1270.9" y="2071.2" font-size="24" font-weight="bold" text-anchor="end">5.0×10<tspan font-size="18.2" dy="-8.6">5</tspan></text>
<text x="1270.9" y="1931.2" font-size="24" font-weight="bold" text-anchor="end">1.0×10<tspan font-size="18.2" dy="-8.6">6</tspan></text>
<text x="1270.9" y="1791.2" font-size="24" font-weight="bold" text-anchor="end">1.5×10<tspan font-size="18.2" dy="-8.6">6</tspan></text>
<text x="1270.9" y="1651.2" font-size="24" font-weight="bold" text-anchor="end">2.0×10<tspan font-size="18.2" dy="-8.6">6</tspan></text>
<text x="1318.4" y="2238.8" font-size="24" font-weight="bold" text-anchor="middle">6</text>
<text x="1367.7" y="2238.8" font-size="24" font-weight="bold" text-anchor="middle">8</text>
<text x="1417.1" y="2238.8" font-size="24" font-weight="bold" text-anchor="middle">10</text>
<text x="1466.4" y="2238.8" font-size="24" font-weight="bold" text-anchor="middle">12</text>
<text x="1515.7" y="2238.8" font-size="24" font-weight="bold" text-anchor="middle">14</text>
<text x="1565.1" y="2238.8" font-size="24" font-weight="bold" text-anchor="middle">16</text>
<text x="1614.4" y="2238.8" font-size="24" font-weight="bold" text-anchor="middle">19</text>
<text x="1663.7" y="2238.8" font-size="24" font-weight="bold" text-anchor="middle">22</text>
<text x="1745.6" y="2238.8" font-size="24" font-weight="bold" text-anchor="middle">6</text>
<text x="1794.9" y="2238.8" font-size="24" font-weight="bold" text-anchor="middle">8</text>
<text x="1844.1" y="2238.8" font-size="24" font-weight="bold" text-anchor="middle">10</text>
<text x="1893.4" y="2238.8" font-size="24" font-weight="bold" text-anchor="middle">12</text>
<text x="1942.7" y="2238.8" font-size="24" font-weight="bold" text-anchor="middle">14</text>
<text x="1991.9" y="2238.8" font-size="24" font-weight="bold" text-anchor="middle">16</text>
<text x="2041.2" y="2238.8" font-size="24" font-weight="bold" text-anchor="middle">19</text>
<text x="2090.5" y="2238.8" font-size="24" font-weight="bold" text-anchor="middle">22</text>
<rect x="1351.3" y="2180.5" width="32.8" height="20.9" fill="#000"/>
<rect x="1400.7" y="1984.4" width="32.8" height="217" fill="#000"/>
<rect x="1450" y="1973.5" width="32.8" height="227.9" fill="#000"/>
<rect x="1499.3" y="1779" width="32.8" height="422.4" fill="#000"/>
<rect x="1548.7" y="1950" width="32.8" height="251.4" fill="#000"/>
<rect x="1598" y="2172.5" width="32.8" height="28.9" fill="#000"/>
<rect x="1647.3" y="2194" width="32.8" height="7.4" fill="#000"/>
<g fill="#fff" stroke="#000" stroke-width="2.1"><circle cx="1306.9" cy="2201.4" r="4.4"/><circle cx="1318.5" cy="2201.4" r="4.4"/><circle cx="1330" cy="2201.4" r="4.4"/><circle cx="1356.9" cy="2179.4" r="4.4"/><circle cx="1367.9" cy="2178.6" r="4.4"/><circle cx="1379.4" cy="2179.4" r="4.4"/><circle cx="1405.8" cy="1984.2" r="4.4"/><circle cx="1417.3" cy="1979.5" r="4.4"/><circle cx="1428.9" cy="1979.5" r="4.4"/><circle cx="1455.2" cy="1974.3" r="4.4"/><circle cx="1466.8" cy="1966.3" r="4.4"/><circle cx="1478.3" cy="1968.8" r="4.4"/><circle cx="1504.7" cy="1770.2" r="4.4"/><circle cx="1527.2" cy="1779" r="4.4"/><circle cx="1504.4" cy="1787.2" r="4.4"/><circle cx="1553.8" cy="1951.5" r="4.4"/><circle cx="1565.6" cy="1943.2" r="4.4"/><circle cx="1576.6" cy="1945.2" r="4.4"/><circle cx="1603.5" cy="2171.2" r="4.4"/><circle cx="1614.5" cy="2169.8" r="4.4"/><circle cx="1626.1" cy="2170.4" r="4.4"/><circle cx="1652.2" cy="2192.4" r="4.4"/><circle cx="1663.7" cy="2191.8" r="4.4"/><circle cx="1675.5" cy="2192.4" r="4.4"/><circle cx="1734.2" cy="2201" r="4.4"/><circle cx="1745.8" cy="2201" r="4.4"/><circle cx="1757.2" cy="2201" r="4.4"/><circle cx="1783.5" cy="2201" r="4.4"/><circle cx="1795.1" cy="2201" r="4.4"/><circle cx="1806.5" cy="2201" r="4.4"/><circle cx="1832.7" cy="2201" r="4.4"/><circle cx="1844.3" cy="2201" r="4.4"/><circle cx="1855.7" cy="2201" r="4.4"/><circle cx="1882" cy="2201" r="4.4"/><circle cx="1893.6" cy="2201" r="4.4"/><circle cx="1905" cy="2201" r="4.4"/><circle cx="1931.3" cy="2201" r="4.4"/><circle cx="1942.9" cy="2201" r="4.4"/><circle cx="1954.3" cy="2201" r="4.4"/><circle cx="1980.5" cy="2201" r="4.4"/><circle cx="1992.1" cy="2201" r="4.4"/><circle cx="2003.5" cy="2201" r="4.4"/><circle cx="2029.8" cy="2201" r="4.4"/><circle cx="2041.4" cy="2201" r="4.4"/><circle cx="2052.8" cy="2201" r="4.4"/><circle cx="2079.1" cy="2201" r="4.4"/><circle cx="2090.7" cy="2201" r="4.4"/><circle cx="2102.1" cy="2201" r="4.4"/></g>
<text x="1359" y="1600.9" font-size="35.6" font-weight="bold" textLength="693.8" lengthAdjust="spacingAndGlyphs"><tspan font-style="italic">In Vivo</tspan> Infection with Transfected Strains</text>
<text x="1428.8" y="1709.6" font-size="27" font-weight="bold" textLength="135" lengthAdjust="spacingAndGlyphs">Myb-M-HA</text>
<text x="1793.6" y="1709.6" font-size="27" font-weight="bold" textLength="268.5" lengthAdjust="spacingAndGlyphs">Myb-M-KO-truncated</text>
<text x="1163.2" y="1915.5" font-size="27" font-weight="bold" text-anchor="middle" textLength="374" lengthAdjust="spacingAndGlyphs" transform="rotate(-90 1163.2 1915.5)">Relative Luminescence Units</text>
<text x="1579" y="2276" font-size="27" font-weight="bold" textLength="251" lengthAdjust="spacingAndGlyphs">Days Post Infection</text>
</svg>
</body></html>
